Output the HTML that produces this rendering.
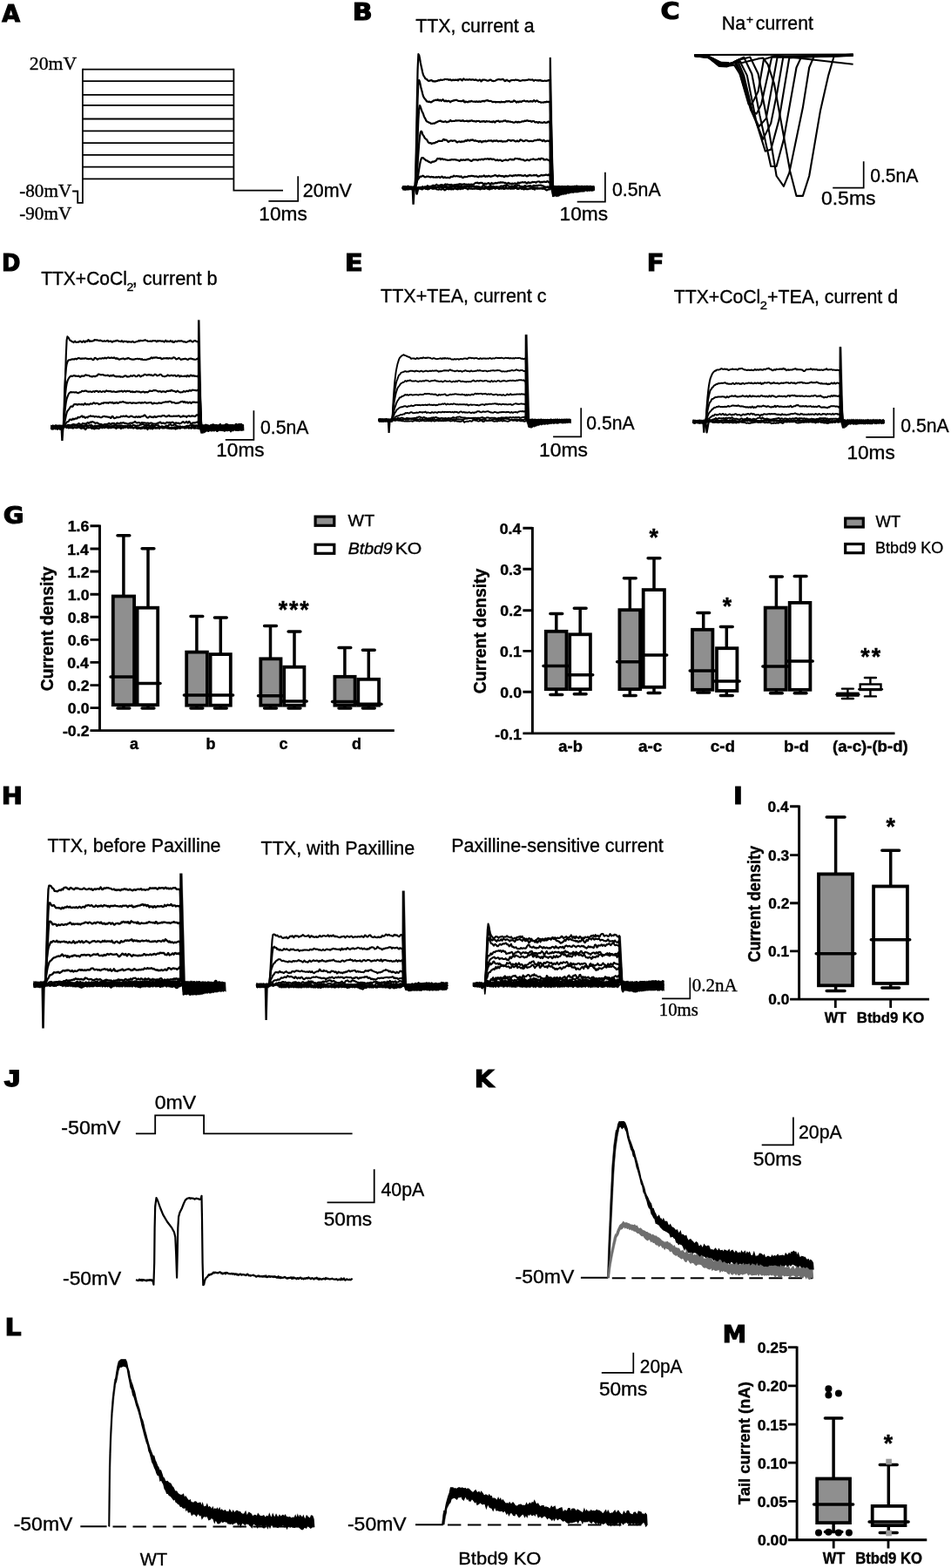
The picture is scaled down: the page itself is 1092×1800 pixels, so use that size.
<!DOCTYPE html>
<html><head><meta charset="utf-8"><title>Figure</title>
<style>
html,body{margin:0;padding:0;background:#fff}
svg{display:block}
.s{font-family:"Liberation Sans",sans-serif}
.r{font-family:"Liberation Serif",serif}
.h{font-family:"DejaVu Sans","Liberation Sans",sans-serif}
text{fill:#000}
</style></head><body>
<svg width="1092" height="1800" viewBox="0 0 1092 1800">
<rect width="1092" height="1800" fill="#fff"/>
<text stroke="#000" stroke-width="1.1" vector-effect="non-scaling-stroke" class="h" transform="translate(2.32 24.65) scale(0.2689 0.2589)" font-size="100" font-weight="bold">A</text>
<path d="M94.9 79.6H268.4M94.9 93.1H268.4M94.9 108.9H268.4M94.9 120.9H268.4M94.9 136.5H268.4M94.9 150.4H268.4M94.9 164.1H268.4M94.9 177.9H268.4M94.9 191.7H268.4M94.9 205.4H268.4" stroke="#000" stroke-width="1.8" fill="none"/>
<path d="M83.1 219.5L89.2 219.5L89.2 232.9L94.9 232.9L94.9 78.7" fill="none" stroke="#000" stroke-width="1.8" stroke-linejoin="miter" stroke-linecap="butt"/>
<path d="M268.4 78.8L268.4 218.6L325 218.6" fill="none" stroke="#000" stroke-width="1.8" stroke-linejoin="miter" stroke-linecap="butt"/>
<path d="M342.2 202.3L342.2 230.9L308.4 230.9" fill="none" stroke="#000" stroke-width="1.7" stroke-linejoin="miter" stroke-linecap="butt"/>
<text class="r" transform="translate(33.82 80.30) scale(1.0372 1)" font-size="21" stroke="#000" stroke-width="0.35">20mV</text>
<text class="r" transform="translate(22.21 226.30) scale(1.0080 1)" font-size="21" stroke="#000" stroke-width="0.35">-80mV</text>
<text class="r" transform="translate(22.21 252.20) scale(1.0080 1)" font-size="21" stroke="#000" stroke-width="0.35">-90mV</text>
<text class="s" transform="translate(347.72 226.20) scale(1.0003 1)" font-size="21.5" stroke="#000" stroke-width="0.35">20mV</text>
<text class="s" transform="translate(297.30 252.70) scale(1.0557 1)" font-size="21.5" stroke="#000" stroke-width="0.35">10ms</text>
<text stroke="#000" stroke-width="1.1" vector-effect="non-scaling-stroke" class="h" transform="translate(404.86 23.15) scale(0.3017 0.2589)" font-size="100" font-weight="bold">B</text>
<text class="s" transform="translate(477.32 36.90) scale(0.9920 1)" font-size="21.5" stroke="#000" stroke-width="0.35">TTX, current a</text>
<path d="M462.1 215.9L462.9 215.3L463.7 214.7L464.5 214.7L465.3 215L466.1 215.2L466.9 215.3L467.7 214.6L468.5 214.9L469.3 215.5L470.1 215.2L470.9 215.2L471.7 214.8L472.5 215L473.3 215.5L474.1 215.2L474.9 214.9L475.7 215.2L476.4 215L477.2 201L478 164.2L478.8 118.1L479.6 79.6L480.4 62.2L481.2 63.3L482 66.9L482.8 71.7L483.6 75.7L484.4 79.3L485.2 83L486 86L486.8 87.5L487.6 88.7L488.4 90.2L489.2 90.6L490 90.9L490.8 92L491.6 92.5L492.4 92.9L493.2 92.7L494 92.3L494.8 92.4L495.6 92.1L496.4 92.6L497.2 93.4L498 93.2L498.8 93.3L499.6 93.6L500.4 93.2L501.2 93.1L502 92.9L502.8 92.5L503.6 92L504.4 92.5L505.2 91.9L506 91.5L506.8 91.8L507.6 91.9L508.4 91.7L509.2 91.5L510 91.5L510.8 90.9L511.6 91L512.4 91L513.2 91.3L514 91.1L514.8 91.3L515.6 91.9L516.4 91.3L517.2 91.4L518 92.1L518.8 92.4L519.6 91.7L520.4 91.5L521.2 92.1L522 92L522.8 91.6L523.6 91.9L524.4 91.9L525.2 91.5L526 92.4L526.8 91.5L527.6 91L528.4 90.9L529.2 91.1L530 92L530.8 92.4L531.6 91.2L532.4 90.4L533.2 91.2L534 91.6L534.8 91.6L535.6 91.4L536.4 91.3L537.2 91.6L538 91.6L538.8 91.2L539.6 91.2L540.4 91.6L541.2 91.6L542 91.4L542.8 91.3L543.6 91.3L544.4 92L545.2 92L546 91.3L546.8 91.6L547.6 92.2L548.4 92.4L549.2 92.6L550 92.1L550.8 91.5L551.6 92L552.4 93.4L553.2 93L554 91.7L554.8 91.6L555.6 91.6L556.4 91.5L557.2 91.7L558 92.1L558.8 92.5L559.6 92.6L560.4 92.7L561.2 92.5L562 92L562.8 91.5L563.6 91.5L564.4 92.3L565.2 92.9L566 92.8L566.8 93.1L567.6 93L568.4 92.8L569.2 92.5L570 91.8L570.8 91.5L571.6 91.3L572.4 91.2L573.2 91.2L574 91.3L574.8 91.4L575.6 91.3L576.4 91.2L577.2 90.8L578 91.2L578.8 92.1L579.6 93.1L580.4 92.9L581.2 92L582 91.7L582.8 92.4L583.6 92.9L584.4 92.8L585.2 93.6L586 92.6L586.8 92.1L587.6 92.2L588.4 92L589.2 91.9L590 92L590.8 92.2L591.6 91.6L592.4 91.6L593.2 91.8L594 91.8L594.8 91.8L595.6 92.4L596.4 92.7L597.2 92.8L598 92.7L598.8 92.5L599.6 92.2L600.4 92.1L601.2 92.1L602 92.3L602.8 92.2L603.6 92.2L604.4 91.9L605.2 92L606 91.8L606.8 91.3L607.6 91.3L608.4 91.5L609.2 91.7L610 91.7L610.8 91.5L611.6 91.4L612.4 92.4L613.2 92.8L614 92L614.8 91.8L615.6 92L616.4 92.3L617.2 92.4L618 92L618.8 92.7L619.6 92.1L620.4 91.8L621.2 92.6L622 92.8L622.8 92.7L623.6 93L624.4 92.9L625.2 92.7L626 92.7L626.8 92.9L627.6 92.8L628.4 92.5L629.2 92.6L630 92L630.8 92L631.6 92.5L635.1 225.1L635.9 224.6L636.7 224.1L637.5 223.6L638.3 223.2L639.1 223.3L639.9 222.4L640.7 221.7L641.5 221.6L642.3 221L643.1 220.5L643.9 220.7L644.7 220.8L645.5 220.3L646.3 220.4L647.1 220.5L647.9 219.3L648.7 219.7L649.5 220.5L650.3 219.7L651.1 218.7L651.9 218.6L652.7 218.5L653.5 218.2L654.3 218.9L655.1 219L655.9 218.4L656.7 218.3L657.5 218.1L658.3 218.2L659.1 218.4L659.9 217.9L660.7 217.5L661.5 218.4L662.3 218.5L663.1 217.5L663.9 218L664.7 218L665.5 216.8L666.3 217L667.1 217L667.9 216.5L668.7 216.9L669.5 217L670.3 216.6L671.1 216.4L671.9 216.4L672.7 217L673.5 216.9L674.3 216.3L675.1 217.2L675.9 217.2L676.7 217L677.5 217.6L678.3 217L679.1 216L679.9 216.2L680.7 216.9L681.5 217.1L682.3 216.8" fill="none" stroke="#000" stroke-width="2.2" stroke-linejoin="round" stroke-linecap="butt"/>
<path d="M462.1 217.2L462.9 216.5L463.7 216.4L464.5 217.2L465.3 217.7L466.1 216.4L466.9 216.1L467.7 216.7L468.5 216.6L469.3 216.4L470.1 216L470.9 216.5L471.7 216.6L472.5 216.2L473.3 216.3L474.1 216.2L474.9 216.7L475.7 217.1L476.4 216.7L477.2 206.8L478 180.1L478.8 145.1L479.6 112.9L480.4 93.7L481.2 91.9L482 93.9L482.8 97.7L483.6 101.6L484.4 104.2L485.2 107.5L486 110.5L486.8 111.9L487.6 113.2L488.4 114.1L489.2 114.9L490 116.5L490.8 116.3L491.6 116.9L492.4 116.9L493.2 116.6L494 117.3L494.8 117.5L495.6 117L496.4 116.5L497.2 116L498 115.4L498.8 115.3L499.6 115.1L500.4 114.7L501.2 114.9L502 115.1L502.8 114.2L503.6 115.1L504.4 115.6L505.2 114.6L506 115.2L506.8 115.8L507.6 115L508.4 114.2L509.2 114.9L510 116L510.8 116.3L511.6 115.6L512.4 115.7L513.2 116.4L514 116.1L514.8 115.8L515.6 115.9L516.4 116.7L517.2 117.3L518 116.5L518.8 116L519.6 116L520.4 115.4L521.2 115.2L522 115.3L522.8 115L523.6 114.7L524.4 114.9L525.2 115.4L526 115.7L526.8 116L527.6 116L528.4 116.1L529.2 116.1L530 116L530.8 116.1L531.6 115.3L532.4 115.3L533.2 117.2L534 117.5L534.8 116.5L535.6 116.8L536.4 117.1L537.2 117.3L538 116.6L538.8 116.4L539.6 116.7L540.4 116.4L541.2 115.9L542 116.2L542.8 116.5L543.6 116.7L544.4 116.7L545.2 116.5L546 116.9L546.8 116.6L547.6 116.3L548.4 117L549.2 116.9L550 116.3L550.8 116.6L551.6 116.9L552.4 116.6L553.2 116.3L554 116.2L554.8 115.8L555.6 116.1L556.4 116.4L557.2 115.5L558 115.5L558.8 115.4L559.6 115L560.4 115.8L561.2 115.6L562 116.1L562.8 116L563.6 115.9L564.4 116.4L565.2 116.9L566 117.2L566.8 116.9L567.6 117L568.4 116.9L569.2 117.5L570 117L570.8 117L571.6 117.2L572.4 117.2L573.2 117L574 117.4L574.8 117.3L575.6 116.7L576.4 117.2L577.2 117L578 117.2L578.8 117.1L579.6 117.3L580.4 116.8L581.2 116.3L582 116.2L582.8 116.3L583.6 116.4L584.4 115.9L585.2 116.4L586 116.9L586.8 117.1L587.6 116.7L588.4 116.8L589.2 116.4L590 115.4L590.8 115.7L591.6 116.2L592.4 116.9L593.2 117.6L594 116.8L594.8 116.6L595.6 117.3L596.4 116.7L597.2 116.3L598 116.9L598.8 116.9L599.6 116L600.4 116L601.2 115.7L602 115.6L602.8 116L603.6 116.3L604.4 116.4L605.2 115.9L606 116.4L606.8 116.6L607.6 116.6L608.4 116.4L609.2 116.1L610 116.4L610.8 116.4L611.6 116.6L612.4 115.9L613.2 115.2L614 115.8L614.8 116.6L615.6 116.1L616.4 115.4L617.2 115.8L618 116.6L618.8 117L619.6 117L620.4 117.2L621.2 117.7L622 117.7L622.8 117.5L623.6 117.5L624.4 117.7L625.2 117L626 117.2L626.8 117.3L627.6 116.7L628.4 116.8L629.2 117.1L630 116.9L630.8 116.9L631.6 116.5L635.1 223.4L635.9 222.9L636.7 222.3L637.5 221.7L638.3 221.2L639.1 221.3L639.9 221L640.7 220.5L641.5 219.8L642.3 219.6L643.1 219.6L643.9 219.8L644.7 220.1L645.5 219.1L646.3 218.8L647.1 218.9L647.9 218.6L648.7 218.5L649.5 217.6L650.3 218L651.1 218.6L651.9 217.7L652.7 216.7L653.5 216.8L654.3 217L655.1 216.9L655.9 217.5L656.7 218L657.5 217.6L658.3 217.5L659.1 217.9L659.9 217.2L660.7 216.2L661.5 216.6L662.3 217.3L663.1 217.8L663.9 218L664.7 217.4L665.5 217.4L666.3 216.8L667.1 216.2L667.9 216.4L668.7 216.9L669.5 217.2L670.3 215.5L671.1 215.7L671.9 216.4L672.7 216.2L673.5 216.3L674.3 216.1L675.1 216.5L675.9 216.4L676.7 215.9L677.5 216.3L678.3 216.7L679.1 216.2L679.9 216.3L680.7 216.1L681.5 216.5L682.3 216.7" fill="none" stroke="#000" stroke-width="2.2" stroke-linejoin="round" stroke-linecap="butt"/>
<path d="M462.1 215.2L462.9 215.7L463.7 216.1L464.5 216.1L465.3 215.3L466.1 215.3L466.9 216L467.7 216.1L468.5 216L469.3 215.2L470.1 215.5L470.9 215.7L471.7 215.4L472.5 215.2L473.3 215.2L474.1 215.5L474.9 215.6L475.7 216.5L476.4 215.5L477.2 210.6L478 197L478.8 177.7L479.6 156.2L480.4 137.2L481.2 124.6L482 121.1L482.8 122.7L483.6 125.1L484.4 127.4L485.2 129L486 130.8L486.8 133.4L487.6 135.1L488.4 136.3L489.2 138.2L490 139.2L490.8 139.7L491.6 140L492.4 140.7L493.2 140.8L494 141.2L494.8 142L495.6 141.9L496.4 141.9L497.2 141.7L498 141.6L498.8 141.7L499.6 141.2L500.4 140.6L501.2 140.4L502 140L502.8 139.5L503.6 139.2L504.4 138.9L505.2 138.9L506 138.6L506.8 139.3L507.6 139.7L508.4 139.7L509.2 139.9L510 139.8L510.8 139.5L511.6 139.2L512.4 140.1L513.2 140.3L514 140L514.8 139.6L515.6 139.6L516.4 139.1L517.2 138L518 138.7L518.8 139.2L519.6 139L520.4 139L521.2 138.8L522 139L522.8 138.7L523.6 138.1L524.4 138.6L525.2 138.5L526 138.3L526.8 138.5L527.6 138.4L528.4 138.5L529.2 139L530 138.6L530.8 138.8L531.6 138.2L532.4 138.8L533.2 139.2L534 139L534.8 139L535.6 138.8L536.4 138.7L537.2 139.3L538 139.3L538.8 138.6L539.6 139.1L540.4 138.7L541.2 138.4L542 138.4L542.8 139L543.6 139.1L544.4 138.9L545.2 139.3L546 139.4L546.8 139.6L547.6 138.9L548.4 139L549.2 139L550 138.8L550.8 139.6L551.6 139.9L552.4 139.5L553.2 139.3L554 139.6L554.8 139.2L555.6 139.1L556.4 139.4L557.2 140L558 139.5L558.8 139.1L559.6 139.5L560.4 139.5L561.2 139.4L562 139.3L562.8 140L563.6 139.9L564.4 139.7L565.2 140.3L566 139.5L566.8 139.2L567.6 140.2L568.4 140.6L569.2 139.6L570 138.9L570.8 139L571.6 138.8L572.4 138.7L573.2 139.6L574 139.9L574.8 139.4L575.6 139.3L576.4 139.5L577.2 139.5L578 138.7L578.8 138.7L579.6 138.6L580.4 138.4L581.2 139.1L582 139.7L582.8 139.2L583.6 139.2L584.4 139.6L585.2 139.6L586 139.6L586.8 140L587.6 140L588.4 140.1L589.2 140.6L590 140.5L590.8 140.6L591.6 140.2L592.4 139.6L593.2 140.2L594 140.6L594.8 139.9L595.6 139.9L596.4 140.5L597.2 140.3L598 140.1L598.8 139.7L599.6 139.3L600.4 139.4L601.2 139.4L602 139L602.8 138.6L603.6 139L604.4 138.8L605.2 138.2L606 138.6L606.8 139L607.6 138.9L608.4 139L609.2 138.8L610 139.6L610.8 139.8L611.6 139L612.4 139L613.2 139.1L614 140.2L614.8 140.4L615.6 140.2L616.4 140.1L617.2 140.5L618 141L618.8 140L619.6 140.1L620.4 140.6L621.2 140.5L622 140.8L622.8 140.9L623.6 140.7L624.4 140.4L625.2 140.1L626 140.7L626.8 141L627.6 140.6L628.4 140.6L629.2 139.8L630 139.5L630.8 140.5L631.6 140.3L635.1 222.6L635.9 221.7L636.7 220.8L637.5 220.9L638.3 221L639.1 221.1L639.9 221.1L640.7 220.4L641.5 219.9L642.3 219.6L643.1 219.2L643.9 218.9L644.7 219.2L645.5 219L646.3 218.5L647.1 218.5L647.9 218.4L648.7 218.1L649.5 217.4L650.3 217.5L651.1 218.1L651.9 217.9L652.7 218L653.5 217.2L654.3 217.9L655.1 218.5L655.9 217.7L656.7 216.9L657.5 217L658.3 217.7L659.1 217.3L659.9 217.2L660.7 217.7L661.5 217.5L662.3 216.7L663.1 217.2L663.9 217.6L664.7 217L665.5 217.7L666.3 217.8L667.1 216.9L667.9 216.9L668.7 216.8L669.5 216.8L670.3 216.9L671.1 216.6L671.9 216.4L672.7 216.7L673.5 216.9L674.3 217L675.1 217.1L675.9 217L676.7 216.9L677.5 216.7L678.3 216.4L679.1 216.9L679.9 216.2L680.7 216L681.5 217.8L682.3 217" fill="none" stroke="#000" stroke-width="2.2" stroke-linejoin="round" stroke-linecap="butt"/>
<path d="M462.1 216.9L462.9 216L463.7 215L464.5 214.8L465.3 215.5L466.1 215.9L466.9 215.6L467.7 215.9L468.5 216L469.3 216.1L470.1 216L470.9 215.2L471.7 215.7L472.5 215.3L473.3 215.2L474.1 216L474.9 215.5L475.7 215.5L476.4 215.7L477.2 213.6L478 207.6L478.8 198.5L479.6 187.4L480.4 175.9L481.2 165L482 156.7L482.8 151.8L483.6 150.6L484.4 151.4L485.2 154L486 155.3L486.8 156.4L487.6 158.2L488.4 159.1L489.2 159.7L490 160.2L490.8 161.6L491.6 163.2L492.4 163.7L493.2 164.3L494 164.1L494.8 164.3L495.6 165.1L496.4 164.5L497.2 164.4L498 164.4L498.8 164.1L499.6 164.1L500.4 163.2L501.2 163.2L502 163.1L502.8 162.2L503.6 161.9L504.4 161.7L505.2 161.9L506 161.9L506.8 162L507.6 162L508.4 161L509.2 159.9L510 160.1L510.8 160.8L511.6 160.6L512.4 160.7L513.2 161.2L514 162.1L514.8 162.9L515.6 162.5L516.4 161.9L517.2 161.5L518 161.4L518.8 161.5L519.6 161.9L520.4 161.5L521.2 161.5L522 161.4L522.8 161.5L523.6 162.2L524.4 163.3L525.2 163.5L526 162.7L526.8 162.5L527.6 162.3L528.4 163L529.2 163.1L530 162.3L530.8 162.7L531.6 162.6L532.4 162.4L533.2 162.3L534 161.6L534.8 161.2L535.6 161.8L536.4 161.4L537.2 160.5L538 161.2L538.8 161.4L539.6 161.6L540.4 160.6L541.2 160.7L542 161L542.8 160.3L543.6 161L544.4 161.7L545.2 161.7L546 161.2L546.8 161.7L547.6 162L548.4 161.8L549.2 162.5L550 162.9L550.8 161.9L551.6 161.8L552.4 162.8L553.2 163.4L554 162.6L554.8 162L555.6 162.4L556.4 162.1L557.2 161.6L558 162.4L558.8 162.4L559.6 161.9L560.4 161.8L561.2 161.3L562 161.5L562.8 161.6L563.6 161.3L564.4 161.3L565.2 162.3L566 162.4L566.8 161.6L567.6 161.4L568.4 161.8L569.2 161.7L570 161.2L570.8 161.5L571.6 162.1L572.4 162.4L573.2 161.8L574 161.8L574.8 162.2L575.6 161.7L576.4 162.2L577.2 162.7L578 162.3L578.8 162.4L579.6 162.3L580.4 162.5L581.2 162.2L582 162.2L582.8 161.4L583.6 160.7L584.4 161L585.2 160.9L586 161.5L586.8 161.8L587.6 161.3L588.4 161L589.2 161.2L590 161.2L590.8 161.8L591.6 162.1L592.4 162.4L593.2 162L594 161.5L594.8 162.3L595.6 162.3L596.4 161.9L597.2 160.5L598 160.3L598.8 161L599.6 161.2L600.4 161.9L601.2 162.2L602 162L602.8 161.5L603.6 161.1L604.4 161.1L605.2 161.3L606 161.6L606.8 162.2L607.6 162.1L608.4 162.2L609.2 161.8L610 161.8L610.8 162.2L611.6 162.2L612.4 162L613.2 161.3L614 161.1L614.8 161.1L615.6 161.1L616.4 160.8L617.2 160.4L618 160.6L618.8 160.8L619.6 160.2L620.4 160.5L621.2 160.9L622 161.3L622.8 162L623.6 161.5L624.4 160.7L625.2 161.7L626 162.4L626.8 162.1L627.6 161.8L628.4 161.7L629.2 161.7L630 161.9L630.8 161.6L631.6 161.9L635.1 218.8L635.9 218.8L636.7 218.4L637.5 217.7L638.3 218.6L639.1 218.8L639.9 218.2L640.7 218L641.5 218.2L642.3 218L643.1 216.8L643.9 216.8L644.7 216.3L645.5 215.3L646.3 216.9L647.1 217.9L647.9 217.1L648.7 216.6L649.5 216.7L650.3 217L651.1 216.6L651.9 215.9L652.7 215.9L653.5 216.2L654.3 216.4L655.1 216.2L655.9 216.3L656.7 216.1L657.5 215.7L658.3 215.8L659.1 215.4L659.9 216.1L660.7 216.3L661.5 215.4L662.3 215.5L663.1 215.5L663.9 215.7L664.7 216.3L665.5 216.4L666.3 215.7L667.1 215.3L667.9 216.3L668.7 216.3L669.5 216L670.3 216.6L671.1 215.7L671.9 215.5L672.7 216.3L673.5 216.2L674.3 216.5L675.1 216.3L675.9 215.7L676.7 215.8L677.5 215.6L678.3 215.5L679.1 214.9L679.9 215.4L680.7 215.9L681.5 215.5L682.3 215.8" fill="none" stroke="#000" stroke-width="2.2" stroke-linejoin="round" stroke-linecap="butt"/>
<path d="M462.1 214.9L462.9 215.9L463.7 215.7L464.5 214.9L465.3 216.1L466.1 216.9L466.9 216.7L467.7 216.2L468.5 215.8L469.3 216L470.1 216.1L470.9 215.8L471.7 215.1L472.5 214.9L473.3 214.9L474.1 215.7L474.9 216.1L475.7 215.5L476.4 215.6L477.2 214.9L478 212.6L478.8 209.1L479.6 204.7L480.4 199.3L481.2 194.1L482 189.2L482.8 185.2L483.6 182.6L484.4 181L485.2 181L486 181.3L486.8 182.2L487.6 182.9L488.4 183.2L489.2 184.2L490 184.3L490.8 184.6L491.6 185.3L492.4 185.8L493.2 185.9L494 186.5L494.8 186.8L495.6 186.4L496.4 185.7L497.2 185.7L498 185.6L498.8 185.4L499.6 184.8L500.4 184.6L501.2 183.8L502 182.3L502.8 181.9L503.6 182.4L504.4 182.1L505.2 181.9L506 183L506.8 182.5L507.6 182.2L508.4 182.5L509.2 183.2L510 182.8L510.8 182.8L511.6 183.4L512.4 183.5L513.2 183.5L514 184L514.8 184L515.6 183.7L516.4 183.5L517.2 183.6L518 183.4L518.8 183L519.6 183.2L520.4 183.3L521.2 183.2L522 183L522.8 183.4L523.6 183.4L524.4 183.7L525.2 183.8L526 184L526.8 184.5L527.6 184.8L528.4 184.1L529.2 183.3L530 183.7L530.8 183.8L531.6 183.6L532.4 183.4L533.2 183.8L534 184L534.8 183.3L535.6 183.2L536.4 183.5L537.2 182.9L538 183.1L538.8 183.8L539.6 184L540.4 184.6L541.2 185L542 184.5L542.8 183.9L543.6 183.2L544.4 183.5L545.2 183.3L546 183.3L546.8 183.3L547.6 183.5L548.4 184.1L549.2 183.7L550 183L550.8 183L551.6 183.5L552.4 183.1L553.2 182.6L554 182.8L554.8 183.5L555.6 182.7L556.4 182.6L557.2 182.4L558 182.5L558.8 182.6L559.6 182.1L560.4 182.1L561.2 182.8L562 182.9L562.8 182.2L563.6 182.3L564.4 182.6L565.2 183.2L566 182.6L566.8 182.6L567.6 183.1L568.4 183.5L569.2 184.2L570 184L570.8 183.3L571.6 183.6L572.4 184.3L573.2 184L574 183.6L574.8 183.7L575.6 184.4L576.4 184.9L577.2 184.7L578 184.2L578.8 184L579.6 183.8L580.4 183.4L581.2 183.5L582 183.9L582.8 184.2L583.6 183.9L584.4 183.4L585.2 182.8L586 182.7L586.8 182.9L587.6 183.5L588.4 183.1L589.2 183.4L590 183.4L590.8 182.6L591.6 181.9L592.4 182L593.2 182.2L594 182.1L594.8 182.3L595.6 182.7L596.4 182.4L597.2 182.4L598 183.1L598.8 183.2L599.6 183.4L600.4 183.3L601.2 183.4L602 184.2L602.8 184.6L603.6 184.2L604.4 184L605.2 183.2L606 183.5L606.8 183.9L607.6 184.3L608.4 183.8L609.2 183.1L610 183L610.8 182.9L611.6 182.7L612.4 182.4L613.2 182.8L614 183.1L614.8 183.4L615.6 183.2L616.4 183L617.2 183.2L618 182.5L618.8 182.1L619.6 182.8L620.4 183.1L621.2 181.9L622 181.7L622.8 182L623.6 182L624.4 183.3L625.2 183.2L626 183.3L626.8 183.5L627.6 182.7L628.4 183L629.2 183.7L630 183.8L630.8 184.4L631.6 184.2L635.1 218.8L635.9 218.6L636.7 217.9L637.5 217.7L638.3 218L639.1 217.4L639.9 216.9L640.7 217.7L641.5 217.3L642.3 216.8L643.1 217.4L643.9 217.8L644.7 218L645.5 217.2L646.3 217.3L647.1 217.4L647.9 217.6L648.7 218.3L649.5 217.5L650.3 217.2L651.1 217.2L651.9 216.6L652.7 216.9L653.5 217.3L654.3 217.2L655.1 217.4L655.9 217.6L656.7 217.5L657.5 217L658.3 216.6L659.1 216.8L659.9 216.7L660.7 216.4L661.5 217.1L662.3 217.3L663.1 217.3L663.9 216.9L664.7 216.2L665.5 216.3L666.3 216.1L667.1 216.2L667.9 216.3L668.7 216.2L669.5 216.9L670.3 217.2L671.1 216.3L671.9 215.9L672.7 216.4L673.5 216.8L674.3 216.3L675.1 216.4L675.9 216.1L676.7 215.6L677.5 216.7L678.3 216L679.1 215.3L679.9 216.6L680.7 216.6L681.5 215.9L682.3 215.7" fill="none" stroke="#000" stroke-width="2.2" stroke-linejoin="round" stroke-linecap="butt"/>
<path d="M462.1 214.5L462.9 214.7L463.7 214.8L464.5 214.2L465.3 214L466.1 214.5L466.9 214.5L467.7 214.3L468.5 213.6L469.3 214.2L470.1 215.2L470.9 215.8L471.7 215.8L472.5 215.5L473.3 215.5L474.1 214.8L474.9 214.8L475.7 214.5L476.4 214.7L477.2 213.1L478 210L478.8 207.5L479.6 206L480.4 205.3L481.2 204.5L482 203L482.8 202.5L483.6 202.8L484.4 202.5L485.2 201.7L486 201.9L486.8 202.5L487.6 203.2L488.4 203.3L489.2 203L490 202.6L490.8 202.7L491.6 202.7L492.4 202.6L493.2 203.1L494 203.5L494.8 203.2L495.6 202.9L496.4 203.3L497.2 203L498 203.6L498.8 203.5L499.6 203.5L500.4 203.7L501.2 203.1L502 203.6L502.8 203.3L503.6 202.9L504.4 203.3L505.2 204L506 203.6L506.8 202.8L507.6 202.6L508.4 203.3L509.2 204.2L510 203.6L510.8 203.3L511.6 203.8L512.4 204.1L513.2 203.9L514 204L514.8 203.7L515.6 204L516.4 204.3L517.2 203.2L518 202.9L518.8 202.9L519.6 203L520.4 202.4L521.2 201.7L522 202.2L522.8 202.5L523.6 202.3L524.4 202.1L525.2 202.3L526 202.3L526.8 202.3L527.6 202.8L528.4 202.9L529.2 202.3L530 202.8L530.8 203.8L531.6 203.9L532.4 203.7L533.2 202.9L534 202.8L534.8 203.2L535.6 203L536.4 203L537.2 202.5L538 202.2L538.8 202.2L539.6 202.3L540.4 202.1L541.2 201.8L542 201.9L542.8 202.1L543.6 202.2L544.4 202.3L545.2 202.7L546 202.5L546.8 202.3L547.6 202.5L548.4 203.1L549.2 203.3L550 202.8L550.8 202.2L551.6 202.5L552.4 202.8L553.2 202.3L554 202.5L554.8 202.4L555.6 201.4L556.4 201.8L557.2 202.9L558 202.7L558.8 202.1L559.6 202.7L560.4 202.3L561.2 201.8L562 202.1L562.8 202.6L563.6 202.8L564.4 202.4L565.2 202.3L566 202L566.8 201.8L567.6 201.4L568.4 201L569.2 201.3L570 201.8L570.8 202.3L571.6 202.6L572.4 201.5L573.2 201.4L574 201.9L574.8 201.9L575.6 202.3L576.4 202.2L577.2 202.1L578 202.4L578.8 203.2L579.6 202.7L580.4 201.8L581.2 201.9L582 202.5L582.8 202.4L583.6 202.3L584.4 202L585.2 201.3L586 201.5L586.8 201.6L587.6 202L588.4 202.3L589.2 201.4L590 201.5L590.8 201.7L591.6 201L592.4 201.1L593.2 201.7L594 201.4L594.8 201L595.6 200.9L596.4 201.5L597.2 201.2L598 201.1L598.8 201.7L599.6 201.5L600.4 201.8L601.2 201.8L602 201.4L602.8 201L603.6 201.6L604.4 202.2L605.2 202.4L606 201.6L606.8 201.8L607.6 201.2L608.4 200.8L609.2 201.3L610 201.6L610.8 201.5L611.6 201.5L612.4 201.4L613.2 200.8L614 201.5L614.8 201.2L615.6 200.8L616.4 201.3L617.2 202.2L618 202.6L618.8 202.2L619.6 202.2L620.4 201.6L621.2 201.2L622 200.8L622.8 201.5L623.6 201.5L624.4 201.1L625.2 201.1L626 200.9L626.8 200.6L627.6 200.5L628.4 201.2L629.2 201.2L630 200.4L630.8 200.9L631.6 201.6L635.1 215.9L635.9 216.3L636.7 216.4L637.5 216.4L638.3 216L639.1 215.8L639.9 215.7L640.7 214.9L641.5 215L642.3 215.5L643.1 215.6L643.9 215L644.7 215.7L645.5 215.8L646.3 215.3L647.1 215.7L647.9 215.6L648.7 215.6L649.5 215.9L650.3 215.8L651.1 215.9L651.9 215.7L652.7 215L653.5 215.2L654.3 215.2L655.1 215.3L655.9 215.6L656.7 215.3L657.5 215.5L658.3 215.8L659.1 214.6L659.9 214.3L660.7 215.4L661.5 215.6L662.3 215.4L663.1 214.8L663.9 215L664.7 215.7L665.5 214.9L666.3 214.1L667.1 214.6L667.9 214.2L668.7 214.2L669.5 215.4L670.3 215.3L671.1 215L671.9 215.1L672.7 215.2L673.5 215.7L674.3 216L675.1 215.8L675.9 215.7L676.7 215.8L677.5 215.3L678.3 215.7L679.1 215.6L679.9 215.2L680.7 216.2L681.5 216.5L682.3 215.3" fill="none" stroke="#000" stroke-width="2.2" stroke-linejoin="round" stroke-linecap="butt"/>
<path d="M462.1 215.8L462.9 215.8L463.7 215.9L464.5 216.5L465.3 216.7L466.1 217.3L466.9 216.5L467.7 215.3L468.5 215.5L469.3 215.7L470.1 216.4L470.9 216.5L471.7 216L472.5 215.7L473.3 215.7L474.1 215.9L474.9 216.1L475.7 215.7L476.4 216.3L477.2 216.4L478 216.4L478.8 216.7L479.6 216.7L480.4 215.8L481.2 215.8L482 216.1L482.8 216.4L483.6 215.8L484.4 216.2L485.2 216.5L486 216.2L486.8 215.9L487.6 215.9L488.4 215.3L489.2 215L490 215.4L490.8 214.9L491.6 215.1L492.4 214.9L493.2 214.5L494 214L494.8 213.8L495.6 213.5L496.4 213.3L497.2 212.8L498 212.8L498.8 213.2L499.6 213.2L500.4 212.5L501.2 211.7L502 212.5L502.8 212.7L503.6 213.1L504.4 212.9L505.2 212.7L506 212.4L506.8 212.1L507.6 212.2L508.4 212.7L509.2 212.8L510 212.5L510.8 211.8L511.6 211.4L512.4 211.9L513.2 211.7L514 211.7L514.8 212.3L515.6 212.1L516.4 212.1L517.2 212.6L518 211.9L518.8 212.1L519.6 213.2L520.4 212.5L521.2 212.4L522 212.3L522.8 212.1L523.6 212.3L524.4 211.9L525.2 211.8L526 211.8L526.8 211.5L527.6 211.2L528.4 211.4L529.2 211.4L530 212L530.8 211.7L531.6 211.5L532.4 211.7L533.2 211.2L534 211.5L534.8 211.7L535.6 211.7L536.4 211.9L537.2 211.7L538 211.5L538.8 211.7L539.6 212.1L540.4 211.8L541.2 211.5L542 212L542.8 211.8L543.6 211.6L544.4 211.3L545.2 210.5L546 209.8L546.8 209.8L547.6 209.8L548.4 209.6L549.2 210.5L550 210.6L550.8 210L551.6 209.8L552.4 209.8L553.2 209.9L554 210.1L554.8 211.1L555.6 211.7L556.4 210.6L557.2 210.7L558 211.5L558.8 211L559.6 210.5L560.4 210.4L561.2 210L562 210.8L562.8 212L563.6 211.4L564.4 210L565.2 210.5L566 211.3L566.8 210.7L567.6 210.7L568.4 210.2L569.2 209.9L570 210.4L570.8 210.3L571.6 209.8L572.4 209.6L573.2 209.6L574 209.8L574.8 209.2L575.6 209.4L576.4 209.6L577.2 209.3L578 209.5L578.8 209.8L579.6 210.1L580.4 209.9L581.2 210.6L582 211.5L582.8 210.7L583.6 209.8L584.4 210.1L585.2 210.9L586 210.7L586.8 210.9L587.6 210.9L588.4 210.5L589.2 210.9L590 210.7L590.8 210.5L591.6 210.4L592.4 211.2L593.2 211.2L594 210.7L594.8 209.5L595.6 210.1L596.4 210.3L597.2 209.6L598 209.6L598.8 209.5L599.6 209.2L600.4 209.2L601.2 209.5L602 209.4L602.8 209.1L603.6 209.3L604.4 210.4L605.2 210.6L606 209.6L606.8 209.2L607.6 209.9L608.4 209.9L609.2 210L610 209.5L610.8 209.2L611.6 208.9L612.4 209.1L613.2 209L614 208.9L614.8 209.4L615.6 209.7L616.4 208.8L617.2 208.5L618 208.5L618.8 208.3L619.6 208.5L620.4 209.5L621.2 209.2L622 208.8L622.8 209.2L623.6 208.8L624.4 208.6L625.2 208.6L626 209L626.8 208.9L627.6 208.8L628.4 207.9L629.2 208.4L630 209.1L630.8 209.3L631.6 209L635.1 214.7L635.9 214.1L636.7 213.9L637.5 214.4L638.3 214.2L639.1 214.5L639.9 214.4L640.7 214.1L641.5 214.7L642.3 215.1L643.1 215.1L643.9 215.2L644.7 214.9L645.5 214.2L646.3 214.8L647.1 214.7L647.9 214.3L648.7 214L649.5 214.4L650.3 215.3L651.1 214.6L651.9 213.7L652.7 214.1L653.5 214.8L654.3 215.1L655.1 215.7L655.9 215.3L656.7 214.6L657.5 214.4L658.3 214.4L659.1 214L659.9 213.8L660.7 214.2L661.5 214L662.3 213.5L663.1 214.5L663.9 214.8L664.7 214.6L665.5 215.2L666.3 214.9L667.1 214.9L667.9 214.8L668.7 214.2L669.5 214.2L670.3 214.5L671.1 214.6L671.9 214.6L672.7 214.4L673.5 214.8L674.3 214.9L675.1 214.3L675.9 214.7L676.7 214.5L677.5 214.2L678.3 215.1L679.1 215.1L679.9 215.1L680.7 215L681.5 214.3L682.3 214.3" fill="none" stroke="#000" stroke-width="2.2" stroke-linejoin="round" stroke-linecap="butt"/>
<path d="M462.1 216.2L462.9 215.8L463.7 215.4L464.5 216.6L465.3 216.8L466.1 216.2L466.9 215.8L467.7 215.1L468.5 215.9L469.3 215.8L470.1 215L470.9 215.4L471.7 215.5L472.5 215.4L473.3 215.7L474.1 216.1L474.9 216.1L475.7 215.9L476.4 215.7L477.2 215.7L478 215.5L478.8 215.8L479.6 215.9L480.4 215.2L481.2 215.1L482 215.6L482.8 215.5L483.6 215L484.4 214.7L485.2 214.2L486 215.1L486.8 215L487.6 214.3L488.4 214.4L489.2 214.5L490 214.3L490.8 213.2L491.6 213.5L492.4 214.2L493.2 214.8L494 215.1L494.8 214.6L495.6 214.5L496.4 214.9L497.2 214.4L498 214.5L498.8 214.8L499.6 214.7L500.4 214.8L501.2 214.9L502 214.7L502.8 215L503.6 214.8L504.4 214.7L505.2 214.7L506 213.8L506.8 213.9L507.6 214.1L508.4 214.3L509.2 214.6L510 214.8L510.8 214.3L511.6 213.4L512.4 213.7L513.2 214.4L514 214.7L514.8 215L515.6 214.5L516.4 214.3L517.2 215L518 214.4L518.8 213.7L519.6 214L520.4 214.3L521.2 214.1L522 213.6L522.8 213L523.6 213.2L524.4 213.5L525.2 213.2L526 212.7L526.8 213L527.6 213.2L528.4 213.6L529.2 214.2L530 214L530.8 214.1L531.6 214.7L532.4 214.7L533.2 213.7L534 213.4L534.8 214.1L535.6 214L536.4 213.4L537.2 213.9L538 213.8L538.8 213.1L539.6 213.2L540.4 214.2L541.2 214.3L542 213.5L542.8 213.5L543.6 213.8L544.4 213.7L545.2 213.8L546 214.9L546.8 214.1L547.6 213.9L548.4 214.5L549.2 214.1L550 214.4L550.8 214.6L551.6 214.8L552.4 215.1L553.2 214.9L554 213.7L554.8 213.1L555.6 212.9L556.4 213.6L557.2 214L558 214.2L558.8 214.5L559.6 214.5L560.4 214.5L561.2 214.5L562 214L562.8 213.6L563.6 213.6L564.4 213.7L565.2 214.5L566 214.2L566.8 214L567.6 214.9L568.4 215.2L569.2 214.3L570 214.3L570.8 214.3L571.6 214.9L572.4 215L573.2 215L574 214.6L574.8 213.6L575.6 213.7L576.4 213.6L577.2 214L578 213.7L578.8 213.1L579.6 212.9L580.4 212.9L581.2 213.2L582 213L582.8 213L583.6 213.2L584.4 214.1L585.2 213.9L586 213.9L586.8 213.9L587.6 213.3L588.4 213.5L589.2 214.1L590 213.8L590.8 213.1L591.6 213.1L592.4 213.4L593.2 213.7L594 213L594.8 212.7L595.6 212.7L596.4 213.3L597.2 213.9L598 213.9L598.8 214.6L599.6 214.2L600.4 214.3L601.2 214.2L602 213.7L602.8 213.2L603.6 213.3L604.4 214.3L605.2 214.2L606 213.8L606.8 213.4L607.6 213.5L608.4 213.2L609.2 213.2L610 213.9L610.8 214.5L611.6 213.8L612.4 213.1L613.2 212.9L614 213.5L614.8 213.4L615.6 212.8L616.4 213.1L617.2 213.3L618 212.8L618.8 212.7L619.6 212.8L620.4 212.5L621.2 212.5L622 213L622.8 213.2L623.6 213.4L624.4 214L625.2 214.3L626 215L626.8 215.3L627.6 214.8L628.4 214.4L629.2 214.9L630 215.7L630.8 215.1L631.6 214.9L635.1 215.9L635.9 215.4L636.7 215.1L637.5 216.3L638.3 216.5L639.1 216.5L639.9 216.4L640.7 216.2L641.5 216.2L642.3 215.8L643.1 215.9L643.9 216.4L644.7 215.6L645.5 214.9L646.3 214.9L647.1 214.8L647.9 215.1L648.7 215.3L649.5 215.6L650.3 216.1L651.1 216.7L651.9 216L652.7 215.4L653.5 215.9L654.3 215.9L655.1 215.5L655.9 215.1L656.7 215.5L657.5 216.2L658.3 215.6L659.1 215L659.9 215L660.7 215.6L661.5 215.8L662.3 215.2L663.1 215.3L663.9 216L664.7 216.6L665.5 216.8L666.3 216.4L667.1 216L667.9 216.1L668.7 216.2L669.5 216.3L670.3 215.7L671.1 215.3L671.9 215.5L672.7 216L673.5 215.9L674.3 215.4L675.1 216L675.9 216.8L676.7 216.1L677.5 215.5L678.3 216.2L679.1 216.1L679.9 216.1L680.7 215.7L681.5 215.3L682.3 216" fill="none" stroke="#000" stroke-width="2.2" stroke-linejoin="round" stroke-linecap="butt"/>
<path d="M462.1 214.7L462.9 215.5L463.7 216.1L464.5 216.2L465.3 216.1L466.1 215.6L466.9 215.2L467.7 215.1L468.5 215.5L469.3 215.4L470.1 215.1L470.9 215.6L471.7 216L472.5 215.7L473.3 215.4L474.1 215.3L474.9 215.5L475.7 215.7L476.4 215.5L477.2 215.4L478 215.4L478.8 215.8L479.6 215.7L480.4 215.6L481.2 216.4L482 216L482.8 214.9L483.6 215.3L484.4 215.4L485.2 214.9L486 215.5L486.8 215.8L487.6 215.4L488.4 215.1L489.2 215.5L490 215.8L490.8 216.2L491.6 215.6L492.4 215.3L493.2 215.5L494 215.9L494.8 215.9L495.6 215.8L496.4 216.2L497.2 216.2L498 215.5L498.8 215.5L499.6 215.3L500.4 215.4L501.2 215L502 214.8L502.8 214.8L503.6 214.2L504.4 214.7L505.2 214.5L506 214.4L506.8 215L507.6 216L508.4 215.8L509.2 215.1L510 214.6L510.8 214.6L511.6 215.1L512.4 215.6L513.2 215.6L514 215.7L514.8 215.7L515.6 215L516.4 214.3L517.2 214.2L518 214.6L518.8 214.9L519.6 214.7L520.4 214.2L521.2 214.4L522 215.3L522.8 215.3L523.6 214.2L524.4 214.2L525.2 214.9L526 215.2L526.8 215.2L527.6 215.1L528.4 214.9L529.2 214.9L530 215.3L530.8 215L531.6 214.8L532.4 214.9L533.2 215.3L534 215.2L534.8 215L535.6 214.3L536.4 213.7L537.2 214.4L538 214.8L538.8 214.1L539.6 213.7L540.4 214.1L541.2 214.2L542 214.3L542.8 214.1L543.6 213.9L544.4 214.6L545.2 214.7L546 214.4L546.8 215.2L547.6 215.7L548.4 215.9L549.2 216.1L550 215.6L550.8 216.3L551.6 216.4L552.4 215.4L553.2 215.7L554 215.8L554.8 215.4L555.6 215.8L556.4 215.5L557.2 215.2L558 215.3L558.8 215.5L559.6 215.3L560.4 215L561.2 214.7L562 215.6L562.8 215.6L563.6 215.1L564.4 215.5L565.2 215.5L566 215.1L566.8 214.4L567.6 214.8L568.4 215.5L569.2 216.4L570 215.8L570.8 215.2L571.6 214.8L572.4 214.6L573.2 215.1L574 215.2L574.8 215.6L575.6 216.3L576.4 216.1L577.2 215.3L578 215L578.8 215.8L579.6 216L580.4 215L581.2 214.7L582 215.9L582.8 216.4L583.6 216.3L584.4 216L585.2 216.3L586 215.2L586.8 214.2L587.6 215.4L588.4 216.4L589.2 215.7L590 215.5L590.8 214.5L591.6 214.4L592.4 215.1L593.2 214.9L594 215.4L594.8 215.8L595.6 215.8L596.4 215.5L597.2 215.7L598 215.2L598.8 215.3L599.6 215.7L600.4 215.6L601.2 214.8L602 215.4L602.8 215.7L603.6 215L604.4 214.1L605.2 214.1L606 214.2L606.8 214.2L607.6 214.5L608.4 214.5L609.2 214.8L610 214.6L610.8 214.8L611.6 215.2L612.4 215.3L613.2 215.2L614 215.8L614.8 215.8L615.6 215.6L616.4 216L617.2 215.5L618 216.1L618.8 216.3L619.6 216.2L620.4 216.5L621.2 215.8L622 215.7L622.8 216.3L623.6 215.8L624.4 215.2L625.2 214.7L626 214.6L626.8 214.9L627.6 215.1L628.4 214.9L629.2 214.7L630 214.6L630.8 214.5L631.6 214.4L635.1 215.1L635.9 214.9L636.7 215.4L637.5 215.5L638.3 215.7L639.1 215.7L639.9 215.2L640.7 215.8L641.5 216.2L642.3 215.6L643.1 215.4L643.9 215.3L644.7 215.3L645.5 215.1L646.3 215.7L647.1 216.4L647.9 215L648.7 214.3L649.5 215L650.3 215.1L651.1 214.4L651.9 214.9L652.7 215.2L653.5 215.2L654.3 215.8L655.1 216.1L655.9 215.6L656.7 215.7L657.5 215.6L658.3 215.5L659.1 216.3L659.9 215.9L660.7 215.1L661.5 215.6L662.3 216.2L663.1 215.1L663.9 213.9L664.7 214.2L665.5 214.8L666.3 215.3L667.1 215.7L667.9 215.5L668.7 215.3L669.5 215.5L670.3 215.5L671.1 214.6L671.9 214L672.7 214.7L673.5 215.3L674.3 214.6L675.1 214.5L675.9 214.9L676.7 215.5L677.5 214.9L678.3 214.5L679.1 215.5L679.9 215.8L680.7 215.8L681.5 216.4L682.3 215.8" fill="none" stroke="#000" stroke-width="2.2" stroke-linejoin="round" stroke-linecap="butt"/>
<path d="M462.1 215.5L462.9 215L463.7 215.3L464.5 215.9L465.3 215.3L466.1 215L466.9 215L467.7 215.4L468.5 215.7L469.3 215.9L470.1 216.5L470.9 216.1L471.7 216.1L472.5 216.3L473.3 216.4L474.1 215.9L474.9 215.6L475.7 216.4L476.4 215.5L477.2 215.8L478 216.2L478.8 216.1L479.6 216.4L480.4 216.6L481.2 216.1L482 216L482.8 216.6L483.6 216.8L484.4 217.4L485.2 217.1L486 216.3L486.8 216.1L487.6 216.1L488.4 216.7L489.2 217L490 216.8L490.8 217.2L491.6 217.3L492.4 216.8L493.2 216.6L494 215.9L494.8 215.8L495.6 216.1L496.4 216.6L497.2 216.7L498 216.6L498.8 216.6L499.6 216.5L500.4 216.4L501.2 217.2L502 217.4L502.8 217.5L503.6 217.6L504.4 217L505.2 217.2L506 217.5L506.8 217.6L507.6 217.2L508.4 216.9L509.2 216.7L510 217.8L510.8 218.3L511.6 217.7L512.4 217.3L513.2 216.7L514 216.9L514.8 217.1L515.6 217.3L516.4 216.8L517.2 216.5L518 217.4L518.8 217.1L519.6 216.9L520.4 217.4L521.2 216.9L522 216.4L522.8 216.3L523.6 216.9L524.4 216.6L525.2 217.3L526 217.2L526.8 215.8L527.6 215.9L528.4 217.2L529.2 216.8L530 216.5L530.8 216.7L531.6 216.6L532.4 216.3L533.2 215.4L534 215.8L534.8 216.1L535.6 216L536.4 216.8L537.2 217.3L538 216.6L538.8 216.1L539.6 216.4L540.4 216.7L541.2 216.3L542 216.7L542.8 216.8L543.6 216.7L544.4 216.6L545.2 216.8L546 216L546.8 216.3L547.6 216.8L548.4 216.6L549.2 217L550 217L550.8 217.1L551.6 217.4L552.4 216.9L553.2 216.1L554 216.6L554.8 216.4L555.6 216.8L556.4 216.9L557.2 216.4L558 216.3L558.8 216L559.6 216.5L560.4 217L561.2 217.1L562 217.4L562.8 217.2L563.6 216.6L564.4 216.7L565.2 216.6L566 216.1L566.8 215.3L567.6 216L568.4 216.6L569.2 216.2L570 215.7L570.8 215.9L571.6 216.2L572.4 216.6L573.2 217L574 216.2L574.8 216.5L575.6 216.4L576.4 216L577.2 216.3L578 216.7L578.8 217L579.6 216.7L580.4 216.3L581.2 216.5L582 216.3L582.8 216L583.6 216.5L584.4 216.3L585.2 215.9L586 216.4L586.8 216.8L587.6 216.5L588.4 216.5L589.2 216.5L590 216.6L590.8 216.3L591.6 216L592.4 215.4L593.2 216.1L594 217L594.8 216.9L595.6 216.8L596.4 216.1L597.2 216L598 216.3L598.8 216.8L599.6 216.3L600.4 216.9L601.2 217.3L602 217.3L602.8 217L603.6 216.9L604.4 217.1L605.2 217.1L606 217.3L606.8 217L607.6 216.7L608.4 216.7L609.2 216.6L610 216L610.8 216.3L611.6 216.9L612.4 216.8L613.2 217.1L614 217.7L614.8 216.3L615.6 215.8L616.4 216.7L617.2 216.6L618 216.3L618.8 216.5L619.6 216.3L620.4 216.1L621.2 216.2L622 216.6L622.8 216.6L623.6 216.5L624.4 216.7L625.2 216.9L626 217.1L626.8 217.8L627.6 218.4L628.4 218.1L629.2 217.6L630 217.5L630.8 217.4L631.6 217.1L635.1 214.9L635.9 215.2L636.7 215L637.5 215.3L638.3 215L639.1 214.3L639.9 214.4L640.7 214.9L641.5 215.6L642.3 214.9L643.1 214.6L643.9 214.7L644.7 214.2L645.5 214.1L646.3 214.7L647.1 215.1L647.9 214.8L648.7 214.6L649.5 215.1L650.3 215.6L651.1 215.4L651.9 214.7L652.7 214L653.5 214.3L654.3 214.7L655.1 214.5L655.9 214.4L656.7 214.4L657.5 214.7L658.3 215.1L659.1 214.8L659.9 215.2L660.7 216L661.5 215.2L662.3 214.9L663.1 215.5L663.9 215L664.7 214.3L665.5 214.4L666.3 214.3L667.1 214.7L667.9 215L668.7 214.8L669.5 214.9L670.3 214.8L671.1 215.3L671.9 215.3L672.7 214.5L673.5 214.1L674.3 214.1L675.1 214.7L675.9 215L676.7 215L677.5 214.8L678.3 214.9L679.1 215.2L679.9 214.6L680.7 214.6L681.5 215.1L682.3 214.9" fill="none" stroke="#000" stroke-width="2.2" stroke-linejoin="round" stroke-linecap="butt"/>
<path d="M473.8 215.9L474.6 234.6L475.6 215.9" fill="none" stroke="#000" stroke-width="2.4000000000000004" stroke-linejoin="miter" stroke-linecap="butt"/>
<path d="M630.6 214.5L630.9 66.1L632.7 66.1L635.4 214.5L637.2 225.5L634.4 225.5L631.9 214.5Z" fill="#000" stroke="#000" stroke-width="0.3" stroke-linejoin="round"/>
<path d="M462.1 213.6L463.0 213.6L463.9 213.7L464.8 214.3L465.7 214.1L466.6 214.2L467.5 214.4L468.4 213.8L469.3 213.8L470.2 213.8L471.1 213.7L472.0 213.7L472.9 213.9L473.8 214.0L474.7 213.9L475.6 213.7L476.0 218.3L475.1 217.9L474.2 218.4L473.3 218.3L472.4 218.0L471.5 217.9L470.6 217.8L469.7 218.2L468.8 218.0L467.9 218.4L467.0 218.0L466.1 218.1L465.2 217.9L464.3 218.1L463.4 218.3L462.6 218.3Z" fill="#000" stroke="#000" stroke-width="0.6" stroke-linejoin="round"/>
<path d="M634.5 213.3L635.4 213.6L636.3 214.1L637.2 213.4L638.1 213.6L639.0 213.5L639.9 213.9L640.8 213.5L641.7 213.2L642.6 213.3L643.5 213.5L644.4 214.1L645.3 213.3L646.2 213.4L647.1 214.1L648.0 213.2L648.9 214.2L649.8 213.7L650.7 213.8L651.6 214.2L652.5 213.2L653.4 213.7L654.3 213.7L655.2 213.6L656.1 214.2L657.0 213.8L657.9 213.2L658.8 213.7L659.7 213.3L660.6 213.3L661.5 213.5L662.4 213.9L663.3 213.8L664.2 213.6L665.1 213.2L666.0 213.8L666.9 213.4L667.8 213.1L668.7 213.2L669.6 213.5L670.5 213.6L671.4 213.3L672.3 214.0L673.2 213.2L674.1 213.1L675.0 213.1L675.9 213.7L676.8 213.2L677.7 213.2L678.6 213.2L679.5 213.7L680.4 213.8L681.3 213.6L682.2 213.5L682.6 218.7L681.7 219.0L680.8 219.2L679.9 219.5L679.0 219.5L678.1 219.0L677.2 219.6L676.3 219.6L675.4 219.3L674.5 219.9L673.6 219.6L672.7 219.2L671.8 219.6L670.9 220.2L670.0 220.3L669.1 219.9L668.2 220.6L667.3 220.1L666.4 220.4L665.5 220.4L664.6 220.8L663.7 221.0L662.8 221.0L661.9 221.2L661.0 220.7L660.1 221.2L659.2 221.1L658.3 221.7L657.4 221.4L656.5 221.2L655.6 221.8L654.7 221.5L653.8 222.3L652.9 222.4L652.0 221.8L651.1 222.5L650.2 223.1L649.3 223.2L648.4 222.9L647.5 223.7L646.6 223.2L645.7 223.7L644.8 224.0L643.9 223.8L643.0 224.8L642.1 224.9L641.2 225.4L640.3 225.7L639.4 225.6L638.5 225.9L637.6 224.8L636.8 223.8L635.9 221.4L635.0 220.0Z" fill="#000" stroke="#000" stroke-width="0.6" stroke-linejoin="round"/>
<path d="M477.2 216L478.6 222.5L480.2 216" fill="none" stroke="#000" stroke-width="2.6" stroke-linejoin="round" stroke-linecap="butt"/>
<path d="M694.9 197.7L694.9 231.7L662.7 231.7" fill="none" stroke="#000" stroke-width="1.7" stroke-linejoin="miter" stroke-linecap="butt"/>
<text class="s" transform="translate(702.95 224.50) scale(0.9908 1)" font-size="21.5" stroke="#000" stroke-width="0.35">0.5nA</text>
<text class="s" transform="translate(642.60 252.50) scale(1.0557 1)" font-size="21.5" stroke="#000" stroke-width="0.35">10ms</text>
<text stroke="#000" stroke-width="1.1" vector-effect="non-scaling-stroke" class="h" transform="translate(758.54 21.65) scale(0.3016 0.2640)" font-size="100" font-weight="bold">C</text>
<text class="s" transform="translate(828.83 33.90) scale(0.9964 1)" font-size="21.5" stroke="#000" stroke-width="0.35">Na</text>
<text class="s" transform="translate(857.12 26.60) scale(1.0887 1)" font-size="12.5" stroke="#000" stroke-width="0.35">+</text>
<text class="s" transform="translate(867.80 33.90) scale(0.9872 1)" font-size="21.5" stroke="#000" stroke-width="0.35">current</text>
<path d="M797.3 63.6L812.9 65.4L825.7 76L834.9 76.4L844.9 70.5L852.3 72L870.6 67.4L876.1 66.5L881.6 73.8L888.9 95.8L907.2 196.5L914.5 224.9L921.9 224.9L929.2 202L942 126.9L951.2 86.6L957.6 64.7L979.6 63.2" fill="none" stroke="#000" stroke-width="2.1" stroke-linejoin="round" stroke-linecap="butt"/>
<path d="M797.3 63.9L813.3 65.8L826.1 75.4L835.1 75.8L844.9 70.5L850.4 68.3L861.4 65.6L870.6 84.8L881.6 141.6L891.6 202L899.9 213.9L906.3 198.4L921.9 123.3L929.2 77.5L934.7 64.7L979.6 62.8" fill="none" stroke="#000" stroke-width="2.1" stroke-linejoin="round" stroke-linecap="butt"/>
<path d="M797.3 64.3L813.6 66.1L826.4 74.8L835.2 75.2L844.9 70.1L854.1 65.6L863.3 84.8L872.4 132.4L885.2 191L891.6 191L899.9 159.9L914.5 77.5L920 65.6L979.6 63.6" fill="none" stroke="#000" stroke-width="2.1" stroke-linejoin="round" stroke-linecap="butt"/>
<path d="M797.3 63.6L814 65.4L826.8 74.3L835.4 74.6L843.1 71.1L848.6 68.3L857.8 86.6L868.8 141.6L878.8 173.6L885.2 171.8L894.4 137.9L906.3 66.5L979.6 62.5" fill="none" stroke="#000" stroke-width="2.1" stroke-linejoin="round" stroke-linecap="butt"/>
<path d="M797.3 63.9L814.4 65.8L827.2 73.7L835.6 74L843.1 71.6L846.8 69.2L854.1 86.6L865.1 132.4L876.1 159.9L885.2 141.6L892.6 104.9L899.3 65.6L979.6 63.2" fill="none" stroke="#000" stroke-width="2.1" stroke-linejoin="round" stroke-linecap="butt"/>
<path d="M797.3 64.3L814.7 66.1L827.5 73.1L835.8 73.4L842.2 72L844.9 70.1L852.3 86.6L863.3 128.8L871.5 145.2L879.7 136.1L887.1 95.8L892.6 65.6L979.6 63.9" fill="none" stroke="#000" stroke-width="2.1" stroke-linejoin="round" stroke-linecap="butt"/>
<path d="M797.3 63.6L815.1 65.4L827.9 72.5L836 72.7L841.3 72.9L844 72L850.4 86.6L862.3 126.9L868.8 130.6L874.2 119.6L881.6 86.6L886.2 65.6L979.6 62.8" fill="none" stroke="#000" stroke-width="2.1" stroke-linejoin="round" stroke-linecap="butt"/>
<path d="M797.3 63.9L815.5 65.8L828.3 71.9L836.2 72.1L835.8 75.6L843.1 74.7L849.5 84.8L859.6 119.6L863.3 119.6L870.6 104.9L877 68.3L890.7 63.7L979.6 73.8" fill="none" stroke="#000" stroke-width="2.1" stroke-linejoin="round" stroke-linecap="butt"/>
<line x1="797.3" y1="63.0" x2="979.6" y2="62.6" stroke="#000" stroke-width="2.2"/>
<path d="M991.7 185.3L991.7 215.7L956.2 215.7" fill="none" stroke="#000" stroke-width="1.7" stroke-linejoin="miter" stroke-linecap="butt"/>
<text class="s" transform="translate(999.15 208.60) scale(0.9836 1)" font-size="21.5" stroke="#000" stroke-width="0.35">0.5nA</text>
<text class="s" transform="translate(942.98 234.90) scale(1.0681 1)" font-size="21.5" stroke="#000" stroke-width="0.35">0.5ms</text>
<text stroke="#000" stroke-width="1.1" vector-effect="non-scaling-stroke" class="h" transform="translate(1.96 311.45) scale(0.2584 0.2589)" font-size="100" font-weight="bold">D</text>
<text class="s" transform="translate(47.13 327.40) scale(0.9787 1)" font-size="21.5" stroke="#000" stroke-width="0.35">TTX+CoCl</text>
<text class="s" transform="translate(145.50 334.30) scale(1.1722 1)" font-size="12" stroke="#000" stroke-width="0.35">2</text>
<text class="s" transform="translate(151.64 327.40) scale(1.0133 1)" font-size="21.5" stroke="#000" stroke-width="0.35">, current b</text>
<path d="M58.6 490.6L59.4 490.7L60.2 491.2L61 491.2L61.8 490.8L62.6 490.2L63.4 490.6L64.2 490.3L65 490L65.8 491.1L66.6 491.5L67.4 490.6L68.2 490L69 490.6L69.8 491.6L70.6 491.1L71.4 490.2L72.2 490.5L72.6 490.8L73.4 483.2L74.2 462.3L75 434.3L75.8 407.8L76.6 390.4L77.4 386.4L78.2 387.2L79 388.1L79.8 389.9L80.6 390.9L81.4 391L82.2 391.9L83 392.2L83.8 392.5L84.6 393.1L85.4 392.1L86.2 391.6L87 392.7L87.8 393L88.6 392.8L89.4 392.5L90.2 392.7L91 392.3L91.8 391.6L92.6 391.8L93.4 392.4L94.2 393L95 392.4L95.8 391.4L96.6 391.6L97.4 392.8L98.2 392.3L99 391.4L99.8 391.9L100.6 391.7L101.4 390L102.2 390.6L103 391.9L103.8 391.6L104.6 391.6L105.4 391.7L106.2 391.5L107 391.4L107.8 391L108.6 390L109.4 390.2L110.2 390.4L111 390.3L111.8 390.5L112.6 390.6L113.4 391L114.2 391.2L115 390.6L115.8 390.9L116.6 391.2L117.4 391.6L118.2 391.7L119 391.7L119.8 391.3L120.6 391.6L121.4 391.7L122.2 391.4L123 391L123.8 390.8L124.6 392.2L125.4 391.8L126.2 391.7L127 391.5L127.8 391.8L128.6 392.8L129.4 392.6L130.2 391.6L131 391.7L131.8 391.6L132.6 391.3L133.4 391.5L134.2 390.8L135 390.8L135.8 391.4L136.6 391.7L137.4 391.8L138.2 391.9L139 392.2L139.8 391L140.6 391.7L141.4 392.7L142.2 391.8L143 391.9L143.8 391.9L144.6 392L145.4 391.9L146.2 392.6L147 392.7L147.8 392.1L148.6 392.5L149.4 392.4L150.2 392.6L151 392.6L151.8 392L152.6 391.8L153.4 392.8L154.2 393.1L155 392.8L155.8 392.5L156.6 392.3L157.4 391.9L158.2 392.1L159 391.2L159.8 390.9L160.6 391.6L161.4 390.8L162.2 391L163 391.2L163.8 391.3L164.6 390.9L165.4 390.8L166.2 390.3L167 390.4L167.8 390.7L168.6 390.9L169.4 391.6L170.2 391.7L171 391.7L171.8 391.7L172.6 391.5L173.4 391.5L174.2 392L175 391.4L175.8 391.1L176.6 391.2L177.4 391.2L178.2 391.1L179 391.5L179.8 392.4L180.6 391.4L181.4 391.3L182.2 391.7L183 391.2L183.8 391.3L184.6 391.6L185.4 391.6L186.2 391.8L187 391.5L187.8 392L188.6 392.6L189.4 391.6L190.2 390.7L191 391.6L191.8 392.3L192.6 391.6L193.4 391.9L194.2 392.3L195 391.9L195.8 391L196.6 391.8L197.4 392.3L198.2 391.5L199 392.9L199.8 392.9L200.6 392.3L201.4 391.5L202.2 391.9L203 392.3L203.8 391.6L204.6 391.6L205.4 391.3L206.2 391.6L207 391.5L207.8 391.2L208.6 391.3L209.4 391.7L210.2 392L211 392.5L211.8 392.3L212.6 392.4L213.4 392.9L214.2 392.7L215 392.4L215.8 392.1L216.6 391.6L217.4 391.8L218.2 390.9L219 390.8L219.8 391.9L220.6 392.3L221.4 392.6L222.2 391.7L223 391.3L223.8 391.1L224.6 391.3L225.4 392.1L226.2 392.3L227 392L227.8 391.7L231.4 495.8L232.2 495.4L233 494.7L233.8 493.2L234.6 493.4L235.4 494.1L236.2 493.2L237 493.2L237.8 493.6L238.6 494.2L239.4 493.5L240.2 492.3L241 493.4L241.8 494.3L242.6 494.1L243.4 493.5L244.2 492.2L245 493.1L245.8 494.5L246.6 493.4L247.4 492.8L248.2 493.8L249 494.9L249.8 494.9L250.6 493.8L251.4 492.9L252.2 492.3L253 492.4L253.8 492.3L254.6 492.6L255.4 493.1L256.2 492.6L257 491.9L257.8 492.1L258.6 492.4L259.4 492.6L260.2 492.2L261 492.4L261.8 492.8L262.6 493.5L263.4 493.2L264.2 493.2L265 495.3L265.8 494.1L266.6 493.6L267.4 494.3L268.2 492.4L269 491.5L269.8 492.8L270.6 493.2L271.4 493.2L272.2 493.2L273 493.6L273.8 493.2L274.6 491.8L275.4 491.5L276.2 492.1L277 492L277.8 491.9L278.6 492.3L279.4 492.2" fill="none" stroke="#000" stroke-width="2.1" stroke-linejoin="round" stroke-linecap="butt"/>
<path d="M58.6 491.2L59.4 490.6L60.2 490.3L61 490.7L61.8 489.9L62.6 490.9L63.4 491.1L64.2 490.7L65 491.5L65.8 491.6L66.6 491.1L67.4 489.7L68.2 490.1L69 491.1L69.8 491.1L70.6 491L71.4 491.3L72.2 491.5L72.6 490.8L73.4 475.4L74.2 447.5L75 432.1L75.8 423.4L76.6 418.2L77.4 415.4L78.2 414.1L79 413.3L79.8 413.2L80.6 413.2L81.4 412.8L82.2 412.5L83 412.4L83.8 412.3L84.6 412.4L85.4 412.6L86.2 411.7L87 411.8L87.8 412.4L88.6 412.1L89.4 411.3L90.2 411L91 411.1L91.8 411.5L92.6 411.9L93.4 411.6L94.2 411.9L95 411.4L95.8 411.6L96.6 411.7L97.4 411.3L98.2 411.3L99 411.5L99.8 411.9L100.6 411.7L101.4 412.2L102.2 412L103 411.9L103.8 411.7L104.6 411.6L105.4 412.2L106.2 412.8L107 413.2L107.8 412.6L108.6 411L109.4 410.8L110.2 411.3L111 411.8L111.8 412.7L112.6 412.3L113.4 411.8L114.2 411.6L115 411.4L115.8 411.7L116.6 411.6L117.4 411.1L118.2 411.2L119 411.4L119.8 411.4L120.6 410.5L121.4 411.2L122.2 411.5L123 410.8L123.8 410.6L124.6 410.2L125.4 410.9L126.2 411L127 410.9L127.8 410.5L128.6 410.6L129.4 411L130.2 410.9L131 410.3L131.8 411L132.6 411.6L133.4 411.1L134.2 411.9L135 411.4L135.8 412L136.6 412.7L137.4 412.6L138.2 412.3L139 412L139.8 411.7L140.6 411.7L141.4 411.4L142.2 411.8L143 412.5L143.8 412.3L144.6 411.7L145.4 411.6L146.2 411.8L147 410.9L147.8 411.1L148.6 411.8L149.4 412.1L150.2 412.1L151 412.5L151.8 412.6L152.6 412.5L153.4 412.8L154.2 412.5L155 412.4L155.8 412L156.6 412L157.4 411.8L158.2 411.7L159 412.3L159.8 412.1L160.6 411.8L161.4 412.5L162.2 412.6L163 412L163.8 412.9L164.6 413L165.4 413L166.2 412.9L167 412.9L167.8 413.1L168.6 412.6L169.4 412.4L170.2 412.4L171 411.9L171.8 411.9L172.6 411.7L173.4 410.5L174.2 410.4L175 411.3L175.8 410.7L176.6 410.4L177.4 410.8L178.2 410.3L179 410.6L179.8 410.2L180.6 410.7L181.4 411L182.2 410.9L183 411.1L183.8 410.8L184.6 410.9L185.4 412.1L186.2 412.2L187 411.7L187.8 411.3L188.6 411.4L189.4 411.2L190.2 411.2L191 411.5L191.8 411L192.6 411.5L193.4 411.7L194.2 411.1L195 411.3L195.8 411.5L196.6 411.4L197.4 411.6L198.2 411.1L199 410.4L199.8 410.4L200.6 410.6L201.4 411.4L202.2 412.5L203 412.1L203.8 412L204.6 411.4L205.4 410.8L206.2 411.4L207 412.2L207.8 412.9L208.6 412.6L209.4 412.2L210.2 412.4L211 412L211.8 412L212.6 411.6L213.4 412L214.2 412.2L215 412.8L215.8 412.9L216.6 412.3L217.4 411.7L218.2 411.8L219 411.6L219.8 411.6L220.6 412.1L221.4 412.1L222.2 412.5L223 412.6L223.8 412.8L224.6 412.7L225.4 412.5L226.2 411.9L227 411.5L227.8 412L231.4 491L232.2 491.7L233 490.8L233.8 490.5L234.6 490.2L235.4 488.8L236.2 489.5L237 490.2L237.8 489.8L238.6 490.1L239.4 489.4L240.2 489.7L241 490.8L241.8 490.3L242.6 489L243.4 489.2L244.2 488.1L245 487.3L245.8 488.1L246.6 488.3L247.4 488.1L248.2 488.7L249 489.3L249.8 488.9L250.6 489L251.4 488.7L252.2 488.3L253 489.2L253.8 490L254.6 490.1L255.4 489.6L256.2 488.8L257 489.1L257.8 488.8L258.6 488.5L259.4 487.8L260.2 487.1L261 487.5L261.8 487.5L262.6 488.3L263.4 489.1L264.2 489.1L265 488.7L265.8 489.1L266.6 489.8L267.4 489.5L268.2 488.8L269 489.3L269.8 488.8L270.6 487L271.4 486.9L272.2 488.6L273 489.4L273.8 488.3L274.6 486.9L275.4 487.1L276.2 487.9L277 486.8L277.8 488L278.6 489.2L279.4 489.4" fill="none" stroke="#000" stroke-width="2.1" stroke-linejoin="round" stroke-linecap="butt"/>
<path d="M58.6 491.8L59.4 491.8L60.2 492L61 491.4L61.8 491.3L62.6 491.8L63.4 491.5L64.2 491.4L65 492L65.8 492.5L66.6 492.2L67.4 490.9L68.2 491.1L69 492.7L69.8 492.3L70.6 491.3L71.4 491.5L72.2 491.9L72.6 491.7L73.4 482.6L74.2 464.2L75 452.8L75.8 445.4L76.6 440.5L77.4 437.6L78.2 435.5L79 434.2L79.8 433.1L80.6 432.1L81.4 431.6L82.2 431.9L83 431.9L83.8 431.6L84.6 431.1L85.4 431.1L86.2 431.7L87 431.5L87.8 431.8L88.6 431.8L89.4 431.9L90.2 431.5L91 431.9L91.8 432.7L92.6 432.7L93.4 431.6L94.2 431.6L95 431.5L95.8 431.7L96.6 431.8L97.4 430.9L98.2 430.4L99 430.5L99.8 430.9L100.6 430.9L101.4 431L102.2 431.1L103 431.8L103.8 432.1L104.6 432.1L105.4 432.4L106.2 432.5L107 431.9L107.8 431.8L108.6 432.2L109.4 432.3L110.2 431.5L111 431.5L111.8 431L112.6 429.8L113.4 429.5L114.2 429.7L115 429.9L115.8 430.4L116.6 430.3L117.4 430.3L118.2 430L119 430.6L119.8 430.9L120.6 430.8L121.4 431.3L122.2 430.9L123 431.1L123.8 430.5L124.6 431.2L125.4 431.7L126.2 431.9L127 431L127.8 431.1L128.6 431.6L129.4 430.7L130.2 430.5L131 431.5L131.8 431.8L132.6 432.1L133.4 432.4L134.2 432.1L135 432L135.8 432.4L136.6 432.1L137.4 431.9L138.2 432.8L139 432.5L139.8 432.5L140.6 432.7L141.4 432.7L142.2 432.2L143 431.4L143.8 431.5L144.6 431.4L145.4 431.9L146.2 432.6L147 432.4L147.8 432.5L148.6 432.3L149.4 431.8L150.2 431.2L151 431.5L151.8 431.9L152.6 431.5L153.4 430.9L154.2 431L155 431.5L155.8 432.1L156.6 432.2L157.4 431.9L158.2 431.4L159 430.6L159.8 430.7L160.6 431.7L161.4 432.5L162.2 431.9L163 431.4L163.8 431.3L164.6 431.2L165.4 430.1L166.2 429.7L167 429.9L167.8 430.4L168.6 430.7L169.4 430.4L170.2 430.5L171 430L171.8 430.1L172.6 430.8L173.4 430.6L174.2 430.4L175 431.3L175.8 431.3L176.6 430.8L177.4 429.8L178.2 429.7L179 430.1L179.8 430.9L180.6 431.4L181.4 431L182.2 431L183 430.2L183.8 429.9L184.6 429.9L185.4 430.4L186.2 431.5L187 431.9L187.8 432.1L188.6 432.3L189.4 432.3L190.2 431.9L191 431.6L191.8 431.4L192.6 430.3L193.4 430.8L194.2 431.5L195 431.5L195.8 431.1L196.6 430.8L197.4 430.8L198.2 431.2L199 431.4L199.8 430.8L200.6 430.8L201.4 431.2L202.2 432L203 431.9L203.8 431.2L204.6 430.7L205.4 430.9L206.2 432.5L207 432.1L207.8 431.4L208.6 431.8L209.4 432L210.2 432L211 431.9L211.8 431.9L212.6 431.5L213.4 432L214.2 432.4L215 431.1L215.8 431L216.6 432.1L217.4 432.2L218.2 431.3L219 430.5L219.8 431L220.6 431.7L221.4 431.3L222.2 431L223 431.9L223.8 431.5L224.6 431.8L225.4 431.9L226.2 432.1L227 431.5L227.8 431.4L231.4 494.5L232.2 493.5L233 493.4L233.8 493.2L234.6 493.9L235.4 495.3L236.2 493.8L237 493.4L237.8 493.4L238.6 494.2L239.4 495L240.2 494.1L241 493.2L241.8 493.4L242.6 493.8L243.4 493.4L244.2 492.9L245 492L245.8 491.5L246.6 491.9L247.4 491.8L248.2 491.6L249 493.5L249.8 494L250.6 493.4L251.4 493L252.2 493.4L253 493.8L253.8 493.4L254.6 494L255.4 493.8L256.2 494.2L257 493.4L257.8 492.2L258.6 492.9L259.4 493.1L260.2 493L261 494.3L261.8 493.9L262.6 492.8L263.4 492.7L264.2 492L265 491.3L265.8 492L266.6 493.8L267.4 493.6L268.2 493.5L269 492.7L269.8 491.9L270.6 492.6L271.4 493.1L272.2 493.2L273 493.1L273.8 493.9L274.6 493L275.4 492.1L276.2 492.9L277 492.6L277.8 492.6L278.6 492L279.4 491.2" fill="none" stroke="#000" stroke-width="2.1" stroke-linejoin="round" stroke-linecap="butt"/>
<path d="M58.6 491.7L59.4 491.4L60.2 491.2L61 490.8L61.8 490.4L62.6 489.7L63.4 490.2L64.2 490.9L65 489.8L65.8 489.5L66.6 490.5L67.4 490.2L68.2 489.8L69 489.6L69.8 489.6L70.6 490.4L71.4 489.6L72.2 489.4L72.6 490.6L73.4 485.8L74.2 475.5L75 467.8L75.8 461.8L76.6 457.9L77.4 455.7L78.2 453.6L79 451.9L79.8 451L80.6 450.4L81.4 450.1L82.2 450.4L83 450.2L83.8 450.3L84.6 450.2L85.4 450.4L86.2 450.5L87 450.2L87.8 450.3L88.6 451L89.4 451.1L90.2 451.1L91 450.5L91.8 450.2L92.6 450.3L93.4 449.6L94.2 448.8L95 449.1L95.8 449.3L96.6 449.1L97.4 448.6L98.2 448.7L99 448.6L99.8 449.2L100.6 449.5L101.4 449.6L102.2 449.8L103 449.6L103.8 449.4L104.6 449.7L105.4 450.1L106.2 449.7L107 449.2L107.8 449.2L108.6 449.8L109.4 449.2L110.2 448.8L111 449L111.8 448.9L112.6 449.7L113.4 450L114.2 449.3L115 449L115.8 449.6L116.6 450L117.4 449.7L118.2 449.2L119 449.2L119.8 449.7L120.6 449.9L121.4 448.8L122.2 448.3L123 448.9L123.8 449.1L124.6 449.1L125.4 449.2L126.2 448.9L127 449.1L127.8 449.7L128.6 449.6L129.4 449.7L130.2 449.4L131 449.4L131.8 449.7L132.6 449.9L133.4 449.7L134.2 450L135 449.6L135.8 449.3L136.6 449.6L137.4 449L138.2 449.3L139 449L139.8 448.6L140.6 449.7L141.4 449.7L142.2 449.1L143 448.6L143.8 449L144.6 449.7L145.4 449L146.2 448.7L147 449.2L147.8 449L148.6 448.8L149.4 449.5L150.2 450L151 449.8L151.8 449.3L152.6 450.2L153.4 449.8L154.2 449.8L155 450.3L155.8 449.6L156.6 449.2L157.4 449.4L158.2 449.5L159 449.8L159.8 449.5L160.6 449.7L161.4 450.5L162.2 450.4L163 449.9L163.8 449.7L164.6 449.5L165.4 449.9L166.2 450.6L167 450.3L167.8 450L168.6 450.1L169.4 450.4L170.2 450L171 449.3L171.8 448.6L172.6 448.6L173.4 449L174.2 449L175 448.9L175.8 448.4L176.6 448L177.4 448.4L178.2 448L179 448.2L179.8 448.5L180.6 448.7L181.4 449.4L182.2 449.6L183 449.3L183.8 449.1L184.6 449.5L185.4 450.2L186.2 449.5L187 449.2L187.8 449.5L188.6 449.4L189.4 450L190.2 450.1L191 449.4L191.8 448.8L192.6 448.8L193.4 449.1L194.2 448.8L195 448.6L195.8 448.9L196.6 447.8L197.4 447.9L198.2 448.7L199 448.8L199.8 448.9L200.6 449.1L201.4 449.7L202.2 450L203 449.2L203.8 448.5L204.6 449.4L205.4 449.6L206.2 450.1L207 450.5L207.8 450.4L208.6 450.3L209.4 450.3L210.2 449.7L211 448.9L211.8 449.6L212.6 449.8L213.4 449.3L214.2 448.7L215 448.7L215.8 449.3L216.6 449.2L217.4 448.1L218.2 448L219 448.7L219.8 448.6L220.6 447.6L221.4 447.7L222.2 447.8L223 447.9L223.8 448.1L224.6 448L225.4 448.4L226.2 448.3L227 447.7L227.8 447.5L231.4 489.9L232.2 490.8L233 492.3L233.8 492.3L234.6 491.3L235.4 492.2L236.2 492.5L237 490.9L237.8 490.7L238.6 491.6L239.4 491.2L240.2 491L241 491L241.8 490.6L242.6 491L243.4 489.4L244.2 489.9L245 491.6L245.8 491.2L246.6 490.9L247.4 490.5L248.2 491.1L249 491.2L249.8 490.9L250.6 489.9L251.4 490.6L252.2 491.6L253 490.7L253.8 489.9L254.6 489.2L255.4 490.1L256.2 488.7L257 489.1L257.8 490.6L258.6 489.4L259.4 489.8L260.2 491.4L261 491.5L261.8 491L262.6 490.1L263.4 489.2L264.2 490.4L265 490.1L265.8 488L266.6 488.3L267.4 489.6L268.2 489.9L269 490.5L269.8 491L270.6 490.3L271.4 490.3L272.2 490.4L273 490.2L273.8 489.7L274.6 490L275.4 490.4L276.2 490.7L277 490.1L277.8 490L278.6 490.2L279.4 489.8" fill="none" stroke="#000" stroke-width="2.1" stroke-linejoin="round" stroke-linecap="butt"/>
<path d="M58.6 491.1L59.4 492.5L60.2 492.4L61 491L61.8 491L62.6 491.5L63.4 491.4L64.2 491.4L65 491.7L65.8 492.4L66.6 492.1L67.4 492L68.2 491.7L69 492.1L69.8 491.9L70.6 490.6L71.4 490.8L72.2 491.5L72.6 491.4L73.4 489.4L74.2 485L75 481.3L75.8 477.2L76.6 474L77.4 471.9L78.2 471L79 469.8L79.8 468.8L80.6 467.4L81.4 466.6L82.2 466.4L83 467L83.8 466.4L84.6 464.7L85.4 464.1L86.2 464.3L87 464.1L87.8 464L88.6 464.8L89.4 464.5L90.2 464L91 464L91.8 464.2L92.6 464.3L93.4 464.5L94.2 464L95 464.2L95.8 464.8L96.6 464.3L97.4 463L98.2 463.4L99 464.5L99.8 464.3L100.6 463.9L101.4 464.3L102.2 464.5L103 464L103.8 463.4L104.6 463.5L105.4 463.8L106.2 463.5L107 462.6L107.8 462.2L108.6 462.9L109.4 463.5L110.2 463L111 462.9L111.8 463L112.6 463.2L113.4 464.1L114.2 464.2L115 463.7L115.8 463.7L116.6 462.9L117.4 462.8L118.2 463.1L119 462.4L119.8 462.4L120.6 462.3L121.4 462.3L122.2 462.6L123 462.2L123.8 462.5L124.6 462.9L125.4 462L126.2 461.8L127 462.1L127.8 462.5L128.6 462L129.4 461.9L130.2 463.1L131 463L131.8 462.4L132.6 462.8L133.4 462.2L134.2 461.9L135 462.9L135.8 462.8L136.6 462.3L137.4 461.6L138.2 461.5L139 461.7L139.8 461.5L140.6 461.2L141.4 461L142.2 461.7L143 461.7L143.8 461.7L144.6 462.5L145.4 462.6L146.2 462.3L147 462.8L147.8 462.5L148.6 462.2L149.4 462.3L150.2 462.3L151 463L151.8 462.9L152.6 462.2L153.4 462.5L154.2 462.5L155 462.6L155.8 462.7L156.6 462.9L157.4 462.5L158.2 462.5L159 462.4L159.8 462L160.6 462.1L161.4 462.7L162.2 462.6L163 462L163.8 462.5L164.6 462.5L165.4 462.1L166.2 461.6L167 462L167.8 462.5L168.6 462.8L169.4 462.5L170.2 462.4L171 462.2L171.8 462.1L172.6 462.1L173.4 461.9L174.2 462.7L175 463.6L175.8 463.4L176.6 462.6L177.4 462.6L178.2 463L179 463L179.8 463.1L180.6 463.3L181.4 462.8L182.2 462.3L183 462.6L183.8 462.6L184.6 462.8L185.4 462.9L186.2 462.3L187 462.1L187.8 461.8L188.6 461.7L189.4 461.5L190.2 461.2L191 461.4L191.8 461.5L192.6 461.3L193.4 461.5L194.2 460.8L195 460.8L195.8 460.9L196.6 461.2L197.4 462.3L198.2 461.9L199 462L199.8 462.1L200.6 462.3L201.4 463L202.2 463L203 462.6L203.8 462.8L204.6 462.8L205.4 462.2L206.2 462.3L207 461.5L207.8 461.1L208.6 461.1L209.4 460.7L210.2 461.3L211 461.9L211.8 461.1L212.6 461.4L213.4 462.3L214.2 461.7L215 461.5L215.8 462.8L216.6 462.6L217.4 461.7L218.2 461.6L219 462.6L219.8 463L220.6 461.9L221.4 461.6L222.2 461.8L223 461.6L223.8 461.8L224.6 462.1L225.4 461.8L226.2 461.9L227 461.9L227.8 461.7L231.4 490.7L232.2 490.6L233 491.6L233.8 490.8L234.6 491.6L235.4 491.5L236.2 491.4L237 491.1L237.8 490.8L238.6 490.6L239.4 489.9L240.2 490.2L241 490.6L241.8 490.9L242.6 490.6L243.4 491.2L244.2 490.7L245 490.2L245.8 490.9L246.6 490.7L247.4 490.7L248.2 490.2L249 491.2L249.8 492.8L250.6 490.8L251.4 489.7L252.2 490.3L253 491.1L253.8 491.7L254.6 492L255.4 492.2L256.2 491L257 490.4L257.8 490.9L258.6 491.2L259.4 491.2L260.2 489.8L261 489.6L261.8 492.1L262.6 492.3L263.4 491.6L264.2 491.6L265 490.7L265.8 490.8L266.6 490.8L267.4 491.3L268.2 491.1L269 489.6L269.8 490.3L270.6 491.7L271.4 491L272.2 490.6L273 491.2L273.8 491.5L274.6 490.5L275.4 491.1L276.2 493.1L277 492.4L277.8 490.3L278.6 490.9L279.4 492.3" fill="none" stroke="#000" stroke-width="2.1" stroke-linejoin="round" stroke-linecap="butt"/>
<path d="M58.6 488.9L59.4 489L60.2 489.2L61 488.7L61.8 489L62.6 490.2L63.4 489.3L64.2 488.6L65 489.2L65.8 489L66.6 489.2L67.4 489.1L68.2 489.4L69 489.7L69.8 489L70.6 489.2L71.4 489.7L72.2 490L72.6 489.6L73.4 489.3L74.2 487.9L75 487.2L75.8 486L76.6 484.7L77.4 484.3L78.2 484.1L79 483.4L79.8 481.8L80.6 481.5L81.4 481.6L82.2 482.2L83 481.4L83.8 480.6L84.6 481.4L85.4 481.3L86.2 480.6L87 480.2L87.8 480.6L88.6 480.4L89.4 478.9L90.2 479L91 479.4L91.8 478.8L92.6 478.3L93.4 477.8L94.2 477.4L95 478.8L95.8 478.3L96.6 478.2L97.4 479.6L98.2 479.6L99 479L99.8 478.9L100.6 479.4L101.4 478.2L102.2 477.9L103 478.1L103.8 477.3L104.6 477.6L105.4 478L106.2 477.9L107 477.6L107.8 478L108.6 478.6L109.4 478.3L110.2 478L111 478.3L111.8 478.5L112.6 478.7L113.4 478.2L114.2 478.7L115 479.2L115.8 479.2L116.6 479.3L117.4 478.6L118.2 478.1L119 478.2L119.8 477.7L120.6 478.1L121.4 478.5L122.2 478.2L123 478.5L123.8 478.6L124.6 478.9L125.4 478.7L126.2 479.2L127 480L127.8 479.5L128.6 478.1L129.4 477.8L130.2 479L131 480.2L131.8 480.2L132.6 479.7L133.4 479.4L134.2 478.6L135 479.2L135.8 479.3L136.6 479L137.4 478.9L138.2 478.7L139 477.7L139.8 478L140.6 478.3L141.4 477.6L142.2 477.7L143 478.2L143.8 478L144.6 477.3L145.4 477.6L146.2 478.3L147 478.5L147.8 478.7L148.6 478.7L149.4 478.1L150.2 477.5L151 477.7L151.8 477.8L152.6 478.5L153.4 478.8L154.2 478.7L155 479.1L155.8 478.5L156.6 478.1L157.4 478.8L158.2 479.1L159 478.2L159.8 478.1L160.6 479L161.4 478.6L162.2 478L163 478.1L163.8 477.8L164.6 477.7L165.4 476.8L166.2 476.4L167 477.3L167.8 478.2L168.6 479L169.4 479.6L170.2 479.4L171 478.7L171.8 478L172.6 478.1L173.4 478.8L174.2 478.9L175 478.6L175.8 479.2L176.6 478.8L177.4 477.8L178.2 478.6L179 478.9L179.8 478.6L180.6 478.5L181.4 477.8L182.2 477.8L183 477.8L183.8 477.7L184.6 478.3L185.4 478L186.2 477.1L187 477.3L187.8 477.1L188.6 477.1L189.4 477.6L190.2 478.3L191 478.4L191.8 477.8L192.6 477.9L193.4 477L194.2 476.8L195 477.9L195.8 477.9L196.6 477.7L197.4 478.1L198.2 477.9L199 477.8L199.8 477.6L200.6 477.8L201.4 477.7L202.2 477.5L203 477.7L203.8 477.6L204.6 477.3L205.4 477.2L206.2 477.6L207 478.7L207.8 478.7L208.6 478.2L209.4 478.1L210.2 477.4L211 477.5L211.8 478L212.6 477.9L213.4 478.1L214.2 478.9L215 478.1L215.8 477.5L216.6 477.4L217.4 477.2L218.2 478L219 478.1L219.8 477.6L220.6 477.3L221.4 477.7L222.2 477.6L223 477.7L223.8 478.2L224.6 477.7L225.4 476.7L226.2 476.2L227 476.7L227.8 477.1L231.4 490.4L232.2 489L233 488.7L233.8 489.3L234.6 490L235.4 488.8L236.2 487.6L237 488L237.8 488.4L238.6 489.5L239.4 489.3L240.2 490L241 489.5L241.8 488.3L242.6 488.5L243.4 487.6L244.2 487.7L245 488.6L245.8 488.4L246.6 488L247.4 488.3L248.2 488.3L249 488.9L249.8 489.6L250.6 489.1L251.4 489.4L252.2 488L253 486.9L253.8 488.9L254.6 488.9L255.4 488.7L256.2 489.5L257 489L257.8 488.7L258.6 487.9L259.4 487.1L260.2 486.8L261 487.9L261.8 488.9L262.6 488.8L263.4 488.2L264.2 488L265 489.3L265.8 488.9L266.6 487.9L267.4 488.2L268.2 489.7L269 490.5L269.8 490.5L270.6 491.3L271.4 490.1L272.2 488.7L273 487.5L273.8 487.3L274.6 488.4L275.4 488.4L276.2 488.8L277 487.5L277.8 487.6L278.6 488.6L279.4 487.6" fill="none" stroke="#000" stroke-width="2.1" stroke-linejoin="round" stroke-linecap="butt"/>
<path d="M58.6 491.1L59.4 490.5L60.2 490L61 489.6L61.8 490.4L62.6 490.8L63.4 490.4L64.2 490.5L65 490.8L65.8 490.9L66.6 490.5L67.4 490.3L68.2 490.4L69 490.5L69.8 489.9L70.6 489.6L71.4 490.7L72.2 490.3L72.6 490.4L73.4 490.1L74.2 489.7L75 489.5L75.8 489.2L76.6 488.6L77.4 488L78.2 487.8L79 487.8L79.8 488.2L80.6 488.3L81.4 488L82.2 487.8L83 487.4L83.8 487.4L84.6 487.1L85.4 487.2L86.2 487.7L87 487.6L87.8 487.6L88.6 487.6L89.4 486.9L90.2 486.1L91 486.2L91.8 486.9L92.6 487.3L93.4 487.3L94.2 486.8L95 485.9L95.8 486.3L96.6 486.6L97.4 486.2L98.2 486.7L99 486.8L99.8 485.6L100.6 485L101.4 485.5L102.2 486L103 485.3L103.8 484.4L104.6 484.9L105.4 484.3L106.2 484L107 484.5L107.8 484.7L108.6 485.2L109.4 485.9L110.2 485.6L111 485.5L111.8 485.4L112.6 485.9L113.4 486.6L114.2 486.8L115 487L115.8 486.9L116.6 487.1L117.4 487.5L118.2 487.7L119 487.6L119.8 487.1L120.6 487L121.4 487.1L122.2 487.1L123 487.1L123.8 486.8L124.6 486L125.4 485.8L126.2 486.5L127 487.5L127.8 487.1L128.6 485.7L129.4 485.9L130.2 486L131 485.8L131.8 486.5L132.6 487.6L133.4 486.7L134.2 485.5L135 485.8L135.8 485.9L136.6 486.2L137.4 486.4L138.2 485.6L139 485.3L139.8 485.8L140.6 485.6L141.4 485.1L142.2 485.2L143 486.2L143.8 485.8L144.6 485.9L145.4 486.5L146.2 486.4L147 486.7L147.8 486.5L148.6 485.9L149.4 485.8L150.2 485.5L151 485.6L151.8 485.9L152.6 485.2L153.4 484.9L154.2 484.6L155 483.9L155.8 484.5L156.6 485.2L157.4 485.5L158.2 485.3L159 485.1L159.8 485.1L160.6 485.6L161.4 486L162.2 485.4L163 485L163.8 485.3L164.6 485.6L165.4 485.3L166.2 485.5L167 485.6L167.8 485.8L168.6 485.7L169.4 485.5L170.2 485.6L171 486.2L171.8 486.1L172.6 485.5L173.4 485.5L174.2 485.6L175 486L175.8 486.7L176.6 486.6L177.4 486.6L178.2 486.6L179 486.6L179.8 486.5L180.6 485.8L181.4 485.5L182.2 485.7L183 485L183.8 484.5L184.6 485L185.4 486.1L186.2 485.7L187 485.6L187.8 485.5L188.6 485.8L189.4 486.5L190.2 485.9L191 485.2L191.8 484.7L192.6 485.1L193.4 485.5L194.2 485L195 484.9L195.8 486L196.6 485.1L197.4 484.7L198.2 484.6L199 485.1L199.8 485.7L200.6 486.2L201.4 485.7L202.2 485.3L203 485.7L203.8 485.8L204.6 485.6L205.4 485.7L206.2 486.5L207 486L207.8 485.8L208.6 485.4L209.4 484.5L210.2 484.1L211 484.6L211.8 485.4L212.6 485.3L213.4 484.6L214.2 483.9L215 485L215.8 485.6L216.6 484.2L217.4 483.8L218.2 485.2L219 486.2L219.8 487L220.6 486L221.4 485.2L222.2 485.4L223 485.3L223.8 485.5L224.6 485L225.4 484.9L226.2 484.6L227 484.7L227.8 484.1L231.4 489.4L232.2 490.3L233 489.9L233.8 489.9L234.6 489.7L235.4 489.9L236.2 489.9L237 488.5L237.8 489.3L238.6 490.7L239.4 489.5L240.2 489.2L241 490.9L241.8 490.5L242.6 489.1L243.4 488.3L244.2 489.4L245 488.7L245.8 489L246.6 491.3L247.4 489.9L248.2 488.2L249 489.4L249.8 489.6L250.6 489.6L251.4 489.8L252.2 489.1L253 489.3L253.8 489.9L254.6 490.4L255.4 490L256.2 490.4L257 491.3L257.8 491L258.6 489.3L259.4 488.5L260.2 489.1L261 489.8L261.8 490.7L262.6 490L263.4 490L264.2 489.7L265 489.1L265.8 489.6L266.6 489.2L267.4 490.2L268.2 490.1L269 489.5L269.8 490.7L270.6 490.8L271.4 489L272.2 488.2L273 488.7L273.8 489.5L274.6 489.9L275.4 488.8L276.2 488L277 488.2L277.8 488.9L278.6 489.8L279.4 489.7" fill="none" stroke="#000" stroke-width="2.1" stroke-linejoin="round" stroke-linecap="butt"/>
<path d="M58.6 490.9L59.4 490.1L60.2 489.7L61 490.3L61.8 490.4L62.6 489.7L63.4 489.9L64.2 489.7L65 489.6L65.8 489.9L66.6 489.9L67.4 491L68.2 490.9L69 489.7L69.8 488.9L70.6 489.4L71.4 489.9L72.2 489.4L72.6 490L73.4 490.1L74.2 490.3L75 490.3L75.8 490.6L76.6 491L77.4 489.8L78.2 490.2L79 490.2L79.8 489.3L80.6 489.2L81.4 489.7L82.2 489.5L83 489.3L83.8 488.7L84.6 488.3L85.4 488.6L86.2 488.3L87 488L87.8 488.7L88.6 489L89.4 489.4L90.2 488.7L91 488.3L91.8 488.6L92.6 488.5L93.4 488.6L94.2 488.6L95 489.6L95.8 489.5L96.6 489.1L97.4 489.3L98.2 488L99 487.6L99.8 488.1L100.6 488.8L101.4 489L102.2 488.3L103 488.3L103.8 488.6L104.6 487.5L105.4 488.3L106.2 489.1L107 489.4L107.8 490L108.6 488.8L109.4 488.6L110.2 489.3L111 488.8L111.8 488.9L112.6 489.1L113.4 488.7L114.2 488L115 488L115.8 488.8L116.6 488.2L117.4 488.1L118.2 488.6L119 489.3L119.8 490L120.6 489.1L121.4 489.1L122.2 489L123 489L123.8 489L124.6 488.3L125.4 488.7L126.2 489.3L127 489.8L127.8 489.8L128.6 489.5L129.4 488.8L130.2 488.4L131 488.3L131.8 488.4L132.6 487.9L133.4 487.5L134.2 489L135 489.1L135.8 488.4L136.6 488.8L137.4 488.8L138.2 488.5L139 488.4L139.8 488.5L140.6 488.7L141.4 489.1L142.2 489L143 489.5L143.8 489L144.6 488.8L145.4 489.3L146.2 489.2L147 488.5L147.8 488.6L148.6 488.7L149.4 488L150.2 488.5L151 489.2L151.8 489.1L152.6 488L153.4 487.9L154.2 488.4L155 488.3L155.8 489L156.6 489.2L157.4 488.6L158.2 488.6L159 488.7L159.8 488.5L160.6 487.8L161.4 487.8L162.2 487.6L163 487.1L163.8 486.9L164.6 487.3L165.4 487.6L166.2 488.3L167 488.4L167.8 487.6L168.6 487.7L169.4 488.5L170.2 488.1L171 487.9L171.8 489L172.6 489.5L173.4 488.8L174.2 487.5L175 487.9L175.8 488.5L176.6 488.7L177.4 488.9L178.2 488.7L179 488L179.8 488.3L180.6 488.2L181.4 488.1L182.2 488.5L183 489.6L183.8 490.4L184.6 490.5L185.4 489.3L186.2 489.3L187 489.7L187.8 489.8L188.6 490.3L189.4 489.7L190.2 489.3L191 488.5L191.8 488.8L192.6 489.6L193.4 488.6L194.2 487.5L195 487.6L195.8 487.4L196.6 487.9L197.4 488.3L198.2 488.2L199 488.3L199.8 487.3L200.6 487.4L201.4 487.9L202.2 488.4L203 489L203.8 489.2L204.6 489.3L205.4 489.9L206.2 489.6L207 489.3L207.8 489.9L208.6 490.5L209.4 490.9L210.2 490.4L211 489.9L211.8 490L212.6 489.8L213.4 489.3L214.2 489.1L215 488.8L215.8 489L216.6 489L217.4 488.6L218.2 488.3L219 488.2L219.8 488.9L220.6 488.7L221.4 488L222.2 488.2L223 488.4L223.8 488.5L224.6 488.5L225.4 488.4L226.2 488.8L227 488.6L227.8 488.5L231.4 493L232.2 492.9L233 492.1L233.8 491.5L234.6 492.3L235.4 493.2L236.2 493.5L237 492.8L237.8 492.1L238.6 491.4L239.4 491.5L240.2 493.1L241 493.3L241.8 492.3L242.6 492.5L243.4 494.5L244.2 494.1L245 491.9L245.8 491.1L246.6 490.5L247.4 491.7L248.2 493.1L249 492.5L249.8 492.6L250.6 493.3L251.4 492.6L252.2 492.4L253 493.3L253.8 492.3L254.6 491.7L255.4 492.6L256.2 491.7L257 493L257.8 494.7L258.6 494.4L259.4 493L260.2 491.8L261 493.3L261.8 493.1L262.6 493.6L263.4 493.3L264.2 492L265 492.5L265.8 491.5L266.6 491.6L267.4 492.5L268.2 492L269 491.8L269.8 493L270.6 493.8L271.4 493.5L272.2 493.4L273 493.9L273.8 493.4L274.6 492.2L275.4 492.3L276.2 492.9L277 492.4L277.8 492.5L278.6 493L279.4 493.5" fill="none" stroke="#000" stroke-width="2.1" stroke-linejoin="round" stroke-linecap="butt"/>
<path d="M58.6 489.6L59.4 490.3L60.2 489.9L61 489.3L61.8 489.6L62.6 489.6L63.4 488.9L64.2 489.2L65 490L65.8 490.1L66.6 489.7L67.4 489.4L68.2 489.7L69 489.9L69.8 489.8L70.6 491L71.4 490.9L72.2 489.4L72.6 489.7L73.4 489.5L74.2 489.6L75 489.6L75.8 489L76.6 489.1L77.4 488.9L78.2 488.7L79 489.3L79.8 490L80.6 489.8L81.4 489.6L82.2 489.8L83 490.3L83.8 491.1L84.6 491L85.4 490.3L86.2 490.3L87 491.1L87.8 491.2L88.6 491.3L89.4 490.6L90.2 489.7L91 489.4L91.8 489.6L92.6 489.6L93.4 490.3L94.2 489.6L95 488.5L95.8 488.7L96.6 489.1L97.4 489.2L98.2 489.4L99 489.5L99.8 490.3L100.6 490.7L101.4 490.4L102.2 491L103 491L103.8 490.2L104.6 490L105.4 490.5L106.2 490.8L107 490.6L107.8 490.1L108.6 490.2L109.4 490.5L110.2 490.9L111 490.2L111.8 489.7L112.6 489.1L113.4 489.8L114.2 489.8L115 489.8L115.8 490L116.6 489.5L117.4 490.1L118.2 490.2L119 490.4L119.8 491.1L120.6 491L121.4 490.3L122.2 490.3L123 490.7L123.8 491.2L124.6 491.5L125.4 490.7L126.2 490.5L127 489.8L127.8 489.4L128.6 489.8L129.4 489L130.2 488.7L131 489.9L131.8 490.4L132.6 490.3L133.4 490.3L134.2 490.6L135 491.2L135.8 490.7L136.6 490.4L137.4 490.4L138.2 490.1L139 490.2L139.8 490.2L140.6 490.5L141.4 490.5L142.2 490L143 490.6L143.8 490.1L144.6 489.6L145.4 489.9L146.2 490.4L147 491.4L147.8 491.1L148.6 490.7L149.4 490.9L150.2 491.3L151 490.9L151.8 490.9L152.6 490.9L153.4 491.5L154.2 491L155 490.4L155.8 491.2L156.6 491.1L157.4 490.6L158.2 490.9L159 491.6L159.8 491.3L160.6 491.1L161.4 490.9L162.2 491L163 490.5L163.8 490.4L164.6 490.3L165.4 489.7L166.2 490.7L167 490.4L167.8 489.8L168.6 490.1L169.4 490.9L170.2 490.8L171 490L171.8 490.5L172.6 491L173.4 490.7L174.2 490.4L175 489.9L175.8 490.1L176.6 490.7L177.4 490.6L178.2 491.6L179 491.7L179.8 491.2L180.6 491.7L181.4 491L182.2 490.3L183 490.5L183.8 490.6L184.6 490.9L185.4 490.9L186.2 490.9L187 490.4L187.8 490.1L188.6 490L189.4 490.3L190.2 491L191 491.3L191.8 491.1L192.6 490.8L193.4 490.5L194.2 490.8L195 491.2L195.8 491.2L196.6 492.1L197.4 492.1L198.2 491.1L199 491L199.8 490.8L200.6 490.2L201.4 490.4L202.2 490.4L203 490.5L203.8 490.7L204.6 490.7L205.4 490.9L206.2 491L207 490.6L207.8 491.3L208.6 490.6L209.4 489.7L210.2 490.9L211 491.1L211.8 490.7L212.6 490.3L213.4 490L214.2 490.3L215 490.3L215.8 490.9L216.6 491.4L217.4 490.4L218.2 491L219 491.3L219.8 490.1L220.6 490.2L221.4 490.3L222.2 489.5L223 489.5L223.8 490.4L224.6 489.6L225.4 488.6L226.2 489.5L227 489.8L227.8 489.9L231.4 491.6L232.2 490.8L233 489.5L233.8 490.1L234.6 490.1L235.4 491.3L236.2 492.2L237 492.2L237.8 491.3L238.6 491.2L239.4 490.6L240.2 490.4L241 491.5L241.8 491.8L242.6 491.7L243.4 491.3L244.2 491.3L245 491.4L245.8 490.6L246.6 489.7L247.4 488.9L248.2 489.3L249 490.4L249.8 491L250.6 490.8L251.4 490L252.2 490.7L253 491.6L253.8 491.7L254.6 491.7L255.4 491.1L256.2 491.1L257 491.7L257.8 492L258.6 491.6L259.4 490.4L260.2 491.2L261 492.3L261.8 491.6L262.6 489.8L263.4 489.4L264.2 491.3L265 491.3L265.8 490.4L266.6 491.5L267.4 491.8L268.2 491.2L269 490.8L269.8 490.9L270.6 491.4L271.4 491.6L272.2 490.5L273 490.8L273.8 492.9L274.6 492.5L275.4 491.3L276.2 491.7L277 492.6L277.8 491.5L278.6 490.8L279.4 491.3" fill="none" stroke="#000" stroke-width="2.1" stroke-linejoin="round" stroke-linecap="butt"/>
<path d="M58.6 489.5L59.4 489L60.2 489.1L61 488.7L61.8 489.5L62.6 489.3L63.4 489.2L64.2 489.4L65 489.5L65.8 489.2L66.6 489.7L67.4 489.8L68.2 488.8L69 488.7L69.8 489.5L70.6 490.1L71.4 489.6L72.2 490L72.6 489.4L73.4 489.6L74.2 489.7L75 490L75.8 490.1L76.6 490.5L77.4 490.1L78.2 490.5L79 491.5L79.8 490.9L80.6 490.9L81.4 491.2L82.2 491.2L83 491.2L83.8 491.7L84.6 491L85.4 490.3L86.2 490.4L87 490.8L87.8 490.4L88.6 490.2L89.4 490.1L90.2 490.1L91 490.7L91.8 491L92.6 491.6L93.4 492L94.2 491.2L95 491.2L95.8 491.6L96.6 490.8L97.4 492.4L98.2 493.1L99 492.1L99.8 491.2L100.6 490.7L101.4 491.2L102.2 490.8L103 491L103.8 490.9L104.6 491.4L105.4 492L106.2 491.4L107 491.8L107.8 492.2L108.6 492.4L109.4 491.9L110.2 491.4L111 491.8L111.8 491.6L112.6 491.5L113.4 492.1L114.2 491.4L115 491.1L115.8 490.6L116.6 490.7L117.4 491.3L118.2 490.5L119 489.4L119.8 489.8L120.6 489.7L121.4 489.2L122.2 489.8L123 489.7L123.8 489.6L124.6 490.4L125.4 490.9L126.2 491L127 491.3L127.8 491.2L128.6 491L129.4 490L130.2 490.4L131 491L131.8 490.5L132.6 491.3L133.4 492.1L134.2 491L135 490.1L135.8 490.6L136.6 490.5L137.4 490.8L138.2 491.5L139 492.1L139.8 491.3L140.6 490.8L141.4 491.5L142.2 490.7L143 490.2L143.8 490.5L144.6 490.7L145.4 490L146.2 489.8L147 490.5L147.8 490.5L148.6 490.3L149.4 489.8L150.2 489.7L151 490L151.8 490.7L152.6 491.5L153.4 491.1L154.2 490.8L155 490.6L155.8 490.6L156.6 491.2L157.4 492.1L158.2 491.9L159 491.4L159.8 491.4L160.6 491.6L161.4 492.2L162.2 492L163 491.7L163.8 491.6L164.6 491.5L165.4 491.4L166.2 492L167 491.8L167.8 491L168.6 491.7L169.4 493.1L170.2 492L171 490.9L171.8 491.5L172.6 492.1L173.4 491.6L174.2 491.5L175 492.5L175.8 491.8L176.6 491.5L177.4 490.5L178.2 490.6L179 490.9L179.8 491.1L180.6 490.8L181.4 490.4L182.2 491.2L183 492.2L183.8 491.2L184.6 490.2L185.4 490.8L186.2 491.2L187 491.6L187.8 491.2L188.6 491.4L189.4 491.3L190.2 491.1L191 490.9L191.8 491.4L192.6 491.6L193.4 491.5L194.2 491.9L195 492L195.8 491.1L196.6 490.6L197.4 490.7L198.2 490.8L199 492L199.8 492L200.6 491.8L201.4 492.6L202.2 492.1L203 492.2L203.8 491.4L204.6 491.3L205.4 491.4L206.2 491.7L207 491.8L207.8 490.9L208.6 490.5L209.4 490.7L210.2 490.5L211 490.6L211.8 491.6L212.6 491.3L213.4 491.5L214.2 491.2L215 490.8L215.8 490.8L216.6 491.4L217.4 491.5L218.2 491L219 491.4L219.8 491.8L220.6 491.1L221.4 490.4L222.2 491.4L223 491.7L223.8 491.4L224.6 491.6L225.4 491.5L226.2 491.4L227 491.5L227.8 492L231.4 492L232.2 492.3L233 492.8L233.8 493.1L234.6 492.5L235.4 492.7L236.2 491.8L237 490.2L237.8 491.7L238.6 491.6L239.4 492.1L240.2 493.3L241 492.5L241.8 493.1L242.6 494.1L243.4 493.5L244.2 492.6L245 492L245.8 491.1L246.6 490.9L247.4 492.3L248.2 492.8L249 493L249.8 492.5L250.6 491.2L251.4 491.9L252.2 493L253 492.4L253.8 491.5L254.6 491.6L255.4 492.9L256.2 493.5L257 492.8L257.8 492.1L258.6 491.8L259.4 491.7L260.2 493.1L261 493.5L261.8 491L262.6 490.4L263.4 490.3L264.2 490.2L265 490.4L265.8 491.8L266.6 492.7L267.4 491.3L268.2 492.7L269 493.1L269.8 492.9L270.6 493.1L271.4 492.1L272.2 492.6L273 493.5L273.8 493.2L274.6 493.2L275.4 492.7L276.2 493L277 493.7L277.8 492.6L278.6 492.2L279.4 492.3" fill="none" stroke="#000" stroke-width="2.1" stroke-linejoin="round" stroke-linecap="butt"/>
<path d="M70.6 490.6L71.4 506L72.4 490.6" fill="none" stroke="#000" stroke-width="2.3000000000000003" stroke-linejoin="miter" stroke-linecap="butt"/>
<path d="M226.9 489.0L227.2 367.4L229.3 367.4L231.6 489.0L233.4 497.5L230.6 497.5L228.2 489.0Z" fill="#000" stroke="#000" stroke-width="0.3" stroke-linejoin="round"/>
<path d="M58.6 488.0L59.5 488.5L60.4 487.8L61.3 488.3L62.2 488.4L63.1 487.8L64.0 487.8L64.9 487.9L65.8 487.8L66.7 488.1L67.6 487.8L68.5 488.0L69.4 488.0L70.3 487.9L71.2 488.1L72.1 488.5L72.5 493.2L71.6 492.6L70.7 492.7L69.8 493.0L68.9 493.1L68.0 493.0L67.1 492.6L66.2 493.0L65.3 492.6L64.4 492.8L63.5 493.2L62.6 492.5L61.8 493.2L60.9 493.0L60.0 493.2L59.1 492.4Z" fill="#000" stroke="#000" stroke-width="0.6" stroke-linejoin="round"/>
<path d="M231.0 487.3L231.9 487.7L232.8 487.3L233.7 487.7L234.6 487.5L235.5 487.5L236.4 487.3L237.3 487.4L238.2 487.4L239.1 487.4L240.0 488.2L240.9 488.2L241.8 487.4L242.7 487.4L243.6 487.9L244.5 487.3L245.4 488.1L246.3 487.3L247.2 487.7L248.1 487.3L249.0 487.4L249.9 487.4L250.8 487.4L251.7 487.2L252.6 487.7L253.5 487.2L254.4 487.7L255.3 487.6L256.2 487.7L257.1 487.5L258.0 487.2L258.9 487.7L259.8 487.5L260.7 487.2L261.6 487.8L262.5 487.6L263.4 488.0L264.3 487.2L265.2 487.7L266.1 487.6L267.0 487.3L267.9 487.6L268.8 487.4L269.7 488.0L270.6 487.2L271.5 487.2L272.4 487.2L273.3 487.7L274.2 487.5L275.1 487.4L276.0 487.1L276.9 487.8L277.8 487.1L278.7 487.7L279.6 487.2L280.1 494.3L279.2 494.1L278.3 494.3L277.4 494.2L276.5 494.0L275.6 494.3L274.7 494.2L273.8 494.2L272.9 494.2L272.0 494.4L271.1 493.6L270.2 494.0L269.3 494.1L268.4 493.5L267.5 494.2L266.6 494.4L265.7 494.5L264.8 493.8L263.9 494.5L263.0 494.0L262.1 493.6L261.2 494.4L260.3 494.0L259.4 494.0L258.5 494.5L257.6 493.7L256.7 494.4L255.8 493.7L254.9 494.4L254.0 494.4L253.1 494.0L252.2 493.7L251.3 494.5L250.4 494.3L249.5 494.3L248.6 494.6L247.7 493.7L246.8 494.6L245.9 494.1L245.0 493.9L244.1 494.3L243.2 493.9L242.3 493.9L241.4 494.5L240.5 494.3L239.6 495.1L238.7 494.9L237.8 495.3L236.9 495.1L236.0 496.0L235.1 496.6L234.2 497.0L233.2 496.7L232.3 496.1L231.4 493.5Z" fill="#000" stroke="#000" stroke-width="0.6" stroke-linejoin="round"/>
<path d="M291.4 471.2L291.4 504.9L258.8 504.9" fill="none" stroke="#000" stroke-width="1.7" stroke-linejoin="miter" stroke-linecap="butt"/>
<text class="s" transform="translate(299.05 497.60) scale(0.9854 1)" font-size="21.5" stroke="#000" stroke-width="0.35">0.5nA</text>
<text class="s" transform="translate(248.30 524.00) scale(1.0517 1)" font-size="21.5" stroke="#000" stroke-width="0.35">10ms</text>
<text stroke="#000" stroke-width="1.1" vector-effect="non-scaling-stroke" class="h" transform="translate(395.79 311.45) scale(0.3092 0.2589)" font-size="100" font-weight="bold">E</text>
<text class="s" transform="translate(437.12 347.40) scale(0.9991 1)" font-size="21.5" stroke="#000" stroke-width="0.35">TTX+TEA, current c</text>
<path d="M434.7 483.2L435.5 483.1L436.3 482.1L437.1 481.9L437.9 482.5L438.7 482.9L439.5 482.5L440.3 482.1L441.1 482.4L441.9 482.7L442.7 482.7L443.5 482.6L444.3 482.6L445.1 482.4L445.9 481.9L446.7 481.7L447.5 482.1L448.3 482.7L449.1 482.5L449.9 482.9L450 482.4L450.8 475.3L451.6 459.8L452.4 448L453.2 438.9L454 431.8L454.8 425.9L455.6 421.9L456.4 418.1L457.2 415.4L458 412.9L458.8 411L459.6 410.1L460.4 409.2L461.2 408.5L462 407.9L462.8 407.6L463.6 407.1L464.4 407.8L465.2 408.1L466 408.2L466.8 408.9L467.6 409L468.4 409.5L469.2 409.8L470 409.9L470.8 410.3L471.6 411.5L472.4 411.8L473.2 411.4L474 411.4L474.8 411.5L475.6 411.4L476.4 411.9L477.2 412.2L478 411.7L478.8 410.8L479.6 411.4L480.4 411.9L481.2 411.5L482 411.3L482.8 411.2L483.6 410.7L484.4 411.3L485.2 411L486 410.3L486.8 410.8L487.6 410.9L488.4 411L489.2 410.7L490 411L490.8 410.7L491.6 410.4L492.4 410.7L493.2 410.9L494 410.7L494.8 411.4L495.6 411.7L496.4 411.9L497.2 411.3L498 411.2L498.8 411.3L499.6 411.8L500.4 411.9L501.2 412.2L502 412.1L502.8 412L503.6 411.9L504.4 411.7L505.2 411.5L506 411.2L506.8 411.7L507.6 412L508.4 411.1L509.2 411.1L510 411.8L510.8 411L511.6 411.2L512.4 411.7L513.2 411.3L514 411.1L514.8 411.7L515.6 411.7L516.4 411.5L517.2 411.7L518 412.4L518.8 412.7L519.6 412.4L520.4 412.7L521.2 412.6L522 412L522.8 412.5L523.6 412.6L524.4 412.1L525.2 412.1L526 412.1L526.8 412.7L527.6 412.6L528.4 412L529.2 411.8L530 412L530.8 412.4L531.6 412.1L532.4 411.7L533.2 411.5L534 411.6L534.8 411.4L535.6 411.8L536.4 412.1L537.2 411.7L538 410.7L538.8 410.8L539.6 410.7L540.4 410.8L541.2 411.3L542 410.9L542.8 411.1L543.6 411.2L544.4 411.5L545.2 411.2L546 411.2L546.8 411L547.6 411.1L548.4 411.6L549.2 411.8L550 412.1L550.8 411.6L551.6 411.2L552.4 411.6L553.2 412L554 411.4L554.8 411.5L555.6 411.5L556.4 411.5L557.2 411.4L558 411.8L558.8 411.6L559.6 411.5L560.4 411.7L561.2 411.6L562 411.1L562.8 410.9L563.6 411.5L564.4 411.8L565.2 411.7L566 411.3L566.8 411.4L567.6 411.6L568.4 411.3L569.2 410.7L570 410.6L570.8 410.9L571.6 411L572.4 411L573.2 411L574 411L574.8 411L575.6 410.7L576.4 410.8L577.2 411.1L578 411.4L578.8 411.5L579.6 411.1L580.4 410.8L581.2 410.8L582 411L582.8 411.1L583.6 410.6L584.4 411.3L585.2 411.5L586 411L586.8 411.3L587.6 411.4L588.4 411.5L589.2 411L590 411.5L590.8 411.6L591.6 410.8L592.4 410.9L593.2 411.1L594 411.2L594.8 411L595.6 411L596.4 410.9L597.2 410.9L598 411.6L598.8 411.8L599.6 411.4L600.4 412L601.2 412.4L602 411.6L602.8 411.6L603.6 412L607.1 488.7L607.9 488.5L608.7 488L609.5 488.2L610.3 487.4L611.1 486.7L611.9 487L612.7 486.9L613.5 486.4L614.3 485.6L615.1 485.7L615.9 485.5L616.7 485.5L617.5 485.4L618.3 485L619.1 485L619.9 484.5L620.7 484L621.5 484.3L622.3 484.1L623.1 483.9L623.9 483.8L624.7 483.7L625.5 483.7L626.3 483.5L627.1 483.7L627.9 483.3L628.7 482.6L629.5 482.3L630.3 483.3L631.1 483.6L631.9 483L632.7 483L633.5 482.5L634.3 482.3L635.1 483L635.9 482.9L636.7 482L637.5 482.3L638.3 482.7L639.1 482.7L639.9 482.2L640.7 482.1L641.5 482.6L642.3 482.3L643.1 482.5L643.9 482.6L644.7 482.2L645.5 482.4L646.3 482.2L647.1 482.4L647.9 482.1L648.7 481.8L649.5 481.8L650.3 481.9L651.1 481.7L651.9 481.8L652.7 482.1L653.5 482.2L654.3 482.2L655.1 482.4" fill="none" stroke="#000" stroke-width="1.9" stroke-linejoin="round" stroke-linecap="butt"/>
<path d="M434.7 481.7L435.5 481.9L436.3 481.8L437.1 481.7L437.9 482.1L438.7 482L439.5 481.9L440.3 481.9L441.1 482.1L441.9 482.2L442.7 482.7L443.5 482.5L444.3 482.3L445.1 482.7L445.9 482.7L446.7 482.4L447.5 482.7L448.3 482.4L449.1 481.7L449.9 482.2L450 482.2L450.8 477.1L451.6 465.8L452.4 456.9L453.2 450L454 444.3L454.8 440L455.6 436.9L456.4 435.3L457.2 432.8L458 430.8L458.8 430.3L459.6 429.2L460.4 427.9L461.2 427.7L462 427.3L462.8 427.1L463.6 426.9L464.4 426.4L465.2 426.2L466 426.3L466.8 426.8L467.6 426.6L468.4 426.5L469.2 426.6L470 426.1L470.8 425.8L471.6 425.8L472.4 425.8L473.2 425.6L474 426L474.8 426.2L475.6 426.2L476.4 426.5L477.2 425.8L478 425.7L478.8 425.8L479.6 426L480.4 426.1L481.2 426.5L482 426.5L482.8 425.9L483.6 425.7L484.4 425.9L485.2 426.5L486 426.7L486.8 426.4L487.6 426.1L488.4 425.8L489.2 425.7L490 425.8L490.8 426.3L491.6 426.4L492.4 426.1L493.2 425.8L494 425.7L494.8 426L495.6 425.8L496.4 425.5L497.2 425.6L498 425.9L498.8 425.7L499.6 425.5L500.4 425.5L501.2 425.3L502 425.7L502.8 426L503.6 426.7L504.4 426.5L505.2 426L506 426.3L506.8 426.2L507.6 426L508.4 425.6L509.2 425.6L510 425.2L510.8 425.5L511.6 425.2L512.4 425.5L513.2 425.3L514 425.4L514.8 425.8L515.6 425.2L516.4 424.4L517.2 424.4L518 425.2L518.8 425.2L519.6 425.5L520.4 425.6L521.2 425.8L522 426.2L522.8 426.2L523.6 425.7L524.4 425.7L525.2 425.5L526 425.7L526.8 426.3L527.6 426.1L528.4 425.6L529.2 425.8L530 426.4L530.8 426.8L531.6 426.3L532.4 425.8L533.2 425.9L534 425.3L534.8 425.3L535.6 425.6L536.4 426.1L537.2 426.1L538 426L538.8 426.4L539.6 426.5L540.4 425.8L541.2 425.4L542 426.1L542.8 426.4L543.6 426.1L544.4 426.1L545.2 426L546 425.7L546.8 425.9L547.6 425.6L548.4 425L549.2 425.5L550 425.5L550.8 424.9L551.6 425.3L552.4 425.6L553.2 425.6L554 425.9L554.8 426L555.6 425.7L556.4 425.6L557.2 425.6L558 425.6L558.8 426.1L559.6 426.5L560.4 426L561.2 425.9L562 425.9L562.8 425.8L563.6 425.5L564.4 425.4L565.2 425.4L566 425.1L566.8 425.1L567.6 425.6L568.4 425.6L569.2 425.4L570 425.2L570.8 425.3L571.6 425L572.4 425.1L573.2 425.3L574 425.3L574.8 425.8L575.6 426.1L576.4 426.6L577.2 426.4L578 426.3L578.8 426.4L579.6 426.6L580.4 426.4L581.2 426.4L582 426.6L582.8 425.8L583.6 425.9L584.4 425.7L585.2 425.8L586 425.5L586.8 425.3L587.6 425L588.4 425L589.2 425.5L590 425.4L590.8 425.4L591.6 425.1L592.4 424.5L593.2 424.3L594 424.8L594.8 425L595.6 425.3L596.4 425.6L597.2 425.3L598 425L598.8 425.1L599.6 425L600.4 425.4L601.2 425.8L602 426L602.8 426.2L603.6 425.8L607.1 488.8L607.9 488.5L608.7 488.4L609.5 488.1L610.3 487.7L611.1 487.4L611.9 487.1L612.7 486.4L613.5 486.1L614.3 486.3L615.1 486.4L615.9 486.6L616.7 486L617.5 485.1L618.3 484.8L619.1 485L619.9 484.6L620.7 484L621.5 484.5L622.3 484.8L623.1 484.3L623.9 484.3L624.7 484.6L625.5 484.5L626.3 484.7L627.1 484.4L627.9 484.1L628.7 484.2L629.5 483.8L630.3 483.8L631.1 483.6L631.9 483.7L632.7 484.2L633.5 483.7L634.3 483.5L635.1 483.5L635.9 483.6L636.7 484L637.5 483.8L638.3 483.6L639.1 483.9L639.9 483.8L640.7 483.7L641.5 483.5L642.3 483.2L643.1 483.6L643.9 483.9L644.7 483.4L645.5 483L646.3 483.7L647.1 483.8L647.9 483.2L648.7 483.2L649.5 483.3L650.3 483.5L651.1 483.4L651.9 482.8L652.7 483L653.5 483.3L654.3 483.2L655.1 483" fill="none" stroke="#000" stroke-width="1.9" stroke-linejoin="round" stroke-linecap="butt"/>
<path d="M434.7 483L435.5 482.1L436.3 482.2L437.1 482.1L437.9 482.2L438.7 482.8L439.5 482.7L440.3 482.5L441.1 482.7L441.9 483L442.7 483.6L443.5 482.4L444.3 481.7L445.1 482.3L445.9 482.6L446.7 482.7L447.5 482.3L448.3 482.2L449.1 482.3L449.9 482.6L450 482.1L450.8 478.5L451.6 470L452.4 463.1L453.2 458.3L454 454.2L454.8 450.8L455.6 448.3L456.4 445.9L457.2 444.3L458 443.5L458.8 442.5L459.6 441.1L460.4 440.2L461.2 439.7L462 439.3L462.8 438.8L463.6 438.8L464.4 438.1L465.2 437.2L466 437.3L466.8 437.9L467.6 437.5L468.4 436.8L469.2 437L470 436.8L470.8 436.4L471.6 436.9L472.4 437.1L473.2 437.6L474 437.6L474.8 437.4L475.6 437.6L476.4 437.3L477.2 437.1L478 437.4L478.8 437.6L479.6 438.1L480.4 438.3L481.2 437.6L482 437.5L482.8 437.4L483.6 437.6L484.4 437.8L485.2 437.3L486 437.1L486.8 437.6L487.6 437.3L488.4 436.8L489.2 436.8L490 436.8L490.8 436.9L491.6 437.2L492.4 437.6L493.2 437.9L494 437.8L494.8 437.2L495.6 437.2L496.4 437.1L497.2 437L498 436.9L498.8 436.8L499.6 436.5L500.4 437L501.2 437.6L502 437.4L502.8 437.5L503.6 437.8L504.4 438L505.2 437.9L506 437.8L506.8 437.5L507.6 438L508.4 438.6L509.2 438L510 437.6L510.8 437.2L511.6 437.3L512.4 437.8L513.2 437.7L514 437.9L514.8 437.9L515.6 437.7L516.4 437.2L517.2 437.8L518 438.3L518.8 438.5L519.6 438.3L520.4 437.8L521.2 437.8L522 438.3L522.8 438.3L523.6 437.2L524.4 437.7L525.2 438.1L526 437.2L526.8 436.9L527.6 437L528.4 437.3L529.2 438L530 438.1L530.8 437.7L531.6 437.6L532.4 438L533.2 438.2L534 438.2L534.8 438.3L535.6 438.6L536.4 438L537.2 438.1L538 438.3L538.8 438L539.6 438.1L540.4 438.3L541.2 437.9L542 437.4L542.8 437.2L543.6 436.4L544.4 437.2L545.2 437.6L546 437.7L546.8 437.6L547.6 437.1L548.4 436.9L549.2 437.4L550 437.7L550.8 436.9L551.6 436.8L552.4 437L553.2 437.1L554 437.5L554.8 437.7L555.6 437.4L556.4 437.3L557.2 436.9L558 436.9L558.8 437L559.6 437.5L560.4 438L561.2 437.6L562 437.8L562.8 438.6L563.6 437.9L564.4 437L565.2 437.6L566 438.3L566.8 437.7L567.6 437.4L568.4 437.5L569.2 437.9L570 438.1L570.8 437.4L571.6 437L572.4 436.8L573.2 437.1L574 437.8L574.8 438L575.6 437.9L576.4 437.3L577.2 437.1L578 437.2L578.8 436.7L579.6 437.2L580.4 437.5L581.2 437.6L582 437.7L582.8 437.2L583.6 437.1L584.4 437.2L585.2 436.9L586 436.6L586.8 437L587.6 437.1L588.4 436.6L589.2 436.7L590 437.1L590.8 437L591.6 437.4L592.4 437L593.2 436.5L594 436.8L594.8 436.7L595.6 436.3L596.4 436.3L597.2 436.4L598 436.2L598.8 436.3L599.6 436.5L600.4 436.6L601.2 436.3L602 437L602.8 437.7L603.6 437.7L607.1 488.5L607.9 487.6L608.7 486.8L609.5 486.3L610.3 486.2L611.1 486.5L611.9 486L612.7 485.1L613.5 484.8L614.3 485.1L615.1 484.8L615.9 484.8L616.7 485.1L617.5 484.5L618.3 484.4L619.1 484.2L619.9 484.3L620.7 484.4L621.5 484.3L622.3 484.7L623.1 484.3L623.9 483.9L624.7 483.2L625.5 483.3L626.3 484L627.1 483.9L627.9 483.6L628.7 483.3L629.5 482.7L630.3 482.8L631.1 483.2L631.9 483.2L632.7 483.4L633.5 483.4L634.3 483L635.1 483.2L635.9 483.5L636.7 483.2L637.5 482.7L638.3 482.6L639.1 482.6L639.9 482.7L640.7 483L641.5 483.4L642.3 483.7L643.1 483.1L643.9 482.7L644.7 482.8L645.5 482.6L646.3 483L647.1 483.1L647.9 482.2L648.7 482.2L649.5 482.1L650.3 482.2L651.1 483L651.9 483L652.7 482.3L653.5 482.3L654.3 483L655.1 483.1" fill="none" stroke="#000" stroke-width="1.9" stroke-linejoin="round" stroke-linecap="butt"/>
<path d="M434.7 482.2L435.5 482L436.3 481.1L437.1 481.2L437.9 482.4L438.7 482.7L439.5 481.9L440.3 481.5L441.1 481.7L441.9 482.3L442.7 482.6L443.5 481.7L444.3 481.5L445.1 482.3L445.9 482.7L446.7 482.3L447.5 481.7L448.3 481.2L449.1 482.3L449.9 482.7L450 482.2L450.8 480.3L451.6 475.7L452.4 471.5L453.2 468.5L454 466.4L454.8 463.9L455.6 461.8L456.4 460.1L457.2 459.1L458 458L458.8 456.4L459.6 456.2L460.4 456.2L461.2 455.2L462 454.8L462.8 454.8L463.6 454.2L464.4 453.8L465.2 453L466 453.3L466.8 453.6L467.6 452.9L468.4 453.5L469.2 453.8L470 453.3L470.8 453L471.6 452.9L472.4 453L473.2 453.5L474 453.5L474.8 453.4L475.6 453.3L476.4 453.1L477.2 453.1L478 452.9L478.8 453.1L479.6 453.4L480.4 453.6L481.2 453.1L482 452.9L482.8 452.8L483.6 453.1L484.4 452.9L485.2 453L486 453L486.8 452.6L487.6 452L488.4 452L489.2 452.3L490 452.2L490.8 451.9L491.6 452L492.4 452L493.2 452.1L494 452.5L494.8 452.6L495.6 452.3L496.4 452.5L497.2 452.7L498 452.6L498.8 453L499.6 452.4L500.4 452.9L501.2 453.3L502 453.9L502.8 454.1L503.6 453.1L504.4 452.8L505.2 453.5L506 453.5L506.8 453L507.6 453.2L508.4 453L509.2 452.8L510 452.6L510.8 452.4L511.6 452.9L512.4 453.9L513.2 454L514 453.6L514.8 453.7L515.6 453.4L516.4 452.9L517.2 452.7L518 453.1L518.8 453L519.6 452.6L520.4 452.6L521.2 452.7L522 452.4L522.8 452.3L523.6 452.4L524.4 452.5L525.2 452.6L526 452.8L526.8 452.8L527.6 452.9L528.4 453L529.2 453.2L530 452.8L530.8 452.5L531.6 453L532.4 453.1L533.2 453L534 453.7L534.8 453.7L535.6 453L536.4 453.8L537.2 453.4L538 453L538.8 453.5L539.6 453.4L540.4 453.6L541.2 453L542 452.5L542.8 453.1L543.6 453.2L544.4 452.5L545.2 452L546 451.6L546.8 452.2L547.6 452.3L548.4 451.8L549.2 452.3L550 452.1L550.8 451.9L551.6 451.9L552.4 451.8L553.2 452.1L554 452.6L554.8 452.1L555.6 452.1L556.4 452.2L557.2 451.8L558 452.1L558.8 452.6L559.6 452.9L560.4 452.4L561.2 452.3L562 452.8L562.8 452.5L563.6 452.1L564.4 452.3L565.2 452.8L566 453.2L566.8 453.2L567.6 453.2L568.4 452.8L569.2 452.6L570 452.6L570.8 453L571.6 453.7L572.4 453.4L573.2 453.3L574 453.3L574.8 453.2L575.6 453.4L576.4 453.9L577.2 453.4L578 453L578.8 453.6L579.6 453.9L580.4 453.9L581.2 453.5L582 452.7L582.8 452.5L583.6 453.2L584.4 453.3L585.2 453.1L586 452.1L586.8 452.3L587.6 453.4L588.4 453.2L589.2 453L590 453L590.8 452.7L591.6 452.9L592.4 452.8L593.2 452.5L594 452.6L594.8 452.5L595.6 452.6L596.4 452.3L597.2 452.7L598 452.6L598.8 452.2L599.6 452.5L600.4 452.4L601.2 452.5L602 452.8L602.8 452.7L603.6 452.8L607.1 485.2L607.9 485.2L608.7 485.3L609.5 485.1L610.3 484.8L611.1 484.7L611.9 484.9L612.7 484L613.5 483.8L614.3 484.7L615.1 484.6L615.9 483.9L616.7 483.7L617.5 483.8L618.3 483.9L619.1 483.8L619.9 483.8L620.7 483.3L621.5 483.1L622.3 483.5L623.1 483.3L623.9 483.1L624.7 483.5L625.5 483.3L626.3 483.3L627.1 483.1L627.9 482.5L628.7 482.4L629.5 482.9L630.3 483.1L631.1 483L631.9 482.8L632.7 482.8L633.5 483L634.3 482.9L635.1 483L635.9 482.8L636.7 482.6L637.5 482.6L638.3 482.6L639.1 483.1L639.9 483.8L640.7 483.9L641.5 483.2L642.3 482.5L643.1 482.4L643.9 482.6L644.7 483L645.5 483.1L646.3 483.1L647.1 482.4L647.9 482.2L648.7 483.3L649.5 483.2L650.3 482.8L651.1 482.8L651.9 482.8L652.7 483L653.5 482.8L654.3 482.9L655.1 482.7" fill="none" stroke="#000" stroke-width="1.9" stroke-linejoin="round" stroke-linecap="butt"/>
<path d="M434.7 481.5L435.5 481.4L436.3 481.8L437.1 481.6L437.9 481.9L438.7 481.7L439.5 481.5L440.3 482.2L441.1 482.3L441.9 482.4L442.7 482.3L443.5 481.8L444.3 482.1L445.1 482.4L445.9 482.1L446.7 482.1L447.5 482L448.3 482.3L449.1 482.4L449.9 482.1L450 482L450.8 481.1L451.6 478.8L452.4 476.5L453.2 474.3L454 473.2L454.8 471.9L455.6 470.4L456.4 469.9L457.2 469.3L458 468.5L458.8 467.9L459.6 467.6L460.4 467.3L461.2 467.3L462 467.3L462.8 466.8L463.6 466.5L464.4 466.3L465.2 466.3L466 466.4L466.8 466.9L467.6 467.2L468.4 466.5L469.2 466.2L470 466.4L470.8 466.3L471.6 465.7L472.4 465.5L473.2 465.8L474 466.1L474.8 466L475.6 465.6L476.4 465.1L477.2 465L478 464.9L478.8 464.9L479.6 465L480.4 465.2L481.2 464.9L482 465L482.8 465.3L483.6 465.1L484.4 464.8L485.2 464.8L486 465.2L486.8 464.9L487.6 464.9L488.4 464.5L489.2 465L490 465.2L490.8 464.6L491.6 464.8L492.4 464.4L493.2 464.3L494 464.9L494.8 464.9L495.6 464.6L496.4 465.1L497.2 465.1L498 464.6L498.8 464.7L499.6 464.9L500.4 465.3L501.2 464.9L502 465.2L502.8 464.9L503.6 464.2L504.4 464.1L505.2 464.3L506 464.4L506.8 464.2L507.6 463.7L508.4 463.5L509.2 464L510 463.4L510.8 463.3L511.6 463.8L512.4 464.6L513.2 464.1L514 463.5L514.8 463.9L515.6 464.2L516.4 464.2L517.2 464L518 463.7L518.8 463.9L519.6 464.2L520.4 463.7L521.2 463.3L522 463.6L522.8 463.8L523.6 464.3L524.4 464.4L525.2 464L526 464.4L526.8 464.5L527.6 464.1L528.4 464.2L529.2 464.1L530 464.3L530.8 464.4L531.6 464.1L532.4 464.2L533.2 464.1L534 464.3L534.8 464.7L535.6 464.3L536.4 464.2L537.2 465.2L538 465.5L538.8 464.8L539.6 464.6L540.4 464.5L541.2 464.4L542 465L542.8 464.6L543.6 464.6L544.4 464.6L545.2 464.6L546 464.8L546.8 465L547.6 465L548.4 464.8L549.2 465.4L550 465.5L550.8 465.1L551.6 464.6L552.4 464.5L553.2 464.4L554 464.2L554.8 464.4L555.6 464.7L556.4 465L557.2 464.3L558 463.9L558.8 464.4L559.6 464.3L560.4 463.9L561.2 463.9L562 463.7L562.8 463.6L563.6 463.8L564.4 463.9L565.2 463.6L566 463.5L566.8 463.6L567.6 463.4L568.4 463.2L569.2 463.4L570 463.8L570.8 463.5L571.6 463.8L572.4 464.5L573.2 464L574 463.7L574.8 464.2L575.6 464.5L576.4 464.2L577.2 463.8L578 463.9L578.8 464L579.6 464.3L580.4 464.2L581.2 464L582 464.5L582.8 464.4L583.6 464.3L584.4 464.2L585.2 464.1L586 463.9L586.8 464.4L587.6 464.9L588.4 464.7L589.2 464.6L590 463.9L590.8 463.7L591.6 463.4L592.4 463.1L593.2 463.5L594 463.8L594.8 463.8L595.6 464L596.4 463.8L597.2 463.6L598 463.5L598.8 463.3L599.6 463.6L600.4 463.7L601.2 463.7L602 463.8L602.8 464.1L603.6 464L607.1 483.2L607.9 483.4L608.7 483.6L609.5 483.2L610.3 483.1L611.1 483L611.9 483.4L612.7 483.2L613.5 482.9L614.3 483.5L615.1 483.7L615.9 483.1L616.7 482.9L617.5 482.8L618.3 482.9L619.1 482.9L619.9 482.9L620.7 482.7L621.5 482.6L622.3 482.7L623.1 482.6L623.9 482.6L624.7 482.4L625.5 482.3L626.3 482.4L627.1 482.4L627.9 482L628.7 482.1L629.5 482.4L630.3 482.4L631.1 482.6L631.9 482.2L632.7 481.8L633.5 482.1L634.3 482.3L635.1 482.1L635.9 482.1L636.7 482.4L637.5 482.5L638.3 482.1L639.1 481.8L639.9 481.8L640.7 482.1L641.5 481.8L642.3 481.6L643.1 481.8L643.9 482.1L644.7 482L645.5 481.8L646.3 482L647.1 482L647.9 481.8L648.7 482.1L649.5 483.1L650.3 482.6L651.1 482.1L651.9 482.4L652.7 482.4L653.5 482.3L654.3 482.3L655.1 482.6" fill="none" stroke="#000" stroke-width="1.9" stroke-linejoin="round" stroke-linecap="butt"/>
<path d="M434.7 484.1L435.5 483.6L436.3 483L437.1 483.7L437.9 483.8L438.7 483.3L439.5 483.5L440.3 483.5L441.1 483.1L441.9 483.2L442.7 483.4L443.5 483.2L444.3 483.4L445.1 483.6L445.9 483.8L446.7 483.9L447.5 483.4L448.3 483.4L449.1 483.5L449.9 483.7L450 483.3L450.8 482.8L451.6 482L452.4 480.9L453.2 479.9L454 478.8L454.8 478.1L455.6 477.7L456.4 477.7L457.2 477.4L458 477.3L458.8 476.8L459.6 476.1L460.4 475.9L461.2 476.1L462 476.1L462.8 475.4L463.6 475.4L464.4 475.6L465.2 474.3L466 474L466.8 474.4L467.6 474L468.4 474L469.2 474.5L470 474.4L470.8 473.7L471.6 473.3L472.4 473.2L473.2 473.4L474 474.2L474.8 474.4L475.6 474L476.4 474.2L477.2 473.9L478 473.5L478.8 473.8L479.6 473.8L480.4 473.7L481.2 473.4L482 472.7L482.8 473.2L483.6 473.2L484.4 473.3L485.2 473.7L486 473.1L486.8 473.1L487.6 473.3L488.4 472.6L489.2 473.2L490 474L490.8 473.5L491.6 473.4L492.4 473.7L493.2 473.9L494 474L494.8 474L495.6 473.1L496.4 473.1L497.2 473.6L498 473.9L498.8 473.4L499.6 473.1L500.4 473.3L501.2 473.5L502 474L502.8 473.4L503.6 472.9L504.4 473.1L505.2 473.2L506 473.1L506.8 473.5L507.6 473L508.4 472.7L509.2 473L510 473.4L510.8 472.8L511.6 472.9L512.4 473.1L513.2 472.9L514 473L514.8 473.2L515.6 472.9L516.4 472.8L517.2 473L518 473.3L518.8 473.1L519.6 472.8L520.4 473.4L521.2 473.5L522 472.8L522.8 472.8L523.6 473.1L524.4 472.9L525.2 473.2L526 473.9L526.8 473.9L527.6 473L528.4 472.6L529.2 472.5L530 472.7L530.8 473.4L531.6 473.6L532.4 472.9L533.2 473.2L534 473.7L534.8 473.3L535.6 473.5L536.4 473.7L537.2 473.6L538 473.3L538.8 473.2L539.6 473.5L540.4 474L541.2 474.1L542 473.7L542.8 473.4L543.6 473.9L544.4 474L545.2 473.3L546 473.5L546.8 473.4L547.6 472.4L548.4 472.3L549.2 472.2L550 472.1L550.8 472.6L551.6 473.1L552.4 473.4L553.2 473.3L554 472.8L554.8 472.3L555.6 472.7L556.4 472.7L557.2 472.7L558 472.7L558.8 472.4L559.6 472.3L560.4 472.2L561.2 472.5L562 472.8L562.8 473.2L563.6 473.6L564.4 473.4L565.2 473.6L566 473.8L566.8 473.6L567.6 473L568.4 472.9L569.2 473.2L570 473.4L570.8 473.9L571.6 473.8L572.4 473.8L573.2 473.4L574 473.2L574.8 473.2L575.6 473.4L576.4 472.9L577.2 473L578 473.2L578.8 473L579.6 473.1L580.4 473.2L581.2 473.4L582 472.8L582.8 473L583.6 473L584.4 472.9L585.2 473.6L586 473.8L586.8 473.2L587.6 473L588.4 473.8L589.2 473.9L590 473.1L590.8 473.1L591.6 473.2L592.4 472.9L593.2 473.3L594 473.8L594.8 473.1L595.6 472.5L596.4 472.5L597.2 472.1L598 472.1L598.8 472.3L599.6 472.3L600.4 472L601.2 472.5L602 472.6L602.8 472L603.6 472.3L607.1 484L607.9 483.8L608.7 483.6L609.5 483.3L610.3 483.9L611.1 484.2L611.9 483.9L612.7 483.8L613.5 484.1L614.3 484.2L615.1 484.1L615.9 483.7L616.7 483.6L617.5 483.6L618.3 483.5L619.1 483.7L619.9 483.8L620.7 484L621.5 483.2L622.3 483.1L623.1 483.6L623.9 483.9L624.7 484.1L625.5 483.9L626.3 484.1L627.1 483.7L627.9 483.1L628.7 483.1L629.5 482.9L630.3 483L631.1 482.9L631.9 483.5L632.7 483.7L633.5 483.8L634.3 483.9L635.1 483.7L635.9 484L636.7 483.7L637.5 483.2L638.3 483.6L639.1 483.8L639.9 483.3L640.7 484.1L641.5 483.7L642.3 482.9L643.1 483.5L643.9 483.4L644.7 483.5L645.5 483.5L646.3 483.5L647.1 483.5L647.9 483.4L648.7 483.4L649.5 483.2L650.3 483.1L651.1 483.2L651.9 483.4L652.7 484.1L653.5 483.7L654.3 482.8L655.1 482.5" fill="none" stroke="#000" stroke-width="1.9" stroke-linejoin="round" stroke-linecap="butt"/>
<path d="M434.7 481.8L435.5 481.4L436.3 482.2L437.1 482.4L437.9 481.8L438.7 481.6L439.5 481.6L440.3 481.8L441.1 481.8L441.9 481.8L442.7 481.3L443.5 480.9L444.3 481.6L445.1 482.1L445.9 481.9L446.7 481.8L447.5 482.2L448.3 481.8L449.1 481.8L449.9 482.5L450 481.7L450.8 481.8L451.6 481.6L452.4 481.4L453.2 481.2L454 481L454.8 480.9L455.6 480.5L456.4 479.9L457.2 479.8L458 480.2L458.8 480.1L459.6 480.1L460.4 479.8L461.2 479.5L462 479.6L462.8 480.2L463.6 480.3L464.4 480.6L465.2 480.7L466 480.6L466.8 480L467.6 479.9L468.4 480.3L469.2 480.1L470 480.3L470.8 480.5L471.6 480.4L472.4 480.4L473.2 480.2L474 480.1L474.8 480.1L475.6 479.8L476.4 479.9L477.2 480.2L478 479.6L478.8 479.2L479.6 479.4L480.4 478.7L481.2 478.5L482 478.5L482.8 478.8L483.6 479.4L484.4 479.5L485.2 479.7L486 479.2L486.8 478.7L487.6 479.4L488.4 479.8L489.2 479.6L490 480L490.8 480.7L491.6 480.4L492.4 480L493.2 480.1L494 480.4L494.8 479.7L495.6 479.4L496.4 479.7L497.2 479.3L498 479.3L498.8 479.7L499.6 479.4L500.4 478.8L501.2 479.1L502 479.7L502.8 479.8L503.6 479.9L504.4 480.3L505.2 480.5L506 480.2L506.8 479.7L507.6 479.9L508.4 480.2L509.2 480.1L510 480.3L510.8 480.3L511.6 479.9L512.4 480.4L513.2 480.5L514 480.4L514.8 479.9L515.6 479.7L516.4 480.4L517.2 480.4L518 480L518.8 479.9L519.6 479.3L520.4 479L521.2 479.6L522 479.5L522.8 479.6L523.6 479.7L524.4 479.1L525.2 478.6L526 478.6L526.8 478.7L527.6 478.4L528.4 478.4L529.2 479.2L530 479.1L530.8 479.3L531.6 479.7L532.4 479.4L533.2 479.5L534 479.5L534.8 479.6L535.6 479.8L536.4 480.1L537.2 479.9L538 479.7L538.8 480.1L539.6 480.1L540.4 480.1L541.2 479.9L542 479.9L542.8 479.8L543.6 479.6L544.4 479.9L545.2 479.7L546 479.6L546.8 479.9L547.6 480L548.4 479.7L549.2 479.7L550 479.8L550.8 480L551.6 479.7L552.4 479.3L553.2 479.1L554 479L554.8 479.8L555.6 479.8L556.4 479.8L557.2 480.1L558 479.9L558.8 479.4L559.6 479.1L560.4 479.6L561.2 479.5L562 479.8L562.8 480.1L563.6 479.7L564.4 479.7L565.2 479.8L566 479.6L566.8 479.9L567.6 479.6L568.4 479.6L569.2 480.1L570 480.5L570.8 480.5L571.6 480.3L572.4 479.7L573.2 480.1L574 480L574.8 479.6L575.6 479.3L576.4 479.1L577.2 479.8L578 479.5L578.8 479.5L579.6 479.8L580.4 479.3L581.2 479.3L582 479.3L582.8 479.4L583.6 479.5L584.4 479.3L585.2 479.3L586 478.9L586.8 479.3L587.6 479.7L588.4 479.3L589.2 478.9L590 479.1L590.8 479.4L591.6 479.4L592.4 478.9L593.2 479.1L594 479.3L594.8 479L595.6 478.9L596.4 479.2L597.2 479.6L598 479.6L598.8 479.5L599.6 479.1L600.4 479L601.2 479L602 478.7L602.8 478.8L603.6 479.3L607.1 481.9L607.9 482.8L608.7 482.8L609.5 482.2L610.3 482.5L611.1 482.9L611.9 483.2L612.7 482.6L613.5 482L614.3 482.4L615.1 482.6L615.9 482L616.7 482.4L617.5 482.4L618.3 481.9L619.1 482.4L619.9 482.3L620.7 482.6L621.5 483.3L622.3 482.3L623.1 481.8L623.9 482.6L624.7 482.8L625.5 482.8L626.3 482.2L627.1 482.4L627.9 482.7L628.7 482.1L629.5 482.2L630.3 482.6L631.1 482.5L631.9 482.2L632.7 482L633.5 481.7L634.3 482.1L635.1 482.2L635.9 481.8L636.7 482.3L637.5 482.5L638.3 482.4L639.1 482.6L639.9 482.7L640.7 482.8L641.5 482.9L642.3 482.4L643.1 482.2L643.9 482.3L644.7 482.1L645.5 482.2L646.3 482.2L647.1 482.2L647.9 482.4L648.7 482.2L649.5 482.6L650.3 483.2L651.1 483.3L651.9 483.3L652.7 483.2L653.5 482.9L654.3 483.1L655.1 482.9" fill="none" stroke="#000" stroke-width="1.9" stroke-linejoin="round" stroke-linecap="butt"/>
<path d="M434.7 482.7L435.5 482.3L436.3 481.3L437.1 481.8L437.9 482.7L438.7 482.6L439.5 482.5L440.3 482.4L441.1 482.1L441.9 482.3L442.7 481.8L443.5 481.4L444.3 481.7L445.1 482L445.9 482.3L446.7 482.3L447.5 482.3L448.3 482.2L449.1 482.1L449.9 482.7L450 482.2L450.8 482.4L451.6 482.4L452.4 482.3L453.2 482.2L454 482.8L454.8 482.4L455.6 481.6L456.4 481.4L457.2 482.1L458 482L458.8 481.8L459.6 481.9L460.4 481.4L461.2 481.7L462 482.1L462.8 481.8L463.6 481.1L464.4 480.9L465.2 481.6L466 481.7L466.8 481.3L467.6 481.4L468.4 481.8L469.2 481.3L470 480.9L470.8 480.7L471.6 480.9L472.4 481.1L473.2 481.3L474 481.2L474.8 481.2L475.6 481L476.4 481.5L477.2 481.8L478 481.1L478.8 481.1L479.6 481.4L480.4 481.6L481.2 481.4L482 481L482.8 481.2L483.6 481.8L484.4 481.5L485.2 481L486 481.3L486.8 481.8L487.6 481.3L488.4 481.2L489.2 481.1L490 481.3L490.8 481.7L491.6 481.5L492.4 481.5L493.2 481L494 481.6L494.8 482.1L495.6 481.7L496.4 480.7L497.2 481.1L498 481.3L498.8 481.1L499.6 481.7L500.4 481.9L501.2 481.7L502 481.5L502.8 481.9L503.6 481.7L504.4 481.2L505.2 481.3L506 482.1L506.8 482.4L507.6 482.1L508.4 481.8L509.2 482L510 482.1L510.8 481.8L511.6 481.6L512.4 481.8L513.2 482.6L514 482.4L514.8 481.9L515.6 482.1L516.4 482.1L517.2 481.6L518 480.8L518.8 481.3L519.6 481.5L520.4 481.3L521.2 481.3L522 481.5L522.8 482.1L523.6 481.6L524.4 481L525.2 481.3L526 481.2L526.8 481.2L527.6 481.6L528.4 481.3L529.2 481.5L530 481.6L530.8 481.7L531.6 482.1L532.4 481.6L533.2 481L534 480.8L534.8 480.5L535.6 480.7L536.4 480.7L537.2 480.3L538 480.3L538.8 480L539.6 479.9L540.4 480.2L541.2 479.8L542 480.5L542.8 480.9L543.6 480.7L544.4 481.1L545.2 481.4L546 481.7L546.8 481.5L547.6 481.4L548.4 481.1L549.2 480.7L550 481L550.8 482L551.6 481.7L552.4 481.7L553.2 481.6L554 481.4L554.8 481.9L555.6 481.7L556.4 481.1L557.2 481.6L558 482.1L558.8 482.3L559.6 482.8L560.4 482.6L561.2 482.3L562 482.2L562.8 482.5L563.6 482.3L564.4 482.1L565.2 481.9L566 482L566.8 481.6L567.6 480.9L568.4 481L569.2 481.6L570 481.7L570.8 481.9L571.6 481.9L572.4 481L573.2 480.9L574 481L574.8 480.8L575.6 481L576.4 481.3L577.2 481L578 481L578.8 481L579.6 480.4L580.4 480.6L581.2 480.7L582 480.6L582.8 481L583.6 481.1L584.4 481L585.2 481.9L586 482.2L586.8 482L587.6 481.7L588.4 482L589.2 481.9L590 481.5L590.8 481.6L591.6 481.4L592.4 481.4L593.2 481.5L594 481.5L594.8 482L595.6 482L596.4 481.2L597.2 481.3L598 481.7L598.8 481.7L599.6 482L600.4 482.3L601.2 481.9L602 481.5L602.8 481.2L603.6 481.7L607.1 483.5L607.9 483.4L608.7 483.2L609.5 483.5L610.3 483.9L611.1 483.5L611.9 483.4L612.7 483.8L613.5 483.3L614.3 482.6L615.1 483.1L615.9 483.2L616.7 483.2L617.5 483.7L618.3 483.6L619.1 483.3L619.9 483.6L620.7 484.1L621.5 483.5L622.3 483.3L623.1 483.9L623.9 483.9L624.7 483.5L625.5 483.1L626.3 482.8L627.1 483L627.9 483.2L628.7 483.3L629.5 483.7L630.3 483.6L631.1 483.5L631.9 483.9L632.7 483.7L633.5 483.9L634.3 484.2L635.1 483.4L635.9 482.9L636.7 483.4L637.5 483.8L638.3 483.1L639.1 483.1L639.9 484L640.7 484.1L641.5 483.3L642.3 483.4L643.1 484L643.9 483.5L644.7 483.4L645.5 483.2L646.3 483.6L647.1 484.1L647.9 483.1L648.7 482.8L649.5 483.1L650.3 483L651.1 483.5L651.9 484L652.7 483.8L653.5 483.8L654.3 483.5L655.1 483.1" fill="none" stroke="#000" stroke-width="1.9" stroke-linejoin="round" stroke-linecap="butt"/>
<path d="M434.7 482.4L435.5 482.3L436.3 481.9L437.1 481.6L437.9 482.1L438.7 482.9L439.5 482.7L440.3 482.6L441.1 482.7L441.9 482.2L442.7 482.5L443.5 482.6L444.3 482.2L445.1 482.3L445.9 482.3L446.7 481.9L447.5 481.8L448.3 482L449.1 482.2L449.9 482.6L450 482.4L450.8 482.3L451.6 482.2L452.4 482.5L453.2 482.5L454 482.3L454.8 482.2L455.6 482.3L456.4 482.5L457.2 482.6L458 482.9L458.8 482.9L459.6 482.7L460.4 482.8L461.2 483.2L462 483.1L462.8 483.3L463.6 483.3L464.4 483.6L465.2 483.6L466 483.4L466.8 483.5L467.6 483.7L468.4 483.5L469.2 483.3L470 483.6L470.8 483.4L471.6 483.4L472.4 483.3L473.2 483.5L474 483.8L474.8 483.2L475.6 482.8L476.4 482.9L477.2 482.8L478 482.9L478.8 483.3L479.6 483L480.4 483.2L481.2 483.5L482 483.5L482.8 483L483.6 482.9L484.4 483.1L485.2 482.7L486 482.4L486.8 483.2L487.6 483.2L488.4 483.1L489.2 483.3L490 483.2L490.8 482.7L491.6 483L492.4 483.4L493.2 482.9L494 483.1L494.8 483.5L495.6 483.5L496.4 483L497.2 482.6L498 483.1L498.8 483.6L499.6 483.2L500.4 483.2L501.2 482.9L502 482.6L502.8 483L503.6 483.3L504.4 483.1L505.2 482.9L506 483.2L506.8 483.4L507.6 483L508.4 483L509.2 483.3L510 482.9L510.8 483L511.6 483.2L512.4 483L513.2 482.6L514 482.2L514.8 482.7L515.6 482.7L516.4 482.9L517.2 483.5L518 483.4L518.8 483.2L519.6 482.8L520.4 482.5L521.2 483L522 483.6L522.8 483.1L523.6 483L524.4 483.6L525.2 483.7L526 483.4L526.8 483.8L527.6 484L528.4 483.9L529.2 484L530 483.6L530.8 483L531.6 482.9L532.4 483.9L533.2 484.9L534 484.2L534.8 484.1L535.6 483.9L536.4 483.5L537.2 484L538 483.8L538.8 483.3L539.6 483.2L540.4 483.2L541.2 483.9L542 483.7L542.8 482.7L543.6 482.3L544.4 482.2L545.2 482.5L546 482.7L546.8 482.7L547.6 482.7L548.4 483.3L549.2 483.6L550 483.6L550.8 483L551.6 482.9L552.4 482.8L553.2 482.5L554 483.7L554.8 484.1L555.6 484L556.4 483.3L557.2 482.6L558 482.7L558.8 483.1L559.6 483.1L560.4 483L561.2 482.8L562 482.5L562.8 482.9L563.6 482.6L564.4 482.4L565.2 482.9L566 483.4L566.8 483.6L567.6 483.8L568.4 483.4L569.2 483.5L570 483.5L570.8 483.7L571.6 483.6L572.4 483L573.2 483.2L574 483.1L574.8 482.9L575.6 482.9L576.4 483.1L577.2 483.6L578 483L578.8 482.8L579.6 483.3L580.4 483.1L581.2 483.4L582 483.6L582.8 483.8L583.6 483.7L584.4 483.3L585.2 483L586 482.5L586.8 482.2L587.6 482.3L588.4 482.5L589.2 482.8L590 482.7L590.8 482.6L591.6 482.3L592.4 482.5L593.2 483.2L594 483.3L594.8 482.4L595.6 482.5L596.4 482.9L597.2 483.2L598 483.3L598.8 483.3L599.6 483.3L600.4 482.9L601.2 483.6L602 483.7L602.8 483.7L603.6 483.4L607.1 482.6L607.9 482.3L608.7 481.9L609.5 482L610.3 482.4L611.1 482.2L611.9 482.4L612.7 482.3L613.5 482.5L614.3 482.4L615.1 482.1L615.9 481.9L616.7 482.1L617.5 482L618.3 481.6L619.1 482.3L619.9 482.3L620.7 481.6L621.5 482L622.3 482.9L623.1 482.9L623.9 482.4L624.7 482L625.5 482.3L626.3 482.7L627.1 482.6L627.9 482.3L628.7 482.5L629.5 482.6L630.3 482.8L631.1 482.6L631.9 482.6L632.7 482.7L633.5 482.7L634.3 482.5L635.1 482L635.9 481.9L636.7 482.1L637.5 482L638.3 482L639.1 482.5L639.9 482.1L640.7 481.6L641.5 482.3L642.3 482.5L643.1 481.9L643.9 481.9L644.7 482.3L645.5 482.7L646.3 482.7L647.1 482.3L647.9 482.3L648.7 482.3L649.5 482L650.3 482.2L651.1 481.9L651.9 482L652.7 482.4L653.5 482.1L654.3 482.2L655.1 482.5" fill="none" stroke="#000" stroke-width="1.9" stroke-linejoin="round" stroke-linecap="butt"/>
<path d="M445.8 482.6L446.6 496.9L447.6 482.6" fill="none" stroke="#000" stroke-width="2.1" stroke-linejoin="miter" stroke-linecap="butt"/>
<path d="M602.6 482.0L602.9 384.2L605.4 384.2L608.0 482.0L609.8 491.0L607.0 491.0L603.9 482.0Z" fill="#000" stroke="#000" stroke-width="0.3" stroke-linejoin="round"/>
<path d="M434.7 480.7L435.6 481.4L436.5 481.3L437.4 480.8L438.3 480.6L439.2 480.6L440.1 481.1L441.0 480.8L441.9 480.6L442.8 480.8L443.7 481.0L444.6 480.6L445.5 480.7L446.4 480.6L447.3 481.4L448.2 481.0L449.1 481.0L450.0 481.0L450.4 484.5L449.5 484.5L448.6 484.4L447.7 484.2L446.8 484.6L445.9 484.6L445.0 484.0L444.1 484.4L443.2 483.9L442.3 484.2L441.4 484.3L440.5 484.6L439.6 484.5L438.7 484.5L437.8 484.1L436.9 484.4L436.0 483.9L435.1 484.1Z" fill="#000" stroke="#000" stroke-width="0.6" stroke-linejoin="round"/>
<path d="M607.5 481.2L608.4 481.2L609.3 481.0L610.2 480.9L611.1 480.8L612.0 480.8L612.9 481.4L613.8 481.0L614.7 480.8L615.6 481.5L616.5 481.2L617.4 481.7L618.3 481.1L619.2 481.3L620.1 481.2L621.0 481.1L621.9 480.8L622.8 481.4L623.7 481.7L624.6 481.1L625.5 481.6L626.4 481.2L627.3 481.8L628.2 481.1L629.1 481.4L630.0 481.3L630.9 481.6L631.8 481.0L632.7 480.8L633.6 481.7L634.5 481.8L635.4 480.9L636.3 481.5L637.2 480.8L638.1 480.9L639.0 481.3L639.9 480.9L640.8 480.9L641.7 481.7L642.6 480.9L643.5 481.5L644.4 480.9L645.3 481.1L646.2 481.0L647.1 481.1L648.0 480.9L648.9 480.9L649.8 481.3L650.7 480.8L651.6 481.1L652.5 480.9L653.4 480.7L654.3 481.0L655.2 481.0L655.6 485.8L654.7 485.5L653.8 485.5L652.9 485.3L652.0 485.7L651.1 485.7L650.2 485.6L649.3 486.0L648.4 486.0L647.5 485.8L646.6 486.2L645.7 486.0L644.8 486.0L643.9 485.5L643.0 485.8L642.1 485.7L641.2 486.3L640.3 486.5L639.4 486.3L638.5 486.2L637.6 486.0L636.7 486.4L635.8 486.8L634.9 485.9L634.0 486.4L633.1 486.4L632.2 486.7L631.3 486.4L630.4 486.9L629.5 487.0L628.6 487.4L627.7 486.9L626.8 487.1L625.9 487.6L625.0 487.4L624.1 487.1L623.2 487.5L622.3 487.7L621.4 488.1L620.5 487.4L619.6 488.1L618.7 488.5L617.8 488.6L616.9 488.7L616.0 489.1L615.1 489.6L614.2 489.7L613.3 490.2L612.4 489.7L611.5 490.8L610.6 490.9L609.8 491.6L608.9 488.6L608.0 485.6Z" fill="#000" stroke="#000" stroke-width="0.6" stroke-linejoin="round"/>
<path d="M667.2 468.3L667.2 501.3L635.1 501.3" fill="none" stroke="#000" stroke-width="1.7" stroke-linejoin="miter" stroke-linecap="butt"/>
<text class="s" transform="translate(673.36 493.20) scale(0.9818 1)" font-size="21.5" stroke="#000" stroke-width="0.35">0.5nA</text>
<text class="s" transform="translate(619.08 524.00) scale(1.0637 1)" font-size="21.5" stroke="#000" stroke-width="0.35">10ms</text>
<text stroke="#000" stroke-width="1.1" vector-effect="non-scaling-stroke" class="h" transform="translate(742.67 311.45) scale(0.2897 0.2589)" font-size="100" font-weight="bold">F</text>
<text class="s" transform="translate(773.82 347.60) scale(0.9858 1)" font-size="21.5" stroke="#000" stroke-width="0.35">TTX+CoCl</text>
<text class="s" transform="translate(872.86 355.00) scale(1.2271 1)" font-size="12" stroke="#000" stroke-width="0.35">2</text>
<text class="s" transform="translate(880.93 347.60) scale(0.9938 1)" font-size="21.5" stroke="#000" stroke-width="0.35">+TEA, current d</text>
<path d="M795.5 484.9L796.3 485.4L797.1 485.6L797.9 485.4L798.7 485.2L799.5 484.7L800.3 484.6L801.1 484.8L801.9 484.5L802.7 484.9L803.5 484.6L804.3 484.3L805.1 484.9L805.9 485.4L806.7 485.5L807.5 485.6L808.3 485.2L809.1 485.2L809.9 485.4L810 485.2L810.8 479.4L811.6 466.5L812.4 456.5L813.2 448.8L814 442.7L814.8 438.3L815.6 434.7L816.4 432.7L817.2 430.7L818 428.9L818.8 427.7L819.6 426.9L820.4 426.1L821.2 425.6L822 425.7L822.8 424.7L823.6 424.6L824.4 424.6L825.2 424.4L826 424.3L826.8 424.1L827.6 423.5L828.4 423.1L829.2 423.4L830 423.8L830.8 423.9L831.6 423.7L832.4 423.5L833.2 423.9L834 424L834.8 423.6L835.6 424.4L836.4 425L837.2 424.7L838 424.4L838.8 424.1L839.6 424.1L840.4 423.8L841.2 423.4L842 424L842.8 424L843.6 423.9L844.4 424L845.2 423.8L846 424.1L846.8 424.6L847.6 424.2L848.4 423.2L849.2 423.3L850 423.4L850.8 423.1L851.6 423L852.4 423.1L853.2 423.6L854 424L854.8 424.5L855.6 424.4L856.4 424.5L857.2 425L858 425L858.8 424.6L859.6 424.7L860.4 424.7L861.2 425.1L862 424.9L862.8 424.4L863.6 425.1L864.4 425.1L865.2 425.2L866 424.7L866.8 423.9L867.6 424.5L868.4 424.8L869.2 424.5L870 424.3L870.8 424.6L871.6 424.8L872.4 424.1L873.2 424L874 424.6L874.8 424.3L875.6 424.7L876.4 424.5L877.2 423.7L878 423.9L878.8 424.2L879.6 423.6L880.4 423.3L881.2 423.1L882 423.2L882.8 422.6L883.6 423.5L884.4 424L885.2 423.7L886 424.7L886.8 425.2L887.6 425.3L888.4 424.4L889.2 424.2L890 424.7L890.8 424.5L891.6 423.6L892.4 423.9L893.2 424.1L894 424L894.8 423.7L895.6 423.6L896.4 423.7L897.2 423.5L898 423.9L898.8 423.5L899.6 422.9L900.4 423.7L901.2 423.4L902 423.9L902.8 425.2L903.6 425L904.4 424.4L905.2 424.2L906 424.9L906.8 424.6L907.6 424.6L908.4 424.6L909.2 424.5L910 424.4L910.8 423.8L911.6 423.8L912.4 423.6L913.2 423.1L914 423.5L914.8 424.4L915.6 423.8L916.4 424.3L917.2 424.3L918 424.3L918.8 424.2L919.6 424.3L920.4 424.5L921.2 424.6L922 425.2L922.8 426L923.6 426.1L924.4 425.5L925.2 424.7L926 423.9L926.8 424.1L927.6 424.3L928.4 423.9L929.2 424L930 424.1L930.8 423.3L931.6 423.4L932.4 424.2L933.2 424.6L934 423.8L934.8 423.9L935.6 424.4L936.4 424.2L937.2 424L938 424.1L938.8 424.7L939.6 424.8L940.4 424.4L941.2 424.9L942 424.7L942.8 424.6L943.6 424.5L944.4 424.9L945.2 424.9L946 424.4L946.8 424.3L947.6 424.2L948.4 423.6L949.2 423.2L950 424.3L950.8 424.5L951.6 424.4L952.4 424.2L953.2 424.4L954 424.1L954.8 424L955.6 424.6L956.4 424.8L957.2 424.4L958 424.6L958.8 424.9L959.6 424.8L960.4 425.1L961.2 424.6L962 424.8L962.8 424.9L963.6 424.9L964.4 425.6L968 487.4L968.8 486.6L969.6 486L970.4 485.8L971.2 485.9L972 486.2L972.8 486.3L973.6 485.6L974.4 485.4L975.2 485.2L976 485L976.8 485.2L977.6 485L978.4 484.9L979.2 484.5L980 484.4L980.8 484.7L981.6 484.7L982.4 484.8L983.2 484.5L984 484.4L984.8 485.2L985.6 485.3L986.4 484.6L987.2 484.7L988 485.3L988.8 485.4L989.6 485.2L990.4 485.6L991.2 485.3L992 484.7L992.8 484.9L993.6 484.8L994.4 484.7L995.2 484.8L996 485.1L996.8 484.8L997.6 484.5L998.4 484.7L999.2 484.7L1000 485.2L1000.8 484.8L1001.6 484.3L1002.4 484.7L1003.2 485.1L1004 484.5L1004.8 484.3L1005.6 484.8L1006.4 484.5L1007.2 483.9L1008 484.4L1008.8 485.4L1009.6 485L1010.4 484.6L1011.2 484.5L1012 484.1L1012.8 483.7L1013.6 484.1L1014.4 484.9L1015.2 485.2" fill="none" stroke="#000" stroke-width="2.0" stroke-linejoin="round" stroke-linecap="butt"/>
<path d="M795.5 483.9L796.3 483.1L797.1 483.5L797.9 483.3L798.7 483.1L799.5 483.6L800.3 483.8L801.1 484.4L801.9 484.1L802.7 483.7L803.5 484.2L804.3 483.7L805.1 483.3L805.9 483.9L806.7 483.9L807.5 483.7L808.3 484.1L809.1 483.7L809.9 482.9L810 483.5L810.8 479.6L811.6 470.8L812.4 463.8L813.2 458.4L814 454.2L814.8 451L815.6 447.9L816.4 447.3L817.2 445.9L818 444.7L818.8 444.3L819.6 443L820.4 442.3L821.2 442.1L822 441.4L822.8 440.9L823.6 441L824.4 440.3L825.2 440.1L826 440.2L826.8 440.1L827.6 439.9L828.4 439.8L829.2 439.8L830 439.9L830.8 439.6L831.6 439.4L832.4 439.3L833.2 439.4L834 440.1L834.8 440.5L835.6 440.2L836.4 440.8L837.2 440.8L838 440.6L838.8 440.8L839.6 440.8L840.4 440.7L841.2 439.8L842 440L842.8 440.8L843.6 441.1L844.4 440.4L845.2 439.6L846 440.2L846.8 440.5L847.6 440L848.4 439.9L849.2 440.7L850 440.9L850.8 440.5L851.6 440.8L852.4 439.9L853.2 439.7L854 440.4L854.8 440.7L855.6 440.4L856.4 440.1L857.2 440.1L858 440.2L858.8 439.8L859.6 439.5L860.4 439.6L861.2 439.8L862 440L862.8 439.4L863.6 439.9L864.4 440.3L865.2 440.2L866 440L866.8 439.4L867.6 439.8L868.4 440.2L869.2 439.7L870 439.6L870.8 439.6L871.6 440.1L872.4 439.9L873.2 439.3L874 440.8L874.8 440.9L875.6 440L876.4 440.4L877.2 439.7L878 439.2L878.8 439.4L879.6 439.5L880.4 439.4L881.2 439.4L882 439L882.8 438.9L883.6 439.3L884.4 439.9L885.2 440.5L886 439.7L886.8 439.9L887.6 439.8L888.4 439.1L889.2 439.5L890 439.9L890.8 440L891.6 440.1L892.4 439.6L893.2 439.8L894 440.4L894.8 440.4L895.6 440.3L896.4 439.7L897.2 439.6L898 439.7L898.8 439.8L899.6 439.9L900.4 439.4L901.2 439.6L902 439.4L902.8 439L903.6 439.2L904.4 439.2L905.2 439.3L906 440L906.8 440.1L907.6 439.6L908.4 439.2L909.2 439.3L910 439.7L910.8 439.8L911.6 439.5L912.4 439.5L913.2 440.4L914 440.3L914.8 439.8L915.6 439.4L916.4 439.2L917.2 439.2L918 439.4L918.8 438.8L919.6 439.1L920.4 438.8L921.2 439L922 439.7L922.8 439.4L923.6 439.4L924.4 439.6L925.2 440L926 440.1L926.8 440L927.6 439.7L928.4 439.8L929.2 439.6L930 439.2L930.8 439L931.6 438.6L932.4 439L933.2 439.4L934 439.2L934.8 439.2L935.6 439.2L936.4 439.3L937.2 438.7L938 438.6L938.8 439.3L939.6 439.3L940.4 439.9L941.2 439.9L942 440.2L942.8 440.5L943.6 439.9L944.4 440.6L945.2 440.6L946 440.4L946.8 440.5L947.6 440.6L948.4 440.7L949.2 440.2L950 441L950.8 441.2L951.6 440.5L952.4 441.1L953.2 440.6L954 440.3L954.8 439.6L955.6 439.7L956.4 440.5L957.2 440.1L958 439.3L958.8 440.4L959.6 440.6L960.4 439.8L961.2 439.6L962 439.6L962.8 439.9L963.6 439.9L964.4 439.8L968 485.8L968.8 484.9L969.6 484.9L970.4 484.9L971.2 483.9L972 483.6L972.8 484.1L973.6 484.4L974.4 483.9L975.2 483.7L976 483.5L976.8 483.9L977.6 484.2L978.4 483.4L979.2 483.4L980 483.9L980.8 484L981.6 483.8L982.4 483.8L983.2 483.3L984 482.8L984.8 483L985.6 483.4L986.4 484.1L987.2 483.7L988 483.6L988.8 483.9L989.6 483.1L990.4 483.6L991.2 483.8L992 483.4L992.8 483.1L993.6 482.9L994.4 483.2L995.2 483.3L996 483.5L996.8 483.4L997.6 483.4L998.4 483.1L999.2 483.1L1000 483.7L1000.8 483.7L1001.6 483.7L1002.4 483.8L1003.2 483.4L1004 483L1004.8 483L1005.6 482.8L1006.4 483.4L1007.2 483.4L1008 483.2L1008.8 483L1009.6 482.3L1010.4 482.7L1011.2 483.2L1012 483.7L1012.8 483.6L1013.6 482.9L1014.4 482.9L1015.2 483.4" fill="none" stroke="#000" stroke-width="2.0" stroke-linejoin="round" stroke-linecap="butt"/>
<path d="M795.5 484.2L796.3 484.4L797.1 484L797.9 484.3L798.7 485.2L799.5 484.7L800.3 483.2L801.1 483.3L801.9 484.3L802.7 484.1L803.5 484.1L804.3 484.5L805.1 484.8L805.9 484.7L806.7 483.8L807.5 483.9L808.3 483.7L809.1 483.3L809.9 484.1L810 484.2L810.8 481.6L811.6 476L812.4 471.6L813.2 468L814 465.1L814.8 462.3L815.6 461.3L816.4 460.3L817.2 458.3L818 457.9L818.8 457.8L819.6 457.2L820.4 456.7L821.2 456.1L822 456L822.8 456L823.6 455.8L824.4 455.5L825.2 455.5L826 455.6L826.8 455.5L827.6 455.5L828.4 455.5L829.2 455.3L830 455.3L830.8 455.4L831.6 455.4L832.4 455.9L833.2 456.6L834 456.1L834.8 455.1L835.6 455.7L836.4 456.2L837.2 455.6L838 455.1L838.8 455L839.6 454.8L840.4 454.3L841.2 454.7L842 454.8L842.8 454.9L843.6 454.5L844.4 454.2L845.2 455.2L846 455.4L846.8 455.3L847.6 455.4L848.4 455.3L849.2 455.1L850 455.2L850.8 455L851.6 455L852.4 454.1L853.2 454.3L854 454.7L854.8 455L855.6 455.3L856.4 455L857.2 454.4L858 454.6L858.8 455.7L859.6 455.3L860.4 454.3L861.2 454.1L862 455.1L862.8 455.4L863.6 454.7L864.4 454.5L865.2 454.8L866 454.6L866.8 455.1L867.6 454.9L868.4 455.3L869.2 455.3L870 454.7L870.8 454.6L871.6 455.4L872.4 455.2L873.2 454.7L874 454.2L874.8 454L875.6 454.7L876.4 454.9L877.2 454.7L878 454.7L878.8 455.4L879.6 455L880.4 454.7L881.2 455.4L882 455.5L882.8 454.6L883.6 454.2L884.4 455.2L885.2 455.4L886 454.2L886.8 454.3L887.6 454.5L888.4 454.6L889.2 455L890 455.5L890.8 455.7L891.6 455.7L892.4 455.4L893.2 455L894 454.7L894.8 454.5L895.6 454.9L896.4 455.1L897.2 454.7L898 455.1L898.8 455.2L899.6 454.9L900.4 454.7L901.2 454.8L902 455.5L902.8 455.4L903.6 454.7L904.4 454.5L905.2 453.9L906 454L906.8 455.1L907.6 454.2L908.4 454.2L909.2 454.1L910 453.7L910.8 454.3L911.6 454.2L912.4 453.7L913.2 454.5L914 454.7L914.8 454.4L915.6 454.9L916.4 454.6L917.2 454.4L918 454.7L918.8 454.6L919.6 454.7L920.4 454.4L921.2 454.4L922 454.8L922.8 455.1L923.6 455.2L924.4 454.8L925.2 454.6L926 454.6L926.8 454.9L927.6 454.9L928.4 454.8L929.2 455L930 455.2L930.8 454.8L931.6 454.4L932.4 454.4L933.2 454.6L934 454.7L934.8 454.2L935.6 453.8L936.4 453.9L937.2 454.6L938 455.3L938.8 455L939.6 454.5L940.4 454.7L941.2 454.7L942 454L942.8 454.5L943.6 455.4L944.4 455.5L945.2 455.8L946 456.5L946.8 456.1L947.6 455.7L948.4 456.1L949.2 456.2L950 455.8L950.8 454.9L951.6 455L952.4 455L953.2 455.5L954 454.6L954.8 454.1L955.6 454.8L956.4 454.9L957.2 453.9L958 454.2L958.8 454.7L959.6 454.3L960.4 454.6L961.2 454.7L962 454.9L962.8 454.6L963.6 454.7L964.4 453.7L968 486L968.8 486.1L969.6 485L970.4 485.1L971.2 485.4L972 485.4L972.8 485.4L973.6 485L974.4 485.1L975.2 485.1L976 484.6L976.8 484.8L977.6 485.4L978.4 484.8L979.2 484.8L980 485.2L980.8 485.1L981.6 485.2L982.4 484.3L983.2 484.5L984 484.6L984.8 484.4L985.6 484.7L986.4 484.8L987.2 485.1L988 485.2L988.8 484.6L989.6 484.4L990.4 484.1L991.2 484.2L992 484.9L992.8 485.3L993.6 485.4L994.4 485L995.2 484.7L996 484.3L996.8 484.2L997.6 484.9L998.4 485.2L999.2 485.3L1000 485.3L1000.8 485L1001.6 485L1002.4 484.8L1003.2 485L1004 484.6L1004.8 484.7L1005.6 484.7L1006.4 484.4L1007.2 484.2L1008 484.1L1008.8 484.6L1009.6 485.2L1010.4 485L1011.2 484.7L1012 484.9L1012.8 484.3L1013.6 484.2L1014.4 484.5L1015.2 484.6" fill="none" stroke="#000" stroke-width="2.0" stroke-linejoin="round" stroke-linecap="butt"/>
<path d="M795.5 483.9L796.3 485.1L797.1 485.5L797.9 484.8L798.7 484.1L799.5 483.8L800.3 484L801.1 484.3L801.9 484.3L802.7 485.1L803.5 485.8L804.3 484.8L805.1 484.5L805.9 484.9L806.7 484.8L807.5 484.3L808.3 485L809.1 485.4L809.9 484.9L810 484.4L810.8 483.3L811.6 480.6L812.4 478.2L813.2 476L814 474.3L814.8 473.4L815.6 472.4L816.4 471.6L817.2 470.7L818 469.6L818.8 469.6L819.6 468.3L820.4 467.8L821.2 467.9L822 467.6L822.8 467.1L823.6 467.1L824.4 467.1L825.2 466.3L826 466.7L826.8 466.8L827.6 467.2L828.4 467.1L829.2 467L830 467.2L830.8 467L831.6 467L832.4 466.7L833.2 467L834 467.1L834.8 466.8L835.6 466.2L836.4 466L837.2 466.7L838 466.6L838.8 466.4L839.6 466.1L840.4 465.7L841.2 465.5L842 465.4L842.8 465.7L843.6 465.7L844.4 465.9L845.2 465.7L846 466.1L846.8 465.8L847.6 465.3L848.4 465.8L849.2 466.1L850 466.6L850.8 466.4L851.6 466.3L852.4 466.4L853.2 466.5L854 466.9L854.8 467L855.6 467.2L856.4 467.5L857.2 467.3L858 467.4L858.8 467.3L859.6 467.8L860.4 467.4L861.2 467.1L862 467.9L862.8 467.8L863.6 466.6L864.4 466.8L865.2 468.1L866 467.6L866.8 467.3L867.6 467.8L868.4 467.3L869.2 466.7L870 466.2L870.8 466.2L871.6 466.7L872.4 466.5L873.2 466.6L874 466.7L874.8 466.5L875.6 466L876.4 465.5L877.2 466.1L878 466.3L878.8 466.3L879.6 466.8L880.4 467.1L881.2 466.3L882 466.3L882.8 466.5L883.6 467L884.4 467.2L885.2 467.5L886 467.6L886.8 466.8L887.6 467.2L888.4 467.2L889.2 466.1L890 465.8L890.8 467.2L891.6 466.6L892.4 465.9L893.2 466.3L894 466.3L894.8 466.9L895.6 466.8L896.4 466.5L897.2 466.7L898 466.7L898.8 466.9L899.6 467L900.4 467.2L901.2 466.7L902 466.9L902.8 467.1L903.6 466.9L904.4 466.6L905.2 466.6L906 467.1L906.8 466.5L907.6 465.7L908.4 466.2L909.2 467.4L910 467.2L910.8 466.8L911.6 466.2L912.4 466.2L913.2 466.3L914 465.4L914.8 465.1L915.6 465.4L916.4 465L917.2 465.5L918 466.5L918.8 466.5L919.6 466.3L920.4 466.5L921.2 466.5L922 466.1L922.8 466.3L923.6 466.6L924.4 466.6L925.2 465.9L926 466.4L926.8 466.9L927.6 466.6L928.4 466.4L929.2 466.4L930 466.4L930.8 466.1L931.6 466.6L932.4 467L933.2 466.8L934 466.5L934.8 467.2L935.6 466.9L936.4 466.7L937.2 467.2L938 467L938.8 466.6L939.6 466.5L940.4 465.9L941.2 466.5L942 467.2L942.8 467.5L943.6 467.7L944.4 467.4L945.2 467.7L946 467.3L946.8 467.5L947.6 467.8L948.4 467.7L949.2 467.9L950 468.4L950.8 467.6L951.6 467.3L952.4 467.4L953.2 466.7L954 466.3L954.8 466.1L955.6 466.3L956.4 466.1L957.2 466.3L958 466.2L958.8 466.4L959.6 466.8L960.4 466.5L961.2 466.4L962 466.6L962.8 467.6L963.6 467.3L964.4 466.4L968 486L968.8 485.6L969.6 485.8L970.4 486.2L971.2 485.8L972 485.6L972.8 486.1L973.6 485.7L974.4 485.9L975.2 485.6L976 485.3L976.8 485.4L977.6 485.3L978.4 485.5L979.2 486.1L980 485.5L980.8 485.4L981.6 485.5L982.4 484.4L983.2 484.9L984 485.4L984.8 485.5L985.6 485.4L986.4 485.3L987.2 484.9L988 484.6L988.8 484.7L989.6 484.4L990.4 484.7L991.2 485.9L992 485.8L992.8 485.4L993.6 485.4L994.4 485.5L995.2 485.3L996 485.3L996.8 485.7L997.6 484.9L998.4 484.5L999.2 485.2L1000 485.6L1000.8 485L1001.6 484.4L1002.4 484.6L1003.2 484.7L1004 484.9L1004.8 486L1005.6 486.1L1006.4 485.1L1007.2 485.1L1008 485.2L1008.8 484.8L1009.6 485.1L1010.4 484.7L1011.2 484.3L1012 485.9L1012.8 485.8L1013.6 485L1014.4 485.5L1015.2 485.2" fill="none" stroke="#000" stroke-width="2.0" stroke-linejoin="round" stroke-linecap="butt"/>
<path d="M795.5 483.6L796.3 484.3L797.1 485L797.9 484.6L798.7 484.5L799.5 484.5L800.3 484.1L801.1 483.8L801.9 484.2L802.7 484.3L803.5 484L804.3 484.4L805.1 484.8L805.9 484.1L806.7 483.7L807.5 484.5L808.3 484.6L809.1 483.7L809.9 483.7L810 484.2L810.8 483.8L811.6 482.7L812.4 481.6L813.2 480.8L814 480.6L814.8 479.9L815.6 479.1L816.4 478.5L817.2 478.2L818 477.2L818.8 477L819.6 477.4L820.4 476.2L821.2 475.7L822 475.9L822.8 476.4L823.6 476.4L824.4 475.9L825.2 475.9L826 475.4L826.8 475.1L827.6 475.9L828.4 476L829.2 475.4L830 474.9L830.8 475.4L831.6 476.4L832.4 476L833.2 475.4L834 476.5L834.8 476.6L835.6 476.5L836.4 476L837.2 475.5L838 475.4L838.8 475.7L839.6 476.4L840.4 476.6L841.2 476L842 475.8L842.8 476.2L843.6 475.4L844.4 475.2L845.2 475.2L846 476L846.8 476.4L847.6 476.2L848.4 476.1L849.2 476.1L850 476.5L850.8 477.2L851.6 476.9L852.4 476L853.2 475.6L854 475.7L854.8 476.2L855.6 476.2L856.4 475.5L857.2 475.8L858 475.3L858.8 475L859.6 475.1L860.4 475.9L861.2 475.7L862 474.8L862.8 474.6L863.6 475.1L864.4 475.8L865.2 475.1L866 475.3L866.8 476.2L867.6 476.5L868.4 476.2L869.2 476.2L870 475.9L870.8 476.1L871.6 476.2L872.4 477.6L873.2 477.4L874 475.9L874.8 476.2L875.6 476.5L876.4 475.9L877.2 475.1L878 475.4L878.8 475.4L879.6 475.6L880.4 475.7L881.2 475.6L882 475.3L882.8 475.2L883.6 475.1L884.4 475.5L885.2 475.2L886 475.1L886.8 475.2L887.6 475.2L888.4 475.3L889.2 474.9L890 475.4L890.8 475.3L891.6 475.7L892.4 476.1L893.2 475.6L894 476.1L894.8 475.8L895.6 475.9L896.4 476.5L897.2 476.1L898 475.2L898.8 475.6L899.6 476.1L900.4 476L901.2 475.7L902 476.1L902.8 476.4L903.6 476.2L904.4 476.1L905.2 476.1L906 475.6L906.8 475.7L907.6 475.5L908.4 474.9L909.2 475L910 475.2L910.8 475.1L911.6 475L912.4 474.5L913.2 474.4L914 474.8L914.8 475.2L915.6 475.7L916.4 475.4L917.2 475.6L918 476.1L918.8 475.7L919.6 474.9L920.4 475.4L921.2 475.2L922 475.7L922.8 476L923.6 475.6L924.4 475.8L925.2 475.9L926 475.7L926.8 476.1L927.6 475.7L928.4 475.3L929.2 476L930 475.8L930.8 475.4L931.6 475.7L932.4 475.4L933.2 475.4L934 475.6L934.8 476.1L935.6 475.8L936.4 475L937.2 475.3L938 475.5L938.8 476.1L939.6 475.5L940.4 475.1L941.2 475.3L942 475.9L942.8 476.1L943.6 475.8L944.4 475.3L945.2 475L946 475.2L946.8 475.2L947.6 475.3L948.4 476.1L949.2 475.8L950 475L950.8 475.3L951.6 475.4L952.4 475.2L953.2 475.2L954 475.6L954.8 475.9L955.6 475.1L956.4 474.8L957.2 475.8L958 475.6L958.8 475.1L959.6 474.9L960.4 474.9L961.2 475L962 475.7L962.8 475.4L963.6 475.5L964.4 476.1L968 484.2L968.8 484.1L969.6 484.5L970.4 484.6L971.2 484.4L972 483.6L972.8 483.6L973.6 484L974.4 484.6L975.2 483.9L976 483.8L976.8 485.1L977.6 484.4L978.4 483.5L979.2 483.8L980 484.5L980.8 484.7L981.6 484.4L982.4 484.5L983.2 484.5L984 484.4L984.8 484.2L985.6 483.8L986.4 484.1L987.2 484.8L988 484.4L988.8 483.9L989.6 484.2L990.4 483.7L991.2 483.5L992 483.4L992.8 482.8L993.6 483.1L994.4 484.1L995.2 484.1L996 483.9L996.8 483.4L997.6 483.4L998.4 484.2L999.2 483.6L1000 484L1000.8 484.4L1001.6 483.6L1002.4 483.8L1003.2 483.8L1004 483.1L1004.8 483.7L1005.6 484.4L1006.4 483.9L1007.2 483.9L1008 483.8L1008.8 484.1L1009.6 485.2L1010.4 484.7L1011.2 484.6L1012 484.8L1012.8 484.6L1013.6 484.8L1014.4 484.6L1015.2 484.3" fill="none" stroke="#000" stroke-width="2.0" stroke-linejoin="round" stroke-linecap="butt"/>
<path d="M795.5 484.1L796.3 484L797.1 484.3L797.9 484.3L798.7 483.5L799.5 483.8L800.3 484.1L801.1 483.5L801.9 484.1L802.7 484.2L803.5 483.9L804.3 484.9L805.1 484.8L805.9 484.3L806.7 484L807.5 483.8L808.3 483.6L809.1 484.6L809.9 485.6L810 484.2L810.8 483.9L811.6 483.6L812.4 483.2L813.2 483L814 482.5L814.8 481.8L815.6 482.2L816.4 482.6L817.2 482L818 481.9L818.8 481.4L819.6 481.3L820.4 481.5L821.2 480.6L822 479.9L822.8 480.6L823.6 481.2L824.4 480.5L825.2 480L826 480.1L826.8 480.2L827.6 480.4L828.4 480.3L829.2 480.5L830 480.2L830.8 479.8L831.6 480.7L832.4 480.4L833.2 479.9L834 479.7L834.8 479.9L835.6 480.3L836.4 479.7L837.2 479.6L838 479.9L838.8 479.8L839.6 480.1L840.4 479.2L841.2 479.5L842 480.5L842.8 480.7L843.6 480.7L844.4 480.9L845.2 480.6L846 480.8L846.8 481.5L847.6 481.2L848.4 481.5L849.2 481.5L850 481.2L850.8 480.5L851.6 480.3L852.4 480.8L853.2 481.3L854 481.4L854.8 481.1L855.6 481.1L856.4 481.3L857.2 480.5L858 479.6L858.8 480.4L859.6 481.3L860.4 481.1L861.2 480.7L862 481.3L862.8 482.1L863.6 481.8L864.4 481.1L865.2 480.7L866 480.9L866.8 481.2L867.6 481.5L868.4 481L869.2 480.5L870 480L870.8 479.9L871.6 479.6L872.4 479.2L873.2 480.2L874 480.6L874.8 480L875.6 479.4L876.4 480.3L877.2 480.9L878 480.7L878.8 481.1L879.6 481.1L880.4 480.5L881.2 480.8L882 481.1L882.8 481.2L883.6 481.7L884.4 481.7L885.2 481.4L886 481.5L886.8 481.5L887.6 481.1L888.4 481L889.2 480.9L890 480.7L890.8 480.9L891.6 480.5L892.4 480.4L893.2 480.2L894 479.7L894.8 480.2L895.6 481L896.4 480.9L897.2 480.3L898 480.4L898.8 480.9L899.6 481.2L900.4 480.9L901.2 480.5L902 480.5L902.8 480.5L903.6 481.2L904.4 480.9L905.2 481.1L906 480.9L906.8 480.5L907.6 480.8L908.4 481.1L909.2 480.9L910 480.3L910.8 480.7L911.6 480.5L912.4 480.6L913.2 480.3L914 479.7L914.8 480.1L915.6 480.8L916.4 480.7L917.2 480.4L918 480.1L918.8 480.3L919.6 480.2L920.4 480.2L921.2 480.6L922 480.7L922.8 480.4L923.6 480.3L924.4 480.6L925.2 481.1L926 480.6L926.8 480.7L927.6 481.4L928.4 481.2L929.2 481.7L930 481.3L930.8 481.1L931.6 480.7L932.4 480.8L933.2 481L934 481.1L934.8 481.2L935.6 481.7L936.4 481.8L937.2 481L938 480.9L938.8 480.9L939.6 481L940.4 480.5L941.2 480.2L942 480.1L942.8 480.5L943.6 480.3L944.4 480.2L945.2 480.5L946 480.1L946.8 480.7L947.6 480.1L948.4 480.4L949.2 480.8L950 480.4L950.8 480.9L951.6 481.1L952.4 480.9L953.2 481L954 480.7L954.8 480.7L955.6 481L956.4 480.8L957.2 480.8L958 480.7L958.8 480.8L959.6 480.6L960.4 480.7L961.2 481.2L962 481L962.8 480.6L963.6 480.5L964.4 480.6L968 483.2L968.8 483.5L969.6 483.9L970.4 484L971.2 484.1L972 483.2L972.8 482.8L973.6 483.6L974.4 483.4L975.2 483.4L976 483.8L976.8 483.6L977.6 483.7L978.4 483.3L979.2 482.9L980 483.3L980.8 483.1L981.6 483L982.4 483.2L983.2 483.3L984 483.3L984.8 483.7L985.6 483.4L986.4 482.9L987.2 483.2L988 483.5L988.8 483.6L989.6 483.7L990.4 484.1L991.2 484.1L992 484.2L992.8 483.8L993.6 483.8L994.4 483.9L995.2 483.7L996 484.2L996.8 483.9L997.6 483.5L998.4 483.5L999.2 482.8L1000 483.2L1000.8 483.7L1001.6 483.7L1002.4 483.6L1003.2 483.4L1004 483.4L1004.8 483.2L1005.6 483.5L1006.4 483.7L1007.2 483.8L1008 484.2L1008.8 483.7L1009.6 482.9L1010.4 483.7L1011.2 484.3L1012 484L1012.8 483.3L1013.6 482.3L1014.4 483.3L1015.2 484" fill="none" stroke="#000" stroke-width="2.0" stroke-linejoin="round" stroke-linecap="butt"/>
<path d="M795.5 484.2L796.3 483.9L797.1 483.4L797.9 483.7L798.7 483.4L799.5 483.5L800.3 483.6L801.1 483.9L801.9 484.3L802.7 484.3L803.5 484.4L804.3 483.9L805.1 483.7L805.9 484.4L806.7 484.2L807.5 483.9L808.3 484.1L809.1 484.3L809.9 484.1L810 484.1L810.8 483.9L811.6 484L812.4 484L813.2 484.3L814 484.3L814.8 483.2L815.6 482.9L816.4 483.4L817.2 483L818 483.2L818.8 483.6L819.6 483.5L820.4 483.9L821.2 483.1L822 482L822.8 482.6L823.6 483.2L824.4 482.9L825.2 482.6L826 482.7L826.8 483.4L827.6 483.1L828.4 482.4L829.2 482.6L830 482.4L830.8 482.1L831.6 482.3L832.4 482.5L833.2 481.9L834 481.8L834.8 482.2L835.6 483L836.4 483.3L837.2 482.7L838 482.2L838.8 482.5L839.6 482.5L840.4 482.1L841.2 482.1L842 482.8L842.8 483L843.6 482.4L844.4 482.7L845.2 483.3L846 483.5L846.8 483.7L847.6 483.8L848.4 483.2L849.2 482.8L850 483.3L850.8 483.5L851.6 483.1L852.4 483.1L853.2 482.8L854 482.2L854.8 481.9L855.6 482L856.4 481.9L857.2 482.4L858 482.3L858.8 482.2L859.6 482.3L860.4 482.1L861.2 482L862 481.8L862.8 482.1L863.6 482.5L864.4 482.6L865.2 482.5L866 482.4L866.8 482.5L867.6 482.6L868.4 482.8L869.2 483.5L870 483.5L870.8 483.4L871.6 482.9L872.4 483.4L873.2 483.5L874 482.5L874.8 483L875.6 483.5L876.4 483.2L877.2 483.4L878 482.9L878.8 482.2L879.6 482.7L880.4 482.7L881.2 482.6L882 482.6L882.8 483.1L883.6 483.1L884.4 483.2L885.2 483.4L886 483.3L886.8 483.1L887.6 483.1L888.4 482.4L889.2 482L890 482.7L890.8 482.8L891.6 482.5L892.4 482.4L893.2 482.8L894 483L894.8 482.8L895.6 482.3L896.4 482.5L897.2 482.9L898 483.4L898.8 483.1L899.6 483.3L900.4 483.3L901.2 482.8L902 482.4L902.8 482.4L903.6 483.2L904.4 483L905.2 483L906 483L906.8 483L907.6 483.2L908.4 483L909.2 482.9L910 483L910.8 482.6L911.6 482.5L912.4 482.6L913.2 482.5L914 482.7L914.8 482.6L915.6 482.1L916.4 482.1L917.2 482.3L918 482L918.8 482.4L919.6 482.8L920.4 482.7L921.2 482.9L922 482.4L922.8 482.2L923.6 483.2L924.4 482.7L925.2 482.7L926 483L926.8 482.9L927.6 483L928.4 482.3L929.2 482.3L930 482.7L930.8 483.2L931.6 482.8L932.4 482.7L933.2 482.2L934 482.2L934.8 482.1L935.6 481.8L936.4 483L937.2 482.9L938 482.1L938.8 482.3L939.6 482.8L940.4 482.1L941.2 481.5L942 481.9L942.8 482.2L943.6 482.3L944.4 482.5L945.2 482L946 482.1L946.8 483.3L947.6 483L948.4 481.8L949.2 482.1L950 483L950.8 483.1L951.6 481.9L952.4 482.4L953.2 483.4L954 483.5L954.8 483.1L955.6 482.7L956.4 483.4L957.2 483.2L958 482.9L958.8 483.1L959.6 482.9L960.4 482.6L961.2 482.6L962 482.5L962.8 482.1L963.6 483L964.4 483.2L968 482.7L968.8 482.4L969.6 483.1L970.4 483.2L971.2 483.4L972 483.4L972.8 483.2L973.6 483.1L974.4 482.7L975.2 483.2L976 483.2L976.8 483L977.6 483.6L978.4 483.7L979.2 483.9L980 483.6L980.8 483.5L981.6 483.9L982.4 483.9L983.2 483.3L984 482.6L984.8 483.5L985.6 483.8L986.4 483.1L987.2 483.1L988 483.9L988.8 484L989.6 483.6L990.4 483.4L991.2 483.8L992 483.4L992.8 483L993.6 483.6L994.4 484.1L995.2 484L996 483.7L996.8 484L997.6 483.9L998.4 483.9L999.2 484.2L1000 483.7L1000.8 483.1L1001.6 483.2L1002.4 483.1L1003.2 482.6L1004 483.4L1004.8 483.3L1005.6 482.8L1006.4 483.8L1007.2 483.7L1008 482.9L1008.8 483.4L1009.6 483.5L1010.4 483.3L1011.2 483.3L1012 482.8L1012.8 483.4L1013.6 483.8L1014.4 483.5L1015.2 483.6" fill="none" stroke="#000" stroke-width="2.0" stroke-linejoin="round" stroke-linecap="butt"/>
<path d="M795.5 484.5L796.3 483.7L797.1 484.2L797.9 485.4L798.7 484.7L799.5 484.6L800.3 484.9L801.1 484.9L801.9 484.8L802.7 484.6L803.5 484.3L804.3 484.1L805.1 484.8L805.9 485L806.7 485.1L807.5 485.2L808.3 485.3L809.1 485.5L809.9 485.5L810 484.7L810.8 484.7L811.6 484.6L812.4 484.1L813.2 484.4L814 484.3L814.8 483.4L815.6 483.4L816.4 483.5L817.2 483.6L818 483.7L818.8 483.1L819.6 483.3L820.4 484.5L821.2 484.2L822 483.7L822.8 484.3L823.6 483.6L824.4 483.4L825.2 483.9L826 484.4L826.8 484.2L827.6 483.7L828.4 484L829.2 484.4L830 484.1L830.8 484.3L831.6 484.2L832.4 483.3L833.2 483.5L834 483.8L834.8 484.1L835.6 483.6L836.4 483.4L837.2 483.5L838 483.5L838.8 483.1L839.6 483.6L840.4 484.5L841.2 483.9L842 483.9L842.8 483.5L843.6 483.5L844.4 483.9L845.2 484.5L846 484.2L846.8 483.9L847.6 484.4L848.4 483.9L849.2 483.6L850 484.1L850.8 484.3L851.6 484.6L852.4 484.4L853.2 483.5L854 483L854.8 482.9L855.6 483.1L856.4 482.7L857.2 482.8L858 483.2L858.8 482.4L859.6 482.4L860.4 482.8L861.2 483.3L862 483.6L862.8 483.4L863.6 483.1L864.4 483.3L865.2 483.3L866 483.2L866.8 483.1L867.6 483.3L868.4 483L869.2 483.2L870 482.9L870.8 483L871.6 483.9L872.4 483.8L873.2 483.6L874 483.3L874.8 482.6L875.6 482.8L876.4 483L877.2 483L878 482.6L878.8 482.3L879.6 482.7L880.4 482.4L881.2 482.5L882 482.6L882.8 482.9L883.6 483.4L884.4 483L885.2 482.7L886 482.5L886.8 482.8L887.6 483.2L888.4 483.6L889.2 483.5L890 482.9L890.8 483.2L891.6 483.7L892.4 483.6L893.2 483.2L894 483.8L894.8 483.8L895.6 483.9L896.4 484.4L897.2 484.3L898 483.7L898.8 483.5L899.6 483.3L900.4 483.4L901.2 483.7L902 483.3L902.8 483.5L903.6 484L904.4 484.2L905.2 483.7L906 484.3L906.8 484.4L907.6 483.7L908.4 483.7L909.2 483.8L910 483.4L910.8 482.9L911.6 482.5L912.4 483L913.2 482.8L914 482.9L914.8 483.2L915.6 483.4L916.4 483.6L917.2 483.8L918 483.5L918.8 483.9L919.6 484.2L920.4 484.3L921.2 484L922 483.9L922.8 484.4L923.6 483.7L924.4 483.7L925.2 483.4L926 483.6L926.8 483.4L927.6 483.8L928.4 484.1L929.2 483.2L930 483.1L930.8 483.9L931.6 483.9L932.4 483.5L933.2 483.5L934 483.2L934.8 483.1L935.6 483.6L936.4 483.9L937.2 483.9L938 483.3L938.8 484L939.6 484.8L940.4 483.9L941.2 483.8L942 483.7L942.8 483.5L943.6 483.8L944.4 484L945.2 483.4L946 483.4L946.8 483.9L947.6 484.2L948.4 484.1L949.2 483.6L950 483.9L950.8 484L951.6 483.8L952.4 483.8L953.2 484.7L954 484.5L954.8 484.5L955.6 485.2L956.4 484.6L957.2 483.8L958 484L958.8 484.5L959.6 484.4L960.4 484.3L961.2 484.3L962 484.3L962.8 483.9L963.6 483.9L964.4 483.8L968 484.2L968.8 483.8L969.6 484.2L970.4 484.2L971.2 484.8L972 485.1L972.8 484.2L973.6 484.3L974.4 484.7L975.2 484.3L976 484.3L976.8 484.6L977.6 483.9L978.4 483.7L979.2 484.3L980 484.1L980.8 483.9L981.6 484.5L982.4 484.6L983.2 483.6L984 483.9L984.8 484.6L985.6 484.4L986.4 484.5L987.2 483.9L988 483.8L988.8 483.6L989.6 483.6L990.4 484.6L991.2 484.6L992 484.5L992.8 484.4L993.6 484L994.4 484.5L995.2 484.6L996 484.8L996.8 484.5L997.6 484.6L998.4 484.5L999.2 483.8L1000 484L1000.8 484L1001.6 483.9L1002.4 484L1003.2 484.4L1004 483.9L1004.8 483.1L1005.6 484L1006.4 484.6L1007.2 484.1L1008 484.5L1008.8 485.1L1009.6 485.1L1010.4 484.4L1011.2 483.9L1012 485L1012.8 485.2L1013.6 484.6L1014.4 484.6L1015.2 484.3" fill="none" stroke="#000" stroke-width="2.0" stroke-linejoin="round" stroke-linecap="butt"/>
<path d="M795.5 485L796.3 485L797.1 484.4L797.9 483.1L798.7 483.5L799.5 484.5L800.3 484.1L801.1 484.1L801.9 484.5L802.7 484.1L803.5 484.1L804.3 484.3L805.1 483.9L805.9 483.5L806.7 483.4L807.5 483.6L808.3 484.3L809.1 484.4L809.9 483.7L810 484.2L810.8 484.3L811.6 484.2L812.4 483.5L813.2 483.1L814 484.4L814.8 484.2L815.6 483.8L816.4 484L817.2 484L818 484.7L818.8 484.9L819.6 484.9L820.4 485L821.2 484.5L822 484.8L822.8 484.8L823.6 484.8L824.4 485.2L825.2 485L826 484.7L826.8 484.4L827.6 484.5L828.4 484.7L829.2 484.7L830 485.5L830.8 485.2L831.6 484.9L832.4 485.1L833.2 484.8L834 484.9L834.8 485.1L835.6 484.6L836.4 484.4L837.2 485.4L838 484.9L838.8 484.4L839.6 485L840.4 484.9L841.2 485.4L842 485.3L842.8 485.2L843.6 485L844.4 484.6L845.2 485.5L846 485.3L846.8 484.4L847.6 484.8L848.4 485.2L849.2 484.4L850 484.2L850.8 484.1L851.6 484.4L852.4 484.7L853.2 484.8L854 485L854.8 484.8L855.6 485L856.4 485.5L857.2 485.8L858 485.4L858.8 485.4L859.6 485.8L860.4 486L861.2 485.8L862 485.7L862.8 485.2L863.6 485.1L864.4 485.2L865.2 485.1L866 484.7L866.8 484.8L867.6 484.3L868.4 484.3L869.2 484.6L870 484.6L870.8 485.1L871.6 484.4L872.4 484.7L873.2 485.1L874 484.7L874.8 484.4L875.6 484.5L876.4 484.4L877.2 484.7L878 485.3L878.8 485.2L879.6 484.8L880.4 484.8L881.2 485.2L882 485.2L882.8 484.8L883.6 485L884.4 485.3L885.2 485.5L886 486.2L886.8 485.8L887.6 485.6L888.4 485.9L889.2 485.4L890 485.6L890.8 485.9L891.6 485.6L892.4 485.3L893.2 485.7L894 485.6L894.8 485L895.6 484.6L896.4 484.9L897.2 485.2L898 485.5L898.8 486L899.6 485.5L900.4 484.3L901.2 483.8L902 484.4L902.8 484.6L903.6 484.3L904.4 484.2L905.2 484L906 483.3L906.8 483.4L907.6 484L908.4 484.2L909.2 484.2L910 484.1L910.8 484.3L911.6 484.1L912.4 483.9L913.2 484.3L914 484.8L914.8 485.3L915.6 485.4L916.4 485.5L917.2 485.5L918 485.3L918.8 485.2L919.6 485.2L920.4 484.7L921.2 484.3L922 484.8L922.8 484.5L923.6 484.7L924.4 484.4L925.2 484.4L926 484.7L926.8 484.1L927.6 484.4L928.4 484.8L929.2 484.6L930 484.3L930.8 484.3L931.6 484.5L932.4 484.5L933.2 484.7L934 484.7L934.8 484.4L935.6 484.6L936.4 485.5L937.2 484.9L938 484.7L938.8 484.1L939.6 483.3L940.4 484.2L941.2 484.2L942 484.2L942.8 485L943.6 484.9L944.4 484.6L945.2 485.4L946 485.2L946.8 485.5L947.6 485.4L948.4 485L949.2 485.7L950 486L950.8 486L951.6 485.4L952.4 485L953.2 485.3L954 484.9L954.8 484.5L955.6 484.3L956.4 484.2L957.2 483.9L958 484.8L958.8 484.9L959.6 483.7L960.4 483.2L961.2 483.7L962 484.5L962.8 484.8L963.6 484.6L964.4 484.4L968 482.5L968.8 482.6L969.6 483.3L970.4 483.4L971.2 483.7L972 483.7L972.8 483L973.6 483.5L974.4 484.3L975.2 483.7L976 484.1L976.8 484.3L977.6 483.4L978.4 483.4L979.2 483.4L980 482.7L980.8 483.1L981.6 483.7L982.4 483.6L983.2 483.4L984 483.6L984.8 483.5L985.6 483.3L986.4 483.5L987.2 482.9L988 482.7L988.8 482.8L989.6 483.1L990.4 483.9L991.2 483.9L992 483.9L992.8 483.9L993.6 482.8L994.4 482.5L995.2 483.1L996 482.5L996.8 482.5L997.6 483.2L998.4 483.2L999.2 483.2L1000 483.3L1000.8 484L1001.6 484L1002.4 483.3L1003.2 483.5L1004 483.5L1004.8 483.8L1005.6 484.1L1006.4 483.5L1007.2 483.5L1008 484.1L1008.8 484.1L1009.6 483.4L1010.4 483.2L1011.2 483.9L1012 483.8L1012.8 483.2L1013.6 483.4L1014.4 483.1L1015.2 482.6" fill="none" stroke="#000" stroke-width="2.0" stroke-linejoin="round" stroke-linecap="butt"/>
<path d="M807.5 484.2L808.3 496.6L809.3 484.2" fill="none" stroke="#000" stroke-width="2.2" stroke-linejoin="miter" stroke-linecap="butt"/>
<path d="M963.5 482.5L963.8 398.3L966.1 398.3L968.2 482.5L970.0 491.5L967.2 491.5L964.8 482.5Z" fill="#000" stroke="#000" stroke-width="0.3" stroke-linejoin="round"/>
<path d="M795.5 481.9L796.4 481.8L797.3 482.0L798.2 481.9L799.1 482.4L800.0 482.3L800.9 482.4L801.8 482.0L802.7 482.0L803.6 481.8L804.5 482.1L805.4 482.0L806.3 482.4L807.2 481.9L808.1 481.9L809.0 481.8L809.9 481.8L810.3 486.4L809.4 486.3L808.5 486.3L807.6 486.2L806.7 486.2L805.8 486.2L804.9 486.1L804.0 486.4L803.1 486.4L802.2 486.0L801.3 486.4L800.4 485.8L799.5 486.0L798.6 486.1L797.8 486.2L796.9 485.9L796.0 486.0Z" fill="#000" stroke="#000" stroke-width="0.6" stroke-linejoin="round"/>
<path d="M967.5 482.0L968.4 481.6L969.3 481.6L970.2 481.2L971.1 482.0L972.0 481.9L972.9 481.6L973.8 481.3L974.7 482.1L975.6 481.2L976.5 481.8L977.4 481.2L978.3 481.5L979.2 481.3L980.1 481.2L981.0 481.7L981.9 481.7L982.8 481.2L983.7 481.8L984.6 481.3L985.5 481.8L986.4 481.6L987.3 481.2L988.2 481.9L989.1 481.4L990.0 481.5L990.9 481.9L991.8 481.3L992.7 482.2L993.6 481.8L994.5 481.9L995.4 481.7L996.3 481.3L997.2 481.5L998.1 481.7L999.0 481.9L999.9 481.3L1000.8 481.9L1001.7 481.4L1002.6 481.4L1003.5 481.3L1004.4 481.8L1005.3 481.4L1006.2 481.8L1007.1 481.2L1008.0 481.7L1008.9 482.2L1009.8 481.2L1010.7 481.8L1011.6 481.6L1012.5 482.2L1013.4 481.7L1014.3 481.3L1015.2 481.9L1015.6 485.7L1014.7 486.6L1013.8 485.9L1012.9 486.4L1012.0 486.5L1011.1 486.0L1010.2 486.1L1009.3 486.7L1008.4 486.0L1007.5 486.5L1006.6 486.8L1005.7 486.1L1004.8 486.8L1003.9 486.1L1003.0 486.1L1002.1 486.9L1001.2 486.9L1000.3 486.9L999.4 486.9L998.5 486.9L997.6 486.4L996.7 487.0L995.8 486.7L994.9 486.3L994.0 487.1L993.1 487.1L992.2 486.8L991.3 487.1L990.4 486.5L989.5 486.9L988.6 486.5L987.7 487.0L986.8 486.5L985.9 487.1L985.0 487.1L984.1 487.3L983.2 487.4L982.3 487.4L981.4 487.1L980.5 487.4L979.6 487.2L978.7 486.7L977.8 486.7L976.9 487.4L976.0 487.3L975.1 486.9L974.2 487.7L973.3 488.3L972.4 489.4L971.5 490.3L970.6 490.7L969.8 490.5L968.9 487.8L968.0 486.7Z" fill="#000" stroke="#000" stroke-width="0.6" stroke-linejoin="round"/>
<path d="M810.4 484L811.6 496.3L813.6 485" fill="none" stroke="#000" stroke-width="2.2" stroke-linejoin="round" stroke-linecap="butt"/>
<path d="M1026.3 468.1L1026.3 501.8L994.3 501.8" fill="none" stroke="#000" stroke-width="1.7" stroke-linejoin="miter" stroke-linecap="butt"/>
<text class="s" transform="translate(1034.25 495.90) scale(0.9854 1)" font-size="21.5" stroke="#000" stroke-width="0.35">0.5nA</text>
<text class="s" transform="translate(972.40 527.30) scale(1.0537 1)" font-size="21.5" stroke="#000" stroke-width="0.35">10ms</text>
<text stroke="#000" stroke-width="1.1" vector-effect="non-scaling-stroke" class="h" transform="translate(3.80 601.06) scale(0.2896 0.2627)" font-size="100" font-weight="bold">G</text>
<path d="M114.5 602.6V838.6H452.8M103.5 603.8H114.5M103.5 630.0H114.5M103.5 656.0H114.5M103.5 682.2H114.5M103.5 708.2H114.5M103.5 734.4H114.5M103.5 760.4H114.5M103.5 786.6H114.5M103.5 812.6H114.5M103.5 838.6H114.5" stroke="#000" stroke-width="2.9" fill="none" stroke-linejoin="miter" stroke-linecap="butt"/>
<text class="s" transform="translate(77.75 610.40) scale(1.0200 1)" font-size="17.4" font-weight="bold" stroke="#000" stroke-width="0.4">1.6</text>
<text class="s" transform="translate(77.22 636.60) scale(1.0200 1)" font-size="17.4" font-weight="bold" stroke="#000" stroke-width="0.4">1.4</text>
<text class="s" transform="translate(77.84 662.60) scale(1.0200 1)" font-size="17.4" font-weight="bold" stroke="#000" stroke-width="0.4">1.2</text>
<text class="s" transform="translate(77.84 688.80) scale(1.0200 1)" font-size="17.4" font-weight="bold" stroke="#000" stroke-width="0.4">1.0</text>
<text class="s" transform="translate(77.66 714.80) scale(1.0200 1)" font-size="17.4" font-weight="bold" stroke="#000" stroke-width="0.4">0.8</text>
<text class="s" transform="translate(77.75 741.00) scale(1.0200 1)" font-size="17.4" font-weight="bold" stroke="#000" stroke-width="0.4">0.6</text>
<text class="s" transform="translate(77.22 767.00) scale(1.0200 1)" font-size="17.4" font-weight="bold" stroke="#000" stroke-width="0.4">0.4</text>
<text class="s" transform="translate(77.84 793.20) scale(1.0200 1)" font-size="17.4" font-weight="bold" stroke="#000" stroke-width="0.4">0.2</text>
<text class="s" transform="translate(77.84 819.20) scale(1.0200 1)" font-size="17.4" font-weight="bold" stroke="#000" stroke-width="0.4">0.0</text>
<text class="s" transform="translate(71.94 845.20) scale(1.0200 1)" font-size="17.4" font-weight="bold" stroke="#000" stroke-width="0.4">-0.2</text>
<text class="s" font-size="20.2" font-weight="bold" stroke="#000" stroke-width="0.4" transform="translate(60.60 793.27) rotate(-90) scale(0.9571 1)">Current density</text>
<path d="M141.9 683.6V614.8M135.0 614.8H148.8M141.9 810.1V813.0M135.0 813.0H148.8" stroke="#000" stroke-width="3.5" fill="none" stroke-linecap="round"/>
<rect x="129.8" y="684.5" width="24.3" height="124.7" fill="#8f8f8f" stroke="#000" stroke-width="3.8"/>
<path d="M127.0 776.9H156.9" stroke="#000" stroke-width="3.5" stroke-linecap="round"/>
<path d="M170.0 696.8V629.8M163.1 629.8H176.9M170.0 810.1V813.0M163.1 813.0H176.9" stroke="#000" stroke-width="3.5" fill="none" stroke-linecap="round"/>
<rect x="157.6" y="697.7" width="23.6" height="111.5" fill="#fff" stroke="#000" stroke-width="3.8"/>
<path d="M154.8 784.6H184.0" stroke="#000" stroke-width="3.5" stroke-linecap="round"/>
<path d="M225.9 747.7V707.4M219.0 707.4H232.8M225.9 810.6V813.0M219.0 813.0H232.8" stroke="#000" stroke-width="3.5" fill="none" stroke-linecap="round"/>
<rect x="214.2" y="748.6" width="23.7" height="61.1" fill="#8f8f8f" stroke="#000" stroke-width="3.8"/>
<path d="M211.4 798.0H240.7" stroke="#000" stroke-width="3.5" stroke-linecap="round"/>
<path d="M253.3 750.2V709.0M246.4 709.0H260.2M253.3 810.6V813.0M246.4 813.0H260.2" stroke="#000" stroke-width="3.5" fill="none" stroke-linecap="round"/>
<rect x="241.6" y="751.1" width="23.2" height="58.6" fill="#fff" stroke="#000" stroke-width="3.8"/>
<path d="M238.8 798.0H267.6" stroke="#000" stroke-width="3.5" stroke-linecap="round"/>
<path d="M310.5 755.4V718.5M303.6 718.5H317.4M310.5 810.6V813.0M303.6 813.0H317.4" stroke="#000" stroke-width="3.5" fill="none" stroke-linecap="round"/>
<rect x="299.3" y="756.3" width="23.2" height="53.4" fill="#8f8f8f" stroke="#000" stroke-width="3.8"/>
<path d="M296.5 798.7H325.3" stroke="#000" stroke-width="3.5" stroke-linecap="round"/>
<path d="M338.0 764.8V725.1M331.1 725.1H344.9M338.0 810.6V813.0M331.1 813.0H344.9" stroke="#000" stroke-width="3.5" fill="none" stroke-linecap="round"/>
<rect x="326.2" y="765.7" width="23.2" height="44.0" fill="#fff" stroke="#000" stroke-width="3.8"/>
<path d="M323.4 804.9H352.2" stroke="#000" stroke-width="3.5" stroke-linecap="round"/>
<path d="M395.9 775.9V743.6M389.0 743.6H402.8M395.9 810.6V813.0M389.0 813.0H402.8" stroke="#000" stroke-width="3.5" fill="none" stroke-linecap="round"/>
<rect x="384.4" y="776.8" width="23.2" height="32.9" fill="#8f8f8f" stroke="#000" stroke-width="3.8"/>
<path d="M381.6 805.6H410.4" stroke="#000" stroke-width="3.5" stroke-linecap="round"/>
<path d="M423.3 778.9V746.2M416.4 746.2H430.2M423.3 810.6V813.0M416.4 813.0H430.2" stroke="#000" stroke-width="3.5" fill="none" stroke-linecap="round"/>
<rect x="411.3" y="779.8" width="23.8" height="29.9" fill="#fff" stroke="#000" stroke-width="3.8"/>
<path d="M408.5 808.2H437.9" stroke="#000" stroke-width="3.5" stroke-linecap="round"/>
<text class="s" transform="translate(149.07 860.40) scale(1.0000 1)" font-size="18" font-weight="bold" stroke="#000" stroke-width="0.4">a</text>
<text class="s" transform="translate(236.49 860.40) scale(1.0000 1)" font-size="18" font-weight="bold" stroke="#000" stroke-width="0.4">b</text>
<text class="s" transform="translate(320.59 860.40) scale(1.0000 1)" font-size="18" font-weight="bold" stroke="#000" stroke-width="0.4">c</text>
<text class="s" transform="translate(404.03 860.40) scale(1.0000 1)" font-size="18" font-weight="bold" stroke="#000" stroke-width="0.4">d</text>
<text class="s" transform="translate(319.73 709.16) scale(0.9400 1)" font-size="28.46" font-weight="bold" stroke="#000" stroke-width="0.4">*</text>
<text class="s" transform="translate(332.03 709.16) scale(0.9400 1)" font-size="28.46" font-weight="bold" stroke="#000" stroke-width="0.4">*</text>
<text class="s" transform="translate(344.33 709.16) scale(0.9400 1)" font-size="28.46" font-weight="bold" stroke="#000" stroke-width="0.4">*</text>
<rect x="362.1" y="593.1" width="21.7" height="10.2" fill="#8f8f8f" stroke="#000" stroke-width="3.2"/>
<rect x="362.1" y="625.2" width="21.7" height="10.1" fill="#fff" stroke="#000" stroke-width="3.2"/>
<text class="s" transform="translate(399.60 603.80) scale(1.0911 1)" font-size="18" stroke="#000" stroke-width="0.35">WT</text>
<text class="s" transform="translate(399.71 636.40) scale(1.0840 1)" font-size="18" font-style="italic" stroke="#000" stroke-width="0.35">Btbd9</text>
<text class="s" transform="translate(453.65 636.40) scale(1.1787 1)" font-size="18" stroke="#000" stroke-width="0.35">KO</text>
<path d="M611.4 605.0V841.9H1027.5M600.4 606.2H611.4M600.4 653.3H611.4M600.4 700.7H611.4M600.4 747.4H611.4M600.4 794.3H611.4M600.4 841.9H611.4" stroke="#000" stroke-width="2.9" fill="none" stroke-linejoin="miter" stroke-linecap="butt"/>
<text class="s" transform="translate(573.72 612.80) scale(1.0200 1)" font-size="17.4" font-weight="bold" stroke="#000" stroke-width="0.4">0.4</text>
<text class="s" transform="translate(574.25 659.90) scale(1.0200 1)" font-size="17.4" font-weight="bold" stroke="#000" stroke-width="0.4">0.3</text>
<text class="s" transform="translate(574.34 707.30) scale(1.0200 1)" font-size="17.4" font-weight="bold" stroke="#000" stroke-width="0.4">0.2</text>
<text class="s" transform="translate(574.12 754.00) scale(1.0200 1)" font-size="17.4" font-weight="bold" stroke="#000" stroke-width="0.4">0.1</text>
<text class="s" transform="translate(574.34 800.90) scale(1.0200 1)" font-size="17.4" font-weight="bold" stroke="#000" stroke-width="0.4">0.0</text>
<text class="s" transform="translate(568.22 848.50) scale(1.0200 1)" font-size="17.4" font-weight="bold" stroke="#000" stroke-width="0.4">-0.1</text>
<text class="s" font-size="20.5" font-weight="bold" stroke="#000" stroke-width="0.4" transform="translate(557.90 796.28) rotate(-90) scale(0.9490 1)">Current density</text>
<path d="M638.8 723.9V704.5M631.9 704.5H645.7M638.8 792.1V797.4M631.9 797.4H645.7" stroke="#000" stroke-width="3.5" fill="none" stroke-linecap="round"/>
<rect x="626.8" y="724.8" width="23.7" height="66.4" fill="#8f8f8f" stroke="#000" stroke-width="3.8"/>
<path d="M624.0 764.5H653.3" stroke="#000" stroke-width="3.5" stroke-linecap="round"/>
<path d="M666.2 727.4V698.3M659.3 698.3H673.1M666.2 792.1V796.7M659.3 796.7H673.1" stroke="#000" stroke-width="3.5" fill="none" stroke-linecap="round"/>
<rect x="654.2" y="728.3" width="23.7" height="62.9" fill="#fff" stroke="#000" stroke-width="3.8"/>
<path d="M651.4 774.8H680.7" stroke="#000" stroke-width="3.5" stroke-linecap="round"/>
<path d="M723.3 699.3V663.8M716.4 663.8H730.2M723.3 792.1V798.6M716.4 798.6H730.2" stroke="#000" stroke-width="3.5" fill="none" stroke-linecap="round"/>
<rect x="711.4" y="700.2" width="23.7" height="91.0" fill="#8f8f8f" stroke="#000" stroke-width="3.8"/>
<path d="M708.6 759.8H737.9" stroke="#000" stroke-width="3.5" stroke-linecap="round"/>
<path d="M751.0 676.2V640.7M744.1 640.7H757.9M751.0 789.7V795.5M744.1 795.5H757.9" stroke="#000" stroke-width="3.5" fill="none" stroke-linecap="round"/>
<rect x="738.7" y="677.1" width="24.2" height="111.7" fill="#fff" stroke="#000" stroke-width="3.8"/>
<path d="M735.9 751.9H765.7" stroke="#000" stroke-width="3.5" stroke-linecap="round"/>
<path d="M807.7 721.9V703.4M800.8 703.4H814.6M807.7 792.7V794.9M800.8 794.9H814.6" stroke="#000" stroke-width="3.5" fill="none" stroke-linecap="round"/>
<rect x="795.0" y="722.8" width="23.4" height="69.0" fill="#8f8f8f" stroke="#000" stroke-width="3.8"/>
<path d="M792.2 770.0H821.2" stroke="#000" stroke-width="3.5" stroke-linecap="round"/>
<path d="M834.3 743.3V719.4M827.4 719.4H841.2M834.3 793.9V798.6M827.4 798.6H841.2" stroke="#000" stroke-width="3.5" fill="none" stroke-linecap="round"/>
<rect x="823.0" y="744.2" width="23.4" height="48.8" fill="#fff" stroke="#000" stroke-width="3.8"/>
<path d="M820.2 782.0H849.2" stroke="#000" stroke-width="3.5" stroke-linecap="round"/>
<path d="M891.4 696.7V662.0M884.5 662.0H898.3M891.4 792.7V795.7M884.5 795.7H898.3" stroke="#000" stroke-width="3.5" fill="none" stroke-linecap="round"/>
<rect x="878.7" y="697.6" width="24.0" height="94.2" fill="#8f8f8f" stroke="#000" stroke-width="3.8"/>
<path d="M875.9 765.1H905.5" stroke="#000" stroke-width="3.5" stroke-linecap="round"/>
<path d="M919.1 691.0V661.4M912.2 661.4H926.0M919.1 792.7V795.7M912.2 795.7H926.0" stroke="#000" stroke-width="3.5" fill="none" stroke-linecap="round"/>
<rect x="906.7" y="691.9" width="23.7" height="99.9" fill="#fff" stroke="#000" stroke-width="3.8"/>
<path d="M903.9 759.1H933.2" stroke="#000" stroke-width="3.5" stroke-linecap="round"/>
<path d="M973.4 795.6V790.6M966.9 790.6H979.9M973.4 798.8V802.0M966.9 802.0H979.9" stroke="#000" stroke-width="2.4" fill="none" stroke-linecap="round"/>
<rect x="961.2" y="795.6" width="24.4" height="3.2" fill="#000" stroke="#000" stroke-width="2.0"/>
<path d="M960.5 797.2H986.3" stroke="#000" stroke-width="2.4" stroke-linecap="round"/>
<path d="M999.4 785.3V778.0M992.9 778.0H1005.9M999.4 792.2V799.4M992.9 799.4H1005.9" stroke="#000" stroke-width="2.4" fill="none" stroke-linecap="round"/>
<rect x="987.7" y="785.5" width="23.8" height="6.5" fill="#fff" stroke="#000" stroke-width="2.4"/>
<path d="M986.3 791.2H1012.9" stroke="#000" stroke-width="2.4" stroke-linecap="round"/>
<text class="s" transform="translate(641.35 862.60) scale(1.0179 1)" font-size="18" font-weight="bold" stroke="#000" stroke-width="0.4">a-b</text>
<text class="s" transform="translate(733.03 862.60) scale(1.0490 1)" font-size="18" font-weight="bold" stroke="#000" stroke-width="0.4">a-c</text>
<text class="s" transform="translate(815.85 862.80) scale(1.0474 1)" font-size="18" font-weight="bold" stroke="#000" stroke-width="0.4">c-d</text>
<text class="s" transform="translate(899.99 862.90) scale(1.0370 1)" font-size="18" font-weight="bold" stroke="#000" stroke-width="0.4">b-d</text>
<text class="s" transform="translate(955.97 862.90) scale(1.0332 1)" font-size="18" font-weight="bold" stroke="#000" stroke-width="0.4">(a-c)-(b-d)</text>
<text class="s" transform="translate(745.48 626.46) scale(0.9400 1)" font-size="28.46" font-weight="bold" stroke="#000" stroke-width="0.4">*</text>
<text class="s" transform="translate(829.68 705.26) scale(0.9400 1)" font-size="28.46" font-weight="bold" stroke="#000" stroke-width="0.4">*</text>
<text class="s" transform="translate(988.33 762.56) scale(0.9400 1)" font-size="28.46" font-weight="bold" stroke="#000" stroke-width="0.4">*</text>
<text class="s" transform="translate(1000.63 762.56) scale(0.9400 1)" font-size="28.46" font-weight="bold" stroke="#000" stroke-width="0.4">*</text>
<rect x="970.7" y="595.0" width="20.6" height="10.0" fill="#8f8f8f" stroke="#000" stroke-width="3.2"/>
<rect x="970.7" y="624.5" width="20.6" height="10.2" fill="#fff" stroke="#000" stroke-width="3.2"/>
<text class="s" transform="translate(1005.61 605.10) scale(1.0475 1)" font-size="17.5" stroke="#000" stroke-width="0.35">WT</text>
<text class="s" transform="translate(1005.11 634.90) scale(1.0287 1)" font-size="17.5" stroke="#000" stroke-width="0.35">Btbd9 KO</text>
<text stroke="#000" stroke-width="1.1" vector-effect="non-scaling-stroke" class="h" transform="translate(1.77 923.05) scale(0.2897 0.2589)" font-size="100" font-weight="bold">H</text>
<text class="s" transform="translate(54.42 977.70) scale(0.9984 1)" font-size="21.5" stroke="#000" stroke-width="0.35">TTX, before Paxilline</text>
<text class="s" transform="translate(299.62 981.20) scale(0.9992 1)" font-size="21.5" stroke="#000" stroke-width="0.35">TTX, with Paxilline</text>
<text class="s" transform="translate(518.13 977.50) scale(0.9995 1)" font-size="21.5" stroke="#000" stroke-width="0.35">Paxilline-sensitive current</text>
<path d="M38.6 1128.6L39.4 1128.9L40.2 1129.7L41 1129.3L41.8 1128.9L42.6 1129.5L43.4 1129.2L44.2 1129.5L45 1129.7L45.8 1128.9L46.6 1129.2L47.4 1129.8L48.2 1129.3L49 1128.6L49.8 1128.5L50.6 1129.7L51.4 1130L51.5 1129.4L52.3 1121.1L53.1 1098.9L53.9 1069.3L54.7 1040.3L55.5 1021L56.3 1016.7L57.1 1016.7L57.9 1016.9L58.7 1017.3L59.5 1018.7L60.3 1019.7L61.1 1019.9L61.9 1021.2L62.7 1022.9L63.5 1022.8L64.3 1023.2L65.1 1023.1L65.9 1023.3L66.7 1022.6L67.5 1022.2L68.3 1021.7L69.1 1021.9L69.9 1022.2L70.7 1020.9L71.5 1020.7L72.3 1021.3L73.1 1019.6L73.9 1018.8L74.7 1018.9L75.5 1018.6L76.3 1019.1L77.1 1019.6L77.9 1020.3L78.7 1020.6L79.5 1021L80.3 1019.6L81.1 1019L81.9 1019.3L82.7 1020L83.5 1020.4L84.3 1020.8L85.1 1021.1L85.9 1020.4L86.7 1019.5L87.5 1019.5L88.3 1020.1L89.1 1019.5L89.9 1019.8L90.7 1020.4L91.5 1020.6L92.3 1020.6L93.1 1020.8L93.9 1020.8L94.7 1020.5L95.5 1020.3L96.3 1019.4L97.1 1020L97.9 1020.7L98.7 1020.7L99.5 1021.1L100.3 1020.9L101.1 1020.6L101.9 1020.2L102.7 1020L103.5 1020.8L104.3 1020.9L105.1 1020.3L105.9 1021.5L106.7 1021.9L107.5 1021.2L108.3 1020.6L109.1 1020.3L109.9 1021.1L110.7 1020.6L111.5 1020.4L112.3 1020.3L113.1 1020.4L113.9 1020.8L114.7 1020L115.5 1018.4L116.3 1019.4L117.1 1021L117.9 1021L118.7 1020.5L119.5 1019.5L120.3 1019.6L121.1 1019.8L121.9 1019.3L122.7 1019L123.5 1019.4L124.3 1019.1L125.1 1019.6L125.9 1019.8L126.7 1019.9L127.5 1020.2L128.3 1020.8L129.1 1021.2L129.9 1021.2L130.7 1020.5L131.5 1021.1L132.3 1021.8L133.1 1021.4L133.9 1022L134.7 1021.4L135.5 1021.6L136.3 1021.4L137.1 1021.5L137.9 1022.3L138.7 1022.1L139.5 1021L140.3 1021L141.1 1021.4L141.9 1020.8L142.7 1020.3L143.5 1020.3L144.3 1021.1L145.1 1020.7L145.9 1021L146.7 1021.6L147.5 1021.6L148.3 1021.3L149.1 1020.6L149.9 1021.3L150.7 1021.6L151.5 1022.1L152.3 1022.3L153.1 1021.6L153.9 1021.2L154.7 1021.1L155.5 1021.9L156.3 1021.7L157.1 1021L157.9 1020.9L158.7 1020.7L159.5 1020.9L160.3 1021.2L161.1 1020.6L161.9 1020.2L162.7 1021.5L163.5 1021.2L164.3 1021.3L165.1 1021.1L165.9 1021.1L166.7 1021.8L167.5 1021.7L168.3 1021.1L169.1 1021.2L169.9 1021.4L170.7 1020.9L171.5 1020L172.3 1019.1L173.1 1019.9L173.9 1019.9L174.7 1019.3L175.5 1019.8L176.3 1019.8L177.1 1019.3L177.9 1019.8L178.7 1019.4L179.5 1019.7L180.3 1020.6L181.1 1020.9L181.9 1019.9L182.7 1018.9L183.5 1019.7L184.3 1019.7L185.1 1019.2L185.9 1019.3L186.7 1019.1L187.5 1019.6L188.3 1020.3L189.1 1019.5L189.9 1018.7L190.7 1019L191.5 1020.2L192.3 1019.9L193.1 1019.5L193.9 1020.4L194.7 1020.3L195.5 1019.5L196.3 1020.3L197.1 1020.3L197.9 1019.6L198.7 1019.5L199.5 1019.2L200.3 1019.3L201.1 1019L201.9 1019.8L202.7 1020.9L203.5 1021L204.3 1020.7L205.1 1020.8L205.9 1021.3L206.7 1020.6L210.7 1141.7L211.5 1140.9L212.3 1140.1L213.1 1140.9L213.9 1141.2L214.7 1139.7L215.5 1139.8L216.3 1139L217.1 1138.3L217.9 1139.1L218.7 1139.2L219.5 1138.4L220.3 1138.6L221.1 1139.6L221.9 1138.2L222.7 1136.2L223.5 1136.1L224.3 1136.7L225.1 1135.9L225.9 1134.7L226.7 1135.8L227.5 1135.2L228.3 1134.6L229.1 1136.1L229.9 1136.1L230.7 1135.2L231.5 1135.9L232.3 1135.7L233.1 1134.1L233.9 1134.7L234.7 1134.5L235.5 1133.2L236.3 1134L237.1 1134L237.9 1133.4L238.7 1135.6L239.5 1133.8L240.3 1132.8L241.1 1134.9L241.9 1133.8L242.7 1132.9L243.5 1133.1L244.3 1132.7L245.1 1133.3L245.9 1133.2L246.7 1133.4L247.5 1133.7L248.3 1133.8L249.1 1133.8L249.9 1132.6L250.7 1133L251.5 1133.1L252.3 1133.3L253.1 1133.3L253.9 1132.6L254.7 1132.3L255.5 1131.7L256.3 1132L257.1 1133.3L257.9 1133.9" fill="none" stroke="#000" stroke-width="2.3" stroke-linejoin="round" stroke-linecap="butt"/>
<path d="M38.6 1130.3L39.4 1130.4L40.2 1130.5L41 1129.5L41.8 1129.5L42.6 1129.9L43.4 1129.4L44.2 1129L45 1129.4L45.8 1130L46.6 1130.7L47.4 1129.8L48.2 1129L49 1129.4L49.8 1129.8L50.6 1130.5L51.4 1131L51.5 1130L52.3 1124.2L53.1 1108.5L53.9 1086.4L54.7 1063.3L55.5 1045.6L56.3 1037.1L57.1 1036.3L57.9 1037.1L58.7 1038.7L59.5 1039.7L60.3 1039.8L61.1 1039.3L61.9 1039L62.7 1040.3L63.5 1041.3L64.3 1042.4L65.1 1042.2L65.9 1042.2L66.7 1042.4L67.5 1042L68.3 1042.3L69.1 1042.6L69.9 1043.4L70.7 1042.9L71.5 1041.7L72.3 1042.2L73.1 1042.7L73.9 1041.7L74.7 1041.3L75.5 1041.6L76.3 1041.5L77.1 1040.5L77.9 1041.1L78.7 1041.7L79.5 1041.2L80.3 1040.7L81.1 1041.8L81.9 1041.9L82.7 1042.2L83.5 1041.7L84.3 1041.6L85.1 1041.6L85.9 1042L86.7 1041.9L87.5 1041.2L88.3 1041.8L89.1 1042.3L89.9 1041.9L90.7 1041.1L91.5 1040.7L92.3 1041.5L93.1 1042.3L93.9 1041.7L94.7 1041.3L95.5 1040.9L96.3 1040.8L97.1 1041.7L97.9 1040.6L98.7 1039.5L99.5 1039.6L100.3 1039.5L101.1 1039L101.9 1039.1L102.7 1039.6L103.5 1039.8L104.3 1039.6L105.1 1039.1L105.9 1039.7L106.7 1040.4L107.5 1040.9L108.3 1040.8L109.1 1040.7L109.9 1039.5L110.7 1039.6L111.5 1040.2L112.3 1041L113.1 1040.3L113.9 1039.8L114.7 1040.4L115.5 1039.6L116.3 1039.4L117.1 1040.4L117.9 1040.6L118.7 1039.9L119.5 1039L120.3 1039.3L121.1 1039.7L121.9 1039.7L122.7 1040L123.5 1040.6L124.3 1039.9L125.1 1040.7L125.9 1041.3L126.7 1039.9L127.5 1040L128.3 1040L129.1 1039.9L129.9 1040L130.7 1040.1L131.5 1039.5L132.3 1039.5L133.1 1040L133.9 1040.1L134.7 1040.1L135.5 1040.3L136.3 1040.5L137.1 1040.7L137.9 1040.2L138.7 1040.2L139.5 1040.9L140.3 1040.4L141.1 1039.6L141.9 1039.7L142.7 1039.8L143.5 1039.7L144.3 1039.7L145.1 1039.6L145.9 1040.4L146.7 1041.3L147.5 1040.6L148.3 1039.7L149.1 1039.8L149.9 1039.9L150.7 1039.6L151.5 1039.5L152.3 1041.2L153.1 1041.5L153.9 1040.6L154.7 1041.2L155.5 1040.7L156.3 1040.2L157.1 1040.4L157.9 1039.9L158.7 1039.6L159.5 1039.7L160.3 1039.5L161.1 1039.4L161.9 1038.6L162.7 1038.9L163.5 1038.2L164.3 1038.2L165.1 1039.5L165.9 1038.7L166.7 1038.5L167.5 1039.5L168.3 1040.2L169.1 1039L169.9 1039.1L170.7 1040.3L171.5 1041.6L172.3 1040.2L173.1 1040.6L173.9 1040.8L174.7 1040.4L175.5 1041.8L176.3 1041.4L177.1 1040.1L177.9 1040.3L178.7 1041.5L179.5 1041.3L180.3 1040.4L181.1 1040L181.9 1040.3L182.7 1040.6L183.5 1040.4L184.3 1040.4L185.1 1040L185.9 1040.4L186.7 1041L187.5 1040.8L188.3 1040.6L189.1 1038.7L189.9 1039.5L190.7 1040.3L191.5 1039.3L192.3 1038.6L193.1 1038.9L193.9 1039.3L194.7 1039.2L195.5 1039.2L196.3 1037.9L197.1 1038.5L197.9 1040.1L198.7 1039.8L199.5 1039.4L200.3 1039.4L201.1 1039.4L201.9 1040.5L202.7 1040.1L203.5 1040L204.3 1040.1L205.1 1040.1L205.9 1040.7L206.7 1039.3L210.7 1137.9L211.5 1137.1L212.3 1136.1L213.1 1135.4L213.9 1135.6L214.7 1136.6L215.5 1137.1L216.3 1134.9L217.1 1132.8L217.9 1133.2L218.7 1133.1L219.5 1132.5L220.3 1133.8L221.1 1133.8L221.9 1133.5L222.7 1133.1L223.5 1133.1L224.3 1133.8L225.1 1132.9L225.9 1132L226.7 1130.8L227.5 1130.9L228.3 1132.3L229.1 1132L229.9 1131.3L230.7 1131.3L231.5 1131.3L232.3 1131.3L233.1 1130.8L233.9 1130.5L234.7 1130.6L235.5 1130.5L236.3 1129.3L237.1 1130.6L237.9 1130.8L238.7 1129.4L239.5 1130.5L240.3 1129.7L241.1 1128.8L241.9 1129.9L242.7 1130.4L243.5 1129.8L244.3 1128.7L245.1 1128.5L245.9 1128.5L246.7 1129L247.5 1130.5L248.3 1131.5L249.1 1131.6L249.9 1130.6L250.7 1129.6L251.5 1129.7L252.3 1129.8L253.1 1130.2L253.9 1130.1L254.7 1129.8L255.5 1129.3L256.3 1129.3L257.1 1129.1L257.9 1129.4" fill="none" stroke="#000" stroke-width="2.3" stroke-linejoin="round" stroke-linecap="butt"/>
<path d="M38.6 1132L39.4 1131.9L40.2 1132.4L41 1132.2L41.8 1131.9L42.6 1131L43.4 1131.3L44.2 1131.4L45 1131L45.8 1131.4L46.6 1131.7L47.4 1131.2L48.2 1130.5L49 1130.7L49.8 1131.1L50.6 1131.5L51.4 1131.6L51.5 1131.4L52.3 1127.7L53.1 1117.1L53.9 1101.9L54.7 1085.1L55.5 1070L56.3 1060L57.1 1057.6L57.9 1057.9L58.7 1058.3L59.5 1059.5L60.3 1061.3L61.1 1061.3L61.9 1060.7L62.7 1060.9L63.5 1060.8L64.3 1061.3L65.1 1062.8L65.9 1062.6L66.7 1061.5L67.5 1061.3L68.3 1062.1L69.1 1062.2L69.9 1061.5L70.7 1061.1L71.5 1061.2L72.3 1061.7L73.1 1061.9L73.9 1061.6L74.7 1061.1L75.5 1060.9L76.3 1061.5L77.1 1061L77.9 1060.4L78.7 1060.3L79.5 1059.8L80.3 1059L81.1 1059.4L81.9 1060.5L82.7 1061.2L83.5 1060.7L84.3 1060.4L85.1 1061.2L85.9 1060.7L86.7 1060.6L87.5 1060.7L88.3 1060.6L89.1 1060.5L89.9 1061.1L90.7 1060.7L91.5 1060.7L92.3 1061.5L93.1 1060.6L93.9 1060.4L94.7 1060.2L95.5 1059.9L96.3 1059.6L97.1 1059.4L97.9 1058.6L98.7 1058.9L99.5 1059L100.3 1059.3L101.1 1060L101.9 1059L102.7 1058.7L103.5 1058.8L104.3 1059.4L105.1 1059.9L105.9 1060.5L106.7 1060.2L107.5 1059.7L108.3 1059L109.1 1059.3L109.9 1060.1L110.7 1059.2L111.5 1058.6L112.3 1058.6L113.1 1058.8L113.9 1059.3L114.7 1059.7L115.5 1058.6L116.3 1058.7L117.1 1060.1L117.9 1060.6L118.7 1060.4L119.5 1059.6L120.3 1060.5L121.1 1061L121.9 1060.4L122.7 1060.5L123.5 1060.6L124.3 1059.8L125.1 1059.4L125.9 1059.4L126.7 1059.6L127.5 1060.8L128.3 1060L129.1 1059.4L129.9 1060.3L130.7 1061.3L131.5 1061.6L132.3 1060.8L133.1 1060.2L133.9 1060.1L134.7 1059.9L135.5 1059.9L136.3 1060.6L137.1 1060.5L137.9 1060.4L138.7 1059.8L139.5 1058.5L140.3 1059L141.1 1058.3L141.9 1057.9L142.7 1058.4L143.5 1059L144.3 1058.5L145.1 1058.5L145.9 1059.2L146.7 1058.2L147.5 1058.4L148.3 1059.9L149.1 1060L149.9 1058.6L150.7 1057.3L151.5 1057.9L152.3 1058.5L153.1 1058.7L153.9 1059.2L154.7 1058.9L155.5 1058.8L156.3 1059.1L157.1 1060L157.9 1058.5L158.7 1058.7L159.5 1060.4L160.3 1060L161.1 1060.5L161.9 1059.7L162.7 1059.3L163.5 1059.9L164.3 1059.9L165.1 1060L165.9 1059.9L166.7 1059.9L167.5 1059.8L168.3 1059.1L169.1 1059.6L169.9 1059L170.7 1058.3L171.5 1058.2L172.3 1058.6L173.1 1058.9L173.9 1058.8L174.7 1059L175.5 1059.4L176.3 1059L177.1 1059.3L177.9 1059.9L178.7 1058.1L179.5 1058.1L180.3 1059.6L181.1 1060.3L181.9 1059.6L182.7 1059.6L183.5 1059.6L184.3 1059.4L185.1 1059.3L185.9 1058.6L186.7 1059.3L187.5 1058.7L188.3 1058.5L189.1 1058.7L189.9 1058.9L190.7 1058.8L191.5 1059.4L192.3 1059.3L193.1 1059.1L193.9 1059.5L194.7 1059.2L195.5 1060L196.3 1059.7L197.1 1059L197.9 1058.9L198.7 1058.9L199.5 1058.1L200.3 1058.5L201.1 1059.2L201.9 1058.9L202.7 1058.9L203.5 1059.3L204.3 1060L205.1 1059.4L205.9 1059.8L206.7 1059.9L210.7 1135.5L211.5 1135.3L212.3 1135.1L213.1 1135.3L213.9 1134.3L214.7 1133.7L215.5 1132.2L216.3 1132L217.1 1132.6L217.9 1132.9L218.7 1133.2L219.5 1131.5L220.3 1131.9L221.1 1132.5L221.9 1131.8L222.7 1132.3L223.5 1131.4L224.3 1131L225.1 1131L225.9 1131.9L226.7 1132.1L227.5 1130.3L228.3 1131.7L229.1 1132.6L229.9 1131.2L230.7 1131.9L231.5 1130.7L232.3 1129.4L233.1 1130.4L233.9 1129.8L234.7 1130.4L235.5 1131.5L236.3 1130.2L237.1 1129.6L237.9 1129.9L238.7 1130.6L239.5 1130.8L240.3 1130.3L241.1 1131L241.9 1130.9L242.7 1130.9L243.5 1130.6L244.3 1129.3L245.1 1129.7L245.9 1130L246.7 1129.7L247.5 1129.5L248.3 1128.6L249.1 1129.2L249.9 1129.8L250.7 1128.9L251.5 1129.7L252.3 1130.8L253.1 1129.3L253.9 1130.1L254.7 1130.8L255.5 1129.5L256.3 1129.8L257.1 1130L257.9 1129.7" fill="none" stroke="#000" stroke-width="2.3" stroke-linejoin="round" stroke-linecap="butt"/>
<path d="M38.6 1130.7L39.4 1130.1L40.2 1130.4L41 1131.4L41.8 1130.1L42.6 1130L43.4 1130.8L44.2 1130.4L45 1131.2L45.8 1131.1L46.6 1130.7L47.4 1130.7L48.2 1130.8L49 1131.5L49.8 1130.8L50.6 1130.4L51.4 1130.3L51.5 1130.7L52.3 1123.1L53.1 1108.2L53.9 1099.2L54.7 1093.4L55.5 1088.6L56.3 1085.8L57.1 1084.4L57.9 1081.9L58.7 1081.2L59.5 1081.8L60.3 1080.9L61.1 1080.2L61.9 1080.3L62.7 1080.9L63.5 1081.2L64.3 1081L65.1 1079.8L65.9 1080.4L66.7 1081.5L67.5 1080.8L68.3 1080.9L69.1 1081.8L69.9 1081.4L70.7 1080.8L71.5 1081.2L72.3 1081L73.1 1080.7L73.9 1080.6L74.7 1081.5L75.5 1081.4L76.3 1081.1L77.1 1081.8L77.9 1082.4L78.7 1081.9L79.5 1081.1L80.3 1081.5L81.1 1082L81.9 1082.4L82.7 1082.2L83.5 1081.4L84.3 1080.3L85.1 1081.3L85.9 1082.5L86.7 1082.5L87.5 1081.5L88.3 1081.9L89.1 1081.6L89.9 1081L90.7 1080.2L91.5 1080.8L92.3 1081.9L93.1 1081L93.9 1080.3L94.7 1080.8L95.5 1082.2L96.3 1081.7L97.1 1081.7L97.9 1081L98.7 1080.2L99.5 1080.3L100.3 1081.2L101.1 1081.3L101.9 1081.5L102.7 1082.6L103.5 1082.1L104.3 1081.7L105.1 1081L105.9 1080.7L106.7 1080.4L107.5 1080.3L108.3 1080.1L109.1 1080.5L109.9 1081.3L110.7 1081.1L111.5 1080.7L112.3 1080.4L113.1 1080.7L113.9 1080.5L114.7 1081.2L115.5 1081.6L116.3 1081.3L117.1 1081.2L117.9 1080L118.7 1080.7L119.5 1080.9L120.3 1079.7L121.1 1080.7L121.9 1081L122.7 1080.4L123.5 1080.5L124.3 1080.6L125.1 1080.5L125.9 1080.4L126.7 1080.9L127.5 1081L128.3 1079.8L129.1 1080.8L129.9 1082.3L130.7 1081.9L131.5 1082.5L132.3 1081.5L133.1 1081.2L133.9 1080.6L134.7 1080.9L135.5 1081.8L136.3 1082.1L137.1 1082.6L137.9 1082.3L138.7 1080.5L139.5 1080.1L140.3 1081.3L141.1 1081.1L141.9 1081.2L142.7 1080.2L143.5 1079.7L144.3 1079.3L145.1 1080L145.9 1079.6L146.7 1079.3L147.5 1080L148.3 1079.8L149.1 1079.4L149.9 1079.4L150.7 1078.4L151.5 1078.3L152.3 1080.2L153.1 1080.5L153.9 1079.3L154.7 1079.4L155.5 1080.2L156.3 1080.1L157.1 1079.4L157.9 1080.5L158.7 1080.5L159.5 1080.1L160.3 1080.8L161.1 1080.6L161.9 1080.2L162.7 1079.8L163.5 1079.6L164.3 1080.4L165.1 1080.1L165.9 1080.1L166.7 1080.2L167.5 1079.6L168.3 1079.5L169.1 1080.4L169.9 1080.3L170.7 1079.8L171.5 1080.6L172.3 1081.2L173.1 1081L173.9 1081L174.7 1081L175.5 1080.5L176.3 1080.8L177.1 1080.5L177.9 1080.4L178.7 1080.4L179.5 1081.4L180.3 1081.2L181.1 1080.2L181.9 1080L182.7 1080.1L183.5 1080.1L184.3 1080.7L185.1 1081L185.9 1080.3L186.7 1079.5L187.5 1079.5L188.3 1080.5L189.1 1079.8L189.9 1078.2L190.7 1078.7L191.5 1079.8L192.3 1080L193.1 1081L193.9 1081.5L194.7 1080.4L195.5 1081.3L196.3 1082L197.1 1081.3L197.9 1081.6L198.7 1082.1L199.5 1082.5L200.3 1081.7L201.1 1081.6L201.9 1082.2L202.7 1081.7L203.5 1081.3L204.3 1081L205.1 1080.6L205.9 1080.9L206.7 1081.1L210.7 1135L211.5 1134.5L212.3 1134L213.1 1135.4L213.9 1135.7L214.7 1134.8L215.5 1134.4L216.3 1134.1L217.1 1133.4L217.9 1133.1L218.7 1133.6L219.5 1132.9L220.3 1132.5L221.1 1133L221.9 1133.4L222.7 1131.8L223.5 1132.2L224.3 1132.1L225.1 1130.5L225.9 1132.5L226.7 1133.5L227.5 1132.8L228.3 1134.2L229.1 1133.9L229.9 1132L230.7 1130.6L231.5 1131.1L232.3 1132.7L233.1 1132.7L233.9 1132.1L234.7 1130.4L235.5 1130.5L236.3 1130.9L237.1 1131.7L237.9 1132.4L238.7 1131.6L239.5 1132.1L240.3 1130.8L241.1 1130.2L241.9 1130.5L242.7 1130.9L243.5 1132.5L244.3 1131.8L245.1 1130.2L245.9 1129.3L246.7 1129.2L247.5 1130.4L248.3 1131.8L249.1 1131.9L249.9 1131L250.7 1131.8L251.5 1132L252.3 1131.3L253.1 1130.8L253.9 1130.5L254.7 1131.4L255.5 1131.3L256.3 1130.3L257.1 1131.2L257.9 1132.1" fill="none" stroke="#000" stroke-width="2.3" stroke-linejoin="round" stroke-linecap="butt"/>
<path d="M38.6 1129.3L39.4 1129.4L40.2 1130.3L41 1130.8L41.8 1129.4L42.6 1128.7L43.4 1129.2L44.2 1130L45 1129.8L45.8 1129.6L46.6 1129.9L47.4 1130.3L48.2 1129.7L49 1130.1L49.8 1129.8L50.6 1129L51.4 1129.6L51.5 1129.7L52.3 1126.4L53.1 1119.5L53.9 1114.7L54.7 1110.7L55.5 1107.9L56.3 1105.3L57.1 1103.8L57.9 1103.1L58.7 1102.5L59.5 1101.7L60.3 1100.6L61.1 1100L61.9 1099.4L62.7 1099.1L63.5 1099.2L64.3 1098.5L65.1 1098.1L65.9 1098L66.7 1097.6L67.5 1097.5L68.3 1097.8L69.1 1097.5L69.9 1097L70.7 1095.9L71.5 1095.5L72.3 1096.7L73.1 1097.7L73.9 1096.9L74.7 1096.9L75.5 1096.8L76.3 1097.7L77.1 1098.8L77.9 1097.3L78.7 1097.9L79.5 1099L80.3 1098L81.1 1098L81.9 1097.8L82.7 1097.2L83.5 1097.8L84.3 1096.8L85.1 1096.5L85.9 1096.9L86.7 1096.6L87.5 1097.3L88.3 1097.6L89.1 1097.4L89.9 1097.3L90.7 1097.5L91.5 1098.4L92.3 1097.3L93.1 1096.5L93.9 1096.1L94.7 1096.2L95.5 1096.5L96.3 1096L97.1 1096L97.9 1096.6L98.7 1096.5L99.5 1096.6L100.3 1096.1L101.1 1096L101.9 1096.1L102.7 1096.2L103.5 1097.5L104.3 1097.2L105.1 1096.7L105.9 1096.4L106.7 1096L107.5 1095.4L108.3 1095.6L109.1 1095.6L109.9 1095.9L110.7 1095.9L111.5 1095L112.3 1094.8L113.1 1096.1L113.9 1097.1L114.7 1097.1L115.5 1096.8L116.3 1096.9L117.1 1096.6L117.9 1097.4L118.7 1097.2L119.5 1096L120.3 1096.4L121.1 1096.8L121.9 1096.4L122.7 1095.3L123.5 1095L124.3 1095.4L125.1 1095.9L125.9 1095.4L126.7 1094.8L127.5 1095.2L128.3 1095.5L129.1 1095.6L129.9 1095.8L130.7 1095.9L131.5 1095.6L132.3 1095.7L133.1 1095.5L133.9 1095.1L134.7 1096.1L135.5 1097L136.3 1098L137.1 1098.1L137.9 1097.4L138.7 1096.5L139.5 1095.9L140.3 1094.7L141.1 1094.9L141.9 1095.7L142.7 1096.3L143.5 1095.4L144.3 1094.9L145.1 1096.7L145.9 1097.4L146.7 1096.5L147.5 1095.2L148.3 1095.4L149.1 1095.6L149.9 1096.5L150.7 1097.1L151.5 1097.8L152.3 1097.2L153.1 1096L153.9 1096.6L154.7 1096.6L155.5 1096.7L156.3 1096.9L157.1 1097.1L157.9 1096.9L158.7 1097.4L159.5 1096.7L160.3 1096.7L161.1 1097.2L161.9 1096.9L162.7 1096.6L163.5 1096.7L164.3 1096.4L165.1 1095.2L165.9 1095.1L166.7 1095.9L167.5 1096.6L168.3 1095.9L169.1 1096L169.9 1096.2L170.7 1096.3L171.5 1096.1L172.3 1095.5L173.1 1095.6L173.9 1096.3L174.7 1096L175.5 1095.5L176.3 1095.6L177.1 1094.8L177.9 1095.2L178.7 1095.9L179.5 1095.6L180.3 1095.1L181.1 1094.5L181.9 1094.7L182.7 1094.8L183.5 1093.7L184.3 1093.7L185.1 1094.2L185.9 1093.9L186.7 1094.1L187.5 1093.8L188.3 1093.9L189.1 1095.5L189.9 1096L190.7 1095.7L191.5 1096.2L192.3 1095.1L193.1 1093.9L193.9 1095.2L194.7 1096.6L195.5 1096L196.3 1096L197.1 1095.3L197.9 1094.4L198.7 1094.7L199.5 1095.8L200.3 1094.8L201.1 1093.8L201.9 1094L202.7 1095.1L203.5 1094.8L204.3 1094.4L205.1 1095.1L205.9 1094.3L206.7 1093.6L210.7 1133.8L211.5 1133.3L212.3 1132.5L213.1 1132.1L213.9 1133.2L214.7 1133.6L215.5 1131.2L216.3 1131.4L217.1 1133L217.9 1133.2L218.7 1132.7L219.5 1132.9L220.3 1131.4L221.1 1130.1L221.9 1132.1L222.7 1132.9L223.5 1131.6L224.3 1130.4L225.1 1132.2L225.9 1133L226.7 1131.9L227.5 1131.6L228.3 1130.3L229.1 1130.1L229.9 1130.3L230.7 1131.1L231.5 1131.7L232.3 1131.4L233.1 1131L233.9 1131.9L234.7 1131.6L235.5 1130.3L236.3 1131.2L237.1 1129.6L237.9 1129.2L238.7 1130.8L239.5 1131.7L240.3 1132.8L241.1 1130.1L241.9 1128.4L242.7 1130.1L243.5 1130.8L244.3 1130.4L245.1 1129.7L245.9 1129.9L246.7 1131.1L247.5 1131.6L248.3 1130.7L249.1 1129.7L249.9 1129.5L250.7 1129.8L251.5 1131.2L252.3 1132.2L253.1 1130.5L253.9 1129.8L254.7 1131.2L255.5 1130.9L256.3 1130.5L257.1 1129.9L257.9 1130.5" fill="none" stroke="#000" stroke-width="2.3" stroke-linejoin="round" stroke-linecap="butt"/>
<path d="M38.6 1131.2L39.4 1130.9L40.2 1131.1L41 1131.1L41.8 1131.1L42.6 1131.6L43.4 1130.7L44.2 1129.8L45 1130.7L45.8 1130.7L46.6 1130.1L47.4 1130.7L48.2 1131.2L49 1130.7L49.8 1130.1L50.6 1131.2L51.4 1132L51.5 1130.6L52.3 1129.7L53.1 1127.4L53.9 1125.8L54.7 1123.8L55.5 1122.9L56.3 1121.3L57.1 1119.5L57.9 1119.4L58.7 1119.2L59.5 1118.5L60.3 1118.3L61.1 1117.3L61.9 1116.1L62.7 1116.3L63.5 1116.5L64.3 1116.3L65.1 1116.2L65.9 1116.4L66.7 1115.7L67.5 1116.1L68.3 1117L69.1 1116.7L69.9 1116.1L70.7 1115.6L71.5 1114.8L72.3 1114.1L73.1 1114.1L73.9 1114.4L74.7 1114.7L75.5 1114.1L76.3 1113.7L77.1 1114.2L77.9 1113.5L78.7 1113.7L79.5 1114.1L80.3 1114.5L81.1 1115L81.9 1115L82.7 1114L83.5 1114.6L84.3 1115.6L85.1 1114.9L85.9 1114.3L86.7 1114.8L87.5 1115L88.3 1114.9L89.1 1114.3L89.9 1113.7L90.7 1113.4L91.5 1113L92.3 1113.4L93.1 1113.9L93.9 1113.2L94.7 1113.4L95.5 1113.9L96.3 1114L97.1 1113.4L97.9 1113.8L98.7 1114.1L99.5 1113.6L100.3 1113.3L101.1 1113.1L101.9 1113.7L102.7 1113.4L103.5 1113.3L104.3 1112L105.1 1111.7L105.9 1111.7L106.7 1111.5L107.5 1112.3L108.3 1113.1L109.1 1113.4L109.9 1112.8L110.7 1112.8L111.5 1112.8L112.3 1113.7L113.1 1113.5L113.9 1113.1L114.7 1113.9L115.5 1114.2L116.3 1113.3L117.1 1113L117.9 1113L118.7 1112.7L119.5 1112.5L120.3 1112.2L121.1 1112.9L121.9 1113.2L122.7 1112.6L123.5 1112.9L124.3 1114.2L125.1 1113.9L125.9 1113.4L126.7 1112.4L127.5 1114.2L128.3 1114.8L129.1 1113.9L129.9 1113.7L130.7 1112.2L131.5 1112.9L132.3 1114.7L133.1 1114.6L133.9 1114.6L134.7 1115.1L135.5 1114.6L136.3 1114.1L137.1 1114L137.9 1113.6L138.7 1113.5L139.5 1113.4L140.3 1112.5L141.1 1112.8L141.9 1114L142.7 1114L143.5 1113.6L144.3 1113.4L145.1 1113.2L145.9 1112.6L146.7 1112.6L147.5 1112.5L148.3 1112.4L149.1 1112.9L149.9 1113.4L150.7 1114L151.5 1113.5L152.3 1113.8L153.1 1113.3L153.9 1112.2L154.7 1112.2L155.5 1113.2L156.3 1113.5L157.1 1113.6L157.9 1113.6L158.7 1113.3L159.5 1113.5L160.3 1112.9L161.1 1113.3L161.9 1113.3L162.7 1112.7L163.5 1112.9L164.3 1113.1L165.1 1112.6L165.9 1111.4L166.7 1111.8L167.5 1112.1L168.3 1112.2L169.1 1111.2L169.9 1111.4L170.7 1112L171.5 1111.7L172.3 1111.9L173.1 1111.7L173.9 1111.2L174.7 1111.7L175.5 1112.4L176.3 1112L177.1 1112.4L177.9 1113L178.7 1113.4L179.5 1113.6L180.3 1113.2L181.1 1113.9L181.9 1114.3L182.7 1113.6L183.5 1114.2L184.3 1114.1L185.1 1113.2L185.9 1113.3L186.7 1114.2L187.5 1113.9L188.3 1113.5L189.1 1112.9L189.9 1112.7L190.7 1113.8L191.5 1113.8L192.3 1112.9L193.1 1111.4L193.9 1111.2L194.7 1111.3L195.5 1111.9L196.3 1112.9L197.1 1112.7L197.9 1111.9L198.7 1111.3L199.5 1111.6L200.3 1112.1L201.1 1111.8L201.9 1111.8L202.7 1112.4L203.5 1112.9L204.3 1112L205.1 1111.6L205.9 1110.9L206.7 1109.7L210.7 1135.2L211.5 1133.5L212.3 1134.3L213.1 1134.5L213.9 1133.9L214.7 1134.8L215.5 1133.9L216.3 1132.4L217.1 1132.8L217.9 1133.4L218.7 1132.8L219.5 1132.3L220.3 1132.1L221.1 1131.6L221.9 1132.8L222.7 1133.5L223.5 1133.5L224.3 1132.9L225.1 1132.6L225.9 1134.2L226.7 1133.5L227.5 1132.1L228.3 1132.3L229.1 1131.2L229.9 1131L230.7 1132.1L231.5 1132.7L232.3 1134L233.1 1132.8L233.9 1132.8L234.7 1134.2L235.5 1132.5L236.3 1132.8L237.1 1132.5L237.9 1132.7L238.7 1132.2L239.5 1131L240.3 1133.2L241.1 1132.2L241.9 1130.9L242.7 1133.1L243.5 1133.4L244.3 1132.3L245.1 1133.2L245.9 1132.7L246.7 1130.4L247.5 1131.9L248.3 1133.3L249.1 1132.3L249.9 1133.7L250.7 1133.1L251.5 1132.6L252.3 1132.9L253.1 1132.6L253.9 1131.7L254.7 1130.8L255.5 1131.9L256.3 1133.9L257.1 1134.8L257.9 1132.5" fill="none" stroke="#000" stroke-width="2.3" stroke-linejoin="round" stroke-linecap="butt"/>
<path d="M38.6 1131.5L39.4 1131.4L40.2 1130L41 1130.5L41.8 1132.3L42.6 1131.7L43.4 1131.4L44.2 1132.2L45 1132.2L45.8 1132.2L46.6 1131.7L47.4 1131.3L48.2 1130.4L49 1130.2L49.8 1130.7L50.6 1130.6L51.4 1130.5L51.5 1131.2L52.3 1131.1L53.1 1130.5L53.9 1130L54.7 1129.6L55.5 1128.6L56.3 1127.8L57.1 1127.4L57.9 1127.4L58.7 1127L59.5 1127.5L60.3 1128.4L61.1 1127.6L61.9 1127.6L62.7 1127.4L63.5 1127.8L64.3 1127.3L65.1 1127.1L65.9 1127.8L66.7 1127.1L67.5 1126.8L68.3 1126.9L69.1 1126.8L69.9 1127.3L70.7 1127.9L71.5 1127L72.3 1126.8L73.1 1126.2L73.9 1126.1L74.7 1126.1L75.5 1125.8L76.3 1125L77.1 1125.5L77.9 1126.7L78.7 1125.8L79.5 1125.4L80.3 1125.6L81.1 1125.5L81.9 1124.8L82.7 1125.1L83.5 1125L84.3 1124.3L85.1 1124.8L85.9 1124.1L86.7 1123.2L87.5 1123.6L88.3 1124.2L89.1 1123.7L89.9 1124.1L90.7 1124L91.5 1124.3L92.3 1124.1L93.1 1123.8L93.9 1124.3L94.7 1124.4L95.5 1124.7L96.3 1124.7L97.1 1123.5L97.9 1122.5L98.7 1123L99.5 1123L100.3 1123.5L101.1 1124L101.9 1124.4L102.7 1124.3L103.5 1124L104.3 1124.1L105.1 1124.2L105.9 1124.8L106.7 1125.2L107.5 1125.2L108.3 1124.9L109.1 1124.5L109.9 1124.3L110.7 1123.7L111.5 1124.6L112.3 1124.5L113.1 1124.5L113.9 1124.7L114.7 1124L115.5 1124.5L116.3 1124.8L117.1 1126.2L117.9 1127L118.7 1126L119.5 1125.6L120.3 1125.6L121.1 1125L121.9 1124.7L122.7 1124.8L123.5 1125.3L124.3 1125.7L125.1 1125.4L125.9 1125.5L126.7 1125.7L127.5 1125.4L128.3 1126.1L129.1 1126.7L129.9 1126.4L130.7 1125.4L131.5 1125.9L132.3 1126.4L133.1 1125.3L133.9 1125.4L134.7 1125.5L135.5 1124.4L136.3 1124.3L137.1 1125.2L137.9 1124.8L138.7 1124.9L139.5 1125.2L140.3 1124.9L141.1 1125.6L141.9 1125.5L142.7 1125.4L143.5 1124.2L144.3 1123.8L145.1 1124.5L145.9 1125L146.7 1124.8L147.5 1124.5L148.3 1124.6L149.1 1124.4L149.9 1123.5L150.7 1123.9L151.5 1124.7L152.3 1123.7L153.1 1122.9L153.9 1122.9L154.7 1122.8L155.5 1122.7L156.3 1123.5L157.1 1124.3L157.9 1124.2L158.7 1123.5L159.5 1124L160.3 1124.4L161.1 1124.1L161.9 1123.2L162.7 1123.6L163.5 1124.1L164.3 1124.5L165.1 1124.7L165.9 1124.2L166.7 1123.3L167.5 1124.4L168.3 1124.3L169.1 1123.8L169.9 1123.8L170.7 1123.3L171.5 1124L172.3 1125L173.1 1124.4L173.9 1125L174.7 1124.8L175.5 1123.7L176.3 1124.8L177.1 1124.6L177.9 1124.4L178.7 1125.1L179.5 1125.3L180.3 1124.2L181.1 1125.1L181.9 1125L182.7 1124L183.5 1123.6L184.3 1123.5L185.1 1123.1L185.9 1123.8L186.7 1125.3L187.5 1125.4L188.3 1125.1L189.1 1124.5L189.9 1124.8L190.7 1125.1L191.5 1124.8L192.3 1124.4L193.1 1124.5L193.9 1124.9L194.7 1125.1L195.5 1124.2L196.3 1124.3L197.1 1124.4L197.9 1124.1L198.7 1124.5L199.5 1123.5L200.3 1123.5L201.1 1124.1L201.9 1123.3L202.7 1123.2L203.5 1124.4L204.3 1123.9L205.1 1123.6L205.9 1123.9L206.7 1124.6L210.7 1129L211.5 1128.5L212.3 1129.1L213.1 1130.5L213.9 1130.1L214.7 1128.3L215.5 1128.6L216.3 1129L217.1 1129.1L217.9 1128.4L218.7 1128.2L219.5 1129.5L220.3 1128.1L221.1 1128.1L221.9 1128.5L222.7 1127.2L223.5 1128.3L224.3 1129.3L225.1 1129.4L225.9 1128.8L226.7 1128.6L227.5 1129.3L228.3 1128.4L229.1 1127.1L229.9 1128.2L230.7 1128.9L231.5 1129.2L232.3 1129.3L233.1 1129L233.9 1129.1L234.7 1128.8L235.5 1129.9L236.3 1130.1L237.1 1128.9L237.9 1128.7L238.7 1130L239.5 1129.5L240.3 1128.6L241.1 1129.5L241.9 1129.5L242.7 1130.7L243.5 1130.2L244.3 1128.5L245.1 1128.7L245.9 1128.2L246.7 1126.7L247.5 1125.9L248.3 1126.2L249.1 1128.2L249.9 1128.5L250.7 1127.8L251.5 1127.3L252.3 1127.5L253.1 1128.9L253.9 1127.8L254.7 1127.9L255.5 1128L256.3 1128.5L257.1 1130.1L257.9 1129" fill="none" stroke="#000" stroke-width="2.3" stroke-linejoin="round" stroke-linecap="butt"/>
<path d="M38.6 1130.5L39.4 1129.7L40.2 1129.6L41 1130.3L41.8 1129.8L42.6 1129.8L43.4 1130.7L44.2 1130.3L45 1129.2L45.8 1130L46.6 1130.5L47.4 1129.8L48.2 1129.9L49 1130.3L49.8 1130.3L50.6 1130.3L51.4 1131.3L51.5 1130.4L52.3 1130.1L53.1 1129.4L53.9 1129.4L54.7 1129.4L55.5 1128.8L56.3 1129.6L57.1 1130.1L57.9 1129.5L58.7 1128.7L59.5 1128.7L60.3 1128.9L61.1 1128.4L61.9 1128.6L62.7 1128.9L63.5 1128.5L64.3 1127.5L65.1 1127.1L65.9 1127.8L66.7 1127.9L67.5 1127L68.3 1126.9L69.1 1127.4L69.9 1127.6L70.7 1127.7L71.5 1127.4L72.3 1127.6L73.1 1128.4L73.9 1128.3L74.7 1127.8L75.5 1128L76.3 1128.4L77.1 1127.8L77.9 1128.2L78.7 1128.9L79.5 1127.2L80.3 1127.2L81.1 1128.6L81.9 1129.2L82.7 1128.5L83.5 1128.9L84.3 1128.9L85.1 1129.1L85.9 1129L86.7 1128.1L87.5 1128.1L88.3 1126.9L89.1 1126.9L89.9 1128.4L90.7 1128.2L91.5 1127.6L92.3 1127.1L93.1 1127.9L93.9 1128.9L94.7 1128.8L95.5 1129L96.3 1129.3L97.1 1129.6L97.9 1129.8L98.7 1128.8L99.5 1128.2L100.3 1130.1L101.1 1129.2L101.9 1128.8L102.7 1130.4L103.5 1129.5L104.3 1128.3L105.1 1128.6L105.9 1129L106.7 1128.8L107.5 1128.6L108.3 1129.3L109.1 1128.8L109.9 1127L110.7 1127.3L111.5 1127.6L112.3 1127.5L113.1 1129L113.9 1128.6L114.7 1127.9L115.5 1127.9L116.3 1128.2L117.1 1128.6L117.9 1128.6L118.7 1128L119.5 1127.1L120.3 1126.9L121.1 1127.1L121.9 1128.7L122.7 1128.9L123.5 1128L124.3 1128.9L125.1 1129.1L125.9 1128.2L126.7 1127.6L127.5 1127.8L128.3 1128.2L129.1 1128L129.9 1127.2L130.7 1127.2L131.5 1127.3L132.3 1127.6L133.1 1129.2L133.9 1128.6L134.7 1128.1L135.5 1128.5L136.3 1129.5L137.1 1130.4L137.9 1130.2L138.7 1129.6L139.5 1129.4L140.3 1128.8L141.1 1129L141.9 1129L142.7 1128L143.5 1128.7L144.3 1129.1L145.1 1128.4L145.9 1128.1L146.7 1128.3L147.5 1128.6L148.3 1128.3L149.1 1128.1L149.9 1128.1L150.7 1129.2L151.5 1129.4L152.3 1128.6L153.1 1127.7L153.9 1127.2L154.7 1128.1L155.5 1128.4L156.3 1128.2L157.1 1127.9L157.9 1128.5L158.7 1128L159.5 1128.3L160.3 1128.7L161.1 1128.9L161.9 1128.3L162.7 1128.1L163.5 1128.5L164.3 1127.8L165.1 1128.3L165.9 1128.2L166.7 1128.8L167.5 1128.7L168.3 1128L169.1 1128.2L169.9 1127.8L170.7 1128L171.5 1128.8L172.3 1129.2L173.1 1128.8L173.9 1129.2L174.7 1129.4L175.5 1128.6L176.3 1128.4L177.1 1128.7L177.9 1128.2L178.7 1127.8L179.5 1127.2L180.3 1127.9L181.1 1128.3L181.9 1128L182.7 1127.4L183.5 1126.5L184.3 1126.2L185.1 1125.9L185.9 1126.7L186.7 1127.8L187.5 1126.7L188.3 1126.1L189.1 1127.4L189.9 1127.5L190.7 1126.6L191.5 1126.6L192.3 1127.2L193.1 1126.8L193.9 1126.4L194.7 1126.5L195.5 1127.4L196.3 1127.1L197.1 1127.2L197.9 1127L198.7 1126.9L199.5 1126.7L200.3 1127.3L201.1 1129.2L201.9 1128.6L202.7 1128.7L203.5 1128.7L204.3 1128.5L205.1 1128.1L205.9 1128.3L206.7 1129.2L210.7 1131.8L211.5 1133.9L212.3 1132.5L213.1 1131.2L213.9 1132.1L214.7 1131.8L215.5 1132.8L216.3 1134.1L217.1 1132.8L217.9 1131.4L218.7 1131.9L219.5 1132.4L220.3 1132.6L221.1 1132.4L221.9 1131.4L222.7 1131.1L223.5 1131.8L224.3 1133.2L225.1 1132.9L225.9 1132.6L226.7 1133L227.5 1132L228.3 1131.6L229.1 1131.8L229.9 1132.8L230.7 1134.1L231.5 1133L232.3 1132.3L233.1 1133.1L233.9 1132.5L234.7 1131.7L235.5 1132L236.3 1133.1L237.1 1133.9L237.9 1134L238.7 1133.8L239.5 1132.5L240.3 1131L241.1 1131.2L241.9 1131.7L242.7 1131.4L243.5 1133.6L244.3 1133.7L245.1 1131.5L245.9 1131.9L246.7 1132.3L247.5 1133.1L248.3 1132.8L249.1 1132.6L249.9 1133.6L250.7 1132.3L251.5 1131.1L252.3 1131.7L253.1 1131.3L253.9 1131.9L254.7 1133.5L255.5 1132.5L256.3 1131.8L257.1 1132.8L257.9 1132.5" fill="none" stroke="#000" stroke-width="2.3" stroke-linejoin="round" stroke-linecap="butt"/>
<path d="M38.6 1132.3L39.4 1132.6L40.2 1132.2L41 1131.6L41.8 1131.6L42.6 1131.2L43.4 1132.4L44.2 1132.3L45 1132L45.8 1131.8L46.6 1130.8L47.4 1131.3L48.2 1131.6L49 1131.9L49.8 1131.7L50.6 1131.5L51.4 1131.6L51.5 1131.6L52.3 1131.3L53.1 1131L53.9 1131.7L54.7 1131.3L55.5 1129.8L56.3 1129.3L57.1 1129.7L57.9 1131.1L58.7 1130.3L59.5 1129.7L60.3 1130.3L61.1 1131.7L61.9 1131.3L62.7 1130L63.5 1131.1L64.3 1131.7L65.1 1130.5L65.9 1130.1L66.7 1130.5L67.5 1129.3L68.3 1128.9L69.1 1130.4L69.9 1130.9L70.7 1129.5L71.5 1129.7L72.3 1130.7L73.1 1131.2L73.9 1130.5L74.7 1129.4L75.5 1129.5L76.3 1129.5L77.1 1129.2L77.9 1129.2L78.7 1129L79.5 1129.4L80.3 1130L81.1 1128.9L81.9 1128.7L82.7 1130.6L83.5 1130.6L84.3 1129.3L85.1 1129.3L85.9 1129.9L86.7 1129.8L87.5 1129.8L88.3 1129.7L89.1 1130.4L89.9 1131L90.7 1131.5L91.5 1129.8L92.3 1129.7L93.1 1131.2L93.9 1130.2L94.7 1130.6L95.5 1130.4L96.3 1129.9L97.1 1129.8L97.9 1131L98.7 1131.6L99.5 1129.9L100.3 1128.6L101.1 1129.3L101.9 1129.9L102.7 1129.6L103.5 1129.9L104.3 1128.9L105.1 1128L105.9 1128.9L106.7 1129.3L107.5 1129.2L108.3 1128.9L109.1 1129L109.9 1128.5L110.7 1129.2L111.5 1129.8L112.3 1128.8L113.1 1128.5L113.9 1128.9L114.7 1130.2L115.5 1129.2L116.3 1128.5L117.1 1129.5L117.9 1130.1L118.7 1130.3L119.5 1130.5L120.3 1130.5L121.1 1131.1L121.9 1131.5L122.7 1131L123.5 1130.8L124.3 1130.3L125.1 1129.9L125.9 1130.1L126.7 1129.3L127.5 1129.1L128.3 1130.6L129.1 1130.3L129.9 1129.1L130.7 1130.4L131.5 1130.8L132.3 1129.1L133.1 1129.5L133.9 1129.9L134.7 1129.9L135.5 1131.1L136.3 1131.9L137.1 1131L137.9 1129.2L138.7 1128.9L139.5 1129.8L140.3 1129.1L141.1 1129.1L141.9 1130.3L142.7 1129.1L143.5 1128.9L144.3 1128.8L145.1 1128.4L145.9 1128.5L146.7 1128.5L147.5 1129.1L148.3 1129.9L149.1 1129.3L149.9 1129.4L150.7 1128.7L151.5 1128.4L152.3 1129.3L153.1 1128.6L153.9 1129.1L154.7 1129.9L155.5 1130.2L156.3 1129.6L157.1 1128.9L157.9 1130.3L158.7 1131.5L159.5 1131L160.3 1130.8L161.1 1129.9L161.9 1129.8L162.7 1130.3L163.5 1129.8L164.3 1129.1L165.1 1129.8L165.9 1130.5L166.7 1130.6L167.5 1129.8L168.3 1128.8L169.1 1128.8L169.9 1130.5L170.7 1131L171.5 1130.4L172.3 1130.1L173.1 1130.4L173.9 1129.2L174.7 1129.6L175.5 1131L176.3 1129.8L177.1 1129.7L177.9 1129.8L178.7 1129.1L179.5 1128.9L180.3 1129.6L181.1 1128.8L181.9 1129.1L182.7 1129.7L183.5 1129.6L184.3 1129.4L185.1 1129.8L185.9 1130.5L186.7 1130.1L187.5 1128.7L188.3 1128.8L189.1 1128.6L189.9 1128.9L190.7 1130.1L191.5 1129.8L192.3 1128.9L193.1 1127.6L193.9 1127.6L194.7 1128.1L195.5 1128.3L196.3 1128.8L197.1 1129.3L197.9 1128.9L198.7 1129.2L199.5 1129.6L200.3 1129.5L201.1 1128.5L201.9 1128.8L202.7 1129.3L203.5 1129L204.3 1129.3L205.1 1129.7L205.9 1129.3L206.7 1129.2L210.7 1130.7L211.5 1131.7L212.3 1132.3L213.1 1130.7L213.9 1129.1L214.7 1129.8L215.5 1130.1L216.3 1129.1L217.1 1128.5L217.9 1130.5L218.7 1131.5L219.5 1129.9L220.3 1128.4L221.1 1129.1L221.9 1130L222.7 1130.7L223.5 1130.9L224.3 1130L225.1 1130L225.9 1129.4L226.7 1130.1L227.5 1131.4L228.3 1131.2L229.1 1131.5L229.9 1132.3L230.7 1130L231.5 1129.1L232.3 1130.4L233.1 1129.9L233.9 1130.2L234.7 1129.9L235.5 1129.8L236.3 1130.6L237.1 1130.3L237.9 1130.4L238.7 1131.3L239.5 1130.3L240.3 1131.2L241.1 1131.3L241.9 1130.2L242.7 1130.3L243.5 1130.7L244.3 1131.2L245.1 1130.5L245.9 1130.3L246.7 1130L247.5 1129L248.3 1128.2L249.1 1129.2L249.9 1130.4L250.7 1130.6L251.5 1129.9L252.3 1130.7L253.1 1131.6L253.9 1130.4L254.7 1129.3L255.5 1129.8L256.3 1131.1L257.1 1131.3L257.9 1130.9" fill="none" stroke="#000" stroke-width="2.3" stroke-linejoin="round" stroke-linecap="butt"/>
<path d="M38.6 1129.7L39.4 1129.5L40.2 1130L41 1130L41.8 1129.5L42.6 1130.4L43.4 1128.8L44.2 1128.4L45 1129.3L45.8 1129.1L46.6 1130L47.4 1129.7L48.2 1129.7L49 1129.6L49.8 1129.1L50.6 1129L51.4 1129.6L51.5 1129.3L52.3 1129.2L53.1 1129.9L53.9 1129.9L54.7 1129.4L55.5 1130.8L56.3 1131.5L57.1 1131.6L57.9 1131.6L58.7 1131.5L59.5 1130.8L60.3 1130.8L61.1 1130.5L61.9 1131.1L62.7 1131.8L63.5 1130.8L64.3 1130.6L65.1 1130.6L65.9 1130.8L66.7 1130.2L67.5 1130.1L68.3 1130.3L69.1 1129.9L69.9 1129.4L70.7 1129.7L71.5 1130.7L72.3 1130.5L73.1 1129.7L73.9 1129.8L74.7 1130.2L75.5 1130.2L76.3 1130.8L77.1 1131.4L77.9 1131.6L78.7 1131.4L79.5 1131.1L80.3 1131L81.1 1130.6L81.9 1130.4L82.7 1130.7L83.5 1130.7L84.3 1131.4L85.1 1131.4L85.9 1130.8L86.7 1131.3L87.5 1131.5L88.3 1131.6L89.1 1131.7L89.9 1132.1L90.7 1132.4L91.5 1132.7L92.3 1133.3L93.1 1133.4L93.9 1133.8L94.7 1133L95.5 1132.3L96.3 1132.6L97.1 1131.7L97.9 1131L98.7 1131.6L99.5 1131.6L100.3 1131.1L101.1 1130.8L101.9 1130.8L102.7 1130.7L103.5 1131.2L104.3 1132L105.1 1131.7L105.9 1131.7L106.7 1132.1L107.5 1131.6L108.3 1130.8L109.1 1130.7L109.9 1130.8L110.7 1131.9L111.5 1132L112.3 1131.6L113.1 1131.2L113.9 1131.8L114.7 1130.9L115.5 1129.9L116.3 1130.3L117.1 1130.3L117.9 1131.1L118.7 1131.2L119.5 1131.5L120.3 1131.8L121.1 1132L121.9 1131.7L122.7 1130.6L123.5 1130.2L124.3 1130.9L125.1 1131.6L125.9 1131.6L126.7 1133.1L127.5 1133.7L128.3 1133.1L129.1 1132.2L129.9 1131.2L130.7 1130.7L131.5 1130.9L132.3 1130.7L133.1 1130.6L133.9 1130.7L134.7 1131.2L135.5 1131.2L136.3 1130.7L137.1 1130.1L137.9 1128.9L138.7 1129.6L139.5 1130.6L140.3 1130.9L141.1 1130.4L141.9 1130.4L142.7 1130.8L143.5 1130.1L144.3 1130.1L145.1 1130.9L145.9 1131.5L146.7 1131.4L147.5 1130.8L148.3 1130.7L149.1 1130.5L149.9 1130.7L150.7 1130.4L151.5 1130.8L152.3 1131.2L153.1 1130.5L153.9 1130.9L154.7 1131.8L155.5 1132.4L156.3 1132.1L157.1 1132.2L157.9 1132.3L158.7 1132.8L159.5 1132.4L160.3 1133L161.1 1133.4L161.9 1132.6L162.7 1132.2L163.5 1131.7L164.3 1132.4L165.1 1131.2L165.9 1131.5L166.7 1131.6L167.5 1131.3L168.3 1131.2L169.1 1130.7L169.9 1130.8L170.7 1131.4L171.5 1131.7L172.3 1131.8L173.1 1131L173.9 1130.1L174.7 1130.6L175.5 1130.8L176.3 1131.2L177.1 1130.9L177.9 1130.6L178.7 1131.4L179.5 1132.1L180.3 1131.9L181.1 1131.6L181.9 1131.9L182.7 1132.1L183.5 1132.6L184.3 1132.8L185.1 1131.1L185.9 1131L186.7 1131.9L187.5 1130.9L188.3 1131.2L189.1 1130.6L189.9 1130.4L190.7 1131.2L191.5 1131.2L192.3 1131L193.1 1131.3L193.9 1131.2L194.7 1131.2L195.5 1131.6L196.3 1132.2L197.1 1132.4L197.9 1132.5L198.7 1132.1L199.5 1131.4L200.3 1131.9L201.1 1132.8L201.9 1133.6L202.7 1134L203.5 1134.1L204.3 1133.2L205.1 1132.5L205.9 1132L206.7 1131.7L210.7 1130.9L211.5 1130.7L212.3 1130.3L213.1 1131.3L213.9 1130.2L214.7 1129.8L215.5 1130.3L216.3 1129.6L217.1 1128.7L217.9 1128.8L218.7 1129.9L219.5 1131.1L220.3 1131.2L221.1 1131.6L221.9 1130.8L222.7 1127.8L223.5 1128.4L224.3 1130.1L225.1 1131.7L225.9 1132.5L226.7 1130.7L227.5 1130.7L228.3 1131.4L229.1 1130.9L229.9 1130.7L230.7 1131.3L231.5 1130.8L232.3 1131L233.1 1131.5L233.9 1131.5L234.7 1131.5L235.5 1130L236.3 1129.9L237.1 1130.6L237.9 1130.5L238.7 1130.6L239.5 1130.4L240.3 1130.4L241.1 1130.5L241.9 1130.7L242.7 1131.2L243.5 1131.8L244.3 1131.7L245.1 1131L245.9 1130.5L246.7 1130.8L247.5 1130L248.3 1129.9L249.1 1130.4L249.9 1129.1L250.7 1128.7L251.5 1129.5L252.3 1130L253.1 1130.5L253.9 1130.6L254.7 1130.3L255.5 1129.6L256.3 1129.6L257.1 1129.4L257.9 1130.3" fill="none" stroke="#000" stroke-width="2.3" stroke-linejoin="round" stroke-linecap="butt"/>
<path d="M48.7 1130.5L49.5 1180.4L50.5 1130.5" fill="none" stroke="#000" stroke-width="2.5" stroke-linejoin="miter" stroke-linecap="butt"/>
<path d="M206.1 1127.0L206.4 1002.7L209.3 1002.7L212.6 1127.0L214.4 1141.0L211.6 1141.0L207.4 1127.0Z" fill="#000" stroke="#000" stroke-width="0.3" stroke-linejoin="round"/>
<path d="M38.6 1126.5L39.5 1126.9L40.4 1126.6L41.3 1127.0L42.2 1126.5L43.1 1127.3L44.0 1126.9L44.9 1126.9L45.8 1127.1L46.7 1126.5L47.6 1126.7L48.5 1126.8L49.4 1126.7L50.3 1126.5L51.2 1126.7L51.6 1133.3L50.7 1134.0L49.8 1133.3L48.9 1134.0L48.0 1133.9L47.1 1133.6L46.2 1134.0L45.3 1134.0L44.4 1133.5L43.5 1133.4L42.6 1133.3L41.8 1133.3L40.9 1133.7L40.0 1133.9L39.1 1133.5Z" fill="#000" stroke="#000" stroke-width="0.6" stroke-linejoin="round"/>
<path d="M212.0 1126.0L212.9 1126.3L213.8 1126.6L214.7 1126.3L215.6 1126.5L216.5 1126.4L217.4 1126.7L218.3 1126.2L219.2 1126.2L220.1 1126.1L221.0 1126.4L221.9 1126.9L222.8 1126.9L223.7 1126.5L224.6 1127.0L225.5 1126.3L226.4 1126.6L227.3 1126.6L228.2 1126.3L229.1 1127.3L230.0 1127.3L230.9 1127.3L231.8 1126.8L232.7 1126.7L233.6 1126.7L234.5 1127.0L235.4 1126.7L236.3 1126.9L237.2 1127.4L238.1 1126.7L239.0 1126.8L239.9 1126.8L240.8 1127.1L241.7 1127.1L242.6 1127.1L243.5 1127.2L244.4 1127.9L245.3 1127.6L246.2 1127.1L247.1 1127.9L248.0 1127.8L248.9 1127.2L249.8 1127.1L250.7 1128.0L251.6 1127.4L252.5 1127.2L253.4 1127.6L254.3 1127.9L255.2 1127.3L256.1 1127.4L257.0 1127.8L257.9 1127.5L258.8 1127.7L259.3 1138.3L258.4 1137.6L257.5 1137.7L256.6 1138.6L255.7 1138.0L254.8 1138.0L253.9 1138.8L253.0 1138.3L252.1 1138.1L251.2 1138.4L250.3 1138.6L249.4 1139.1L248.5 1139.0L247.6 1139.1L246.7 1138.8L245.8 1139.4L244.9 1139.8L244.0 1139.3L243.1 1139.8L242.2 1140.1L241.3 1140.2L240.4 1140.2L239.5 1139.6L238.6 1140.4L237.7 1140.0L236.8 1140.5L235.9 1140.1L235.0 1140.5L234.1 1141.0L233.2 1140.9L232.3 1141.4L231.4 1141.4L230.5 1141.7L229.6 1141.8L228.7 1141.9L227.8 1141.9L226.9 1141.8L226.0 1142.2L225.1 1142.3L224.2 1142.0L223.3 1142.0L222.4 1141.9L221.5 1142.6L220.6 1141.9L219.7 1142.3L218.8 1142.6L217.9 1142.9L217.0 1142.0L216.1 1141.6L215.2 1141.6L214.2 1139.4L213.3 1136.0L212.4 1133.9Z" fill="#000" stroke="#000" stroke-width="0.6" stroke-linejoin="round"/>
<path d="M294.3 1132.9L295.1 1132.5L295.9 1131.2L296.7 1131.8L297.5 1132.8L298.3 1132.5L299.1 1131.6L299.9 1132.3L300.7 1131.9L301.5 1131.9L302.3 1132.6L303.1 1132.9L303.9 1132.7L304.7 1133.3L305.5 1132.7L306.3 1132.6L307.1 1132.6L307.9 1132L308.6 1132.4L309.4 1128.6L310.2 1118.4L311 1104.4L311.8 1089.7L312.6 1078.7L313.4 1073.1L314.2 1072.5L315 1072.6L315.8 1073L316.6 1074L317.4 1074.2L318.2 1073.6L319 1074.1L319.8 1075.3L320.6 1075.5L321.4 1075.5L322.2 1074.8L323 1075.4L323.8 1076.5L324.6 1076.7L325.4 1076.9L326.2 1076.4L327 1076.4L327.8 1076.6L328.6 1075.6L329.4 1075.9L330.2 1077.3L331 1077L331.8 1076.3L332.6 1075.2L333.4 1074.6L334.2 1075.1L335 1074.5L335.8 1074.3L336.6 1075.6L337.4 1076.3L338.2 1074.8L339 1074.2L339.8 1074.7L340.6 1074.4L341.4 1074.5L342.2 1074.6L343 1075.8L343.8 1075.5L344.6 1074.8L345.4 1075L346.2 1074.2L347 1073.9L347.8 1073.1L348.6 1073.6L349.4 1074.5L350.2 1074.8L351 1074.8L351.8 1074.7L352.6 1074.5L353.4 1074.4L354.2 1073.5L355 1075L355.8 1076.1L356.6 1075.2L357.4 1074.3L358.2 1074.4L359 1075.4L359.8 1075.2L360.6 1075.8L361.4 1075.9L362.2 1075.5L363 1075.1L363.8 1075.9L364.6 1076L365.4 1075.5L366.2 1074.9L367 1074L367.8 1074.3L368.6 1075.3L369.4 1075.2L370.2 1074.8L371 1074.1L371.8 1074L372.6 1074.3L373.4 1074.6L374.2 1074.7L375 1074.5L375.8 1074.2L376.6 1073.3L377.4 1074.6L378.2 1075.2L379 1074.3L379.8 1074L380.6 1074.6L381.4 1074.7L382.2 1073.5L383 1073.5L383.8 1075.1L384.6 1075.3L385.4 1074.7L386.2 1075.3L387 1075L387.8 1075.4L388.6 1076L389.4 1076L390.2 1076.3L391 1075.8L391.8 1075.2L392.6 1075.5L393.4 1075.1L394.2 1074.9L395 1074.8L395.8 1075.7L396.6 1076.3L397.4 1075.5L398.2 1074.8L399 1074.6L399.8 1075.2L400.6 1075.4L401.4 1075.8L402.2 1075.2L403 1074.7L403.8 1074.6L404.6 1075.5L405.4 1076.2L406.2 1075.8L407 1075.5L407.8 1075.3L408.6 1075.4L409.4 1075.6L410.2 1075.8L411 1075L411.8 1075.1L412.6 1075.4L413.4 1075.2L414.2 1075.4L415 1074.5L415.8 1074.9L416.6 1075.6L417.4 1075.9L418.2 1075.1L419 1073.5L419.8 1073.7L420.6 1074.9L421.4 1075.4L422.2 1075.5L423 1074.6L423.8 1073.9L424.6 1073.4L425.4 1073.6L426.2 1075.1L427 1075.6L427.8 1075.8L428.6 1076.1L429.4 1075.6L430.2 1075L431 1075.9L431.8 1076L432.6 1076.3L433.4 1076.3L434.2 1075.4L435 1075.8L435.8 1076.2L436.6 1075.6L437.4 1076L438.2 1075.2L439 1073.8L439.8 1074.6L440.6 1074.7L441.4 1074.5L442.2 1073.6L443 1072.6L443.8 1072.9L444.6 1073.6L445.4 1073.7L446.2 1072.9L447 1073L447.8 1073.9L448.6 1074L449.4 1074.1L450.2 1074.4L451 1074.8L451.8 1074.6L452.6 1073.1L453.4 1072.9L454.2 1073.6L455 1073.7L455.8 1073.4L456.6 1074.2L457.4 1074.9L458.2 1075.3L459 1074.6L459.8 1073.4L460.6 1073L461.4 1073.5L462.2 1074L466.1 1132L466.9 1131.6L467.7 1131.4L468.5 1132.9L469.3 1132.2L470.1 1131.2L470.9 1131.7L471.7 1131.6L472.5 1131.2L473.3 1129.4L474.1 1130.3L474.9 1132L475.7 1131.2L476.5 1131L477.3 1130.7L478.1 1130.5L478.9 1130.3L479.7 1129.3L480.5 1129.8L481.3 1130.5L482.1 1129.6L482.9 1129.5L483.7 1130.6L484.5 1130.7L485.3 1129L486.1 1129.1L486.9 1128.9L487.7 1128.9L488.5 1129.3L489.3 1129.5L490.1 1131.1L490.9 1131.4L491.7 1128.8L492.5 1128.3L493.3 1128.9L494.1 1129.1L494.9 1129L495.7 1128.4L496.5 1129.7L497.3 1129.5L498.1 1129.3L498.9 1130.6L499.7 1129.6L500.5 1129L501.3 1129.4L502.1 1130L502.9 1130.7L503.7 1129.3L504.5 1129.2L505.3 1130.9L506.1 1129.2L506.9 1127.9L507.7 1129.6L508.5 1129.7L509.3 1129.6L510.1 1129.1L510.9 1129.6L511.7 1129.9L512.5 1128.5L513.3 1128.4L514.1 1128.7" fill="none" stroke="#000" stroke-width="2.1" stroke-linejoin="round" stroke-linecap="butt"/>
<path d="M294.3 1130.6L295.1 1131.2L295.9 1130.9L296.7 1130.2L297.5 1130.1L298.3 1130.5L299.1 1130.2L299.9 1129.8L300.7 1130.6L301.5 1130.5L302.3 1130L303.1 1130.6L303.9 1130.9L304.7 1131.2L305.5 1131.2L306.3 1129.8L307.1 1129.4L307.9 1130.2L308.6 1130.4L309.4 1128.3L310.2 1122L311 1112.9L311.8 1103.4L312.6 1094.7L313.4 1088.9L314.2 1087.2L315 1086.7L315.8 1087.9L316.6 1087.8L317.4 1088L318.2 1089.7L319 1089.6L319.8 1089.5L320.6 1090.8L321.4 1090.1L322.2 1090L323 1091.1L323.8 1090.9L324.6 1090.9L325.4 1089.8L326.2 1089L327 1089.7L327.8 1090.1L328.6 1089.6L329.4 1089.3L330.2 1090.1L331 1090.6L331.8 1090.8L332.6 1091.1L333.4 1090L334.2 1089.5L335 1090.1L335.8 1090L336.6 1089.5L337.4 1089.9L338.2 1090.7L339 1090.7L339.8 1090.7L340.6 1090.6L341.4 1090.5L342.2 1090.1L343 1091.2L343.8 1091.8L344.6 1091.3L345.4 1090.9L346.2 1091.1L347 1091.2L347.8 1090.5L348.6 1090.9L349.4 1090.5L350.2 1090.4L351 1090.6L351.8 1090.5L352.6 1090.5L353.4 1090.7L354.2 1091L355 1090.9L355.8 1089.9L356.6 1089.8L357.4 1090.4L358.2 1089.9L359 1090.4L359.8 1089.5L360.6 1088.7L361.4 1089L362.2 1089.7L363 1089.8L363.8 1089.5L364.6 1089.8L365.4 1090.1L366.2 1090.6L367 1090.1L367.8 1090.5L368.6 1090.9L369.4 1091.1L370.2 1090.5L371 1089.8L371.8 1090.6L372.6 1091L373.4 1090.7L374.2 1090.1L375 1089.6L375.8 1089.6L376.6 1090.1L377.4 1090.2L378.2 1090L379 1090.8L379.8 1090.4L380.6 1089.6L381.4 1089.6L382.2 1089.1L383 1088.8L383.8 1089.3L384.6 1089.5L385.4 1089.3L386.2 1089.7L387 1089.8L387.8 1089.8L388.6 1090L389.4 1089.6L390.2 1089.6L391 1090.8L391.8 1089.6L392.6 1088.5L393.4 1090.1L394.2 1090L395 1089.4L395.8 1089.5L396.6 1089.4L397.4 1089.8L398.2 1088.6L399 1088.1L399.8 1088.7L400.6 1089.4L401.4 1089.5L402.2 1090L403 1089.3L403.8 1088.7L404.6 1089L405.4 1088.3L406.2 1089.1L407 1089.4L407.8 1089.1L408.6 1088.9L409.4 1088.8L410.2 1088.2L411 1087.7L411.8 1088L412.6 1088.2L413.4 1089L414.2 1089L415 1088.4L415.8 1089.1L416.6 1089.7L417.4 1089L418.2 1088.6L419 1089.4L419.8 1089.6L420.6 1089.5L421.4 1089.9L422.2 1089.1L423 1089.6L423.8 1089.4L424.6 1087.9L425.4 1088.4L426.2 1087.5L427 1087.3L427.8 1087.5L428.6 1087.5L429.4 1088.1L430.2 1089.5L431 1089.2L431.8 1088.9L432.6 1088.4L433.4 1086.8L434.2 1087.4L435 1088.1L435.8 1088.7L436.6 1088.8L437.4 1088.7L438.2 1090.1L439 1090.3L439.8 1089.3L440.6 1088.9L441.4 1089.2L442.2 1088.6L443 1088.4L443.8 1088.5L444.6 1088.2L445.4 1088.3L446.2 1087.7L447 1087.2L447.8 1087.5L448.6 1087.2L449.4 1088.2L450.2 1088.9L451 1087.7L451.8 1088L452.6 1088.3L453.4 1088.4L454.2 1088.3L455 1088.1L455.8 1087.5L456.6 1088.2L457.4 1089.1L458.2 1089.5L459 1088.3L459.8 1088.2L460.6 1089L461.4 1088.9L462.2 1088.8L466.1 1133.6L466.9 1133.6L467.7 1133.4L468.5 1132L469.3 1132.4L470.1 1132.9L470.9 1131.2L471.7 1131.3L472.5 1132.4L473.3 1131.2L474.1 1131.1L474.9 1132.4L475.7 1131L476.5 1129.9L477.3 1129.9L478.1 1131.3L478.9 1132.1L479.7 1131.4L480.5 1131.2L481.3 1130.7L482.1 1130.5L482.9 1130L483.7 1130.2L484.5 1131.7L485.3 1132.5L486.1 1131.6L486.9 1130.6L487.7 1129.9L488.5 1129.9L489.3 1130L490.1 1129.3L490.9 1130.5L491.7 1131.3L492.5 1130.2L493.3 1130.3L494.1 1130.9L494.9 1130.9L495.7 1131L496.5 1130.6L497.3 1131.4L498.1 1132.5L498.9 1131.3L499.7 1130.3L500.5 1131.4L501.3 1131.7L502.1 1131L502.9 1130.8L503.7 1131.6L504.5 1132.1L505.3 1131.4L506.1 1130.8L506.9 1130.9L507.7 1130.2L508.5 1130.4L509.3 1129.9L510.1 1128.7L510.9 1128.8L511.7 1130.4L512.5 1130.6L513.3 1128.5L514.1 1129.1" fill="none" stroke="#000" stroke-width="2.1" stroke-linejoin="round" stroke-linecap="butt"/>
<path d="M294.3 1131L295.1 1131.1L295.9 1130.5L296.7 1131.4L297.5 1131.2L298.3 1130L299.1 1130.3L299.9 1131.2L300.7 1131.6L301.5 1130.9L302.3 1131.2L303.1 1131.3L303.9 1131.8L304.7 1131.6L305.5 1130.7L306.3 1132.1L307.1 1132.5L307.9 1131.9L308.6 1131.1L309.4 1127.6L310.2 1120L311 1114.7L311.8 1111.9L312.6 1109.9L313.4 1107.7L314.2 1106.2L315 1105.5L315.8 1105L316.6 1103.5L317.4 1102.9L318.2 1102.3L319 1101.8L319.8 1101.2L320.6 1101.3L321.4 1101.2L322.2 1101.6L323 1102.5L323.8 1103.3L324.6 1103L325.4 1102.7L326.2 1103.2L327 1103.4L327.8 1103.8L328.6 1103.7L329.4 1104L330.2 1104.4L331 1104.5L331.8 1103.4L332.6 1103.6L333.4 1103.9L334.2 1103.9L335 1104.4L335.8 1103.8L336.6 1103L337.4 1103.1L338.2 1103.7L339 1103.2L339.8 1103.2L340.6 1103.4L341.4 1103.2L342.2 1102.6L343 1102L343.8 1102.6L344.6 1103.2L345.4 1103.1L346.2 1103.5L347 1104.1L347.8 1104.6L348.6 1103.6L349.4 1102.6L350.2 1103.3L351 1104.3L351.8 1104.3L352.6 1104.4L353.4 1104.8L354.2 1104.1L355 1102.9L355.8 1102.6L356.6 1103.6L357.4 1104L358.2 1103.4L359 1103L359.8 1102.3L360.6 1102.5L361.4 1103.1L362.2 1103L363 1102.9L363.8 1102.5L364.6 1102.7L365.4 1103.7L366.2 1104.1L367 1102.8L367.8 1103.3L368.6 1103.4L369.4 1102.3L370.2 1102.1L371 1103L371.8 1103.4L372.6 1103.2L373.4 1103.6L374.2 1104L375 1103.5L375.8 1102.9L376.6 1103.5L377.4 1102.8L378.2 1102.5L379 1103L379.8 1102.6L380.6 1102.4L381.4 1102.6L382.2 1102L383 1101.6L383.8 1102.6L384.6 1103.2L385.4 1103.4L386.2 1103.4L387 1103.8L387.8 1103.7L388.6 1103.5L389.4 1104L390.2 1104.2L391 1104.2L391.8 1103.3L392.6 1102.7L393.4 1102.6L394.2 1102.9L395 1103.6L395.8 1103.7L396.6 1103.2L397.4 1102.4L398.2 1102.2L399 1102.3L399.8 1102.3L400.6 1102.1L401.4 1101.9L402.2 1101.2L403 1102L403.8 1102.3L404.6 1102.1L405.4 1103.3L406.2 1102.9L407 1102.8L407.8 1102.2L408.6 1103L409.4 1103.5L410.2 1103.2L411 1102.9L411.8 1103.1L412.6 1102.9L413.4 1102.3L414.2 1103.6L415 1103.8L415.8 1103.7L416.6 1102.6L417.4 1102.3L418.2 1102.1L419 1102.4L419.8 1103.2L420.6 1102.9L421.4 1102.5L422.2 1101.9L423 1102.1L423.8 1102.1L424.6 1102.5L425.4 1102.8L426.2 1103.7L427 1103.5L427.8 1102.7L428.6 1103.1L429.4 1102.6L430.2 1102.2L431 1103L431.8 1103L432.6 1102.3L433.4 1101.7L434.2 1102.1L435 1102.5L435.8 1102.9L436.6 1103L437.4 1101.4L438.2 1101.9L439 1103.7L439.8 1103.1L440.6 1102L441.4 1102.2L442.2 1102.1L443 1102.1L443.8 1102.5L444.6 1102.9L445.4 1102.7L446.2 1102.8L447 1103.3L447.8 1103.5L448.6 1102.8L449.4 1103L450.2 1103.8L451 1103.9L451.8 1103.3L452.6 1103.4L453.4 1103.6L454.2 1103L455 1102.1L455.8 1103.1L456.6 1103.9L457.4 1102.8L458.2 1102.4L459 1103.2L459.8 1103.5L460.6 1102.6L461.4 1102.5L462.2 1102.4L466.1 1133.5L466.9 1133.5L467.7 1135.8L468.5 1136.1L469.3 1132.8L470.1 1131.6L470.9 1134.3L471.7 1134.8L472.5 1133.1L473.3 1133.6L474.1 1133.5L474.9 1132.7L475.7 1132.8L476.5 1132.5L477.3 1133.4L478.1 1134.2L478.9 1135.4L479.7 1134.4L480.5 1134L481.3 1134.1L482.1 1133.8L482.9 1134.6L483.7 1134.4L484.5 1134L485.3 1133.8L486.1 1133L486.9 1132.8L487.7 1133.1L488.5 1132.6L489.3 1132.7L490.1 1132.8L490.9 1133.7L491.7 1134.7L492.5 1133.6L493.3 1132.6L494.1 1132.6L494.9 1132.6L495.7 1132.6L496.5 1132.4L497.3 1132.4L498.1 1132.1L498.9 1131.8L499.7 1132.4L500.5 1133.3L501.3 1134.1L502.1 1134.8L502.9 1133.8L503.7 1133.2L504.5 1132.8L505.3 1133L506.1 1133.7L506.9 1133.6L507.7 1133.4L508.5 1132.8L509.3 1131.6L510.1 1131.4L510.9 1132.5L511.7 1132.1L512.5 1131.2L513.3 1130.9L514.1 1130.8" fill="none" stroke="#000" stroke-width="2.1" stroke-linejoin="round" stroke-linecap="butt"/>
<path d="M294.3 1132.7L295.1 1132.2L295.9 1131.9L296.7 1132L297.5 1132L298.3 1132.2L299.1 1132L299.9 1132.7L300.7 1132.7L301.5 1132.3L302.3 1132.4L303.1 1131.6L303.9 1131.7L304.7 1131.7L305.5 1131.5L306.3 1131.4L307.1 1131.6L307.9 1132.3L308.6 1132.2L309.4 1130.5L310.2 1126.9L311 1124.3L311.8 1123.1L312.6 1121.5L313.4 1119.5L314.2 1119.2L315 1117.8L315.8 1116.5L316.6 1116.1L317.4 1116.3L318.2 1116.1L319 1116.5L319.8 1116.6L320.6 1115.2L321.4 1115L322.2 1116L323 1116.2L323.8 1116.1L324.6 1116.2L325.4 1116.9L326.2 1116.9L327 1116L327.8 1115.7L328.6 1115L329.4 1115.9L330.2 1116.5L331 1116.7L331.8 1117L332.6 1116.5L333.4 1116.8L334.2 1116.8L335 1115.5L335.8 1115L336.6 1115L337.4 1115.5L338.2 1115.7L339 1114.9L339.8 1114.5L340.6 1114.2L341.4 1114.5L342.2 1114.6L343 1114.6L343.8 1115.1L344.6 1115.2L345.4 1114.9L346.2 1114.4L347 1114.5L347.8 1115.2L348.6 1115.3L349.4 1115.2L350.2 1115.5L351 1115.7L351.8 1115.8L352.6 1115.4L353.4 1115.6L354.2 1116L355 1115.3L355.8 1115.1L356.6 1116.2L357.4 1116L358.2 1115.1L359 1116.2L359.8 1116.6L360.6 1117.1L361.4 1116.6L362.2 1115.7L363 1115.5L363.8 1115.2L364.6 1115.1L365.4 1115.3L366.2 1114.2L367 1112.7L367.8 1113.4L368.6 1114.7L369.4 1114.7L370.2 1114.8L371 1115.1L371.8 1113.9L372.6 1114.3L373.4 1114.8L374.2 1114.8L375 1114.5L375.8 1115.4L376.6 1116.5L377.4 1115.9L378.2 1116.1L379 1116.5L379.8 1115.7L380.6 1114.6L381.4 1114.9L382.2 1114.8L383 1115.1L383.8 1115.8L384.6 1116.1L385.4 1115.4L386.2 1116.1L387 1117.5L387.8 1116.9L388.6 1115.6L389.4 1115.7L390.2 1116.5L391 1116.8L391.8 1116.5L392.6 1116.6L393.4 1117.3L394.2 1116.4L395 1116.1L395.8 1116.5L396.6 1115.5L397.4 1115.5L398.2 1115.9L399 1114.9L399.8 1114.6L400.6 1114L401.4 1114.9L402.2 1115.5L403 1114.8L403.8 1114.6L404.6 1114.7L405.4 1114.2L406.2 1114.1L407 1113.9L407.8 1114L408.6 1115.5L409.4 1115.7L410.2 1115L411 1114.9L411.8 1115.8L412.6 1115.6L413.4 1115.4L414.2 1115.9L415 1116.1L415.8 1115.9L416.6 1116.1L417.4 1116.3L418.2 1115.7L419 1114.8L419.8 1114.1L420.6 1114.6L421.4 1114.6L422.2 1114.2L423 1114.8L423.8 1113.8L424.6 1113.7L425.4 1113.4L426.2 1113.2L427 1114.3L427.8 1114.3L428.6 1114.9L429.4 1115.3L430.2 1115.5L431 1115.8L431.8 1116L432.6 1116.3L433.4 1117.3L434.2 1116.6L435 1116.2L435.8 1116.2L436.6 1116.4L437.4 1115.8L438.2 1115.8L439 1115.5L439.8 1114.5L440.6 1114.2L441.4 1114L442.2 1113.9L443 1113L443.8 1113.7L444.6 1113.8L445.4 1113.9L446.2 1115.1L447 1115.4L447.8 1114.6L448.6 1115.1L449.4 1116.2L450.2 1116.2L451 1115.3L451.8 1115.6L452.6 1116.3L453.4 1116.3L454.2 1117.1L455 1116.7L455.8 1115.7L456.6 1116.5L457.4 1116.9L458.2 1116.3L459 1115.2L459.8 1114.5L460.6 1115.2L461.4 1115.1L462.2 1115L466.1 1130.4L466.9 1130.7L467.7 1131.4L468.5 1130.8L469.3 1130.2L470.1 1130.1L470.9 1130.2L471.7 1130.4L472.5 1129.9L473.3 1129.9L474.1 1129.8L474.9 1129.9L475.7 1131.1L476.5 1129.7L477.3 1128.8L478.1 1130.6L478.9 1130.6L479.7 1129.2L480.5 1128L481.3 1128.6L482.1 1130L482.9 1129.9L483.7 1129.1L484.5 1129.6L485.3 1129.2L486.1 1129L486.9 1130.1L487.7 1129.6L488.5 1129L489.3 1128.4L490.1 1128.2L490.9 1129.1L491.7 1129.5L492.5 1129.8L493.3 1129.6L494.1 1129.2L494.9 1129.1L495.7 1129.1L496.5 1130.4L497.3 1130.7L498.1 1130L498.9 1130.6L499.7 1130.6L500.5 1130.5L501.3 1131L502.1 1129.4L502.9 1129.8L503.7 1129.9L504.5 1129.5L505.3 1130.6L506.1 1129.2L506.9 1128.5L507.7 1129.1L508.5 1128.1L509.3 1128.2L510.1 1129.5L510.9 1129.6L511.7 1130.2L512.5 1130.4L513.3 1130.6L514.1 1130.5" fill="none" stroke="#000" stroke-width="2.1" stroke-linejoin="round" stroke-linecap="butt"/>
<path d="M294.3 1130.5L295.1 1130.7L295.9 1131.1L296.7 1130.6L297.5 1130.4L298.3 1130.1L299.1 1130.2L299.9 1130.4L300.7 1129.7L301.5 1130.1L302.3 1130.6L303.1 1129.6L303.9 1130.2L304.7 1130.1L305.5 1129.5L306.3 1130.1L307.1 1130.2L307.9 1130.2L308.6 1130.4L309.4 1129.7L310.2 1128.5L311 1127.9L311.8 1127.4L312.6 1127.7L313.4 1127.3L314.2 1126L315 1125.6L315.8 1125.2L316.6 1125.3L317.4 1125.4L318.2 1125L319 1124.3L319.8 1124.7L320.6 1124.8L321.4 1124.1L322.2 1123.2L323 1122.3L323.8 1122.7L324.6 1122.6L325.4 1122.4L326.2 1121.8L327 1121.4L327.8 1121.7L328.6 1122.2L329.4 1121.2L330.2 1120.1L331 1120.7L331.8 1121.3L332.6 1121.4L333.4 1121L334.2 1120.9L335 1121.2L335.8 1121.6L336.6 1122L337.4 1122.8L338.2 1122.9L339 1121.3L339.8 1121.5L340.6 1122.6L341.4 1123.3L342.2 1122.7L343 1122.2L343.8 1122.6L344.6 1123.1L345.4 1122L346.2 1121.6L347 1122.3L347.8 1123.2L348.6 1124L349.4 1124.3L350.2 1123.5L351 1122.7L351.8 1122.5L352.6 1122.6L353.4 1123.3L354.2 1122.5L355 1122.5L355.8 1123.1L356.6 1123.1L357.4 1122.5L358.2 1122.1L359 1121.9L359.8 1121.5L360.6 1121.7L361.4 1121.7L362.2 1121.8L363 1121.2L363.8 1121.4L364.6 1121.8L365.4 1122.1L366.2 1122.4L367 1122.5L367.8 1122.2L368.6 1122.9L369.4 1123.2L370.2 1122.8L371 1123.1L371.8 1122.6L372.6 1122.9L373.4 1123.3L374.2 1124.6L375 1123.8L375.8 1122.7L376.6 1122.8L377.4 1122.7L378.2 1121.9L379 1122.5L379.8 1122.5L380.6 1121.7L381.4 1121.6L382.2 1122.3L383 1123L383.8 1123L384.6 1122.4L385.4 1121.9L386.2 1122.1L387 1122.4L387.8 1122L388.6 1121.4L389.4 1122.3L390.2 1122.3L391 1121.6L391.8 1121.9L392.6 1121.8L393.4 1121.7L394.2 1122.9L395 1123L395.8 1122.4L396.6 1122L397.4 1121.7L398.2 1121.6L399 1122.3L399.8 1122L400.6 1122L401.4 1122.2L402.2 1121.9L403 1122L403.8 1122.7L404.6 1123.2L405.4 1123L406.2 1122.6L407 1122.9L407.8 1122.6L408.6 1121.8L409.4 1122.1L410.2 1122.1L411 1123.2L411.8 1123.7L412.6 1122.6L413.4 1122.2L414.2 1122.8L415 1122.3L415.8 1122.1L416.6 1122L417.4 1121.8L418.2 1122.2L419 1121.2L419.8 1121.7L420.6 1121.5L421.4 1121L422.2 1122.3L423 1122.9L423.8 1122.3L424.6 1122.3L425.4 1123.4L426.2 1124.2L427 1123.4L427.8 1123.7L428.6 1124.6L429.4 1123.8L430.2 1124.4L431 1124.8L431.8 1124.2L432.6 1124.1L433.4 1123.2L434.2 1122.7L435 1122.8L435.8 1123.2L436.6 1122.7L437.4 1122.6L438.2 1122.6L439 1122.5L439.8 1122.9L440.6 1122.7L441.4 1122.2L442.2 1122.2L443 1122L443.8 1121.9L444.6 1122.1L445.4 1121.7L446.2 1122.5L447 1122.3L447.8 1121.7L448.6 1122L449.4 1121.8L450.2 1121.6L451 1121.2L451.8 1122.2L452.6 1123L453.4 1122.4L454.2 1123.1L455 1123L455.8 1122.6L456.6 1123.7L457.4 1123.9L458.2 1123.4L459 1123.3L459.8 1123.1L460.6 1123.1L461.4 1122.8L462.2 1122.9L466.1 1132.5L466.9 1131.4L467.7 1130.3L468.5 1130.2L469.3 1131.2L470.1 1131.9L470.9 1131.8L471.7 1131.4L472.5 1131L473.3 1131.4L474.1 1130.6L474.9 1130L475.7 1130.5L476.5 1132.1L477.3 1131.5L478.1 1130.3L478.9 1130.2L479.7 1131.3L480.5 1131.7L481.3 1129.6L482.1 1129.4L482.9 1129.9L483.7 1129.8L484.5 1131.7L485.3 1131.3L486.1 1128.9L486.9 1130.1L487.7 1130.3L488.5 1129.6L489.3 1130L490.1 1130L490.9 1130.2L491.7 1129.7L492.5 1129.2L493.3 1129.4L494.1 1130.7L494.9 1130.8L495.7 1130.2L496.5 1131L497.3 1131.6L498.1 1130.7L498.9 1130.9L499.7 1132.2L500.5 1131.5L501.3 1130.9L502.1 1131.3L502.9 1131.3L503.7 1130.2L504.5 1129.5L505.3 1129.7L506.1 1130.3L506.9 1129.8L507.7 1131.1L508.5 1132L509.3 1132.2L510.1 1132L510.9 1128.8L511.7 1128.3L512.5 1131.3L513.3 1132.2L514.1 1132.2" fill="none" stroke="#000" stroke-width="2.1" stroke-linejoin="round" stroke-linecap="butt"/>
<path d="M294.3 1131.4L295.1 1131.8L295.9 1132.8L296.7 1131.8L297.5 1131L298.3 1131.6L299.1 1130.9L299.9 1131.6L300.7 1131.9L301.5 1131.5L302.3 1131.7L303.1 1131.5L303.9 1132.3L304.7 1133L305.5 1132.7L306.3 1132.7L307.1 1132.1L307.9 1132.2L308.6 1131.5L309.4 1131.3L310.2 1130.9L311 1130.5L311.8 1130.5L312.6 1129L313.4 1129.4L314.2 1130.2L315 1130.6L315.8 1130.5L316.6 1129.2L317.4 1128.6L318.2 1128.9L319 1128.7L319.8 1128.1L320.6 1127.9L321.4 1128.2L322.2 1128.1L323 1128.2L323.8 1127.2L324.6 1127L325.4 1127.1L326.2 1127.6L327 1127.5L327.8 1127.4L328.6 1128.1L329.4 1128.8L330.2 1128.2L331 1127.7L331.8 1128.3L332.6 1127.8L333.4 1128.6L334.2 1128.7L335 1128.4L335.8 1128.2L336.6 1127.8L337.4 1127.5L338.2 1127.6L339 1127.3L339.8 1127.2L340.6 1128.4L341.4 1128.3L342.2 1127.8L343 1127.9L343.8 1128.6L344.6 1128.2L345.4 1129L346.2 1128.9L347 1127.5L347.8 1127.1L348.6 1127.6L349.4 1128.4L350.2 1128.8L351 1128.1L351.8 1127.6L352.6 1128.5L353.4 1127.6L354.2 1126.3L355 1126.5L355.8 1127.6L356.6 1126.6L357.4 1126.4L358.2 1127.2L359 1126.6L359.8 1128.1L360.6 1128.5L361.4 1128.3L362.2 1128.9L363 1128.9L363.8 1128.9L364.6 1128L365.4 1127.7L366.2 1127.6L367 1127.7L367.8 1127.9L368.6 1127.5L369.4 1127.6L370.2 1127.7L371 1126.5L371.8 1126.9L372.6 1127.3L373.4 1126.5L374.2 1126.7L375 1127.1L375.8 1126.4L376.6 1126L377.4 1125.5L378.2 1125.3L379 1125.6L379.8 1125.4L380.6 1126.7L381.4 1126.7L382.2 1126.3L383 1126L383.8 1126.1L384.6 1127.1L385.4 1127.2L386.2 1127.8L387 1128.1L387.8 1128.2L388.6 1128.7L389.4 1128.5L390.2 1128.6L391 1128.5L391.8 1127.1L392.6 1126.7L393.4 1127.7L394.2 1128.2L395 1128.7L395.8 1128.1L396.6 1126.5L397.4 1126L398.2 1125.7L399 1125.4L399.8 1126.1L400.6 1127.1L401.4 1126.9L402.2 1126.7L403 1126.9L403.8 1126.1L404.6 1125.2L405.4 1125.2L406.2 1126L407 1126.1L407.8 1126.4L408.6 1127.1L409.4 1127.1L410.2 1127.8L411 1128L411.8 1127.8L412.6 1128.6L413.4 1128.4L414.2 1127.7L415 1128.3L415.8 1127.9L416.6 1127.8L417.4 1128.3L418.2 1128.1L419 1128.9L419.8 1128.7L420.6 1129.2L421.4 1129.6L422.2 1128.4L423 1128.2L423.8 1128.6L424.6 1128.2L425.4 1127.8L426.2 1127.9L427 1128L427.8 1128.1L428.6 1127.6L429.4 1127.1L430.2 1127.2L431 1127.5L431.8 1126.8L432.6 1127L433.4 1127.4L434.2 1128L435 1127.7L435.8 1127.7L436.6 1129L437.4 1128L438.2 1127.6L439 1127.8L439.8 1127.9L440.6 1127.6L441.4 1127.3L442.2 1127.3L443 1128.5L443.8 1128.4L444.6 1126.6L445.4 1127.3L446.2 1127.6L447 1126.5L447.8 1125.9L448.6 1127L449.4 1127.4L450.2 1126.8L451 1126.9L451.8 1127.9L452.6 1127.5L453.4 1126.5L454.2 1126.4L455 1127.3L455.8 1127.5L456.6 1127.5L457.4 1127.4L458.2 1126.3L459 1126L459.8 1126.3L460.6 1126.2L461.4 1126.8L462.2 1127.5L466.1 1130.7L466.9 1131.8L467.7 1131.6L468.5 1131.4L469.3 1131.7L470.1 1132.1L470.9 1131.8L471.7 1131.8L472.5 1130.9L473.3 1130.8L474.1 1131.7L474.9 1131.2L475.7 1130.8L476.5 1131.3L477.3 1131.7L478.1 1131L478.9 1131.8L479.7 1130.9L480.5 1129.4L481.3 1130.9L482.1 1130.5L482.9 1129.6L483.7 1130.9L484.5 1132L485.3 1132.9L486.1 1132.2L486.9 1131.3L487.7 1130.9L488.5 1131L489.3 1130.8L490.1 1130L490.9 1130.3L491.7 1131L492.5 1130.7L493.3 1130.1L494.1 1130.3L494.9 1131.9L495.7 1132.4L496.5 1131.9L497.3 1130.8L498.1 1130.2L498.9 1132.8L499.7 1132.7L500.5 1130.3L501.3 1130.5L502.1 1130.9L502.9 1129.9L503.7 1131.3L504.5 1131.9L505.3 1130.5L506.1 1130.3L506.9 1130.1L507.7 1131.6L508.5 1133.1L509.3 1132.2L510.1 1131.7L510.9 1131.3L511.7 1130.8L512.5 1130.6L513.3 1130L514.1 1130.6" fill="none" stroke="#000" stroke-width="2.1" stroke-linejoin="round" stroke-linecap="butt"/>
<path d="M294.3 1130L295.1 1130.6L295.9 1132.1L296.7 1132.8L297.5 1131.1L298.3 1130.2L299.1 1130.7L299.9 1130.8L300.7 1130.8L301.5 1131.3L302.3 1131.8L303.1 1131.3L303.9 1131.4L304.7 1132.1L305.5 1131.1L306.3 1130.3L307.1 1131.8L307.9 1132.2L308.6 1131.7L309.4 1131.6L310.2 1131.7L311 1131.3L311.8 1130.8L312.6 1131.4L313.4 1131.7L314.2 1130.9L315 1130.8L315.8 1130.4L316.6 1129.3L317.4 1129.6L318.2 1130.4L319 1130.4L319.8 1130.3L320.6 1130.4L321.4 1130.5L322.2 1130L323 1129.4L323.8 1129.2L324.6 1129.7L325.4 1129.5L326.2 1129.2L327 1130L327.8 1130L328.6 1130.7L329.4 1130.8L330.2 1130L331 1129.7L331.8 1129.9L332.6 1131.3L333.4 1131.6L334.2 1130.4L335 1130.4L335.8 1129.9L336.6 1129.1L337.4 1129.1L338.2 1129.5L339 1129.1L339.8 1128.9L340.6 1128.8L341.4 1128.9L342.2 1129.6L343 1130.1L343.8 1130L344.6 1130.1L345.4 1131.1L346.2 1131.7L347 1132.3L347.8 1132L348.6 1131.3L349.4 1131L350.2 1130.6L351 1130.1L351.8 1129.3L352.6 1129L353.4 1128.4L354.2 1128L355 1128.9L355.8 1128.1L356.6 1127.4L357.4 1127.7L358.2 1128L359 1128.1L359.8 1128.3L360.6 1128.8L361.4 1128.3L362.2 1128.4L363 1129.4L363.8 1130.4L364.6 1130.1L365.4 1130L366.2 1130L367 1129.6L367.8 1129.7L368.6 1129.4L369.4 1129.1L370.2 1130.8L371 1130.6L371.8 1129.2L372.6 1129.9L373.4 1130.1L374.2 1130.2L375 1129.9L375.8 1129.5L376.6 1129.3L377.4 1128.9L378.2 1129L379 1129.3L379.8 1129.1L380.6 1129.8L381.4 1129.7L382.2 1129.9L383 1129.6L383.8 1129.2L384.6 1129.1L385.4 1128.4L386.2 1128.7L387 1128.7L387.8 1128.1L388.6 1128.6L389.4 1128.3L390.2 1127.9L391 1128.5L391.8 1129.1L392.6 1129.5L393.4 1129.4L394.2 1129.3L395 1129L395.8 1129.5L396.6 1129.7L397.4 1130L398.2 1130.2L399 1130.1L399.8 1129.9L400.6 1130.1L401.4 1130.3L402.2 1129.9L403 1129.8L403.8 1130.1L404.6 1130.3L405.4 1130.2L406.2 1130.7L407 1130L407.8 1130.1L408.6 1130.2L409.4 1130L410.2 1130.8L411 1131.1L411.8 1130.7L412.6 1130.6L413.4 1130.4L414.2 1130.3L415 1129.9L415.8 1129.5L416.6 1130.5L417.4 1129.9L418.2 1129.3L419 1128.8L419.8 1129.1L420.6 1129.3L421.4 1128.5L422.2 1129L423 1129.6L423.8 1129.6L424.6 1129.8L425.4 1129.7L426.2 1129.1L427 1129.6L427.8 1130.5L428.6 1131.3L429.4 1131.8L430.2 1131.4L431 1130.4L431.8 1129.1L432.6 1128.5L433.4 1128.8L434.2 1130.2L435 1130.6L435.8 1129.6L436.6 1129.1L437.4 1129.5L438.2 1128.6L439 1127.9L439.8 1128.3L440.6 1127.5L441.4 1128.3L442.2 1129.5L443 1130.3L443.8 1129.5L444.6 1128.9L445.4 1128.7L446.2 1129L447 1128.7L447.8 1128.6L448.6 1129.3L449.4 1129L450.2 1130L451 1130L451.8 1129.8L452.6 1130.3L453.4 1130L454.2 1129.4L455 1128.6L455.8 1129.8L456.6 1130.6L457.4 1130.4L458.2 1130L459 1129.5L459.8 1129.2L460.6 1129.2L461.4 1129.5L462.2 1129.6L466.1 1131.6L466.9 1131.8L467.7 1131.9L468.5 1132.5L469.3 1133.3L470.1 1133L470.9 1132.7L471.7 1132.9L472.5 1133.3L473.3 1132.9L474.1 1132.8L474.9 1133.9L475.7 1133.1L476.5 1131.1L477.3 1131.7L478.1 1132.6L478.9 1134.2L479.7 1133.5L480.5 1132.4L481.3 1132.2L482.1 1131.9L482.9 1133.4L483.7 1133.8L484.5 1131.9L485.3 1132L486.1 1132.2L486.9 1132L487.7 1133.9L488.5 1134L489.3 1133L490.1 1133.1L490.9 1134.3L491.7 1133.1L492.5 1131.8L493.3 1134.3L494.1 1133.5L494.9 1132.2L495.7 1133.1L496.5 1132.3L497.3 1131.8L498.1 1133.1L498.9 1132.4L499.7 1131.9L500.5 1133.1L501.3 1133.6L502.1 1134.2L502.9 1134.1L503.7 1133.7L504.5 1133.1L505.3 1132.9L506.1 1132.7L506.9 1131.9L507.7 1132.8L508.5 1134.6L509.3 1133.6L510.1 1133.4L510.9 1133.7L511.7 1133.2L512.5 1133.2L513.3 1132.7L514.1 1132.8" fill="none" stroke="#000" stroke-width="2.1" stroke-linejoin="round" stroke-linecap="butt"/>
<path d="M294.3 1129.3L295.1 1129.2L295.9 1130.3L296.7 1130.2L297.5 1130.8L298.3 1130.4L299.1 1130.2L299.9 1131L300.7 1130.3L301.5 1130.3L302.3 1130.6L303.1 1130.9L303.9 1131L304.7 1130.9L305.5 1130.5L306.3 1131L307.1 1131.1L307.9 1131.6L308.6 1130.6L309.4 1130.6L310.2 1130.8L311 1130.6L311.8 1130.6L312.6 1130.9L313.4 1130.7L314.2 1129.8L315 1129.7L315.8 1130.6L316.6 1130.5L317.4 1129.7L318.2 1130.1L319 1130L319.8 1131.1L320.6 1131.5L321.4 1131.2L322.2 1131.5L323 1130.8L323.8 1129.5L324.6 1129.9L325.4 1130.5L326.2 1130L327 1130.1L327.8 1130.3L328.6 1129.9L329.4 1130.4L330.2 1130.9L331 1130.8L331.8 1130.8L332.6 1131.4L333.4 1131.9L334.2 1131.8L335 1132.2L335.8 1131.5L336.6 1131.3L337.4 1131.3L338.2 1131.7L339 1131.1L339.8 1130.9L340.6 1131L341.4 1130.9L342.2 1131L343 1129.5L343.8 1129.3L344.6 1130.2L345.4 1130.5L346.2 1130.2L347 1130.1L347.8 1130.9L348.6 1130.5L349.4 1129.8L350.2 1130.1L351 1131.2L351.8 1130.7L352.6 1130.1L353.4 1129.9L354.2 1130.3L355 1131L355.8 1130.3L356.6 1129.4L357.4 1130.3L358.2 1131.1L359 1131.6L359.8 1132.1L360.6 1131.4L361.4 1130.7L362.2 1131.8L363 1132.1L363.8 1131.2L364.6 1131.7L365.4 1131L366.2 1129.5L367 1129.7L367.8 1131.1L368.6 1131L369.4 1130.6L370.2 1131.2L371 1131.3L371.8 1131.1L372.6 1130.3L373.4 1130.7L374.2 1131.1L375 1131.3L375.8 1131.8L376.6 1131.6L377.4 1131.5L378.2 1131.9L379 1131.8L379.8 1131.3L380.6 1131.2L381.4 1130.7L382.2 1130.2L383 1130.4L383.8 1130.9L384.6 1131.3L385.4 1131.6L386.2 1131.1L387 1130.7L387.8 1131.6L388.6 1131.2L389.4 1130.1L390.2 1131L391 1131.1L391.8 1131.8L392.6 1131.9L393.4 1131.4L394.2 1131.4L395 1131.5L395.8 1130.9L396.6 1130.8L397.4 1131.8L398.2 1131.8L399 1132.1L399.8 1131.7L400.6 1131.8L401.4 1132.7L402.2 1131.8L403 1131.7L403.8 1132.2L404.6 1130.8L405.4 1131.4L406.2 1132.5L407 1131.8L407.8 1131.8L408.6 1132.2L409.4 1131.6L410.2 1129.9L411 1129.8L411.8 1129.9L412.6 1129.6L413.4 1130.3L414.2 1129.9L415 1129.3L415.8 1130.4L416.6 1130.2L417.4 1129.3L418.2 1129.6L419 1130.8L419.8 1131.5L420.6 1131.7L421.4 1132.6L422.2 1131.9L423 1131.4L423.8 1131.8L424.6 1131.7L425.4 1132.2L426.2 1133.1L427 1132.2L427.8 1132.1L428.6 1133.4L429.4 1132.7L430.2 1132L431 1132.5L431.8 1132.8L432.6 1131.8L433.4 1131.8L434.2 1132.9L435 1132.7L435.8 1132.1L436.6 1131.2L437.4 1130.4L438.2 1129.8L439 1130.4L439.8 1131L440.6 1130.8L441.4 1129.8L442.2 1129.7L443 1131.3L443.8 1131.4L444.6 1131.3L445.4 1131.3L446.2 1131.1L447 1132L447.8 1131.1L448.6 1130.3L449.4 1130.9L450.2 1131.4L451 1131.5L451.8 1131.2L452.6 1130.5L453.4 1130.7L454.2 1131.7L455 1131.2L455.8 1130.4L456.6 1130.9L457.4 1131.5L458.2 1131.5L459 1131L459.8 1131.4L460.6 1131.6L461.4 1130.4L462.2 1131.1L466.1 1132.5L466.9 1133.1L467.7 1133L468.5 1133.4L469.3 1132.8L470.1 1132.4L470.9 1131.6L471.7 1132.2L472.5 1134.5L473.3 1133.7L474.1 1131.5L474.9 1131.9L475.7 1134L476.5 1134.4L477.3 1131.8L478.1 1131.2L478.9 1131.9L479.7 1131.5L480.5 1133L481.3 1134.2L482.1 1132.9L482.9 1130.6L483.7 1131.1L484.5 1132.6L485.3 1132.9L486.1 1132L486.9 1132.5L487.7 1133.6L488.5 1132.6L489.3 1132.4L490.1 1133.4L490.9 1133.4L491.7 1132.3L492.5 1132.4L493.3 1132.9L494.1 1134.5L494.9 1135.4L495.7 1134.2L496.5 1133.4L497.3 1132.6L498.1 1132.7L498.9 1132.6L499.7 1132.5L500.5 1134.1L501.3 1134.5L502.1 1132.4L502.9 1130.9L503.7 1131.4L504.5 1132L505.3 1132.6L506.1 1132.9L506.9 1132.4L507.7 1133.2L508.5 1133.6L509.3 1133.1L510.1 1131.8L510.9 1132.3L511.7 1131.7L512.5 1131.8L513.3 1134.3L514.1 1133.4" fill="none" stroke="#000" stroke-width="2.1" stroke-linejoin="round" stroke-linecap="butt"/>
<path d="M294.3 1129.8L295.1 1130.6L295.9 1130.3L296.7 1129.8L297.5 1129.5L298.3 1129.7L299.1 1129.6L299.9 1129.5L300.7 1130.1L301.5 1129.7L302.3 1129.4L303.1 1130.6L303.9 1130.2L304.7 1129.9L305.5 1130.8L306.3 1130L307.1 1130.4L307.9 1131.2L308.6 1130.3L309.4 1130.4L310.2 1130.6L311 1130.6L311.8 1130.2L312.6 1130.1L313.4 1131.2L314.2 1131.6L315 1131.1L315.8 1130.8L316.6 1129.6L317.4 1129.5L318.2 1130.9L319 1131.5L319.8 1130.7L320.6 1132.2L321.4 1132L322.2 1131.2L323 1132.3L323.8 1131.4L324.6 1131.5L325.4 1132.1L326.2 1132.1L327 1132.3L327.8 1132.4L328.6 1132.3L329.4 1132.2L330.2 1131.7L331 1131.5L331.8 1131.9L332.6 1131.6L333.4 1131.3L334.2 1131.4L335 1131.7L335.8 1131.9L336.6 1131.8L337.4 1132.5L338.2 1131.9L339 1131.6L339.8 1132.1L340.6 1132.2L341.4 1131.4L342.2 1131.2L343 1131.4L343.8 1131.4L344.6 1132.4L345.4 1132.9L346.2 1132.5L347 1131.9L347.8 1131.2L348.6 1130L349.4 1130.2L350.2 1131L351 1131.9L351.8 1131.4L352.6 1132L353.4 1132.3L354.2 1130.6L355 1131.3L355.8 1131.9L356.6 1131.8L357.4 1132.4L358.2 1133.1L359 1132.1L359.8 1131.9L360.6 1132.6L361.4 1132.2L362.2 1133.5L363 1133L363.8 1132.7L364.6 1133.3L365.4 1133.6L366.2 1132.9L367 1132.9L367.8 1134L368.6 1133.8L369.4 1133.1L370.2 1133L371 1133L371.8 1132.1L372.6 1131.6L373.4 1131.5L374.2 1131.9L375 1131.4L375.8 1132L376.6 1132.3L377.4 1132.6L378.2 1132.1L379 1132.4L379.8 1131.8L380.6 1131.3L381.4 1132.7L382.2 1132.4L383 1132.6L383.8 1133L384.6 1133.6L385.4 1132.9L386.2 1132.5L387 1132L387.8 1131.8L388.6 1132.3L389.4 1131.4L390.2 1130.7L391 1131.2L391.8 1131.2L392.6 1131.6L393.4 1133L394.2 1132.8L395 1132.3L395.8 1133L396.6 1132.9L397.4 1132.1L398.2 1133L399 1134.1L399.8 1133.6L400.6 1133.5L401.4 1133.1L402.2 1132.4L403 1132.6L403.8 1132.2L404.6 1132.5L405.4 1132.4L406.2 1132.4L407 1132.8L407.8 1132.6L408.6 1132.8L409.4 1132.4L410.2 1132.9L411 1132.9L411.8 1133.3L412.6 1134.5L413.4 1134.3L414.2 1134.8L415 1135.1L415.8 1135.2L416.6 1135.6L417.4 1135.1L418.2 1133.4L419 1133.7L419.8 1134.1L420.6 1134L421.4 1133.2L422.2 1132.2L423 1132.1L423.8 1131.5L424.6 1131.5L425.4 1131.3L426.2 1131.5L427 1132.6L427.8 1132.2L428.6 1131.9L429.4 1132L430.2 1132.3L431 1132.9L431.8 1133L432.6 1133L433.4 1132.3L434.2 1131.9L435 1132.1L435.8 1132.9L436.6 1132.3L437.4 1131.5L438.2 1131.3L439 1131.9L439.8 1132.4L440.6 1132.7L441.4 1132.4L442.2 1131.8L443 1132.1L443.8 1132.3L444.6 1133.3L445.4 1133.5L446.2 1133.3L447 1134.1L447.8 1134.5L448.6 1133.8L449.4 1133.2L450.2 1133.3L451 1133.6L451.8 1134.1L452.6 1134.5L453.4 1133.9L454.2 1133.8L455 1134L455.8 1133.5L456.6 1133L457.4 1132.7L458.2 1132.9L459 1132.9L459.8 1133.1L460.6 1132.4L461.4 1132.2L462.2 1132L466.1 1130.4L466.9 1130.3L467.7 1131L468.5 1131.4L469.3 1131.4L470.1 1131.9L470.9 1132.1L471.7 1130.7L472.5 1130.1L473.3 1130.8L474.1 1131.4L474.9 1131.1L475.7 1129.7L476.5 1130.1L477.3 1131.4L478.1 1129.7L478.9 1129.5L479.7 1131.1L480.5 1130.6L481.3 1130.7L482.1 1131.2L482.9 1130.5L483.7 1130.5L484.5 1131.6L485.3 1131.3L486.1 1131.9L486.9 1132.2L487.7 1130L488.5 1129.8L489.3 1130.1L490.1 1129.9L490.9 1129.8L491.7 1130.4L492.5 1130L493.3 1129.2L494.1 1131.6L494.9 1130.9L495.7 1129.5L496.5 1130.5L497.3 1130.3L498.1 1130L498.9 1130.4L499.7 1129L500.5 1128.8L501.3 1131.4L502.1 1132.3L502.9 1132.7L503.7 1131.3L504.5 1131.1L505.3 1133L506.1 1132.1L506.9 1130.9L507.7 1131.8L508.5 1132.3L509.3 1131.5L510.1 1130.3L510.9 1130L511.7 1130.5L512.5 1131.1L513.3 1131.5L514.1 1130.5" fill="none" stroke="#000" stroke-width="2.1" stroke-linejoin="round" stroke-linecap="butt"/>
<path d="M304.8 1131.5L305.6 1171L306.6 1131.5" fill="none" stroke="#000" stroke-width="2.3000000000000003" stroke-linejoin="miter" stroke-linecap="butt"/>
<path d="M461.6 1130.0L461.9 1022.7L464.6 1022.7L466.6 1130.0L468.4 1137.0L465.6 1137.0L462.9 1130.0Z" fill="#000" stroke="#000" stroke-width="0.3" stroke-linejoin="round"/>
<path d="M294.3 1130.7L295.2 1130.5L296.1 1130.5L297.0 1130.5L297.9 1130.3L298.8 1130.5L299.7 1130.6L300.6 1130.7L301.5 1130.3L302.4 1130.8L303.3 1131.1L304.2 1130.7L305.1 1131.1L306.0 1130.6L306.9 1130.7L307.8 1130.5L308.2 1134.2L307.3 1133.6L306.4 1134.1L305.5 1134.0L304.6 1133.4L303.7 1133.8L302.8 1133.9L301.9 1133.5L301.0 1134.0L300.1 1133.8L299.2 1133.7L298.3 1134.2L297.4 1133.5L296.5 1133.9L295.6 1134.2L294.8 1133.9Z" fill="#000" stroke="#000" stroke-width="0.6" stroke-linejoin="round"/>
<path d="M466.0 1129.6L466.9 1129.4L467.8 1129.9L468.7 1129.8L469.6 1129.3L470.5 1129.7L471.4 1130.0L472.3 1129.5L473.2 1129.8L474.1 1130.1L475.0 1129.9L475.9 1130.0L476.8 1129.9L477.7 1129.8L478.6 1129.3L479.5 1129.5L480.4 1129.7L481.3 1129.3L482.2 1129.9L483.1 1129.5L484.0 1129.6L484.9 1129.3L485.8 1130.2L486.7 1130.2L487.6 1130.0L488.5 1129.3L489.4 1129.3L490.3 1129.5L491.2 1129.4L492.1 1129.8L493.0 1129.8L493.9 1130.0L494.8 1129.6L495.7 1129.3L496.6 1129.4L497.5 1129.5L498.4 1129.4L499.3 1129.7L500.2 1129.4L501.1 1129.4L502.0 1129.7L502.9 1130.0L503.8 1129.8L504.7 1129.5L505.6 1130.2L506.5 1129.6L507.4 1129.9L508.3 1129.3L509.2 1129.7L510.1 1129.9L511.0 1130.1L511.9 1129.3L512.8 1129.4L513.2 1136.2L512.3 1136.5L511.4 1136.4L510.5 1136.8L509.6 1136.6L508.7 1137.1L507.8 1136.4L506.9 1136.6L506.0 1136.2L505.1 1136.3L504.2 1136.7L503.3 1137.2L502.4 1136.9L501.5 1137.2L500.6 1137.0L499.7 1137.2L498.8 1136.6L497.9 1137.3L497.0 1137.1L496.1 1137.3L495.2 1136.8L494.3 1137.1L493.4 1137.3L492.5 1137.3L491.6 1136.7L490.7 1137.2L489.8 1136.7L488.9 1136.7L488.0 1136.5L487.1 1137.1L486.2 1136.8L485.3 1136.6L484.4 1137.5L483.5 1137.5L482.6 1137.4L481.7 1137.5L480.8 1137.0L479.9 1137.4L479.0 1137.0L478.1 1137.7L477.2 1136.9L476.3 1137.5L475.4 1137.3L474.5 1137.3L473.6 1137.2L472.7 1137.5L471.8 1137.9L470.9 1137.4L470.0 1138.2L469.1 1137.7L468.2 1137.2L467.3 1136.1L466.4 1134.1Z" fill="#000" stroke="#000" stroke-width="0.6" stroke-linejoin="round"/>
<path d="M543.4 1129.7L544.2 1131.2L545 1130.4L545.8 1129.8L546.6 1131.2L547.4 1131.9L548.2 1131.6L549 1131.8L549.8 1131L550.6 1130.8L551.4 1131.1L552.2 1129.8L553 1128.8L553.8 1130.9L554.6 1131.7L555.4 1130.9L556.2 1132.2L556.6 1130.9L557.4 1124.2L558.2 1106.8L559 1085.5L559.8 1067.7L560.6 1060.6L561.4 1063.1L562.2 1067.7L563 1071.7L563.8 1073.5L564.6 1074.8L565.4 1075.5L566.2 1076.9L567 1078.1L567.8 1076.6L568.6 1075.9L569.4 1075L570.2 1075.4L571 1075.3L571.8 1075.9L572.6 1077L573.4 1075.9L574.2 1075.5L575 1075.4L575.8 1075.5L576.6 1074.9L577.4 1075.3L578.2 1075.9L579 1075.8L579.8 1075.4L580.6 1075.6L581.4 1075.2L582.2 1074.3L583 1075.4L583.8 1075.5L584.6 1075.8L585.4 1076.1L586.2 1076.5L587 1075.4L587.8 1076.5L588.6 1077.7L589.4 1077.6L590.2 1077.3L591 1076.6L591.8 1077.6L592.6 1077.1L593.4 1075.9L594.2 1075.7L595 1075.8L595.8 1075.4L596.6 1075.7L597.4 1074.8L598.2 1076.1L599 1075.4L599.8 1074.8L600.6 1077L601.4 1077L602.2 1077.1L603 1078.6L603.8 1078.2L604.6 1077.5L605.4 1079.8L606.2 1078.8L607 1077.5L607.8 1077L608.6 1077.9L609.4 1078L610.2 1077.6L611 1078.9L611.8 1080.1L612.6 1079.9L613.4 1080L614.2 1080.5L615 1079.3L615.8 1078.7L616.6 1078.5L617.4 1077.4L618.2 1076.9L619 1077.7L619.8 1077.7L620.6 1078.1L621.4 1079.6L622.2 1078L623 1077.6L623.8 1079.5L624.6 1079.5L625.4 1079.8L626.2 1079.2L627 1079.3L627.8 1079.6L628.6 1078.6L629.4 1078.6L630.2 1077.1L631 1077.5L631.8 1078L632.6 1077.3L633.4 1077.6L634.2 1076L635 1076.5L635.8 1077.9L636.6 1077.2L637.4 1076.2L638.2 1077.5L639 1077.1L639.8 1076.5L640.6 1076.6L641.4 1077L642.2 1076.9L643 1076.5L643.8 1076.3L644.6 1074.8L645.4 1074.7L646.2 1076L647 1077.1L647.8 1076.4L648.6 1076L649.4 1075.7L650.2 1075L651 1075.9L651.8 1076.4L652.6 1076.6L653.4 1075.9L654.2 1075.6L655 1074.8L655.8 1073.4L656.6 1074.7L657.4 1077L658.2 1076.4L659 1075.1L659.8 1076.8L660.6 1077.3L661.4 1074.9L662.2 1075.4L663 1076.4L663.8 1076.5L664.6 1077.2L665.4 1075.3L666.2 1075L667 1075.9L667.8 1078L668.6 1076.8L669.4 1076.3L670.2 1077.6L671 1076.9L671.8 1075.5L672.6 1075.8L673.4 1076.3L674.2 1076L675 1075.4L675.8 1076L676.6 1076.1L677.4 1075.6L678.2 1074.9L679 1074.1L679.8 1074.6L680.6 1074L681.4 1073.6L682.2 1075.3L683 1075.1L683.8 1073.2L684.6 1074.8L685.4 1074.7L686.2 1074L687 1074.3L687.8 1075.6L688.6 1075.4L689.4 1073.5L690.2 1072.7L691 1072.1L691.8 1071.9L692.6 1072.3L693.4 1074.4L694.2 1074.6L695 1074L695.8 1073.8L696.6 1073.9L697.4 1074.4L698.2 1075L699 1074.9L699.8 1073.5L700.6 1072.1L701.4 1073.2L702.2 1074.5L703 1073.7L703.8 1073.7L704.6 1074.2L705.4 1072.7L706.2 1072.7L707 1073.4L707.8 1073.4L708.6 1074.7L709.4 1075.5L710.2 1074.9L711 1074.2L714.6 1137.2L715.4 1138.4L716.2 1135.7L717 1133.4L717.8 1132.8L718.6 1133.2L719.4 1135.9L720.2 1134.5L721 1133.1L721.8 1135.5L722.6 1134.5L723.4 1132.5L724.2 1132.8L725 1134.5L725.8 1135L726.6 1134.5L727.4 1134L728.2 1133.2L729 1132.7L729.8 1134.1L730.6 1134.4L731.4 1133.3L732.2 1133.6L733 1134.7L733.8 1133.8L734.6 1132.1L735.4 1132.2L736.2 1133.7L737 1135.3L737.8 1134.7L738.6 1132.7L739.4 1132.1L740.2 1132.5L741 1132.4L741.8 1133.2L742.6 1133.5L743.4 1132.7L744.2 1131.3L745 1130.7L745.8 1132L746.6 1132.7L747.4 1132.9L748.2 1132.6L749 1133.1L749.8 1133.3L750.6 1132.6L751.4 1134.1L752.2 1134.2L753 1134L753.8 1132.1L754.6 1132.8L755.4 1134.8L756.2 1134.2L757 1132.6L757.8 1131.6L758.6 1132.8L759.4 1132.6L760.2 1133.2L761 1133L761.8 1134.3" fill="none" stroke="#000" stroke-width="2.1" stroke-linejoin="round" stroke-linecap="butt"/>
<path d="M543.4 1132.5L544.2 1131.4L545 1130L545.8 1130.9L546.6 1130.9L547.4 1131.3L548.2 1132.4L549 1131.3L549.8 1131.7L550.6 1132.8L551.4 1131.9L552.2 1130.1L553 1131L553.8 1131.7L554.6 1132.1L555.4 1132.1L556.2 1131.6L556.6 1131.4L557.4 1126L558.2 1111.3L559 1092.4L559.8 1076.6L560.6 1067.8L561.4 1068.7L562.2 1073.1L563 1076L563.8 1078.6L564.6 1079.2L565.4 1079.6L566.2 1078.6L567 1078.6L567.8 1078.7L568.6 1079L569.4 1080L570.2 1080.9L571 1079.6L571.8 1078.9L572.6 1079.7L573.4 1079.8L574.2 1079.7L575 1078.7L575.8 1078.3L576.6 1079.8L577.4 1078.5L578.2 1077.8L579 1078.2L579.8 1078.4L580.6 1079.2L581.4 1078.5L582.2 1078.3L583 1078.6L583.8 1079.1L584.6 1079.8L585.4 1080.6L586.2 1079.3L587 1079.2L587.8 1079.4L588.6 1079.2L589.4 1079.6L590.2 1080.2L591 1081.1L591.8 1080.2L592.6 1078.6L593.4 1078.2L594.2 1078.9L595 1078.6L595.8 1078.4L596.6 1078L597.4 1078.5L598.2 1079.2L599 1079.3L599.8 1080.4L600.6 1078.7L601.4 1078.4L602.2 1078.8L603 1080.2L603.8 1080.2L604.6 1079.5L605.4 1078.6L606.2 1078.9L607 1082L607.8 1082.1L608.6 1080.9L609.4 1079.6L610.2 1080L611 1080L611.8 1080.2L612.6 1079.9L613.4 1080.5L614.2 1081.6L615 1080.6L615.8 1079.6L616.6 1082.1L617.4 1082L618.2 1080.5L619 1079.3L619.8 1079.6L620.6 1081.3L621.4 1079.9L622.2 1078.5L623 1079L623.8 1079.4L624.6 1078.5L625.4 1078L626.2 1077.2L627 1077.5L627.8 1078.4L628.6 1077.4L629.4 1076.8L630.2 1077.4L631 1077.5L631.8 1077.9L632.6 1078.8L633.4 1077.6L634.2 1077L635 1077.1L635.8 1076.6L636.6 1077.3L637.4 1078.4L638.2 1078.6L639 1080L639.8 1079.9L640.6 1080.1L641.4 1081L642.2 1080.7L643 1082L643.8 1082.9L644.6 1082L645.4 1082.1L646.2 1081.4L647 1080.8L647.8 1079.6L648.6 1078.8L649.4 1080.2L650.2 1078.6L651 1077.3L651.8 1077.3L652.6 1078.7L653.4 1078.6L654.2 1078.3L655 1077.7L655.8 1078.5L656.6 1079.3L657.4 1079.3L658.2 1079.5L659 1079.8L659.8 1080L660.6 1080L661.4 1080.8L662.2 1080L663 1080.2L663.8 1081.6L664.6 1081.3L665.4 1080.2L666.2 1080.8L667 1080.5L667.8 1079.5L668.6 1078.7L669.4 1079.2L670.2 1080L671 1081.7L671.8 1082.2L672.6 1081.2L673.4 1079L674.2 1079.5L675 1080L675.8 1078L676.6 1077.8L677.4 1077.6L678.2 1077.7L679 1078.7L679.8 1077.6L680.6 1076.8L681.4 1077.5L682.2 1078.7L683 1078.5L683.8 1077.4L684.6 1077.9L685.4 1077.9L686.2 1078.3L687 1077.8L687.8 1077.3L688.6 1078.5L689.4 1079.7L690.2 1078.9L691 1078.7L691.8 1078.9L692.6 1079.3L693.4 1080L694.2 1080L695 1080.1L695.8 1080.5L696.6 1080.1L697.4 1079L698.2 1078.3L699 1079.6L699.8 1080.8L700.6 1080.5L701.4 1080.4L702.2 1080.5L703 1080.3L703.8 1080.1L704.6 1081.6L705.4 1080.5L706.2 1079.5L707 1080.9L707.8 1081.5L708.6 1081.5L709.4 1082.2L710.2 1080.3L711 1079.8L714.6 1134.8L715.4 1134.3L716.2 1134.5L717 1131.4L717.8 1131.3L718.6 1132.6L719.4 1132.7L720.2 1132.8L721 1131.8L721.8 1131.3L722.6 1134.2L723.4 1135.5L724.2 1133.8L725 1131.4L725.8 1128.7L726.6 1131.1L727.4 1133.8L728.2 1132.9L729 1132.2L729.8 1131.9L730.6 1131L731.4 1132.5L732.2 1132.8L733 1131L733.8 1129.4L734.6 1130.1L735.4 1131.8L736.2 1131L737 1130.4L737.8 1130.9L738.6 1131.9L739.4 1130.5L740.2 1129.4L741 1131L741.8 1131.2L742.6 1130.6L743.4 1130.5L744.2 1130.3L745 1130.1L745.8 1129.8L746.6 1129.4L747.4 1129.5L748.2 1131.9L749 1132.2L749.8 1131.8L750.6 1130.3L751.4 1128.7L752.2 1130.4L753 1132.1L753.8 1131.2L754.6 1131.4L755.4 1132.2L756.2 1131.9L757 1131.7L757.8 1131.6L758.6 1133.1L759.4 1132.4L760.2 1130.2L761 1130.2L761.8 1130.2" fill="none" stroke="#000" stroke-width="2.1" stroke-linejoin="round" stroke-linecap="butt"/>
<path d="M543.4 1130.5L544.2 1129.9L545 1128.8L545.8 1129.3L546.6 1130.9L547.4 1130.1L548.2 1129.8L549 1129.8L549.8 1129L550.6 1130.8L551.4 1131.4L552.2 1131.3L553 1131.9L553.8 1130L554.6 1129.8L555.4 1129.7L556.2 1129.9L556.6 1130.1L557.4 1126.1L558.2 1115.6L559 1101L559.8 1087.7L560.6 1078.7L561.4 1076.7L562.2 1078.5L563 1080.7L563.8 1082.8L564.6 1083.3L565.4 1083.6L566.2 1084.7L567 1085.7L567.8 1084.6L568.6 1083.9L569.4 1084.4L570.2 1085.5L571 1086.3L571.8 1086.2L572.6 1085.3L573.4 1084.4L574.2 1083.7L575 1084.4L575.8 1084.7L576.6 1084.2L577.4 1083.3L578.2 1083.2L579 1083.4L579.8 1083.4L580.6 1082.5L581.4 1082.9L582.2 1084.2L583 1084L583.8 1085L584.6 1086.3L585.4 1085.8L586.2 1084.7L587 1083.7L587.8 1086.5L588.6 1087L589.4 1086.7L590.2 1087.9L591 1087.7L591.8 1087.6L592.6 1087.3L593.4 1088.5L594.2 1089.1L595 1089.1L595.8 1089L596.6 1089.3L597.4 1089L598.2 1088L599 1088.6L599.8 1088.9L600.6 1088.5L601.4 1088.4L602.2 1088.6L603 1088.8L603.8 1088.5L604.6 1087.5L605.4 1085.9L606.2 1085.1L607 1084.3L607.8 1084.8L608.6 1086.9L609.4 1087.1L610.2 1087.4L611 1087.8L611.8 1087.3L612.6 1086.5L613.4 1087.7L614.2 1088.1L615 1087.7L615.8 1088.7L616.6 1088.2L617.4 1088L618.2 1088.3L619 1087.5L619.8 1086L620.6 1086.7L621.4 1087.3L622.2 1087.6L623 1088.6L623.8 1087.4L624.6 1087.1L625.4 1088.3L626.2 1088.5L627 1087.8L627.8 1087.5L628.6 1088.4L629.4 1088.6L630.2 1088.1L631 1088.8L631.8 1088.1L632.6 1088.4L633.4 1087.4L634.2 1086.7L635 1086.9L635.8 1087.5L636.6 1088.5L637.4 1087L638.2 1086.2L639 1087.7L639.8 1087.5L640.6 1088.2L641.4 1088.6L642.2 1087.5L643 1087.1L643.8 1087L644.6 1087.8L645.4 1087.4L646.2 1086.7L647 1088.4L647.8 1088.6L648.6 1086.5L649.4 1086L650.2 1085.3L651 1085.8L651.8 1086.6L652.6 1086.4L653.4 1085.8L654.2 1086.1L655 1086.6L655.8 1086.7L656.6 1087.1L657.4 1086L658.2 1085.3L659 1085.5L659.8 1086.2L660.6 1086.5L661.4 1087.4L662.2 1086.4L663 1086.2L663.8 1085.7L664.6 1085.8L665.4 1086.4L666.2 1086.8L667 1086.6L667.8 1085.8L668.6 1085.7L669.4 1086.7L670.2 1086L671 1086.9L671.8 1087.7L672.6 1087.5L673.4 1088.6L674.2 1088.1L675 1087.4L675.8 1086.2L676.6 1087.1L677.4 1087.4L678.2 1086.6L679 1087.2L679.8 1087.4L680.6 1087.2L681.4 1088.2L682.2 1087.4L683 1084.7L683.8 1084.4L684.6 1085.2L685.4 1087.6L686.2 1087.2L687 1085.4L687.8 1085.3L688.6 1085.5L689.4 1085.6L690.2 1084.5L691 1084.3L691.8 1085.9L692.6 1085.1L693.4 1084.5L694.2 1085.4L695 1086.1L695.8 1085.2L696.6 1084L697.4 1084.4L698.2 1083.9L699 1083.2L699.8 1083.3L700.6 1084.4L701.4 1085.1L702.2 1084.1L703 1083.1L703.8 1082.2L704.6 1082.1L705.4 1084.2L706.2 1085.1L707 1085L707.8 1084.6L708.6 1085L709.4 1085.4L710.2 1085.9L711 1084.6L714.6 1133.4L715.4 1132.5L716.2 1132.4L717 1131.6L717.8 1131.5L718.6 1134.1L719.4 1133.6L720.2 1131.6L721 1130.7L721.8 1132L722.6 1132.9L723.4 1132.7L724.2 1131.7L725 1132L725.8 1131.9L726.6 1129.4L727.4 1128.7L728.2 1129.3L729 1130.7L729.8 1131.2L730.6 1130.9L731.4 1131.8L732.2 1131.2L733 1130L733.8 1130.8L734.6 1130.9L735.4 1131.5L736.2 1131.8L737 1131.9L737.8 1132.6L738.6 1131.6L739.4 1131.4L740.2 1130.7L741 1131.1L741.8 1132.1L742.6 1129.2L743.4 1129.5L744.2 1132.5L745 1131.9L745.8 1131.6L746.6 1132.7L747.4 1133.2L748.2 1133.1L749 1133.2L749.8 1132.3L750.6 1131.2L751.4 1129.6L752.2 1128.4L753 1129.5L753.8 1130.4L754.6 1131.4L755.4 1131.6L756.2 1129.7L757 1128.8L757.8 1130.7L758.6 1132.4L759.4 1130.8L760.2 1129.1L761 1130.4L761.8 1131.7" fill="none" stroke="#000" stroke-width="2.1" stroke-linejoin="round" stroke-linecap="butt"/>
<path d="M543.4 1130.2L544.2 1130.1L545 1129.4L545.8 1129.4L546.6 1129.3L547.4 1129L548.2 1130.2L549 1131.1L549.8 1129.9L550.6 1129.2L551.4 1129.8L552.2 1131.4L553 1130.5L553.8 1129.4L554.6 1130.7L555.4 1131.5L556.2 1129.9L556.6 1130.5L557.4 1123.4L558.2 1110.6L559 1103.3L559.8 1098.8L560.6 1097L561.4 1097L562.2 1097.2L563 1095.3L563.8 1094.4L564.6 1095.7L565.4 1095L566.2 1093.5L567 1092.7L567.8 1093.2L568.6 1093.1L569.4 1091.7L570.2 1091.8L571 1091.7L571.8 1091.6L572.6 1091L573.4 1091.9L574.2 1091.3L575 1091.1L575.8 1092.8L576.6 1092.2L577.4 1091.2L578.2 1091.7L579 1092.6L579.8 1092L580.6 1093.1L581.4 1095L582.2 1094.5L583 1094.5L583.8 1094.4L584.6 1093.7L585.4 1094.2L586.2 1093.4L587 1093.2L587.8 1092.8L588.6 1094L589.4 1096.5L590.2 1095.7L591 1094.5L591.8 1093.3L592.6 1093.3L593.4 1093.5L594.2 1092.2L595 1092.3L595.8 1092.9L596.6 1093.2L597.4 1094.2L598.2 1095.6L599 1094.3L599.8 1093.6L600.6 1093.2L601.4 1093.2L602.2 1093.6L603 1094.1L603.8 1093.2L604.6 1093.9L605.4 1094.3L606.2 1094L607 1094.3L607.8 1093.5L608.6 1092.4L609.4 1092.7L610.2 1091.9L611 1092.2L611.8 1094.2L612.6 1095.9L613.4 1093.9L614.2 1093.7L615 1094.4L615.8 1093.9L616.6 1095.7L617.4 1094.7L618.2 1094.3L619 1094.1L619.8 1094L620.6 1094.3L621.4 1092.9L622.2 1091.9L623 1093L623.8 1093.7L624.6 1095.8L625.4 1095.6L626.2 1094.3L627 1092.9L627.8 1092L628.6 1094.1L629.4 1094.7L630.2 1094.7L631 1094.8L631.8 1093.5L632.6 1094.2L633.4 1094.2L634.2 1092.7L635 1093.6L635.8 1094.1L636.6 1093.1L637.4 1092.5L638.2 1093.2L639 1093.1L639.8 1093.3L640.6 1093.6L641.4 1092.6L642.2 1093.4L643 1094.1L643.8 1094.5L644.6 1093L645.4 1093.2L646.2 1093.2L647 1092.7L647.8 1093.1L648.6 1091.8L649.4 1091.5L650.2 1093.2L651 1092.9L651.8 1092.6L652.6 1093.5L653.4 1093.9L654.2 1095L655 1095.4L655.8 1094.2L656.6 1094.9L657.4 1094.5L658.2 1092.6L659 1093.4L659.8 1094.6L660.6 1094.8L661.4 1092.7L662.2 1093.2L663 1095.5L663.8 1094.5L664.6 1093.9L665.4 1094.1L666.2 1092.8L667 1091.8L667.8 1092.1L668.6 1093.8L669.4 1094.2L670.2 1094.1L671 1094.5L671.8 1092.9L672.6 1093.1L673.4 1093.2L674.2 1093.4L675 1093.8L675.8 1094.8L676.6 1094.6L677.4 1095L678.2 1096L679 1094.7L679.8 1094.3L680.6 1093.7L681.4 1093.5L682.2 1093.5L683 1094.6L683.8 1094.7L684.6 1093.3L685.4 1093.2L686.2 1094.6L687 1093.9L687.8 1092.7L688.6 1092.9L689.4 1092.9L690.2 1094.6L691 1095.7L691.8 1095.7L692.6 1096.2L693.4 1096.5L694.2 1096.3L695 1095.9L695.8 1095.7L696.6 1094.6L697.4 1094.2L698.2 1096L699 1095.3L699.8 1094.2L700.6 1095.8L701.4 1096.6L702.2 1095L703 1095.1L703.8 1096.4L704.6 1096.2L705.4 1095.6L706.2 1095L707 1094.9L707.8 1095L708.6 1094.8L709.4 1094.5L710.2 1093.2L711 1094.3L714.6 1133.4L715.4 1131.8L716.2 1129.8L717 1128.8L717.8 1128.5L718.6 1129.9L719.4 1129.5L720.2 1127L721 1128.6L721.8 1130.4L722.6 1130.8L723.4 1131.2L724.2 1131.1L725 1132L725.8 1132L726.6 1129.5L727.4 1128.6L728.2 1130.1L729 1130.7L729.8 1131L730.6 1130.9L731.4 1131.2L732.2 1129.8L733 1128.3L733.8 1127.9L734.6 1128.8L735.4 1131.2L736.2 1130.3L737 1128.7L737.8 1127.3L738.6 1128.4L739.4 1129.4L740.2 1127.8L741 1128.4L741.8 1129.5L742.6 1129.9L743.4 1130L744.2 1129.4L745 1129L745.8 1129.8L746.6 1129.5L747.4 1129.9L748.2 1131.5L749 1130.4L749.8 1129.3L750.6 1127.8L751.4 1127.9L752.2 1129.3L753 1129.1L753.8 1129.2L754.6 1129.5L755.4 1130.2L756.2 1129.8L757 1129.1L757.8 1128.6L758.6 1128.7L759.4 1129L760.2 1128.6L761 1129L761.8 1129.5" fill="none" stroke="#000" stroke-width="2.1" stroke-linejoin="round" stroke-linecap="butt"/>
<path d="M543.4 1130.2L544.2 1131.4L545 1131.4L545.8 1130.3L546.6 1129.3L547.4 1130.2L548.2 1130L549 1128.5L549.8 1130L550.6 1130.8L551.4 1130.8L552.2 1130.5L553 1131L553.8 1130.7L554.6 1129.5L555.4 1131.1L556.2 1131.3L556.6 1130.5L557.4 1126L558.2 1116.8L559 1111.1L559.8 1108.1L560.6 1105.4L561.4 1104.2L562.2 1102.4L563 1101.3L563.8 1100.6L564.6 1100.2L565.4 1099.7L566.2 1099.1L567 1098.7L567.8 1098.6L568.6 1100.3L569.4 1100.3L570.2 1099.7L571 1099.7L571.8 1099.2L572.6 1099.6L573.4 1101.1L574.2 1100.4L575 1100.5L575.8 1100.2L576.6 1099.9L577.4 1100.9L578.2 1101L579 1101L579.8 1100.7L580.6 1100.2L581.4 1101.4L582.2 1102L583 1101.4L583.8 1102.5L584.6 1101.1L585.4 1098.5L586.2 1098.6L587 1100.1L587.8 1099.1L588.6 1097.6L589.4 1097.5L590.2 1098.2L591 1098.4L591.8 1097.1L592.6 1096.5L593.4 1097.2L594.2 1097.5L595 1097.7L595.8 1098.4L596.6 1099L597.4 1099L598.2 1098.3L599 1097.9L599.8 1098.3L600.6 1097.8L601.4 1098.9L602.2 1099.5L603 1098.8L603.8 1098.5L604.6 1098.7L605.4 1098.3L606.2 1096.2L607 1095.8L607.8 1097L608.6 1096.3L609.4 1096.1L610.2 1094.4L611 1095.3L611.8 1098.2L612.6 1098.4L613.4 1097.1L614.2 1096.1L615 1096.6L615.8 1099L616.6 1098.7L617.4 1097.1L618.2 1098.5L619 1098.6L619.8 1098.5L620.6 1100L621.4 1098.4L622.2 1098.2L623 1100.1L623.8 1099L624.6 1097.2L625.4 1096.9L626.2 1098.1L627 1098.7L627.8 1098.6L628.6 1098.7L629.4 1099.8L630.2 1098.6L631 1098.7L631.8 1098.2L632.6 1098.2L633.4 1099.4L634.2 1100.1L635 1099.5L635.8 1097.4L636.6 1098.1L637.4 1099.2L638.2 1098.8L639 1097L639.8 1098L640.6 1099L641.4 1098.3L642.2 1097.8L643 1097.9L643.8 1096.8L644.6 1096L645.4 1094.9L646.2 1093.7L647 1095.7L647.8 1096.5L648.6 1095.1L649.4 1096.2L650.2 1097.4L651 1098.2L651.8 1096.7L652.6 1096.2L653.4 1098.1L654.2 1097.9L655 1097.5L655.8 1098.1L656.6 1098.4L657.4 1097.6L658.2 1095.6L659 1094.6L659.8 1095L660.6 1097.1L661.4 1096L662.2 1094.5L663 1094.1L663.8 1094.8L664.6 1096.6L665.4 1096.4L666.2 1096.4L667 1095.5L667.8 1096.6L668.6 1097.5L669.4 1097.5L670.2 1095.9L671 1095.9L671.8 1097.2L672.6 1098.8L673.4 1099.3L674.2 1099.1L675 1099.8L675.8 1099.5L676.6 1098.6L677.4 1098.7L678.2 1099.5L679 1100.8L679.8 1100.3L680.6 1098.2L681.4 1099.1L682.2 1098.5L683 1098.7L683.8 1099.1L684.6 1097.8L685.4 1097.4L686.2 1098.4L687 1097.9L687.8 1096L688.6 1095.8L689.4 1095.9L690.2 1095.7L691 1097L691.8 1097.8L692.6 1096.3L693.4 1096.5L694.2 1096.4L695 1095.7L695.8 1094.9L696.6 1096L697.4 1096.3L698.2 1096.5L699 1096.2L699.8 1097.3L700.6 1096.5L701.4 1095L702.2 1095.7L703 1095.5L703.8 1096.2L704.6 1095.9L705.4 1096.5L706.2 1096.8L707 1095.8L707.8 1096.8L708.6 1098.9L709.4 1097.7L710.2 1095.7L711 1095.4L714.6 1130.6L715.4 1130.2L716.2 1133.6L717 1133.4L717.8 1133.4L718.6 1133.4L719.4 1132.2L720.2 1133.4L721 1133.8L721.8 1132.9L722.6 1132.8L723.4 1131.5L724.2 1130.6L725 1130.4L725.8 1130.7L726.6 1131.7L727.4 1131.8L728.2 1133L729 1133.1L729.8 1131.8L730.6 1130.9L731.4 1131.9L732.2 1132.2L733 1130.3L733.8 1131.1L734.6 1132.5L735.4 1131.7L736.2 1131.2L737 1131L737.8 1130.3L738.6 1130.9L739.4 1132.4L740.2 1132.9L741 1131.8L741.8 1131L742.6 1131.7L743.4 1130.9L744.2 1129.7L745 1131.2L745.8 1132.2L746.6 1131.4L747.4 1131.3L748.2 1131.5L749 1130.5L749.8 1131.7L750.6 1131.9L751.4 1131L752.2 1131.3L753 1129.7L753.8 1130.1L754.6 1131.1L755.4 1130.8L756.2 1131L757 1131L757.8 1131L758.6 1130.5L759.4 1132.3L760.2 1133.4L761 1132.6L761.8 1132.6" fill="none" stroke="#000" stroke-width="2.1" stroke-linejoin="round" stroke-linecap="butt"/>
<path d="M543.4 1129.7L544.2 1129.8L545 1131.9L545.8 1131L546.6 1128.7L547.4 1129.2L548.2 1130.6L549 1129.9L549.8 1130.2L550.6 1130.6L551.4 1130.7L552.2 1130.5L553 1130.2L553.8 1129.5L554.6 1129.7L555.4 1130.6L556.2 1130.5L556.6 1130.6L557.4 1127.5L558.2 1120.5L559 1115.6L559.8 1112L560.6 1110L561.4 1108.7L562.2 1106L563 1105.7L563.8 1107.3L564.6 1106.4L565.4 1106L566.2 1104.1L567 1103.5L567.8 1104.6L568.6 1105.9L569.4 1106.5L570.2 1106.3L571 1105.8L571.8 1106.1L572.6 1107.2L573.4 1105.9L574.2 1106.5L575 1107L575.8 1108.5L576.6 1108.7L577.4 1108.2L578.2 1108.8L579 1108.5L579.8 1108.7L580.6 1108.6L581.4 1106.9L582.2 1105.1L583 1106.1L583.8 1106.2L584.6 1105.5L585.4 1104.5L586.2 1105.9L587 1107.6L587.8 1107.3L588.6 1106.5L589.4 1107L590.2 1107.3L591 1107.4L591.8 1106.5L592.6 1105.9L593.4 1107.3L594.2 1107.8L595 1106.8L595.8 1105.4L596.6 1106.7L597.4 1107.9L598.2 1107.3L599 1106.9L599.8 1107.5L600.6 1109.5L601.4 1110.3L602.2 1108.4L603 1107.5L603.8 1108.5L604.6 1107.8L605.4 1107.3L606.2 1107.2L607 1106.5L607.8 1105.4L608.6 1104.9L609.4 1105.7L610.2 1104.6L611 1103.8L611.8 1103.8L612.6 1103.3L613.4 1105.1L614.2 1106.9L615 1106.6L615.8 1107L616.6 1107.6L617.4 1106.4L618.2 1104.7L619 1105.4L619.8 1106.2L620.6 1105.2L621.4 1105.7L622.2 1107.2L623 1107.3L623.8 1106.8L624.6 1105L625.4 1105.5L626.2 1105.9L627 1105.1L627.8 1104.3L628.6 1104.2L629.4 1104.6L630.2 1104.9L631 1105.7L631.8 1105.3L632.6 1105.6L633.4 1105.2L634.2 1106.8L635 1107.4L635.8 1106.2L636.6 1105.8L637.4 1106.9L638.2 1107L639 1105.5L639.8 1104.6L640.6 1106L641.4 1107.3L642.2 1106.9L643 1106.1L643.8 1104.9L644.6 1105.2L645.4 1106L646.2 1105.2L647 1104.3L647.8 1104.8L648.6 1105L649.4 1105.2L650.2 1104.4L651 1104.1L651.8 1105.1L652.6 1107.1L653.4 1108L654.2 1107.9L655 1105.5L655.8 1105.6L656.6 1107.3L657.4 1107.5L658.2 1106.1L659 1106.4L659.8 1107.7L660.6 1106.6L661.4 1107L662.2 1107.1L663 1106.3L663.8 1106L664.6 1105.7L665.4 1106.4L666.2 1107.3L667 1106.7L667.8 1106.3L668.6 1106.6L669.4 1106.6L670.2 1106.1L671 1105.8L671.8 1105.9L672.6 1106.4L673.4 1108L674.2 1109.3L675 1111.7L675.8 1111.1L676.6 1109L677.4 1106.7L678.2 1106L679 1107.5L679.8 1108.2L680.6 1107.3L681.4 1107.6L682.2 1108.7L683 1108.8L683.8 1107.9L684.6 1107.8L685.4 1107.6L686.2 1106L687 1106.9L687.8 1108.1L688.6 1108.2L689.4 1107.7L690.2 1108.1L691 1107.5L691.8 1106.3L692.6 1105.5L693.4 1106.8L694.2 1107.4L695 1107.5L695.8 1108.7L696.6 1109.6L697.4 1108.2L698.2 1106.4L699 1107L699.8 1108.8L700.6 1108L701.4 1106.2L702.2 1106.9L703 1107L703.8 1107.4L704.6 1105.3L705.4 1105.1L706.2 1106.2L707 1106.2L707.8 1106.5L708.6 1106.8L709.4 1106.6L710.2 1107.1L711 1106.9L714.6 1135.9L715.4 1135.7L716.2 1133.8L717 1134.3L717.8 1135.8L718.6 1136.4L719.4 1134.4L720.2 1131.8L721 1131.7L721.8 1133.4L722.6 1134L723.4 1133.9L724.2 1133.3L725 1133L725.8 1132L726.6 1131.7L727.4 1134.5L728.2 1135.5L729 1133.9L729.8 1132.9L730.6 1133.6L731.4 1135.7L732.2 1136.5L733 1133.5L733.8 1132.2L734.6 1133.5L735.4 1134.2L736.2 1133.5L737 1132.4L737.8 1131.1L738.6 1132.8L739.4 1134.7L740.2 1134.2L741 1133.6L741.8 1134L742.6 1133L743.4 1133.3L744.2 1134.8L745 1135.2L745.8 1135.2L746.6 1132.4L747.4 1132.8L748.2 1134.3L749 1133.3L749.8 1135.7L750.6 1136.2L751.4 1134L752.2 1134L753 1133.6L753.8 1134.6L754.6 1134.5L755.4 1133.9L756.2 1134.3L757 1134.5L757.8 1134.3L758.6 1133.4L759.4 1133.2L760.2 1133.1L761 1132.9L761.8 1133" fill="none" stroke="#000" stroke-width="2.1" stroke-linejoin="round" stroke-linecap="butt"/>
<path d="M543.4 1129.6L544.2 1129.4L545 1129.2L545.8 1129.5L546.6 1129.9L547.4 1129.8L548.2 1130.1L549 1130.6L549.8 1130.5L550.6 1131.2L551.4 1131.8L552.2 1130.1L553 1128.7L553.8 1129.6L554.6 1130.7L555.4 1130.6L556.2 1129.9L556.6 1130L557.4 1128.6L558.2 1124.4L559 1123L559.8 1121.1L560.6 1117.6L561.4 1116.4L562.2 1115.8L563 1115.9L563.8 1114.3L564.6 1113.3L565.4 1113.4L566.2 1112.3L567 1112.3L567.8 1113.1L568.6 1111.3L569.4 1109.9L570.2 1111.7L571 1111.4L571.8 1109.7L572.6 1110.9L573.4 1111.3L574.2 1109.3L575 1109.2L575.8 1108.9L576.6 1108L577.4 1107.9L578.2 1109.3L579 1108.9L579.8 1108.3L580.6 1109L581.4 1109.8L582.2 1109.7L583 1109.8L583.8 1109.4L584.6 1109.7L585.4 1111.4L586.2 1110.9L587 1111L587.8 1109.3L588.6 1108.5L589.4 1109.7L590.2 1110.4L591 1109.5L591.8 1109.4L592.6 1107.8L593.4 1109L594.2 1111.1L595 1110L595.8 1110.2L596.6 1110.1L597.4 1110.8L598.2 1111.6L599 1110.7L599.8 1111.1L600.6 1112.2L601.4 1111.4L602.2 1111.4L603 1109.2L603.8 1108.3L604.6 1110.1L605.4 1111.1L606.2 1110.3L607 1110.5L607.8 1110.2L608.6 1109.9L609.4 1109.5L610.2 1108.6L611 1107.9L611.8 1107.5L612.6 1108.5L613.4 1109.9L614.2 1111.2L615 1109.9L615.8 1109L616.6 1108.7L617.4 1108.2L618.2 1107.3L619 1107.2L619.8 1110.8L620.6 1110.9L621.4 1109L622.2 1109L623 1108.4L623.8 1108.1L624.6 1109.2L625.4 1110.2L626.2 1110.2L627 1109.2L627.8 1109.5L628.6 1111L629.4 1108.8L630.2 1107.6L631 1109.3L631.8 1109.6L632.6 1109.6L633.4 1108.8L634.2 1110.1L635 1111.2L635.8 1110.7L636.6 1112L637.4 1112.9L638.2 1111.8L639 1112L639.8 1113L640.6 1112.2L641.4 1111.8L642.2 1111.3L643 1110.6L643.8 1111.2L644.6 1112.6L645.4 1112.2L646.2 1111.4L647 1110.2L647.8 1110.7L648.6 1110.7L649.4 1109.8L650.2 1109.1L651 1108.3L651.8 1108.7L652.6 1109.2L653.4 1109.3L654.2 1109.1L655 1107.8L655.8 1108.5L656.6 1110.5L657.4 1110.6L658.2 1110.3L659 1111L659.8 1110.1L660.6 1110.6L661.4 1112.9L662.2 1112.8L663 1111.5L663.8 1111.8L664.6 1112.7L665.4 1112.9L666.2 1112.7L667 1111.5L667.8 1110.6L668.6 1109.7L669.4 1111.1L670.2 1112.1L671 1109.5L671.8 1108.6L672.6 1109.6L673.4 1110.2L674.2 1109.7L675 1109.9L675.8 1110L676.6 1109.4L677.4 1109.1L678.2 1108.9L679 1108.7L679.8 1108.7L680.6 1109.6L681.4 1110.5L682.2 1111.5L683 1111.3L683.8 1113.3L684.6 1113.8L685.4 1112.3L686.2 1113.5L687 1112.9L687.8 1111.1L688.6 1111.6L689.4 1111.6L690.2 1111.7L691 1112.3L691.8 1111.5L692.6 1110.9L693.4 1110.5L694.2 1109.4L695 1108.7L695.8 1110.5L696.6 1110.6L697.4 1108.8L698.2 1109.2L699 1110L699.8 1110L700.6 1109.7L701.4 1109.7L702.2 1109.9L703 1109L703.8 1109.2L704.6 1109.7L705.4 1110.4L706.2 1111.2L707 1111.2L707.8 1113L708.6 1113L709.4 1112.4L710.2 1111L711 1111.4L714.6 1130.1L715.4 1131.9L716.2 1131.8L717 1130.9L717.8 1129.1L718.6 1127.6L719.4 1128.3L720.2 1129.9L721 1130.2L721.8 1129.4L722.6 1130.2L723.4 1129.8L724.2 1129.3L725 1130.2L725.8 1128.6L726.6 1128.8L727.4 1131.1L728.2 1130.7L729 1128.9L729.8 1128.8L730.6 1128.1L731.4 1127.3L732.2 1129.6L733 1129.7L733.8 1128.9L734.6 1129.2L735.4 1128.6L736.2 1129.1L737 1129.2L737.8 1127.2L738.6 1127.7L739.4 1128.3L740.2 1127.3L741 1128.6L741.8 1128.5L742.6 1128.6L743.4 1129.3L744.2 1128.4L745 1128.9L745.8 1129.1L746.6 1128L747.4 1127.8L748.2 1128.3L749 1128L749.8 1128.7L750.6 1129.4L751.4 1128.6L752.2 1129.2L753 1128.5L753.8 1129L754.6 1128.9L755.4 1128.1L756.2 1128.8L757 1128.4L757.8 1128.1L758.6 1128.5L759.4 1129.3L760.2 1129.9L761 1130L761.8 1129.2" fill="none" stroke="#000" stroke-width="2.1" stroke-linejoin="round" stroke-linecap="butt"/>
<path d="M543.4 1132.3L544.2 1131.5L545 1132.1L545.8 1132.4L546.6 1130.6L547.4 1130.3L548.2 1130.9L549 1131.9L549.8 1129.6L550.6 1127.9L551.4 1129L552.2 1129.1L553 1128.7L553.8 1129.3L554.6 1130.6L555.4 1131.4L556.2 1130L556.6 1130.7L557.4 1130.5L558.2 1129.5L559 1129.2L559.8 1129.6L560.6 1127.9L561.4 1126.5L562.2 1126.5L563 1126.1L563.8 1124L564.6 1124L565.4 1123.1L566.2 1122.1L567 1124L567.8 1124L568.6 1123.7L569.4 1122.3L570.2 1123L571 1123.5L571.8 1123.6L572.6 1123.4L573.4 1124.4L574.2 1122.8L575 1122L575.8 1123L576.6 1122.6L577.4 1122.9L578.2 1123.4L579 1121.3L579.8 1120.4L580.6 1122.5L581.4 1121.7L582.2 1121.6L583 1121.5L583.8 1122L584.6 1121.4L585.4 1121.2L586.2 1122.4L587 1122.8L587.8 1121.3L588.6 1120.7L589.4 1120.3L590.2 1120.2L591 1120.6L591.8 1119.9L592.6 1121.1L593.4 1122.1L594.2 1122.1L595 1122.5L595.8 1122.2L596.6 1121.3L597.4 1121.4L598.2 1122.7L599 1122.9L599.8 1121.6L600.6 1119.5L601.4 1120.3L602.2 1122L603 1120.9L603.8 1121L604.6 1120.6L605.4 1119.6L606.2 1119.1L607 1119.1L607.8 1119.6L608.6 1121.2L609.4 1120.7L610.2 1120.4L611 1119.4L611.8 1119.3L612.6 1119.9L613.4 1118.3L614.2 1119.7L615 1120L615.8 1119.5L616.6 1120.4L617.4 1121.3L618.2 1121.6L619 1121.1L619.8 1120.9L620.6 1121.6L621.4 1122.5L622.2 1123.1L623 1123.3L623.8 1123.5L624.6 1124L625.4 1123.4L626.2 1124L627 1122.7L627.8 1120.1L628.6 1120.7L629.4 1122L630.2 1122.6L631 1122.9L631.8 1121.9L632.6 1122.1L633.4 1123.4L634.2 1124.1L635 1123.3L635.8 1122.7L636.6 1122L637.4 1122.8L638.2 1123.2L639 1122.2L639.8 1121.9L640.6 1122.7L641.4 1123.3L642.2 1124.8L643 1124.1L643.8 1123.4L644.6 1123.7L645.4 1122.7L646.2 1123L647 1121.8L647.8 1121.3L648.6 1121.1L649.4 1123.4L650.2 1124.4L651 1122.4L651.8 1121.2L652.6 1120.2L653.4 1119.5L654.2 1121.5L655 1121.6L655.8 1121.4L656.6 1122.7L657.4 1122.1L658.2 1120L659 1119.8L659.8 1119.9L660.6 1119.1L661.4 1120L662.2 1121.6L663 1121.9L663.8 1122L664.6 1121.7L665.4 1119.2L666.2 1118.9L667 1120.2L667.8 1122.7L668.6 1122.9L669.4 1121.1L670.2 1122L671 1122.4L671.8 1121.3L672.6 1122.8L673.4 1122.8L674.2 1122.1L675 1121.8L675.8 1121.6L676.6 1123.3L677.4 1122.9L678.2 1123.2L679 1122.6L679.8 1121.9L680.6 1121.8L681.4 1121.6L682.2 1122.7L683 1124.1L683.8 1124.3L684.6 1122.9L685.4 1123.7L686.2 1123.6L687 1123.2L687.8 1123.1L688.6 1122.7L689.4 1123.5L690.2 1123.9L691 1122.7L691.8 1122.9L692.6 1123.9L693.4 1122.7L694.2 1122.7L695 1122.8L695.8 1123.2L696.6 1123.6L697.4 1123.1L698.2 1122.7L699 1122.1L699.8 1123L700.6 1124.6L701.4 1125.7L702.2 1123.8L703 1121.9L703.8 1122.2L704.6 1122.8L705.4 1120.9L706.2 1120.7L707 1120.2L707.8 1120.6L708.6 1121.7L709.4 1121L710.2 1119.9L711 1120.2L714.6 1130.9L715.4 1131.3L716.2 1132.2L717 1132.7L717.8 1133.4L718.6 1132.1L719.4 1130.2L720.2 1131.9L721 1131.4L721.8 1130.6L722.6 1131.8L723.4 1131.8L724.2 1132.3L725 1132.4L725.8 1133.7L726.6 1133.6L727.4 1131.9L728.2 1131.1L729 1132.2L729.8 1132.4L730.6 1131.7L731.4 1132.9L732.2 1132.4L733 1132L733.8 1132.9L734.6 1133.5L735.4 1132.8L736.2 1133.2L737 1133.4L737.8 1131.4L738.6 1131.2L739.4 1132.3L740.2 1132.2L741 1130.9L741.8 1131.1L742.6 1131.5L743.4 1131.7L744.2 1131.4L745 1131.2L745.8 1131.6L746.6 1130.3L747.4 1130.3L748.2 1131.3L749 1131.1L749.8 1131.5L750.6 1133.1L751.4 1132.6L752.2 1132.4L753 1132.7L753.8 1131.5L754.6 1131.3L755.4 1131.7L756.2 1131.4L757 1130.3L757.8 1130.7L758.6 1132L759.4 1134.3L760.2 1133.5L761 1131.4L761.8 1131.5" fill="none" stroke="#000" stroke-width="2.1" stroke-linejoin="round" stroke-linecap="butt"/>
<path d="M543.4 1130.5L544.2 1130.9L545 1131.3L545.8 1131.9L546.6 1130.8L547.4 1130.9L548.2 1132.2L549 1131.4L549.8 1131.3L550.6 1132.1L551.4 1130.4L552.2 1129.7L553 1130.2L553.8 1131L554.6 1131L555.4 1131.9L556.2 1131.4L556.6 1130.7L557.4 1130.2L558.2 1129.5L559 1128.5L559.8 1125.8L560.6 1126.6L561.4 1127.9L562.2 1127.1L563 1126.2L563.8 1124.9L564.6 1124.8L565.4 1125.5L566.2 1125.4L567 1125.5L567.8 1125.5L568.6 1124.3L569.4 1125.3L570.2 1125.4L571 1122.7L571.8 1122.1L572.6 1122.6L573.4 1122.9L574.2 1122.4L575 1123.6L575.8 1124.8L576.6 1124.1L577.4 1123.4L578.2 1121.9L579 1121.9L579.8 1123.2L580.6 1123.2L581.4 1123.3L582.2 1123.3L583 1123.2L583.8 1125.2L584.6 1125.6L585.4 1123.7L586.2 1123.3L587 1124.5L587.8 1125L588.6 1125.4L589.4 1126L590.2 1125.7L591 1124.7L591.8 1125.2L592.6 1125.2L593.4 1124.9L594.2 1124.2L595 1123.4L595.8 1124.6L596.6 1123.9L597.4 1124.7L598.2 1125.9L599 1122.6L599.8 1122.7L600.6 1124.8L601.4 1125L602.2 1123.9L603 1124.4L603.8 1125.2L604.6 1125.3L605.4 1126.3L606.2 1126.7L607 1126.4L607.8 1126L608.6 1125.3L609.4 1125L610.2 1125.5L611 1125.8L611.8 1124.5L612.6 1122.8L613.4 1123.4L614.2 1124.7L615 1123.4L615.8 1123.6L616.6 1124.5L617.4 1124.5L618.2 1124.6L619 1125L619.8 1125.8L620.6 1125.4L621.4 1125.3L622.2 1126.2L623 1126.5L623.8 1126.5L624.6 1125.3L625.4 1124.1L626.2 1126L627 1126.8L627.8 1125.5L628.6 1125.7L629.4 1125L630.2 1124.5L631 1124.6L631.8 1125.3L632.6 1127.7L633.4 1126.3L634.2 1124.8L635 1125.8L635.8 1124.3L636.6 1124L637.4 1123.8L638.2 1124.6L639 1124.6L639.8 1123.2L640.6 1123.2L641.4 1124.2L642.2 1123.2L643 1121.9L643.8 1123L644.6 1123.6L645.4 1125.3L646.2 1125.2L647 1124.3L647.8 1125.8L648.6 1124.9L649.4 1124.4L650.2 1124.9L651 1124.2L651.8 1125.3L652.6 1126.6L653.4 1125.9L654.2 1124.6L655 1124.6L655.8 1125.5L656.6 1125.6L657.4 1123.9L658.2 1123.6L659 1123.9L659.8 1124.5L660.6 1124.7L661.4 1123.4L662.2 1122.9L663 1122.7L663.8 1124L664.6 1125.6L665.4 1124.4L666.2 1124.3L667 1125.6L667.8 1126.1L668.6 1125.5L669.4 1125.9L670.2 1125.9L671 1125.1L671.8 1124.3L672.6 1124.7L673.4 1124.9L674.2 1124.5L675 1124.8L675.8 1126L676.6 1126.2L677.4 1125.9L678.2 1126.1L679 1125.9L679.8 1124.7L680.6 1124L681.4 1124.3L682.2 1125.1L683 1124.4L683.8 1125.5L684.6 1125.8L685.4 1125.3L686.2 1126.2L687 1127.4L687.8 1127.4L688.6 1126.2L689.4 1127.1L690.2 1127.2L691 1126.5L691.8 1124.6L692.6 1124.7L693.4 1125.1L694.2 1123.4L695 1123.1L695.8 1122.5L696.6 1122.3L697.4 1123L698.2 1123.9L699 1122.8L699.8 1122.4L700.6 1122.9L701.4 1123.4L702.2 1122.9L703 1123.7L703.8 1124.2L704.6 1122.6L705.4 1123.6L706.2 1125.4L707 1125.8L707.8 1125.3L708.6 1124.6L709.4 1124.6L710.2 1125.1L711 1124.5L714.6 1129.9L715.4 1129.7L716.2 1129.3L717 1128.4L717.8 1128.3L718.6 1128.6L719.4 1128.2L720.2 1129.8L721 1130.6L721.8 1130.7L722.6 1129.6L723.4 1129.2L724.2 1129.2L725 1127.8L725.8 1129.3L726.6 1130.2L727.4 1130.8L728.2 1130.4L729 1129.2L729.8 1130L730.6 1131.1L731.4 1131.2L732.2 1129.7L733 1129.4L733.8 1129.5L734.6 1128.7L735.4 1127.4L736.2 1128.2L737 1129.3L737.8 1129.1L738.6 1129L739.4 1127.4L740.2 1128.2L741 1129.1L741.8 1127.6L742.6 1127.8L743.4 1130.3L744.2 1131L745 1129.1L745.8 1127.8L746.6 1128.6L747.4 1131.3L748.2 1131.3L749 1129.2L749.8 1128.2L750.6 1127.7L751.4 1129.1L752.2 1128.8L753 1126L753.8 1127.5L754.6 1128.9L755.4 1128.3L756.2 1130.1L757 1130L757.8 1128.8L758.6 1129.4L759.4 1129.1L760.2 1128.2L761 1129L761.8 1128.9" fill="none" stroke="#000" stroke-width="2.1" stroke-linejoin="round" stroke-linecap="butt"/>
<path d="M543.4 1131.3L544.2 1131.9L545 1131.8L545.8 1131.3L546.6 1131.5L547.4 1130.3L548.2 1130.9L549 1131.6L549.8 1131.7L550.6 1132.4L551.4 1130.9L552.2 1131.5L553 1133.9L553.8 1134.5L554.6 1132.5L555.4 1132.8L556.2 1132.9L556.6 1131.7L557.4 1131.5L558.2 1131.2L559 1131.5L559.8 1132L560.6 1131.5L561.4 1129.8L562.2 1129.9L563 1129.4L563.8 1130.1L564.6 1128.9L565.4 1128.2L566.2 1128.5L567 1129.9L567.8 1128.3L568.6 1126L569.4 1125.8L570.2 1126.5L571 1128.3L571.8 1127.9L572.6 1127.7L573.4 1128.1L574.2 1127.2L575 1125.8L575.8 1125.5L576.6 1126.8L577.4 1125.8L578.2 1126.6L579 1127.2L579.8 1125.3L580.6 1125.7L581.4 1126.7L582.2 1127.3L583 1126.3L583.8 1126.9L584.6 1127L585.4 1126L586.2 1126.4L587 1128.1L587.8 1129.2L588.6 1129.8L589.4 1129.3L590.2 1128L591 1128.8L591.8 1127.4L592.6 1127.5L593.4 1126.4L594.2 1126.7L595 1127.6L595.8 1126.1L596.6 1125.5L597.4 1127L598.2 1126.7L599 1125.1L599.8 1125.2L600.6 1125.5L601.4 1125L602.2 1124.7L603 1126L603.8 1126.5L604.6 1126.6L605.4 1126.5L606.2 1125.7L607 1124.9L607.8 1125.2L608.6 1123.9L609.4 1123.3L610.2 1124.2L611 1125L611.8 1124.9L612.6 1124.3L613.4 1123.1L614.2 1124L615 1125.8L615.8 1126.2L616.6 1126.5L617.4 1125.5L618.2 1125.1L619 1124.9L619.8 1125.2L620.6 1124L621.4 1123.3L622.2 1122.6L623 1123.3L623.8 1125.2L624.6 1123.8L625.4 1123.1L626.2 1124.8L627 1124.7L627.8 1124.1L628.6 1124.2L629.4 1122.1L630.2 1123.1L631 1125.1L631.8 1125.4L632.6 1123.6L633.4 1123.4L634.2 1124L635 1124.3L635.8 1125.2L636.6 1125.6L637.4 1125.3L638.2 1125.7L639 1126.4L639.8 1126.3L640.6 1125.4L641.4 1125.8L642.2 1126.2L643 1126.5L643.8 1127.2L644.6 1127.4L645.4 1126.6L646.2 1125.4L647 1125.6L647.8 1125.3L648.6 1126.6L649.4 1126.4L650.2 1126.2L651 1126L651.8 1126.4L652.6 1125.7L653.4 1126.7L654.2 1126.6L655 1125.6L655.8 1126.6L656.6 1126.8L657.4 1126.8L658.2 1127.5L659 1128.5L659.8 1126.8L660.6 1126.1L661.4 1126.2L662.2 1126L663 1126.5L663.8 1127L664.6 1127.4L665.4 1128L666.2 1127.6L667 1126.4L667.8 1125.7L668.6 1125.2L669.4 1123.9L670.2 1124.6L671 1125.6L671.8 1125.3L672.6 1125.4L673.4 1126.1L674.2 1126.6L675 1126.7L675.8 1125.9L676.6 1126.4L677.4 1126.5L678.2 1125.2L679 1124.1L679.8 1125.5L680.6 1125.2L681.4 1122.7L682.2 1123.2L683 1124L683.8 1123.6L684.6 1124.3L685.4 1124.1L686.2 1123.9L687 1125.1L687.8 1126.4L688.6 1125.2L689.4 1124L690.2 1124.1L691 1124.4L691.8 1124.2L692.6 1124.3L693.4 1124.2L694.2 1122.6L695 1121.2L695.8 1121.6L696.6 1122L697.4 1122.1L698.2 1123.9L699 1124.3L699.8 1125.6L700.6 1126.3L701.4 1127.2L702.2 1126.8L703 1124.2L703.8 1125.4L704.6 1126L705.4 1125.7L706.2 1127.4L707 1129.5L707.8 1128.8L708.6 1126.9L709.4 1126.1L710.2 1126.3L711 1126.5L714.6 1127.2L715.4 1127.7L716.2 1128.1L717 1128.1L717.8 1128.2L718.6 1129.1L719.4 1130.6L720.2 1130.2L721 1129.7L721.8 1130L722.6 1129.3L723.4 1130L724.2 1129.7L725 1129.9L725.8 1130.4L726.6 1129.2L727.4 1129.5L728.2 1129.6L729 1130.1L729.8 1129.9L730.6 1127.8L731.4 1128.6L732.2 1128.5L733 1128L733.8 1129L734.6 1128.2L735.4 1128.7L736.2 1127.1L737 1127.4L737.8 1129.4L738.6 1130.2L739.4 1129.6L740.2 1127.3L741 1128.2L741.8 1129.4L742.6 1129.2L743.4 1129.3L744.2 1128.4L745 1127.1L745.8 1127.1L746.6 1126.9L747.4 1128.1L748.2 1129.1L749 1128.5L749.8 1129L750.6 1129L751.4 1129L752.2 1130L753 1129L753.8 1129.1L754.6 1129.2L755.4 1128L756.2 1129.6L757 1129.4L757.8 1127.5L758.6 1128.2L759.4 1128.6L760.2 1127.5L761 1126.1L761.8 1127.5" fill="none" stroke="#000" stroke-width="2.1" stroke-linejoin="round" stroke-linecap="butt"/>
<path d="M543.4 1129.1L544.2 1129.4L545 1129.7L545.8 1130.4L546.6 1131.9L547.4 1130.8L548.2 1129.4L549 1131L549.8 1132.1L550.6 1131.2L551.4 1130L552.2 1129.8L553 1129.1L553.8 1129.2L554.6 1130.8L555.4 1131.5L556.2 1130L556.6 1130.1L557.4 1130L558.2 1129.6L559 1129.9L559.8 1130.8L560.6 1130.1L561.4 1130.2L562.2 1130.2L563 1129.5L563.8 1127.6L564.6 1128.7L565.4 1130.1L566.2 1128.1L567 1128L567.8 1128.6L568.6 1128.1L569.4 1127.9L570.2 1129L571 1130L571.8 1131.2L572.6 1132L573.4 1131.1L574.2 1131L575 1130.7L575.8 1130.9L576.6 1130.2L577.4 1130.7L578.2 1130.2L579 1129.9L579.8 1130.1L580.6 1128.1L581.4 1127.4L582.2 1127.3L583 1127.3L583.8 1126.5L584.6 1125.1L585.4 1125.1L586.2 1126.5L587 1126.9L587.8 1127.5L588.6 1127.9L589.4 1129.8L590.2 1129.6L591 1129.1L591.8 1128.7L592.6 1130.1L593.4 1130.9L594.2 1129.5L595 1129.8L595.8 1129.6L596.6 1128.4L597.4 1128.4L598.2 1128.6L599 1128.6L599.8 1127.3L600.6 1125.6L601.4 1125.7L602.2 1127.2L603 1126.8L603.8 1126.4L604.6 1127.4L605.4 1126.6L606.2 1125.5L607 1126.1L607.8 1126.5L608.6 1126.8L609.4 1125.6L610.2 1125.8L611 1125.8L611.8 1126.3L612.6 1126.4L613.4 1126.2L614.2 1126.2L615 1126.7L615.8 1125.9L616.6 1127.1L617.4 1128.8L618.2 1128.9L619 1128.1L619.8 1126.8L620.6 1128.8L621.4 1129.4L622.2 1128.7L623 1128.8L623.8 1128.8L624.6 1127.6L625.4 1126.9L626.2 1126.9L627 1127.6L627.8 1127.9L628.6 1127.8L629.4 1127.4L630.2 1127.1L631 1127.2L631.8 1127.2L632.6 1129.4L633.4 1130.2L634.2 1130L635 1130.9L635.8 1131.1L636.6 1130.6L637.4 1130.8L638.2 1131.2L639 1131.2L639.8 1131L640.6 1130.2L641.4 1131.2L642.2 1130.4L643 1129.2L643.8 1130L644.6 1129.4L645.4 1129L646.2 1128.6L647 1128.9L647.8 1130.1L648.6 1129.4L649.4 1128.4L650.2 1130.3L651 1130L651.8 1128.9L652.6 1129.4L653.4 1129.1L654.2 1128.4L655 1130.1L655.8 1130.9L656.6 1130.2L657.4 1129.7L658.2 1130L659 1129.5L659.8 1128.9L660.6 1129.6L661.4 1129.6L662.2 1130.7L663 1131.7L663.8 1130.7L664.6 1129.1L665.4 1129.2L666.2 1130.3L667 1130.8L667.8 1129.3L668.6 1129.6L669.4 1131.2L670.2 1130.7L671 1130L671.8 1129.1L672.6 1129.7L673.4 1129.8L674.2 1129.1L675 1127.9L675.8 1128.1L676.6 1127.7L677.4 1127.3L678.2 1129.1L679 1128.3L679.8 1127.1L680.6 1126.8L681.4 1127.5L682.2 1125.7L683 1125.1L683.8 1126.9L684.6 1127.8L685.4 1126.9L686.2 1128.1L687 1129.9L687.8 1129.3L688.6 1128.5L689.4 1128.4L690.2 1129.5L691 1131L691.8 1132.8L692.6 1132L693.4 1130.7L694.2 1130.8L695 1131.1L695.8 1131.2L696.6 1130.5L697.4 1129.3L698.2 1129.5L699 1130.2L699.8 1128.9L700.6 1126.3L701.4 1126.2L702.2 1127.6L703 1127.6L703.8 1127.6L704.6 1127.4L705.4 1127.4L706.2 1127.8L707 1128L707.8 1128.8L708.6 1129.1L709.4 1129.4L710.2 1127.6L711 1128.1L714.6 1129.6L715.4 1130.2L716.2 1130.8L717 1129L717.8 1128.8L718.6 1128.5L719.4 1128.4L720.2 1129.5L721 1130.8L721.8 1130.3L722.6 1128.4L723.4 1129.1L724.2 1128.9L725 1130L725.8 1131.3L726.6 1130.4L727.4 1130L728.2 1130L729 1130.4L729.8 1130.2L730.6 1130.2L731.4 1130.5L732.2 1129.9L733 1130.1L733.8 1130.1L734.6 1129L735.4 1128.6L736.2 1128.3L737 1128.4L737.8 1130.5L738.6 1129.8L739.4 1128.5L740.2 1128.2L741 1128.1L741.8 1130L742.6 1131.1L743.4 1131.3L744.2 1130.1L745 1130.4L745.8 1130.2L746.6 1129.3L747.4 1131.3L748.2 1129.5L749 1127.4L749.8 1129.2L750.6 1131.3L751.4 1131.2L752.2 1130.2L753 1130.2L753.8 1130.1L754.6 1129.7L755.4 1130.2L756.2 1129.8L757 1129.1L757.8 1130.4L758.6 1130.1L759.4 1130.4L760.2 1132.1L761 1131.8L761.8 1129.7" fill="none" stroke="#000" stroke-width="2.1" stroke-linejoin="round" stroke-linecap="butt"/>
<path d="M543.4 1128.2L544.2 1130.4L545 1131.5L545.8 1131L546.6 1129.5L547.4 1128.4L548.2 1128.1L549 1129.2L549.8 1129.6L550.6 1129.9L551.4 1130.8L552.2 1129.8L553 1129.6L553.8 1130L554.6 1130.2L555.4 1131.1L556.2 1131.8L556.6 1130.2L557.4 1130.4L558.2 1130.7L559 1130.1L559.8 1129.2L560.6 1130L561.4 1131.5L562.2 1132.3L563 1131.9L563.8 1131.4L564.6 1131.5L565.4 1131.8L566.2 1132.4L567 1131.9L567.8 1131.4L568.6 1131.1L569.4 1130.5L570.2 1130.1L571 1130L571.8 1131.3L572.6 1129.5L573.4 1130.4L574.2 1130.6L575 1129.9L575.8 1130.1L576.6 1129.1L577.4 1129.5L578.2 1129.3L579 1130.5L579.8 1130.8L580.6 1131.1L581.4 1131L582.2 1131L583 1130.3L583.8 1129.2L584.6 1130.2L585.4 1130.1L586.2 1130.1L587 1129.9L587.8 1129.9L588.6 1128.7L589.4 1128.1L590.2 1129.3L591 1128.6L591.8 1128.4L592.6 1127.9L593.4 1128.7L594.2 1129.5L595 1130.3L595.8 1130.6L596.6 1131.6L597.4 1131.2L598.2 1130.5L599 1131.2L599.8 1129.8L600.6 1129.7L601.4 1130.7L602.2 1128.9L603 1128.2L603.8 1129.7L604.6 1129.7L605.4 1129L606.2 1128.8L607 1128.8L607.8 1128.2L608.6 1127.7L609.4 1127.5L610.2 1128.6L611 1129L611.8 1128.1L612.6 1127.5L613.4 1128.4L614.2 1127.5L615 1128.1L615.8 1128.7L616.6 1129.3L617.4 1130.1L618.2 1131.1L619 1130.9L619.8 1130.4L620.6 1130.8L621.4 1130.5L622.2 1129.8L623 1129.6L623.8 1129L624.6 1129.8L625.4 1129.6L626.2 1127.9L627 1128.4L627.8 1129.2L628.6 1128.1L629.4 1126.6L630.2 1127.6L631 1128.8L631.8 1128.4L632.6 1128.4L633.4 1128.7L634.2 1128.8L635 1128.2L635.8 1126.4L636.6 1126.1L637.4 1128.7L638.2 1128.9L639 1129L639.8 1128.6L640.6 1129.4L641.4 1131.2L642.2 1130.6L643 1130.5L643.8 1130.3L644.6 1131.8L645.4 1132.4L646.2 1130.4L647 1130.1L647.8 1130.3L648.6 1130.9L649.4 1131.2L650.2 1131.4L651 1132L651.8 1131.7L652.6 1130L653.4 1129.9L654.2 1131.6L655 1131.2L655.8 1130.6L656.6 1131.1L657.4 1131.9L658.2 1133L659 1131.5L659.8 1130.9L660.6 1130.3L661.4 1129L662.2 1129.4L663 1129.6L663.8 1129.7L664.6 1131.6L665.4 1131.2L666.2 1131.4L667 1132.2L667.8 1132.1L668.6 1132.5L669.4 1132.2L670.2 1131.2L671 1131.9L671.8 1132.2L672.6 1131.8L673.4 1131.2L674.2 1131.2L675 1130.3L675.8 1129.5L676.6 1130.2L677.4 1129.3L678.2 1129.1L679 1128.5L679.8 1128.1L680.6 1128.7L681.4 1128.5L682.2 1128.3L683 1130.1L683.8 1131.4L684.6 1131.5L685.4 1132.1L686.2 1132.7L687 1132.6L687.8 1131.5L688.6 1131.6L689.4 1130.6L690.2 1131L691 1132.3L691.8 1132.3L692.6 1131.9L693.4 1132.3L694.2 1131L695 1130L695.8 1129.4L696.6 1130.2L697.4 1132.4L698.2 1130.8L699 1131.2L699.8 1130.9L700.6 1130.8L701.4 1132.1L702.2 1130.6L703 1130.7L703.8 1132.5L704.6 1131.3L705.4 1131.9L706.2 1132.5L707 1130.6L707.8 1130.7L708.6 1131.6L709.4 1131.7L710.2 1131.1L711 1130.7L714.6 1129.2L715.4 1130.4L716.2 1131.6L717 1131.5L717.8 1132.2L718.6 1130.7L719.4 1129L720.2 1129.4L721 1129.9L721.8 1130.7L722.6 1131.2L723.4 1130.4L724.2 1130.1L725 1130L725.8 1130.9L726.6 1131.5L727.4 1129.7L728.2 1129.4L729 1129.4L729.8 1130.8L730.6 1130.9L731.4 1129.8L732.2 1129.9L733 1130L733.8 1130.4L734.6 1129.9L735.4 1130.8L736.2 1129.7L737 1128.9L737.8 1129L738.6 1129.6L739.4 1130.1L740.2 1129.2L741 1130.5L741.8 1131.9L742.6 1132.4L743.4 1131.4L744.2 1130.4L745 1131.1L745.8 1131.1L746.6 1132.2L747.4 1133L748.2 1130.8L749 1129.5L749.8 1129.1L750.6 1129.5L751.4 1131.2L752.2 1131.3L753 1130.8L753.8 1130.9L754.6 1131.3L755.4 1130.8L756.2 1129.8L757 1129.6L757.8 1131.2L758.6 1131.6L759.4 1130.8L760.2 1130.2L761 1129.7L761.8 1130.1" fill="none" stroke="#000" stroke-width="2.1" stroke-linejoin="round" stroke-linecap="butt"/>
<path d="M543.4 1128.0L544.3 1128.2L545.2 1128.1L546.1 1127.9L547.0 1127.6L547.9 1128.1L548.8 1128.0L549.7 1128.3L550.6 1128.4L551.5 1127.7L552.4 1127.7L553.3 1127.7L554.2 1128.2L555.1 1128.3L556.0 1127.8L556.4 1133.0L555.5 1133.1L554.6 1132.6L553.7 1133.2L552.8 1132.6L551.9 1133.2L551.0 1132.8L550.1 1132.5L549.2 1133.2L548.3 1132.9L547.4 1133.3L546.5 1132.5L545.6 1132.7L544.8 1132.7L543.9 1132.7Z" fill="#000" stroke="#000" stroke-width="0.6" stroke-linejoin="round"/>
<path d="M714.5 1126.1L715.4 1125.9L716.3 1125.9L717.2 1126.3L718.1 1126.7L719.0 1126.6L719.9 1126.2L720.8 1126.3L721.7 1126.2L722.6 1127.2L723.5 1126.4L724.4 1127.0L725.3 1126.6L726.2 1126.6L727.1 1127.1L728.0 1127.2L728.9 1126.5L729.8 1126.8L730.7 1126.6L731.6 1126.7L732.5 1127.3L733.4 1127.2L734.3 1126.5L735.2 1126.3L736.1 1126.6L737.0 1126.3L737.9 1126.7L738.8 1126.3L739.7 1126.9L740.6 1126.2L741.5 1126.9L742.4 1126.2L743.3 1126.5L744.2 1126.1L745.1 1126.0L746.0 1125.7L746.9 1126.4L747.8 1125.7L748.7 1125.6L749.6 1125.5L750.5 1125.6L751.4 1125.6L752.3 1126.2L753.2 1126.2L754.1 1126.1L755.0 1126.0L755.9 1125.7L756.8 1125.6L757.7 1126.3L758.6 1126.2L759.5 1126.2L760.4 1126.2L761.3 1126.0L762.2 1125.7L762.6 1137.3L761.7 1136.8L760.8 1137.4L759.9 1137.1L759.0 1136.4L758.1 1136.8L757.2 1137.4L756.3 1137.1L755.4 1137.4L754.5 1137.0L753.6 1136.6L752.7 1136.9L751.8 1137.0L750.9 1136.7L750.0 1136.7L749.1 1137.3L748.2 1136.7L747.3 1137.3L746.4 1136.8L745.5 1137.1L744.6 1137.0L743.7 1137.2L742.8 1137.1L741.9 1137.2L741.0 1137.4L740.1 1137.3L739.2 1137.9L738.3 1137.7L737.4 1138.0L736.5 1138.1L735.6 1137.8L734.7 1138.3L733.8 1138.1L732.9 1138.0L732.0 1138.8L731.1 1139.0L730.2 1139.1L729.3 1139.3L728.4 1139.0L727.5 1139.1L726.6 1138.4L725.7 1138.3L724.8 1137.7L723.9 1138.3L723.0 1138.1L722.1 1138.1L721.2 1137.8L720.3 1137.4L719.4 1137.3L718.5 1136.8L717.6 1137.2L716.8 1137.2L715.9 1135.9L715.0 1133.5Z" fill="#000" stroke="#000" stroke-width="0.6" stroke-linejoin="round"/>
<path d="M556 1131L556.8 1141L557.8 1131" fill="none" stroke="#000" stroke-width="1.6" stroke-linejoin="round" stroke-linecap="butt"/>
<path d="M562.0 1127.4L562.9 1126.5L563.8 1127.6L564.7 1127.6L565.6 1127.2L566.5 1127.2L567.4 1126.5L568.3 1127.6L569.2 1126.5L570.1 1127.7L571.0 1126.8L571.9 1126.6L572.8 1126.5L573.7 1127.9L574.6 1127.8L575.5 1126.3L576.4 1126.9L577.3 1126.5L578.2 1126.6L579.1 1126.9L580.0 1127.6L580.9 1126.6L581.8 1126.5L582.7 1126.4L583.6 1126.8L584.5 1126.2L585.4 1126.7L586.3 1127.4L587.2 1127.0L588.1 1127.6L589.0 1127.4L589.9 1126.4L590.8 1126.5L591.7 1126.5L592.6 1126.5L593.5 1126.4L594.4 1126.1L595.3 1127.3L596.2 1126.3L597.1 1126.2L598.0 1126.1L598.9 1126.6L599.8 1126.5L600.7 1127.2L601.6 1126.8L602.5 1126.3L603.4 1127.5L604.3 1126.8L605.2 1127.5L606.1 1126.0L607.0 1126.9L607.9 1126.0L608.8 1126.2L609.7 1126.4L610.6 1126.2L611.5 1126.0L612.4 1126.1L613.3 1127.0L614.2 1126.9L615.1 1127.4L616.0 1127.1L616.9 1126.9L617.8 1126.8L618.7 1126.8L619.6 1126.0L620.5 1126.0L621.4 1127.5L622.3 1125.9L623.2 1126.2L624.1 1126.1L625.0 1126.3L625.9 1126.8L626.8 1127.2L627.7 1126.1L628.6 1126.1L629.5 1126.6L630.4 1126.3L631.3 1127.3L632.2 1126.4L633.1 1125.9L634.0 1126.1L634.9 1125.9L635.8 1127.3L636.7 1126.8L637.6 1127.3L638.5 1126.6L639.4 1126.7L640.3 1126.6L641.2 1126.0L642.1 1127.2L643.0 1127.2L643.9 1126.5L644.8 1126.8L645.7 1126.0L646.6 1127.2L647.5 1127.2L648.4 1126.0L649.3 1126.5L650.2 1125.9L651.1 1126.0L652.0 1126.7L652.9 1126.2L653.8 1126.7L654.7 1126.3L655.6 1125.9L656.5 1125.9L657.4 1125.9L658.3 1126.1L659.2 1126.8L660.1 1127.0L661.0 1125.9L661.9 1127.0L662.8 1126.9L663.7 1126.0L664.6 1125.9L665.5 1126.5L666.4 1125.9L667.3 1126.7L668.2 1126.4L669.1 1125.9L670.0 1126.7L670.9 1126.0L671.8 1126.5L672.7 1126.0L673.6 1126.2L674.5 1126.8L675.4 1125.8L676.3 1126.1L677.2 1127.0L678.1 1125.7L679.0 1127.2L679.9 1126.9L680.8 1126.8L681.7 1126.1L682.6 1126.0L683.5 1127.2L684.4 1126.4L685.3 1127.0L686.2 1125.7L687.1 1126.6L688.0 1126.5L688.9 1126.7L689.8 1125.7L690.7 1127.2L691.6 1125.7L692.5 1126.4L693.4 1125.7L694.3 1127.0L695.2 1126.5L696.1 1125.7L697.0 1126.5L697.9 1125.9L698.8 1125.9L699.7 1127.2L700.6 1126.2L701.5 1125.9L702.4 1126.0L703.3 1125.7L704.2 1126.4L705.1 1125.6L706.0 1126.1L706.9 1126.7L707.8 1125.7L708.7 1126.6L709.6 1126.5L710.5 1126.2L710.9 1132.2L710.0 1133.7L709.1 1133.8L708.2 1133.7L707.3 1133.1L706.4 1132.2L705.5 1133.8L704.6 1133.6L703.7 1133.6L702.8 1133.8L701.9 1132.3L701.0 1133.7L700.1 1132.5L699.2 1133.8L698.3 1132.7L697.4 1133.4L696.5 1132.6L695.6 1132.4L694.7 1133.4L693.8 1132.5L692.9 1133.8L692.0 1133.2L691.1 1132.5L690.2 1133.8L689.3 1132.8L688.4 1132.4L687.5 1133.6L686.6 1133.7L685.7 1132.8L684.8 1133.4L683.9 1132.4L683.0 1133.7L682.1 1132.2L681.2 1133.6L680.3 1133.2L679.4 1133.4L678.5 1133.8L677.6 1133.8L676.7 1132.7L675.8 1133.8L674.9 1133.0L674.0 1132.2L673.1 1132.4L672.2 1133.7L671.3 1132.6L670.4 1132.8L669.5 1133.0L668.6 1132.4L667.7 1133.8L666.8 1132.8L665.9 1133.3L665.0 1133.0L664.1 1133.7L663.2 1133.7L662.3 1133.3L661.4 1133.0L660.5 1132.6L659.6 1132.7L658.7 1133.1L657.8 1133.8L656.9 1133.1L656.0 1132.7L655.1 1133.2L654.2 1132.4L653.3 1133.2L652.4 1133.4L651.5 1133.1L650.6 1133.0L649.7 1132.6L648.8 1133.1L647.9 1133.1L647.0 1133.5L646.1 1132.5L645.2 1133.5L644.3 1132.6L643.4 1133.6L642.5 1133.7L641.6 1133.1L640.7 1133.8L639.8 1133.4L638.9 1132.3L638.0 1132.8L637.1 1133.8L636.2 1132.7L635.3 1133.7L634.4 1132.8L633.5 1133.8L632.6 1133.8L631.7 1133.7L630.8 1132.8L629.9 1133.7L629.0 1133.7L628.1 1133.3L627.2 1132.9L626.3 1133.7L625.4 1133.7L624.5 1132.4L623.6 1132.7L622.7 1132.8L621.8 1133.7L620.9 1133.8L620.0 1133.6L619.1 1133.7L618.2 1133.2L617.3 1132.8L616.4 1132.8L615.5 1133.7L614.6 1133.8L613.7 1133.1L612.8 1133.7L611.9 1133.5L611.0 1132.5L610.1 1132.4L609.2 1133.7L608.3 1133.3L607.4 1133.7L606.5 1132.9L605.6 1133.5L604.7 1133.8L603.8 1133.6L602.9 1133.2L602.0 1133.2L601.1 1133.1L600.2 1133.4L599.3 1133.7L598.4 1133.1L597.5 1133.2L596.6 1133.0L595.7 1132.3L594.8 1133.0L593.9 1132.3L593.0 1133.7L592.1 1133.3L591.2 1133.6L590.3 1133.3L589.4 1133.2L588.5 1133.2L587.6 1133.7L586.7 1132.3L585.8 1133.6L584.9 1132.3L584.0 1133.1L583.1 1132.8L582.2 1133.3L581.3 1132.8L580.4 1132.6L579.5 1133.1L578.6 1133.2L577.7 1133.7L576.8 1132.3L575.9 1132.8L575.0 1132.8L574.1 1132.1L573.2 1133.4L572.3 1133.6L571.4 1133.0L570.5 1132.6L569.6 1133.6L568.7 1133.6L567.8 1132.2L566.9 1133.6L566.0 1133.5L565.1 1132.6L564.2 1133.6L563.4 1132.9L562.5 1133.1Z" fill="#000" stroke="#000" stroke-width="0.6" stroke-linejoin="round"/>
<path d="M70.0 1127.8L70.9 1128.3L71.8 1128.6L72.7 1127.6L73.6 1127.9L74.5 1128.1L75.4 1128.4L76.3 1127.7L77.2 1128.4L78.1 1128.4L79.0 1127.4L79.9 1127.8L80.8 1128.1L81.7 1127.2L82.6 1127.2L83.5 1127.7L84.4 1127.6L85.3 1127.9L86.2 1127.3L87.1 1127.2L88.0 1127.6L88.9 1127.4L89.8 1127.4L90.7 1128.0L91.6 1127.5L92.5 1128.0L93.4 1127.7L94.3 1127.2L95.2 1126.8L96.1 1127.7L97.0 1127.7L97.9 1126.7L98.8 1126.7L99.7 1127.0L100.6 1127.6L101.5 1126.7L102.4 1126.6L103.3 1127.8L104.2 1127.1L105.1 1126.5L106.0 1126.8L106.9 1126.9L107.8 1126.5L108.7 1126.6L109.6 1127.0L110.5 1127.2L111.4 1126.3L112.3 1126.5L113.2 1127.5L114.1 1126.8L115.0 1126.3L115.9 1126.2L116.8 1126.1L117.7 1127.3L118.6 1127.1L119.5 1126.6L120.4 1126.0L121.3 1126.7L122.2 1126.0L123.1 1127.2L124.0 1127.0L124.9 1127.3L125.8 1127.0L126.7 1126.9L127.6 1126.5L128.5 1125.9L129.4 1126.2L130.3 1126.7L131.2 1126.0L132.1 1126.0L133.0 1127.2L133.9 1126.5L134.8 1125.8L135.7 1127.1L136.6 1126.0L137.5 1126.6L138.4 1126.8L139.3 1127.1L140.2 1127.1L141.1 1126.1L142.0 1125.8L142.9 1126.4L143.8 1126.1L144.7 1126.1L145.6 1126.3L146.5 1126.6L147.4 1125.6L148.3 1125.6L149.2 1125.8L150.1 1125.6L151.0 1126.0L151.9 1126.6L152.8 1125.7L153.7 1126.4L154.6 1125.5L155.5 1125.4L156.4 1125.5L157.3 1125.4L158.2 1126.6L159.1 1126.1L160.0 1126.3L160.9 1126.3L161.8 1125.5L162.7 1126.2L163.6 1125.5L164.5 1126.6L165.4 1125.3L166.3 1125.6L167.2 1125.6L168.1 1125.7L169.0 1125.7L169.9 1125.4L170.8 1125.9L171.7 1125.5L172.6 1125.9L173.5 1126.5L174.4 1125.9L175.3 1125.9L176.2 1125.5L177.1 1126.4L178.0 1125.4L178.9 1125.8L179.8 1125.1L180.7 1126.2L181.6 1125.1L182.5 1125.4L183.4 1125.1L184.3 1125.0L185.2 1125.6L186.1 1125.2L187.0 1125.9L187.9 1125.6L188.8 1125.1L189.7 1126.2L190.6 1126.1L191.5 1125.2L192.4 1124.9L193.3 1125.8L194.2 1125.3L195.1 1126.1L196.0 1125.4L196.9 1125.8L197.8 1125.8L198.7 1125.8L199.6 1125.8L200.5 1125.6L201.4 1125.5L202.3 1125.9L203.2 1125.7L204.1 1125.3L205.0 1124.7L205.9 1124.8L206.8 1124.9L207.3 1132.8L206.4 1132.9L205.5 1132.5L204.6 1133.4L203.7 1132.8L202.8 1132.7L201.9 1132.7L201.0 1133.0L200.1 1132.3L199.2 1133.3L198.3 1133.4L197.4 1133.3L196.5 1133.4L195.6 1133.3L194.7 1132.9L193.8 1133.3L192.9 1132.1L192.0 1133.3L191.1 1133.2L190.2 1132.8L189.3 1132.2L188.4 1132.3L187.5 1133.1L186.6 1133.2L185.7 1133.0L184.8 1133.4L183.9 1133.2L183.0 1132.7L182.1 1132.1L181.2 1132.3L180.3 1133.3L179.4 1132.5L178.5 1133.2L177.6 1132.6L176.7 1132.6L175.8 1133.4L174.9 1132.7L174.0 1133.0L173.1 1132.9L172.2 1133.4L171.3 1133.4L170.4 1133.2L169.5 1133.0L168.6 1132.8L167.7 1132.9L166.8 1133.4L165.9 1132.6L165.0 1133.2L164.1 1132.1L163.2 1133.3L162.3 1132.1L161.4 1133.4L160.5 1132.7L159.6 1133.2L158.7 1132.7L157.8 1132.7L156.9 1132.3L156.0 1133.2L155.1 1132.1L154.2 1132.6L153.3 1132.0L152.4 1133.3L151.5 1133.2L150.6 1132.7L149.7 1133.1L148.8 1132.9L147.9 1133.1L147.0 1132.8L146.1 1133.1L145.2 1133.0L144.3 1132.7L143.4 1133.4L142.5 1132.2L141.6 1132.6L140.7 1133.2L139.8 1133.0L138.9 1132.7L138.0 1133.3L137.1 1132.7L136.2 1133.2L135.3 1132.6L134.4 1133.1L133.5 1132.9L132.6 1132.2L131.7 1132.7L130.8 1132.8L129.9 1133.1L129.0 1132.4L128.1 1132.9L127.2 1133.2L126.3 1132.2L125.4 1132.2L124.5 1132.5L123.6 1133.4L122.7 1132.4L121.8 1132.8L120.9 1133.1L120.0 1133.2L119.1 1132.0L118.2 1133.0L117.3 1133.4L116.4 1132.1L115.5 1133.1L114.6 1132.4L113.7 1132.4L112.8 1132.3L111.9 1133.0L111.0 1132.1L110.1 1132.4L109.2 1132.0L108.3 1132.6L107.4 1133.0L106.5 1132.4L105.6 1133.3L104.7 1132.2L103.8 1133.0L102.9 1133.3L102.0 1132.8L101.1 1133.0L100.2 1133.3L99.3 1133.2L98.4 1132.2L97.5 1133.1L96.6 1132.2L95.7 1132.9L94.8 1133.3L93.9 1132.1L93.0 1132.4L92.1 1132.5L91.2 1132.3L90.3 1133.1L89.4 1132.0L88.5 1133.2L87.6 1133.1L86.7 1133.3L85.8 1133.1L84.9 1133.0L84.0 1132.8L83.1 1133.2L82.2 1131.9L81.3 1133.0L80.4 1132.2L79.5 1132.0L78.6 1132.5L77.7 1132.6L76.8 1131.9L75.9 1133.2L75.0 1132.5L74.1 1132.0L73.2 1132.2L72.3 1132.5L71.4 1132.7L70.5 1132.0Z" fill="#000" stroke="#000" stroke-width="0.6" stroke-linejoin="round"/>
<path d="M320.0 1130.7L320.9 1131.3L321.8 1130.6L322.7 1131.6L323.6 1131.5L324.5 1130.7L325.4 1131.2L326.3 1131.2L327.2 1130.6L328.1 1130.6L329.0 1131.3L329.9 1130.8L330.8 1130.6L331.7 1130.8L332.6 1130.6L333.5 1130.8L334.4 1131.3L335.3 1130.7L336.2 1131.1L337.1 1131.0L338.0 1130.9L338.9 1130.8L339.8 1130.5L340.7 1131.1L341.6 1130.8L342.5 1130.7L343.4 1130.9L344.3 1131.5L345.2 1131.4L346.1 1130.7L347.0 1130.6L347.9 1131.5L348.8 1131.3L349.7 1131.4L350.6 1130.7L351.5 1130.7L352.4 1130.6L353.3 1131.0L354.2 1130.9L355.1 1130.5L356.0 1130.9L356.9 1131.2L357.8 1131.1L358.7 1130.8L359.6 1130.9L360.5 1131.3L361.4 1130.5L362.3 1130.7L363.2 1131.0L364.1 1131.2L365.0 1130.5L365.9 1130.9L366.8 1130.7L367.7 1131.4L368.6 1130.6L369.5 1130.8L370.4 1131.0L371.3 1130.8L372.2 1131.0L373.1 1131.3L374.0 1130.7L374.9 1130.8L375.8 1131.3L376.7 1130.6L377.6 1131.1L378.5 1131.0L379.4 1130.9L380.3 1130.7L381.2 1131.2L382.1 1131.2L383.0 1130.7L383.9 1131.1L384.8 1130.4L385.7 1130.5L386.6 1130.5L387.5 1130.7L388.4 1131.2L389.3 1130.7L390.2 1130.9L391.1 1131.0L392.0 1131.1L392.9 1130.4L393.8 1130.9L394.7 1130.5L395.6 1131.1L396.5 1130.5L397.4 1131.3L398.3 1130.6L399.2 1131.3L400.1 1130.5L401.0 1131.3L401.9 1131.3L402.8 1130.8L403.7 1130.4L404.6 1130.4L405.5 1131.0L406.4 1131.1L407.3 1131.1L408.2 1130.6L409.1 1130.4L410.0 1130.9L410.9 1131.2L411.8 1131.1L412.7 1130.4L413.6 1130.7L414.5 1130.8L415.4 1130.4L416.3 1130.6L417.2 1131.2L418.1 1130.6L419.0 1130.4L419.9 1130.7L420.8 1130.4L421.7 1130.4L422.6 1131.1L423.5 1130.8L424.4 1130.4L425.3 1130.8L426.2 1130.6L427.1 1131.0L428.0 1130.3L428.9 1130.6L429.8 1130.4L430.7 1130.9L431.6 1130.5L432.5 1131.1L433.4 1131.2L434.3 1130.4L435.2 1130.9L436.1 1130.5L437.0 1130.6L437.9 1130.3L438.8 1130.3L439.7 1130.3L440.6 1130.9L441.5 1130.3L442.4 1130.3L443.3 1130.9L444.2 1130.5L445.1 1131.0L446.0 1130.7L446.9 1131.1L447.8 1130.9L448.7 1130.3L449.6 1130.2L450.5 1130.3L451.4 1130.4L452.3 1130.9L453.2 1130.5L454.1 1131.2L455.0 1130.6L455.9 1131.1L456.8 1131.0L457.7 1130.9L458.6 1130.4L459.5 1130.5L460.4 1130.6L461.3 1131.1L461.7 1133.6L460.8 1133.8L459.9 1134.2L459.0 1134.2L458.1 1134.2L457.2 1134.1L456.3 1133.7L455.4 1134.0L454.5 1133.9L453.6 1133.5L452.7 1133.8L451.8 1134.1L450.9 1133.9L450.0 1133.7L449.1 1133.6L448.2 1133.5L447.3 1133.4L446.4 1134.1L445.5 1133.8L444.6 1133.5L443.7 1134.2L442.8 1134.3L441.9 1134.3L441.0 1133.5L440.1 1134.2L439.2 1134.0L438.3 1133.9L437.4 1133.8L436.5 1133.8L435.6 1133.7L434.7 1133.4L433.8 1134.3L432.9 1134.3L432.0 1134.3L431.1 1134.2L430.2 1133.6L429.3 1133.6L428.4 1134.3L427.5 1134.1L426.6 1134.2L425.7 1134.1L424.8 1134.2L423.9 1134.1L423.0 1134.2L422.1 1133.3L421.2 1134.1L420.3 1134.1L419.4 1134.1L418.5 1134.1L417.6 1134.2L416.7 1134.2L415.8 1134.2L414.9 1134.0L414.0 1133.9L413.1 1133.5L412.2 1134.0L411.3 1133.9L410.4 1134.2L409.5 1133.8L408.6 1133.6L407.7 1134.3L406.8 1133.9L405.9 1133.7L405.0 1134.0L404.1 1134.0L403.2 1133.4L402.3 1133.8L401.4 1134.3L400.5 1133.8L399.6 1133.9L398.7 1133.9L397.8 1134.2L396.9 1133.4L396.0 1134.2L395.1 1133.5L394.2 1133.5L393.3 1133.3L392.4 1134.1L391.5 1133.8L390.6 1133.6L389.7 1133.9L388.8 1134.1L387.9 1134.2L387.0 1133.3L386.1 1134.0L385.2 1133.5L384.3 1133.6L383.4 1133.8L382.5 1134.0L381.6 1133.8L380.7 1134.2L379.8 1133.6L378.9 1133.6L378.0 1133.4L377.1 1133.8L376.2 1134.2L375.3 1133.3L374.4 1134.1L373.5 1133.7L372.6 1133.4L371.7 1134.0L370.8 1133.8L369.9 1133.8L369.0 1134.0L368.1 1133.6L367.2 1134.2L366.3 1133.7L365.4 1134.2L364.5 1134.1L363.6 1133.3L362.7 1133.8L361.8 1133.8L360.9 1134.2L360.0 1134.2L359.1 1134.0L358.2 1133.7L357.3 1134.0L356.4 1133.8L355.5 1133.2L354.6 1134.2L353.7 1133.4L352.8 1134.0L351.9 1134.2L351.0 1133.3L350.1 1134.1L349.2 1133.8L348.3 1133.8L347.4 1133.8L346.5 1134.2L345.6 1134.2L344.7 1134.1L343.8 1134.1L342.9 1134.2L342.0 1134.1L341.1 1134.1L340.2 1134.1L339.3 1133.9L338.4 1133.7L337.5 1134.1L336.6 1133.9L335.7 1133.6L334.8 1133.9L333.9 1133.7L333.0 1133.8L332.1 1134.2L331.2 1134.2L330.3 1133.4L329.4 1133.3L328.5 1134.2L327.6 1133.8L326.7 1134.0L325.8 1134.1L324.9 1133.7L324.0 1134.2L323.1 1134.0L322.2 1134.1L321.3 1133.6L320.4 1134.0Z" fill="#000" stroke="#000" stroke-width="0.6" stroke-linejoin="round"/>
<path d="M710.3 1128.0L710.6 1074.5L712.6 1074.5L715.4 1128.0Z" fill="#000" stroke="#000" stroke-width="0.3" stroke-linejoin="round"/>
<path d="M792.3 1122.2L792.3 1146.4L760.1 1146.4" fill="none" stroke="#000" stroke-width="1.6" stroke-linejoin="miter" stroke-linecap="butt"/>
<text class="r" transform="translate(794.71 1138.10) scale(1.0004 1)" font-size="21" stroke="#000" stroke-width="0.35">0.2nA</text>
<text class="r" transform="translate(756.78 1165.80) scale(0.9908 1)" font-size="21" stroke="#000" stroke-width="0.35">10ms</text>
<text stroke="#000" stroke-width="1.1" vector-effect="non-scaling-stroke" class="h" transform="translate(842.04 923.05) scale(0.2933 0.2589)" font-size="100" font-weight="bold">I</text>
<path d="M917.6 924.5V1147.1H1067.0M907.1 925.7H917.6M907.1 981.6H917.6M907.1 1036.8H917.6M907.1 1091.9H917.6M907.1 1147.1H917.6" stroke="#000" stroke-width="2.9" fill="none" stroke-linejoin="miter" stroke-linecap="butt"/>
<path d="M959.3 1147V1157.1M1022.7 1147V1157.1" stroke="#000" stroke-width="2.8"/>
<text class="s" transform="translate(881.58 932.00) scale(1.0200 1)" font-size="17.0" font-weight="bold" stroke="#000" stroke-width="0.4">0.4</text>
<text class="s" transform="translate(882.10 987.90) scale(1.0200 1)" font-size="17.0" font-weight="bold" stroke="#000" stroke-width="0.4">0.3</text>
<text class="s" transform="translate(882.19 1043.10) scale(1.0200 1)" font-size="17.0" font-weight="bold" stroke="#000" stroke-width="0.4">0.2</text>
<text class="s" transform="translate(881.97 1098.20) scale(1.0200 1)" font-size="17.0" font-weight="bold" stroke="#000" stroke-width="0.4">0.1</text>
<text class="s" transform="translate(882.19 1153.40) scale(1.0200 1)" font-size="17.0" font-weight="bold" stroke="#000" stroke-width="0.4">0.0</text>
<text class="s" font-size="19.3" font-weight="bold" stroke="#000" stroke-width="0.4" transform="translate(873.40 1104.62) rotate(-90) scale(0.9389 1)">Current density</text>
<path d="M959.6 1002.5V937.9M949.2 937.9H970.0M959.6 1132.2V1137.5M949.2 1137.5H970.0" stroke="#000" stroke-width="3.5" fill="none" stroke-linecap="round"/>
<rect x="940.0" y="1003.4" width="39.1" height="127.9" fill="#8f8f8f" stroke="#000" stroke-width="3.8"/>
<path d="M937.2 1094.8H981.9" stroke="#000" stroke-width="3.5" stroke-linecap="round"/>
<path d="M1022.7 1016.6V976.3M1012.8 976.3H1032.6M1022.7 1129.8V1133.9M1012.8 1133.9H1032.6" stroke="#000" stroke-width="3.5" fill="none" stroke-linecap="round"/>
<rect x="1003.1" y="1017.5" width="38.8" height="111.4" fill="#fff" stroke="#000" stroke-width="3.8"/>
<path d="M1000.3 1078.7H1044.7" stroke="#000" stroke-width="3.5" stroke-linecap="round"/>
<text class="s" transform="translate(1017.48 958.16) scale(0.9400 1)" font-size="28.46" font-weight="bold" stroke="#000" stroke-width="0.4">*</text>
<text class="s" transform="translate(946.76 1174.00) scale(0.9461 1)" font-size="17.2" font-weight="bold" stroke="#000" stroke-width="0.4">WT</text>
<text class="s" transform="translate(983.77 1174.00) scale(0.9767 1)" font-size="17.2" font-weight="bold" stroke="#000" stroke-width="0.4">Btbd9 KO</text>
<text stroke="#000" stroke-width="2.2" vector-effect="non-scaling-stroke" class="s" transform="translate(5.22 1246.94) scale(0.3175 0.2638)" font-size="100" font-weight="bold">J</text>
<text class="s" transform="translate(70.26 1302.10) scale(1.0796 1)" font-size="21.5" stroke="#000" stroke-width="0.35">-50mV</text>
<text class="s" transform="translate(177.78 1273.10) scale(1.0724 1)" font-size="21.5" stroke="#000" stroke-width="0.35">0mV</text>
<path d="M155.9 1301.3L178.2 1301.3L178.2 1280.3L234.1 1280.3L234.1 1301.3L404.6 1301.3" fill="none" stroke="#000" stroke-width="1.8" stroke-linejoin="miter" stroke-linecap="butt"/>
<text class="s" transform="translate(72.07 1475.10) scale(1.0620 1)" font-size="21.5" stroke="#000" stroke-width="0.35">-50mV</text>
<path d="M155.9 1469.4L156.6 1469.5L157.3 1469.5L158 1469.9L158.7 1470.1L159.4 1469.8L160.1 1468.6L160.8 1469.7L161.5 1469.2L162.2 1470L162.9 1469L163.6 1470.2L164.3 1469.2L165 1469.1L165.7 1469.6L166.4 1469.6L167.1 1469.6L167.8 1470.4L168.5 1469.5L169.2 1470.1L169.9 1469.3L170.6 1469.7L171.3 1469.8L172 1469.1L172.7 1469.3L173.4 1470L174.1 1469.1L174.8 1470.3L175.5 1470.2L176.4 1474.6L177.2 1450L177.6 1410L178.2 1385L179.5 1375.1L181 1378L184 1386.5L187.2 1394.4L192 1402.5L197.4 1409.7L200 1414.5L201.3 1420L202.2 1440L203.1 1466.7L203.7 1440L204.3 1410L205.1 1396.9L206.4 1392L209 1386.7L211 1381.5L212.8 1377.7L215 1375.8L217.9 1375.1L218.6 1376L219.4 1375.4L220.2 1375.5L221 1375.7L221.8 1375.7L222.6 1376.1L223.4 1376.7L224.2 1376.2L225 1375.8L225.8 1375.7L226.6 1376.1L227.4 1376.2L228.2 1376.4L229 1376.9L230.6 1376.2L231.5 1372.8L232 1400L232.6 1450L233.3 1475.1L234.2 1474.5L235 1470.6L235.8 1468.4L236.6 1466.9L237.4 1466.4L238.2 1465.7L239 1464.4L239.8 1463.2L240.6 1463.8L241.4 1462.8L242.2 1463.2L243 1462.4L243.8 1462.3L244.6 1461L245.4 1460.6L246.2 1461.3L247 1460.6L247.8 1460.8L248.6 1461.1L249.4 1461L250.2 1461.5L251 1460.9L251.8 1460.5L252.6 1460.3L253.4 1460.7L254.2 1461.8L255 1461.3L255.8 1462.4L256.6 1461.5L257.4 1461.6L258.2 1461.2L259 1462.3L259.8 1460.8L260.6 1461.4L261.4 1461.2L262.2 1462L263 1462.3L263.8 1462.1L264.6 1462.4L265.4 1462.2L266.2 1461.8L267 1462.7L267.8 1462L268.6 1462L269.4 1463.2L270.2 1462.3L271 1462.4L271.8 1463.4L272.6 1462.7L273.4 1463.7L274.2 1463.7L275 1462.9L275.8 1462.6L276.6 1462.7L277.4 1463.7L278.2 1463.3L279 1462.9L279.8 1463.3L280.6 1463.4L281.4 1463.6L282.2 1464.1L283 1463.7L283.8 1462.5L284.6 1462.8L285.4 1464L286.2 1464.4L287 1463.9L287.8 1464.6L288.6 1464.2L289.4 1464L290.2 1463.8L291 1463.7L291.8 1464.4L292.6 1464.5L293.4 1464.7L294.2 1465.7L295 1465.2L295.8 1464.9L296.6 1464.4L297.4 1465.3L298.2 1464.7L299 1465.5L299.8 1465.4L300.6 1465.1L301.4 1465.7L302.2 1465L303 1465.6L303.8 1464.7L304.6 1465.6L305.4 1464.5L306.2 1466.1L307 1466.1L307.8 1465.7L308.6 1464.8L309.4 1465.3L310.2 1465.9L311 1465.2L311.8 1465.4L312.6 1465.7L313.4 1465.4L314.2 1466L315 1465.2L315.8 1465.9L316.6 1465.6L317.4 1466.6L318.2 1465.8L319 1466.8L319.8 1465.2L320.6 1466.6L321.4 1467.2L322.2 1465.9L323 1467.1L323.8 1466.6L324.6 1466.8L325.4 1466.7L326.2 1466.2L327 1465.9L327.8 1466.3L328.6 1467.4L329.4 1467.2L330.2 1467.7L331 1466.9L331.8 1467.2L332.6 1466.8L333.4 1466.8L334.2 1466.3L335 1467.8L335.8 1466.5L336.6 1467.7L337.4 1466.4L338.2 1467.2L339 1467.3L339.8 1467.4L340.6 1468.3L341.4 1467.1L342.2 1467L343 1468.2L343.8 1467.1L344.6 1466.6L345.4 1466.6L346.2 1468L347 1467.5L347.8 1467.6L348.6 1468.3L349.4 1467.6L350.2 1467.3L351 1468L351.8 1467.1L352.6 1467L353.4 1467.7L354.2 1466.3L355 1467L355.8 1467.3L356.6 1468.2L357.4 1467.9L358.2 1467.2L359 1467.3L359.8 1468L360.6 1468.5L361.4 1467.3L362.2 1467.6L363 1467.4L363.8 1466.7L364.6 1468.1L365.4 1467.6L366.2 1468.9L367 1467.7L367.8 1468.4L368.6 1468.4L369.4 1468.7L370.2 1468.2L371 1468.2L371.8 1467.7L372.6 1467.9L373.4 1468.6L374.2 1466.9L375 1468.1L375.8 1467.7L376.6 1467.7L377.4 1468L378.2 1468.5L379 1468.5L379.8 1468.2L380.6 1468.1L381.4 1467.7L382.2 1468.3L383 1468.5L383.8 1468.6L384.6 1468.7L385.4 1468.6L386.2 1468.1L387 1468.6L387.8 1469.4L388.6 1469L389.4 1468.6L390.2 1469L391 1469.3L391.8 1467.5L392.6 1468.9L393.4 1469L394.2 1468L395 1467.5L395.8 1469.3L396.6 1469.6L397.4 1468.9L398.2 1468.3L399 1468.8L399.8 1469.1L400.6 1469.1L401.4 1468.7L402.2 1469.3L403 1469.1L403.8 1468.2L404.6 1469.1" fill="none" stroke="#000" stroke-width="2.2" stroke-linejoin="round" stroke-linecap="butt"/>
<path d="M429.7 1342.3L429.7 1380.3L375.6 1380.3" fill="none" stroke="#000" stroke-width="1.8" stroke-linejoin="miter" stroke-linecap="butt"/>
<text class="s" transform="translate(437.42 1372.60) scale(0.9927 1)" font-size="21.5" stroke="#000" stroke-width="0.35">40pA</text>
<text class="s" transform="translate(371.69 1406.70) scale(1.0558 1)" font-size="21.5" stroke="#000" stroke-width="0.35">50ms</text>
<text stroke="#000" stroke-width="1.1" vector-effect="non-scaling-stroke" class="h" transform="translate(544.64 1247.65) scale(0.2933 0.2589)" font-size="100" font-weight="bold">K</text>
<text class="s" transform="translate(591.56 1472.60) scale(1.0700 1)" font-size="21.5" stroke="#000" stroke-width="0.35">-50mV</text>
<line x1="666.9" y1="1466.7" x2="698.2" y2="1466.7" stroke="#000" stroke-width="2.0"/>
<line x1="702.8" y1="1467.2" x2="933" y2="1467.2" stroke="#000" stroke-width="2.0" stroke-dasharray="15.6 6.9"/>
<path d="M697.4 1466.5L697.8 1455.8L698.2 1445.1L698.5 1434.9L698.9 1425.1L699.3 1415.5L699.7 1406.6L700.1 1397.7L700.4 1388.7L700.8 1379.8L701.2 1371.8L701.6 1363.8L702.0 1355.8L702.3 1347.8L702.7 1339.7L703.1 1334.3L703.5 1329.6L703.9 1325.0L704.3 1320.4L704.6 1315.7L705.0 1312.9L705.4 1310.1L705.8 1307.3L706.2 1304.5L706.5 1301.7L706.9 1299.5L707.3 1297.2L710.3 1297.8L709.9 1300.0L709.5 1302.3L709.0 1305.1L708.6 1307.9L708.2 1310.7L707.8 1313.5L707.4 1316.3L706.9 1320.9L706.5 1325.5L706.1 1330.2L705.7 1334.8L705.3 1340.3L704.8 1348.3L704.4 1356.2L704.0 1364.2L703.6 1372.2L703.2 1380.2L702.8 1389.2L702.3 1398.1L701.9 1407.0L701.5 1416.0L701.1 1425.5L700.7 1435.3L700.2 1445.5L699.8 1456.2L699.4 1466.9Z" fill="#000" stroke="#000" stroke-width="0.5"/>
<path d="M708.5 1297.1L709.8 1290.4L711.1 1287.6L712.4 1287.8L713.7 1287.7L715.0 1287.6L716.3 1287.6L717.6 1288.8L718.9 1292.0L720.2 1295.9L721.5 1302.9L722.8 1307.9L724.1 1311.0L725.4 1314.8L726.7 1318.5L728.0 1321.3L729.3 1326.6L730.6 1331.2L731.9 1335.6L733.2 1340.8L734.5 1346.0L735.8 1352.4L737.1 1356.0L738.4 1360.0L739.7 1363.5L741.0 1369.0L742.3 1372.3L743.6 1374.6L744.9 1377.6L746.2 1380.2L747.5 1381.7L748.8 1387.3L750.1 1387.4L751.4 1391.2L752.7 1393.6L754.0 1396.8L755.3 1397.1L756.6 1395.6L757.9 1399.0L759.2 1399.1L760.5 1402.2L761.8 1399.4L763.1 1402.2L764.4 1402.5L765.7 1402.5L767.0 1405.9L768.3 1407.8L769.6 1405.7L770.9 1408.2L772.2 1409.3L773.5 1409.8L774.8 1411.4L776.1 1412.8L777.4 1411.9L778.7 1415.1L780.0 1415.8L781.3 1413.7L782.6 1418.7L783.9 1417.3L785.2 1418.3L786.5 1419.5L787.8 1418.5L789.1 1422.4L790.4 1424.9L791.7 1423.3L793.0 1422.7L794.3 1424.6L795.6 1425.4L796.9 1427.9L798.2 1426.9L799.5 1425.9L800.8 1426.9L802.1 1430.7L803.4 1431.1L804.7 1429.6L806.0 1432.1L807.3 1432.2L808.6 1428.9L809.9 1430.6L811.2 1431.6L812.5 1430.4L813.8 1430.4L815.1 1433.8L816.4 1435.2L817.7 1434.8L819.0 1435.5L820.3 1434.8L821.6 1433.3L822.9 1435.3L824.2 1436.7L825.5 1433.9L826.8 1436.2L828.1 1435.7L829.4 1435.4L830.7 1438.1L832.0 1435.1L833.3 1435.6L834.6 1436.6L835.9 1436.2L837.2 1434.7L838.5 1438.6L839.8 1435.9L841.1 1435.4L842.4 1437.3L843.7 1439.1L845.0 1436.3L846.3 1437.7L847.6 1439.7L848.9 1438.0L850.2 1440.4L851.5 1436.6L852.8 1438.7L854.1 1437.9L855.4 1436.6L856.7 1441.6L858.0 1437.6L859.3 1439.1L860.6 1437.5L861.9 1441.0L863.2 1441.8L864.5 1441.4L865.8 1437.8L867.1 1442.3L868.4 1442.2L869.7 1442.0L871.0 1441.7L872.3 1439.3L873.6 1439.5L874.9 1440.2L876.2 1442.2L877.5 1440.6L878.8 1444.0L880.1 1443.6L881.4 1442.5L882.7 1442.4L884.0 1443.4L885.3 1443.9L886.6 1441.4L887.9 1443.6L889.2 1441.7L890.5 1442.4L891.8 1441.9L893.1 1440.3L894.4 1442.3L895.7 1441.7L897.0 1441.6L898.3 1441.2L899.6 1441.5L900.9 1442.6L902.2 1439.1L903.5 1440.7L904.8 1440.8L906.1 1438.8L907.4 1440.8L908.7 1437.5L910.0 1437.7L911.3 1436.4L912.6 1437.4L913.9 1437.4L915.2 1442.4L916.5 1438.9L917.8 1442.7L919.1 1443.9L920.4 1442.5L921.7 1442.7L923.0 1443.2L924.3 1443.4L925.6 1445.6L926.9 1446.6L928.2 1445.7L929.5 1448.4L930.8 1446.5L932.1 1447.7L933.4 1449.7L934.0 1456.9L932.7 1457.1L931.4 1458.2L930.1 1456.3L928.8 1458.0L927.5 1457.9L926.2 1454.7L924.9 1456.5L923.6 1453.4L922.3 1456.7L921.0 1456.6L919.7 1453.4L918.4 1451.6L917.1 1455.5L915.8 1454.7L914.5 1453.5L913.2 1452.5L911.9 1451.8L910.6 1451.1L909.3 1451.1L908.0 1452.9L906.7 1450.7L905.4 1453.2L904.1 1453.7L902.8 1451.3L901.5 1451.9L900.2 1453.5L898.9 1451.7L897.6 1454.9L896.3 1455.5L895.0 1455.0L893.7 1454.3L892.4 1452.4L891.1 1456.7L889.8 1454.7L888.5 1454.0L887.2 1454.5L885.9 1456.4L884.6 1454.5L883.3 1456.0L882.0 1452.5L880.7 1455.6L879.4 1452.4L878.1 1454.0L876.8 1456.4L875.5 1452.4L874.2 1453.8L872.9 1456.0L871.6 1451.8L870.3 1451.7L869.0 1455.4L867.7 1452.9L866.4 1453.6L865.1 1455.0L863.8 1451.4L862.5 1451.8L861.2 1452.3L859.9 1451.9L858.6 1450.6L857.3 1454.8L856.0 1453.8L854.7 1454.1L853.4 1454.5L852.1 1452.6L850.8 1450.2L849.5 1449.6L848.2 1452.0L846.9 1453.4L845.6 1453.1L844.3 1451.9L843.0 1453.5L841.7 1449.2L840.4 1448.4L839.1 1448.3L837.8 1450.7L836.5 1448.9L835.2 1450.4L833.9 1451.5L832.6 1448.8L831.3 1448.9L830.0 1450.0L828.7 1448.1L827.4 1447.7L826.1 1450.7L824.8 1448.5L823.5 1450.3L822.2 1448.2L820.9 1444.9L819.6 1446.4L818.3 1444.4L817.0 1444.0L815.7 1445.1L814.4 1444.2L813.1 1443.0L811.8 1444.5L810.5 1443.2L809.2 1442.2L807.9 1441.7L806.6 1441.8L805.3 1445.4L804.0 1445.0L802.7 1441.7L801.4 1441.6L800.1 1438.7L798.8 1437.7L797.5 1437.5L796.2 1437.4L794.9 1439.5L793.6 1437.8L792.3 1437.2L791.0 1437.7L789.7 1437.0L788.4 1435.7L787.1 1430.7L785.8 1434.3L784.5 1430.8L783.2 1428.7L781.9 1428.7L780.6 1427.0L779.3 1428.5L778.0 1426.4L776.7 1426.0L775.4 1421.6L774.1 1421.2L772.8 1419.4L771.5 1419.4L770.2 1419.9L768.9 1416.0L767.6 1415.0L766.3 1414.2L765.0 1413.3L763.7 1412.7L762.4 1412.1L761.1 1411.2L759.8 1409.9L758.5 1408.5L757.2 1406.2L755.9 1405.7L754.6 1404.5L753.3 1404.4L752.0 1399.1L750.7 1397.9L749.4 1395.0L748.1 1393.3L746.8 1387.3L745.5 1386.8L744.2 1383.6L742.9 1378.2L741.6 1374.8L740.3 1370.6L739.0 1368.3L737.7 1361.5L736.4 1359.0L735.1 1353.0L733.8 1348.4L732.5 1343.5L731.2 1340.1L729.9 1334.1L728.6 1328.6L727.3 1327.3L726.0 1321.3L724.7 1319.4L723.4 1314.6L722.1 1310.2L720.8 1305.8L719.5 1299.2L718.2 1296.8L716.9 1293.5L715.6 1294.1L714.3 1295.4L713.0 1293.5L711.7 1292.8L710.4 1295.5L709.1 1300.7Z" fill="#000" stroke="#000" stroke-width="1.3" stroke-linejoin="miter"/>
<path d="M697.5 1466.5L697.8 1463.2L698.2 1459.9L698.6 1456.6L699.0 1453.7L699.4 1450.9L699.7 1448.2L700.1 1446.0L700.5 1443.8L700.9 1441.6L701.3 1439.4L701.6 1437.3L702.0 1435.4L702.4 1433.6L702.8 1431.7L703.2 1429.9L703.5 1428.0L703.9 1426.2L704.3 1424.3L704.7 1422.5L705.1 1420.6L705.5 1419.3L705.8 1418.4L706.2 1417.4L706.6 1416.5L709.6 1417.1L709.2 1418.0L708.8 1418.9L708.3 1419.8L707.9 1421.2L707.5 1423.1L707.1 1424.9L706.7 1426.7L706.2 1428.6L705.8 1430.4L705.4 1432.3L705.0 1434.1L704.6 1435.9L704.2 1437.8L703.7 1439.9L703.3 1442.1L702.9 1444.3L702.5 1446.5L702.1 1448.7L701.6 1451.3L701.2 1454.1L700.8 1457.0L700.4 1460.3L700.0 1463.6L699.5 1466.9Z" fill="#6f6f6f" stroke="#6f6f6f" stroke-width="0.5"/>
<path d="M708.0 1415.7L709.3 1411.9L710.6 1409.3L711.9 1406.6L713.2 1405.4L714.5 1404.4L715.8 1402.5L717.1 1404.1L718.4 1403.9L719.7 1404.0L721.0 1404.5L722.3 1404.9L723.6 1406.0L724.9 1406.2L726.2 1406.4L727.5 1407.1L728.8 1406.2L730.1 1407.8L731.4 1407.4L732.7 1409.8L734.0 1411.1L735.3 1410.0L736.6 1411.1L737.9 1412.6L739.2 1412.8L740.5 1413.6L741.8 1414.6L743.1 1414.6L744.4 1415.8L745.7 1416.0L747.0 1416.8L748.3 1418.7L749.6 1417.4L750.9 1418.7L752.2 1419.1L753.5 1419.2L754.8 1420.7L756.1 1420.9L757.4 1422.1L758.7 1423.3L760.0 1424.7L761.3 1425.1L762.6 1426.2L763.9 1426.2L765.2 1426.0L766.5 1425.5L767.8 1427.3L769.1 1426.9L770.4 1428.7L771.7 1429.3L773.0 1431.7L774.3 1430.2L775.6 1432.9L776.9 1432.6L778.2 1433.3L779.5 1433.1L780.8 1435.6L782.1 1436.9L783.4 1435.7L784.7 1436.7L786.0 1438.5L787.3 1438.6L788.6 1436.0L789.9 1439.5L791.2 1440.4L792.5 1439.1L793.8 1438.3L795.1 1439.1L796.4 1442.4L797.7 1440.5L799.0 1441.8L800.3 1440.1L801.6 1441.4L802.9 1443.0L804.2 1443.1L805.5 1441.4L806.8 1442.6L808.1 1445.7L809.4 1445.0L810.7 1446.3L812.0 1443.4L813.3 1444.4L814.6 1445.0L815.9 1444.5L817.2 1445.6L818.5 1448.1L819.8 1448.4L821.1 1447.3L822.4 1448.2L823.7 1448.6L825.0 1448.3L826.3 1446.6L827.6 1447.1L828.9 1449.7L830.2 1450.0L831.5 1448.9L832.8 1450.2L834.1 1450.7L835.4 1451.3L836.7 1452.3L838.0 1452.4L839.3 1451.0L840.6 1452.1L841.9 1451.2L843.2 1452.4L844.5 1451.3L845.8 1450.0L847.1 1453.5L848.4 1451.9L849.7 1452.4L851.0 1452.0L852.3 1451.9L853.6 1450.7L854.9 1454.1L856.2 1451.4L857.5 1452.0L858.8 1451.8L860.1 1451.1L861.4 1454.1L862.7 1453.5L864.0 1451.2L865.3 1451.8L866.6 1452.1L867.9 1454.6L869.2 1451.3L870.5 1454.2L871.8 1454.9L873.1 1452.1L874.4 1453.0L875.7 1453.8L877.0 1455.0L878.3 1454.7L879.6 1454.6L880.9 1454.8L882.2 1454.9L883.5 1453.4L884.8 1453.6L886.1 1453.4L887.4 1453.9L888.7 1453.3L890.0 1453.2L891.3 1453.6L892.6 1454.4L893.9 1454.1L895.2 1456.0L896.5 1452.9L897.8 1454.6L899.1 1453.7L900.4 1454.6L901.7 1456.0L903.0 1454.8L904.3 1456.2L905.6 1454.0L906.9 1457.1L908.2 1457.2L909.5 1455.2L910.8 1453.9L912.1 1456.9L913.4 1457.5L914.7 1454.2L916.0 1456.1L917.3 1454.5L918.6 1457.2L919.9 1455.4L921.2 1456.6L922.5 1455.2L923.8 1456.5L925.1 1456.3L926.4 1455.4L927.7 1456.4L929.0 1457.8L930.3 1458.4L931.6 1457.9L932.9 1458.2L933.5 1467.7L932.2 1465.2L930.9 1466.7L929.6 1468.3L928.3 1467.0L927.0 1464.7L925.7 1467.3L924.4 1464.7L923.1 1464.6L921.8 1466.8L920.5 1465.6L919.2 1465.9L917.9 1464.0L916.6 1464.1L915.3 1466.0L914.0 1465.8L912.7 1464.6L911.4 1463.6L910.1 1464.0L908.8 1463.4L907.5 1466.0L906.2 1464.5L904.9 1464.2L903.6 1464.5L902.3 1464.0L901.0 1464.7L899.7 1463.9L898.4 1463.0L897.1 1466.1L895.8 1465.1L894.5 1466.0L893.2 1464.3L891.9 1462.2L890.6 1465.6L889.3 1464.8L888.0 1462.0L886.7 1463.8L885.4 1463.5L884.1 1462.6L882.8 1464.0L881.5 1463.2L880.2 1463.9L878.9 1463.4L877.6 1464.0L876.3 1462.8L875.0 1463.9L873.7 1463.0L872.4 1461.4L871.1 1464.1L869.8 1461.3L868.5 1463.5L867.2 1463.0L865.9 1463.3L864.6 1463.4L863.3 1463.8L862.0 1462.6L860.7 1462.6L859.4 1463.6L858.1 1461.2L856.8 1461.2L855.5 1462.0L854.2 1462.0L852.9 1463.0L851.6 1462.1L850.3 1462.2L849.0 1463.5L847.7 1463.3L846.4 1460.8L845.1 1463.0L843.8 1461.4L842.5 1461.6L841.2 1463.0L839.9 1462.4L838.6 1459.2L837.3 1462.3L836.0 1461.7L834.7 1460.1L833.4 1459.1L832.1 1459.3L830.8 1458.1L829.5 1459.4L828.2 1457.9L826.9 1460.1L825.6 1456.6L824.3 1457.6L823.0 1458.1L821.7 1458.3L820.4 1457.7L819.1 1456.5L817.8 1458.0L816.5 1454.5L815.2 1456.8L813.9 1456.7L812.6 1455.9L811.3 1454.7L810.0 1454.9L808.7 1455.1L807.4 1454.1L806.1 1452.2L804.8 1451.5L803.5 1450.9L802.2 1451.1L800.9 1450.8L799.6 1452.4L798.3 1451.8L797.0 1449.8L795.7 1449.4L794.4 1448.7L793.1 1450.0L791.8 1448.5L790.5 1446.1L789.2 1446.1L787.9 1448.3L786.6 1447.7L785.3 1445.3L784.0 1443.6L782.7 1444.8L781.4 1443.9L780.1 1442.8L778.8 1442.3L777.5 1439.8L776.2 1441.1L774.9 1440.2L773.6 1439.6L772.3 1437.4L771.0 1435.5L769.7 1436.6L768.4 1434.6L767.1 1433.5L765.8 1433.1L764.5 1431.9L763.2 1433.9L761.9 1431.6L760.6 1431.9L759.3 1429.2L758.0 1429.5L756.7 1430.8L755.4 1428.7L754.1 1429.0L752.8 1428.0L751.5 1426.0L750.2 1426.4L748.9 1424.5L747.6 1425.3L746.3 1422.8L745.0 1422.4L743.7 1423.6L742.4 1422.9L741.1 1421.9L739.8 1420.2L738.5 1418.0L737.2 1418.8L735.9 1417.7L734.6 1416.3L733.3 1415.0L732.0 1415.2L730.7 1414.1L729.4 1412.9L728.1 1413.0L726.8 1411.7L725.5 1412.0L724.2 1410.4L722.9 1411.3L721.6 1409.4L720.3 1410.4L719.0 1408.3L717.7 1409.7L716.4 1407.7L715.1 1409.6L713.8 1410.7L712.5 1410.5L711.2 1412.9L709.9 1416.9L708.6 1418.8Z" fill="#6f6f6f" stroke="#6f6f6f" stroke-width="1.3" stroke-linejoin="miter"/>
<path d="M910.9 1282.6L910.9 1314.4L874.7 1314.4" fill="none" stroke="#000" stroke-width="1.8" stroke-linejoin="miter" stroke-linecap="butt"/>
<text class="s" transform="translate(916.93 1307.30) scale(0.9924 1)" font-size="21.5" stroke="#000" stroke-width="0.35">20pA</text>
<text class="s" transform="translate(864.68 1337.60) scale(1.0676 1)" font-size="21.5" stroke="#000" stroke-width="0.35">50ms</text>
<text stroke="#000" stroke-width="1.1" vector-effect="non-scaling-stroke" class="h" transform="translate(5.38 1533.45) scale(0.2995 0.2589)" font-size="100" font-weight="bold">L</text>
<text class="s" transform="translate(15.66 1757.20) scale(1.0700 1)" font-size="21.5" stroke="#000" stroke-width="0.35">-50mV</text>
<line x1="92.3" y1="1752.3" x2="122.6" y2="1752.3" stroke="#000" stroke-width="2.0"/>
<line x1="129.5" y1="1752.6" x2="360.8" y2="1752.6" stroke="#000" stroke-width="2.0" stroke-dasharray="15.4 7.6"/>
<path d="M124.5 1752.1L124.9 1712.7L125.3 1684.3L125.7 1668.4L126.1 1656.7L126.5 1645.9L126.9 1638.0L127.3 1630.1L127.7 1622.2L128.0 1617.3L128.4 1612.4L128.8 1607.5L129.2 1603.0L129.6 1599.8L130.0 1596.6L130.4 1593.4L130.8 1590.2L131.1 1587.3L131.5 1585.1L131.9 1582.9L133.9 1583.3L133.5 1585.5L133.1 1587.6L132.6 1590.6L132.2 1593.8L131.8 1597.0L131.4 1600.2L131.0 1603.4L130.6 1607.9L130.2 1612.8L129.8 1617.7L129.3 1622.6L128.9 1630.4L128.5 1638.3L128.1 1646.2L127.7 1657.0L127.3 1668.7L126.9 1684.7L126.5 1713.1L126.0 1752.5Z" fill="#000" stroke="#000" stroke-width="0.5"/>
<path d="M132.5 1584.0L133.8 1575.5L135.1 1568.1L136.4 1563.1L137.7 1561.9L139.0 1560.8L140.3 1560.8L141.6 1560.8L142.9 1560.8L144.2 1560.8L145.5 1563.7L146.8 1570.5L148.1 1574.1L149.4 1581.9L150.7 1586.2L152.0 1589.7L153.3 1594.3L154.6 1597.9L155.9 1603.8L157.2 1609.2L158.5 1613.1L159.8 1616.9L161.1 1622.4L162.4 1627.8L163.7 1630.4L165.0 1635.4L166.3 1641.8L167.6 1646.2L168.9 1651.4L170.2 1656.2L171.5 1660.6L172.8 1664.6L174.1 1667.8L175.4 1671.3L176.7 1671.3L178.0 1676.2L179.3 1679.0L180.6 1682.5L181.9 1684.6L183.2 1688.2L184.5 1688.0L185.8 1691.7L187.1 1696.0L188.4 1697.0L189.7 1700.3L191.0 1701.0L192.3 1700.5L193.6 1702.2L194.9 1702.6L196.2 1703.7L197.5 1706.6L198.8 1707.4L200.1 1710.3L201.4 1712.5L202.7 1712.0L204.0 1714.3L205.3 1715.4L206.6 1716.0L207.9 1716.5L209.2 1716.4L210.5 1715.3L211.8 1720.3L213.1 1718.0L214.4 1719.8L215.7 1721.8L217.0 1723.2L218.3 1721.9L219.6 1725.5L220.9 1724.7L222.2 1725.8L223.5 1724.1L224.8 1724.0L226.1 1725.5L227.4 1726.1L228.7 1725.5L230.0 1725.3L231.3 1729.8L232.6 1726.1L233.9 1730.8L235.2 1729.5L236.5 1730.0L237.8 1727.2L239.1 1731.6L240.4 1729.6L241.7 1730.7L243.0 1733.5L244.3 1730.6L245.6 1734.3L246.9 1732.1L248.2 1733.2L249.5 1731.6L250.8 1734.6L252.1 1731.5L253.4 1735.2L254.7 1733.2L256.0 1734.9L257.3 1734.4L258.6 1733.9L259.9 1736.0L261.2 1735.3L262.5 1736.6L263.8 1733.5L265.1 1735.6L266.4 1737.1L267.7 1734.5L269.0 1736.9L270.3 1735.8L271.6 1734.5L272.9 1734.7L274.2 1736.2L275.5 1735.6L276.8 1737.4L278.1 1738.2L279.4 1738.4L280.7 1737.8L282.0 1735.5L283.3 1740.1L284.6 1738.7L285.9 1736.5L287.2 1737.3L288.5 1738.2L289.8 1741.0L291.1 1740.2L292.4 1739.4L293.7 1739.6L295.0 1741.6L296.3 1737.9L297.6 1739.7L298.9 1740.4L300.2 1740.7L301.5 1740.6L302.8 1739.9L304.1 1742.0L305.4 1741.6L306.7 1740.5L308.0 1742.2L309.3 1738.1L310.6 1741.5L311.9 1742.4L313.2 1738.3L314.5 1741.3L315.8 1742.0L317.1 1738.8L318.4 1741.2L319.7 1741.8L321.0 1739.4L322.3 1741.4L323.6 1740.2L324.9 1739.3L326.2 1741.1L327.5 1739.3L328.8 1741.6L330.1 1741.6L331.4 1742.4L332.7 1741.5L334.0 1742.9L335.3 1742.6L336.6 1742.2L337.9 1742.8L339.2 1740.0L340.5 1743.6L341.8 1739.4L343.1 1743.4L344.4 1739.7L345.7 1740.6L347.0 1743.3L348.3 1740.3L349.6 1743.8L350.9 1743.6L352.2 1740.1L353.5 1741.6L354.8 1742.5L356.1 1743.8L357.4 1740.1L358.7 1740.4L360.0 1743.6L360.7 1752.4L359.4 1752.4L358.1 1753.1L356.8 1754.2L355.5 1753.0L354.2 1752.2L352.9 1751.7L351.6 1754.1L350.3 1753.2L349.0 1753.6L347.7 1755.5L346.4 1755.5L345.1 1754.4L343.8 1753.2L342.5 1751.8L341.2 1752.6L339.9 1751.4L338.6 1753.2L337.3 1753.1L336.0 1753.0L334.7 1752.2L333.4 1753.0L332.1 1752.6L330.8 1751.7L329.5 1754.6L328.2 1751.2L326.9 1752.8L325.6 1750.6L324.3 1750.7L323.0 1751.7L321.7 1751.9L320.4 1751.6L319.1 1753.4L317.8 1752.8L316.5 1752.0L315.2 1752.2L313.9 1752.7L312.6 1750.6L311.3 1750.6L310.0 1753.6L308.7 1750.6L307.4 1754.0L306.1 1750.6L304.8 1751.3L303.5 1753.8L302.2 1753.6L300.9 1751.2L299.6 1750.5L298.3 1751.6L297.0 1750.2L295.7 1753.4L294.4 1750.7L293.1 1750.2L291.8 1749.3L290.5 1749.1L289.2 1753.4L287.9 1751.9L286.6 1750.9L285.3 1748.8L284.0 1749.2L282.7 1748.3L281.4 1750.3L280.1 1749.3L278.8 1748.2L277.5 1748.7L276.2 1752.1L274.9 1748.0L273.6 1750.5L272.3 1747.5L271.0 1747.4L269.7 1748.2L268.4 1748.5L267.1 1749.6L265.8 1748.5L264.5 1749.2L263.2 1748.8L261.9 1748.9L260.6 1746.6L259.3 1747.1L258.0 1745.9L256.7 1747.0L255.4 1747.3L254.1 1745.1L252.8 1747.9L251.5 1748.6L250.2 1748.7L248.9 1746.4L247.6 1744.4L246.3 1747.6L245.0 1743.6L243.7 1742.8L242.4 1742.3L241.1 1744.3L239.8 1744.7L238.5 1741.3L237.2 1740.4L235.9 1741.1L234.6 1740.2L233.3 1741.2L232.0 1743.2L230.7 1738.2L229.4 1739.6L228.1 1737.6L226.8 1738.0L225.5 1740.2L224.2 1738.2L222.9 1738.0L221.6 1737.5L220.3 1739.1L219.0 1735.4L217.7 1735.5L216.4 1735.9L215.1 1731.8L213.8 1733.8L212.5 1729.3L211.2 1731.2L209.9 1730.8L208.6 1728.7L207.3 1729.3L206.0 1726.9L204.7 1726.4L203.4 1725.0L202.1 1724.4L200.8 1720.4L199.5 1721.8L198.2 1720.1L196.9 1718.3L195.6 1717.1L194.3 1716.6L193.0 1714.3L191.7 1714.3L190.4 1711.0L189.1 1709.1L187.8 1703.7L186.5 1701.5L185.2 1698.5L183.9 1699.7L182.6 1692.9L181.3 1693.6L180.0 1691.2L178.7 1687.1L177.4 1684.6L176.1 1680.7L174.8 1678.4L173.5 1673.4L172.2 1668.5L170.9 1665.6L169.6 1658.8L168.3 1655.9L167.0 1651.0L165.7 1646.6L164.4 1641.2L163.1 1636.7L161.8 1630.7L160.5 1625.4L159.2 1620.5L157.9 1616.5L156.6 1613.0L155.3 1608.0L154.0 1603.8L152.7 1601.5L151.4 1595.2L150.1 1592.8L148.8 1585.6L147.5 1579.4L146.2 1571.5L144.9 1568.9L143.6 1568.7L142.3 1568.2L141.0 1567.9L139.7 1569.0L138.4 1568.8L137.1 1569.8L135.8 1573.6L134.5 1580.8L133.2 1587.0Z" fill="#000" stroke="#000" stroke-width="1.3" stroke-linejoin="miter"/>
<text class="s" transform="translate(160.70 1797.00) scale(1.0147 1)" font-size="20" stroke="#000" stroke-width="0.35">WT</text>
<text class="s" transform="translate(398.97 1757.00) scale(1.0684 1)" font-size="21.5" stroke="#000" stroke-width="0.35">-50mV</text>
<line x1="477.0" y1="1750.3" x2="508.8" y2="1750.3" stroke="#000" stroke-width="2.0"/>
<line x1="514" y1="1750.6" x2="743.5" y2="1750.6" stroke="#000" stroke-width="2.0" stroke-dasharray="15.4 7.6"/>
<path d="M507.5 1749.7L507.8 1746.7L508.2 1743.7L508.5 1740.7L508.8 1738.5L509.2 1736.3L509.5 1734.1L512.9 1734.7L512.4 1736.9L512.0 1739.1L511.5 1741.3L511.0 1744.3L510.6 1747.3L510.1 1750.3Z" fill="#000" stroke="#000" stroke-width="0.5"/>
<path d="M511.0 1734.1L512.3 1727.0L513.6 1721.8L514.9 1717.5L516.2 1714.0L517.5 1708.0L518.8 1708.0L520.1 1708.0L521.4 1709.4L522.7 1708.7L524.0 1709.6L525.3 1708.7L526.6 1708.0L527.9 1708.0L529.2 1708.8L530.5 1708.0L531.8 1708.6L533.1 1709.2L534.4 1708.6L535.7 1710.4L537.0 1708.9L538.3 1709.3L539.6 1710.6L540.9 1712.0L542.2 1713.0L543.5 1713.4L544.8 1712.0L546.1 1710.8L547.4 1713.0L548.7 1713.8L550.0 1712.5L551.3 1715.3L552.6 1712.5L553.9 1714.1L555.2 1716.2L556.5 1717.1L557.8 1716.1L559.1 1716.6L560.4 1718.2L561.7 1715.9L563.0 1717.8L564.3 1717.6L565.6 1721.5L566.9 1720.0L568.2 1720.4L569.5 1721.4L570.8 1722.9L572.1 1719.7L573.4 1722.8L574.7 1720.5L576.0 1724.0L577.3 1721.9L578.6 1723.7L579.9 1725.6L581.2 1726.4L582.5 1725.7L583.8 1726.8L585.1 1724.9L586.4 1726.7L587.7 1726.3L589.0 1724.9L590.3 1726.5L591.6 1728.7L592.9 1729.0L594.2 1729.4L595.5 1727.7L596.8 1727.3L598.1 1727.2L599.4 1728.5L600.7 1728.5L602.0 1728.4L603.3 1728.7L604.6 1725.9L605.9 1728.7L607.2 1726.6L608.5 1725.5L609.8 1727.3L611.1 1724.7L612.4 1725.9L613.7 1722.8L615.0 1725.7L616.3 1727.7L617.6 1726.1L618.9 1728.2L620.2 1730.0L621.5 1729.0L622.8 1728.6L624.1 1728.6L625.4 1731.2L626.7 1730.0L628.0 1730.4L629.3 1730.8L630.6 1732.0L631.9 1732.1L633.2 1729.2L634.5 1731.1L635.8 1730.0L637.1 1729.3L638.4 1733.9L639.7 1732.9L641.0 1733.0L642.3 1731.9L643.6 1731.3L644.9 1730.9L646.2 1735.5L647.5 1735.2L648.8 1733.9L650.1 1734.8L651.4 1734.6L652.7 1731.7L654.0 1731.7L655.3 1736.4L656.6 1732.5L657.9 1732.1L659.2 1732.2L660.5 1733.4L661.8 1735.6L663.1 1733.2L664.4 1733.9L665.7 1734.8L667.0 1735.4L668.3 1736.7L669.6 1736.4L670.9 1732.6L672.2 1736.4L673.5 1733.6L674.8 1735.5L676.1 1734.9L677.4 1735.7L678.7 1733.8L680.0 1735.1L681.3 1734.4L682.6 1735.0L683.9 1734.8L685.2 1733.4L686.5 1734.5L687.8 1734.2L689.1 1735.1L690.4 1735.9L691.7 1737.7L693.0 1737.4L694.3 1735.6L695.6 1733.9L696.9 1738.1L698.2 1734.5L699.5 1737.1L700.8 1738.0L702.1 1737.0L703.4 1737.6L704.7 1735.8L706.0 1734.2L707.3 1737.3L708.6 1735.9L709.9 1734.4L711.2 1736.4L712.5 1737.8L713.8 1738.9L715.1 1738.9L716.4 1735.5L717.7 1737.5L719.0 1737.7L720.3 1734.7L721.6 1734.5L722.9 1737.6L724.2 1738.2L725.5 1738.7L726.8 1739.0L728.1 1736.3L729.4 1736.2L730.7 1738.1L732.0 1738.7L733.3 1735.1L734.6 1735.6L735.9 1735.9L737.2 1738.6L738.5 1738.0L739.8 1739.5L741.1 1737.3L742.4 1738.9L743.0 1750.3L741.7 1751.9L740.4 1748.4L739.1 1747.5L737.8 1747.9L736.5 1749.6L735.2 1749.9L733.9 1750.3L732.6 1747.5L731.3 1750.5L730.0 1749.2L728.7 1747.1L727.4 1749.8L726.1 1748.1L724.8 1747.9L723.5 1749.8L722.2 1748.4L720.9 1748.6L719.6 1747.0L718.3 1747.8L717.0 1748.1L715.7 1749.8L714.4 1748.3L713.1 1747.3L711.8 1750.8L710.5 1746.8L709.2 1748.1L707.9 1749.6L706.6 1750.4L705.3 1750.8L704.0 1750.1L702.7 1747.5L701.4 1750.9L700.1 1747.5L698.8 1750.0L697.5 1750.2L696.2 1747.7L694.9 1747.8L693.6 1749.0L692.3 1749.2L691.0 1747.8L689.7 1749.7L688.4 1747.2L687.1 1749.3L685.8 1746.0L684.5 1749.0L683.2 1747.7L681.9 1746.4L680.6 1745.8L679.3 1748.1L678.0 1747.5L676.7 1745.7L675.4 1745.9L674.1 1746.7L672.8 1746.3L671.5 1746.9L670.2 1745.7L668.9 1748.5L667.6 1745.5L666.3 1745.0L665.0 1744.9L663.7 1747.9L662.4 1745.8L661.1 1746.1L659.8 1746.9L658.5 1747.0L657.2 1747.5L655.9 1747.4L654.6 1747.5L653.3 1748.2L652.0 1748.0L650.7 1747.4L649.4 1746.4L648.1 1744.5L646.8 1746.1L645.5 1745.0L644.2 1743.7L642.9 1743.0L641.6 1743.4L640.3 1744.5L639.0 1742.7L637.7 1742.6L636.4 1745.0L635.1 1742.2L633.8 1745.0L632.5 1743.3L631.2 1742.7L629.9 1741.7L628.6 1743.4L627.3 1741.5L626.0 1739.8L624.7 1740.0L623.4 1741.0L622.1 1742.0L620.8 1740.3L619.5 1740.5L618.2 1741.6L616.9 1738.1L615.6 1736.8L614.3 1739.6L613.0 1737.6L611.7 1739.3L610.4 1739.2L609.1 1736.7L607.8 1739.0L606.5 1737.3L605.2 1741.3L603.9 1738.5L602.6 1741.2L601.3 1738.4L600.0 1737.8L598.7 1738.9L597.4 1740.6L596.1 1741.6L594.8 1739.8L593.5 1737.6L592.2 1737.2L590.9 1739.8L589.6 1739.5L588.3 1737.2L587.0 1736.5L585.7 1736.6L584.4 1739.2L583.1 1735.4L581.8 1737.8L580.5 1735.1L579.2 1733.8L577.9 1735.5L576.6 1734.0L575.3 1734.4L574.0 1734.5L572.7 1734.2L571.4 1733.3L570.1 1733.9L568.8 1731.0L567.5 1730.5L566.2 1733.9L564.9 1731.2L563.6 1730.8L562.3 1730.2L561.0 1727.7L559.7 1727.2L558.4 1731.1L557.1 1726.8L555.8 1725.8L554.5 1726.8L553.2 1726.2L551.9 1724.3L550.6 1725.4L549.3 1726.4L548.0 1727.3L546.7 1723.0L545.4 1724.6L544.1 1722.8L542.8 1721.2L541.5 1720.6L540.2 1723.1L538.9 1722.9L537.6 1719.9L536.3 1720.9L535.0 1718.1L533.7 1718.8L532.4 1721.9L531.1 1720.8L529.8 1717.5L528.5 1718.3L527.2 1718.5L525.9 1718.7L524.6 1721.1L523.3 1720.1L522.0 1719.0L520.7 1719.4L519.4 1720.0L518.1 1720.7L516.8 1725.0L515.5 1726.1L514.2 1728.6L512.9 1731.2L511.6 1737.5Z" fill="#000" stroke="#000" stroke-width="1.3" stroke-linejoin="miter"/>
<text class="s" transform="translate(526.19 1796.00) scale(1.0987 1)" font-size="20" stroke="#000" stroke-width="0.35">Btbd9 KO</text>
<path d="M727.3 1552.7L727.3 1575.8L690.8 1575.8" fill="none" stroke="#000" stroke-width="1.7" stroke-linejoin="miter" stroke-linecap="butt"/>
<text class="s" transform="translate(734.76 1575.80) scale(0.9720 1)" font-size="21.5" stroke="#000" stroke-width="0.35">20pA</text>
<text class="s" transform="translate(687.89 1602.00) scale(1.0539 1)" font-size="21.5" stroke="#000" stroke-width="0.35">50ms</text>
<text stroke="#000" stroke-width="1.1" vector-effect="non-scaling-stroke" class="h" transform="translate(829.81 1541.05) scale(0.2741 0.2589)" font-size="100" font-weight="bold">M</text>
<path d="M915.1 1545.4V1767.7H1064.3M904.9 1546.6H915.1M904.9 1590.9H915.1M904.9 1635.1H915.1M904.9 1679.1H915.1M904.9 1723.4H915.1M904.9 1767.7H915.1" stroke="#000" stroke-width="2.9" fill="none" stroke-linejoin="miter" stroke-linecap="butt"/>
<path d="M957.2 1767.7V1777.6M1020 1767.7V1777.6" stroke="#000" stroke-width="2.8"/>
<text class="s" transform="translate(869.66 1553.10) scale(1.0200 1)" font-size="17.3" font-weight="bold" stroke="#000" stroke-width="0.4">0.25</text>
<text class="s" transform="translate(869.88 1597.40) scale(1.0200 1)" font-size="17.3" font-weight="bold" stroke="#000" stroke-width="0.4">0.20</text>
<text class="s" transform="translate(869.66 1641.60) scale(1.0200 1)" font-size="17.3" font-weight="bold" stroke="#000" stroke-width="0.4">0.15</text>
<text class="s" transform="translate(869.88 1685.60) scale(1.0200 1)" font-size="17.3" font-weight="bold" stroke="#000" stroke-width="0.4">0.10</text>
<text class="s" transform="translate(869.66 1729.90) scale(1.0200 1)" font-size="17.3" font-weight="bold" stroke="#000" stroke-width="0.4">0.05</text>
<text class="s" transform="translate(869.88 1774.20) scale(1.0200 1)" font-size="17.3" font-weight="bold" stroke="#000" stroke-width="0.4">0.00</text>
<text class="s" font-size="18" font-weight="bold" stroke="#000" stroke-width="0.4" transform="translate(861.00 1727.23) rotate(-90) scale(1.0254 1)">Tail current (nA)</text>
<path d="M957.1 1696.6V1628.0M947.4 1628.0H966.8M957.1 1749.0V1758.6M947.4 1758.6H966.8" stroke="#000" stroke-width="3.5" fill="none" stroke-linecap="round"/>
<rect x="938.2" y="1697.5" width="37.8" height="50.6" fill="#8f8f8f" stroke="#000" stroke-width="3.8"/>
<path d="M934.6 1727.1H979.6" stroke="#000" stroke-width="3.5" stroke-linecap="round"/>
<path d="M1020.3 1728.0V1681.4M1010.3 1681.4H1030.2M1020.3 1752.0V1759.6M1010.3 1759.6H1030.2" stroke="#000" stroke-width="3.5" fill="none" stroke-linecap="round"/>
<rect x="1001.7" y="1728.9" width="37.8" height="22.2" fill="#fff" stroke="#000" stroke-width="3.8"/>
<path d="M998.1 1747.1H1043.1" stroke="#000" stroke-width="3.5" stroke-linecap="round"/>
<circle cx="951.4" cy="1594.3" r="4.0" fill="#000"/>
<circle cx="951.4" cy="1601.6" r="4.0" fill="#000"/>
<circle cx="962.9" cy="1599.4" r="4.0" fill="#000"/>
<circle cx="940" cy="1759.4" r="4.0" fill="#000"/>
<circle cx="951.4" cy="1758.8" r="4.0" fill="#000"/>
<circle cx="962.9" cy="1759.4" r="4.0" fill="#000"/>
<circle cx="974.9" cy="1759.4" r="4.0" fill="#000"/>
<rect x="1017.3" y="1674.7" width="6.6" height="6.6" fill="#9a9a9a"/>
<rect x="1017.3" y="1756.7" width="6.6" height="6.6" fill="#9a9a9a"/>
<text class="s" transform="translate(1014.78 1665.66) scale(0.9400 1)" font-size="28.46" font-weight="bold" stroke="#000" stroke-width="0.4">*</text>
<text class="s" transform="translate(944.76 1794.60) scale(0.9373 1)" font-size="17.5" font-weight="bold" stroke="#000" stroke-width="0.4">WT</text>
<text class="s" transform="translate(982.17 1794.60) scale(0.9537 1)" font-size="17.5" font-weight="bold" stroke="#000" stroke-width="0.4">Btbd9 KO</text>
</svg></body></html>
